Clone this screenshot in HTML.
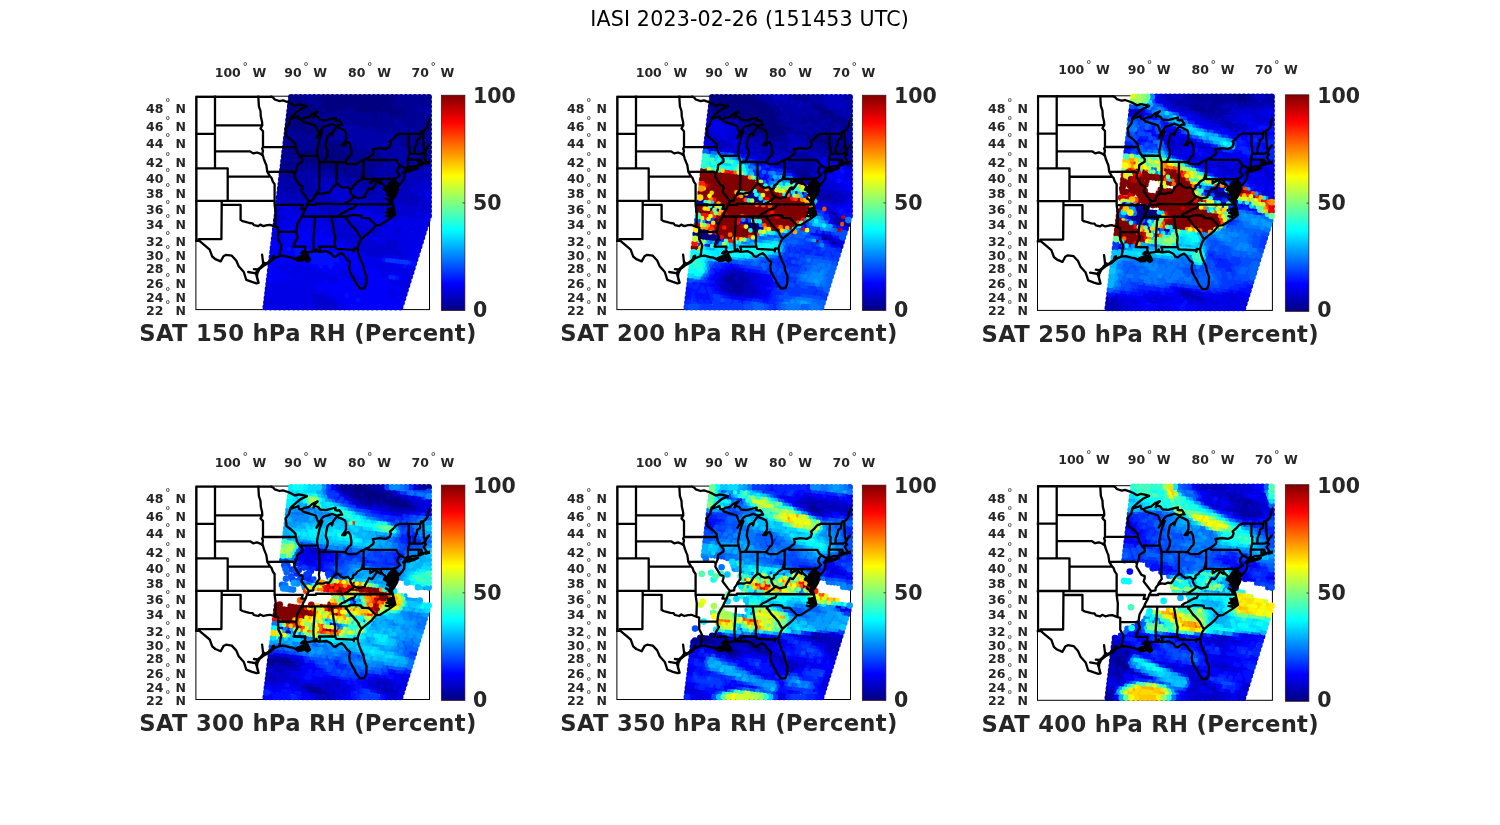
<!DOCTYPE html>
<html><head><meta charset="utf-8"><title>IASI 2023-02-26 (151453 UTC)</title>
<style>html,body{margin:0;padding:0;background:#fff}svg{display:block}text{font-family:"DejaVu Sans","Liberation Sans",sans-serif;fill:#262626}.b{font-weight:bold}.tk{font-size:12.5px;font-weight:bold}.dg{font-size:11px;font-weight:normal}.cb{font-size:20.5px;font-weight:bold}.tt{font-size:22.7px;font-weight:bold}</style></head>
<body>
<svg width="1500" height="825" viewBox="0 0 1500 825">
<defs>
<linearGradient id="jet" x1="0" y1="1" x2="0" y2="0"><stop offset="0.0000" stop-color="#000080"/><stop offset="0.0156" stop-color="#00008f"/><stop offset="0.0312" stop-color="#00009f"/><stop offset="0.0469" stop-color="#0000af"/><stop offset="0.0625" stop-color="#0000bf"/><stop offset="0.0781" stop-color="#0000cf"/><stop offset="0.0938" stop-color="#0000df"/><stop offset="0.1094" stop-color="#0000ef"/><stop offset="0.1250" stop-color="#0000ff"/><stop offset="0.1406" stop-color="#0010ff"/><stop offset="0.1562" stop-color="#0020ff"/><stop offset="0.1719" stop-color="#0030ff"/><stop offset="0.1875" stop-color="#0040ff"/><stop offset="0.2031" stop-color="#0050ff"/><stop offset="0.2188" stop-color="#0060ff"/><stop offset="0.2344" stop-color="#0070ff"/><stop offset="0.2500" stop-color="#0080ff"/><stop offset="0.2656" stop-color="#008fff"/><stop offset="0.2812" stop-color="#009fff"/><stop offset="0.2969" stop-color="#00afff"/><stop offset="0.3125" stop-color="#00bfff"/><stop offset="0.3281" stop-color="#00cfff"/><stop offset="0.3438" stop-color="#00dfff"/><stop offset="0.3594" stop-color="#00efff"/><stop offset="0.3750" stop-color="#00ffff"/><stop offset="0.3906" stop-color="#10ffef"/><stop offset="0.4062" stop-color="#20ffdf"/><stop offset="0.4219" stop-color="#30ffcf"/><stop offset="0.4375" stop-color="#40ffbf"/><stop offset="0.4531" stop-color="#50ffaf"/><stop offset="0.4688" stop-color="#60ff9f"/><stop offset="0.4844" stop-color="#70ff8f"/><stop offset="0.5000" stop-color="#80ff80"/><stop offset="0.5156" stop-color="#8fff70"/><stop offset="0.5312" stop-color="#9fff60"/><stop offset="0.5469" stop-color="#afff50"/><stop offset="0.5625" stop-color="#bfff40"/><stop offset="0.5781" stop-color="#cfff30"/><stop offset="0.5938" stop-color="#dfff20"/><stop offset="0.6094" stop-color="#efff10"/><stop offset="0.6250" stop-color="#ffff00"/><stop offset="0.6406" stop-color="#ffef00"/><stop offset="0.6562" stop-color="#ffdf00"/><stop offset="0.6719" stop-color="#ffcf00"/><stop offset="0.6875" stop-color="#ffbf00"/><stop offset="0.7031" stop-color="#ffaf00"/><stop offset="0.7188" stop-color="#ff9f00"/><stop offset="0.7344" stop-color="#ff8f00"/><stop offset="0.7500" stop-color="#ff8000"/><stop offset="0.7656" stop-color="#ff7000"/><stop offset="0.7812" stop-color="#ff6000"/><stop offset="0.7969" stop-color="#ff5000"/><stop offset="0.8125" stop-color="#ff4000"/><stop offset="0.8281" stop-color="#ff3000"/><stop offset="0.8438" stop-color="#ff2000"/><stop offset="0.8594" stop-color="#ff1000"/><stop offset="0.8750" stop-color="#ff0000"/><stop offset="0.8906" stop-color="#ef0000"/><stop offset="0.9062" stop-color="#df0000"/><stop offset="0.9219" stop-color="#cf0000"/><stop offset="0.9375" stop-color="#bf0000"/><stop offset="0.9531" stop-color="#af0000"/><stop offset="0.9688" stop-color="#9f0000"/><stop offset="0.9844" stop-color="#8f0000"/><stop offset="1.0000" stop-color="#800000"/></linearGradient>
<clipPath id="fc"><rect x="-0.8" y="-0.7" width="234.9" height="214.6"/></clipPath>
<g id="st"><path d="M18.6 -4.8 L18.6 71.6M-6.3 37.1 L18.6 37.1M18.6 28.6 L65.9 28.6M18.6 54.6 L53.7 54.6 L56.8 56.6 L60.6 55.7 L63.8 56.9 L66.6 59.0M-6.3 71.6 L31.3 71.6 L31.3 104.1M31.3 79.9 L73.8 79.9M-6.3 104.1 L78.2 104.1M25.3 104.1 L25.3 108.1 L25.0 142.4M25.3 108.1 L44.2 108.1 L44.2 123.1M24.9 142.4 L2.4 142.4 L3.0 144.1 L-7.6 144.1M44.2 123.1 L46.1 124.3 L49.2 125.1 L53.0 126.2 L56.2 126.5 L57.5 128.3 L61.9 129.3 L63.8 127.8 L66.9 129.3 L70.7 128.4 L73.9 128.1 L79.0 130.1M78.2 104.1 L78.2 108.1 L79.4 116.6 L79.0 130.1 L81.8 130.8 L81.8 134.8M81.8 134.8 L81.8 142.5 L83.3 145.4 L84.9 148.7 L84.0 152.8 L83.7 155.7 L83.0 159.4M81.8 134.8 L99.9 135.0M78.2 108.1 L106.4 108.1 L105.0 112.0 L109.2 112.0M78.2 104.1 L78.2 87.3 L76.4 84.8 L75.1 81.1 L73.8 79.9 L72.3 77.4 L70.9 75.1 L70.4 71.6 L69.9 68.2 L68.8 65.7 L67.2 61.5 L66.6 59.0M70.9 75.1 L96.4 74.9 L98.4 76.8M66.6 50.3 L99.6 50.3M66.6 59.0 L66.0 56.8 L66.6 53.7 L65.7 52.0 L66.6 50.3 L66.6 34.4 L64.1 31.7 L65.9 28.6M65.9 28.6 L65.7 25.3 L64.4 19.8 L64.1 14.2 L62.5 9.5 L62.2 4.8 L61.7 -4.8M74.8 -4.8 L74.8 0.0 L77.0 1.0 L78.3 2.7 L83.3 4.3 L86.5 3.6 L91.5 5.3 L94.7 6.7 L98.5 8.9 L102.3 7.6 L107.3 8.6 L110.5 9.5M110.5 9.5 L104.2 12.4 L99.1 16.6 L94.1 21.2M94.1 21.2 L95.3 21.8 L99.8 20.3 L102.0 19.3 L102.6 22.1 L104.8 22.8M104.8 22.8 L106.6 24.9 L113.0 26.9 L119.3 28.8 L121.2 33.9 L122.5 36.2M122.5 36.2 L120.0 41.1 L124.1 35.3 L126.0 34.5 L123.1 42.4 L121.9 47.7 L120.6 54.6 L121.2 59.0M94.1 21.2 L92.8 27.1 L89.3 31.7 L90.0 37.1 L90.0 39.3 L95.3 43.3 L99.1 47.2 L99.6 50.3 L100.4 54.6 L103.2 58.9M103.2 58.9 L121.2 59.0 L122.9 65.2M103.2 58.9 L106.1 62.3 L106.1 64.9 L100.7 68.2 L100.4 72.4 L98.4 76.8 L97.9 79.9 L102.9 88.1 L106.1 89.3 L106.1 91.3 L105.1 94.6 L110.5 101.7 L112.6 104.3M112.6 104.3 L110.5 108.1 L109.2 112.0 L106.7 116.6 L105.4 119.7 L103.5 122.8 L101.0 127.4 L100.4 131.2 L99.9 135.0 L100.4 138.7 L101.6 140.2 L98.5 145.4 L97.2 149.8 L109.0 149.8 L108.6 152.8 L109.9 155.9M122.9 65.2 L122.9 85.2 L122.5 88.1 L123.1 92.1 L120.0 96.2 L119.5 97.8M119.5 97.8 L117.1 100.9 L116.8 103.6 L112.6 104.3M119.5 97.8 L122.5 96.6 L126.3 97.0 L129.4 95.8 L132.6 96.2 L134.2 94.0 L136.4 90.3 L140.0 87.3M140.0 87.3 L140.2 65.7M122.9 65.2 L127.4 65.2 L140.2 65.2 L148.7 65.5M140.0 87.3 L142.1 87.3 L143.9 89.7 L147.4 91.1 L151.5 90.3 L154.0 92.8M154.0 92.8 L156.6 91.3 L156.6 88.9 L159.4 87.3 L160.7 85.2 L165.1 82.4 L166.7 76.6 L167.2 74.6M167.2 63.3 L167.2 82.2M148.7 65.5 L151.5 67.4 L153.4 67.4 L159.7 67.4 L164.2 64.4 L167.2 63.3 L172.0 60.9 L176.8 57.2 L177.4 55.5 L176.5 52.4 L183.1 51.4 L189.4 52.2 L193.2 50.3 L194.5 46.8 L193.5 45.0 L197.0 41.9 L200.1 38.4 L203.6 37.1 L224.1 37.0M224.1 37.0 L224.8 34.8 L226.8 34.4 L228.5 33.5 L231.1 30.3 L231.7 26.2 L233.6 21.6 L238.7 14.7M226.8 34.4 L227.1 41.5 L227.5 49.7 L228.5 53.7 L229.2 54.0M172.0 60.9 L172.0 63.2 L199.8 63.2 L201.7 66.6 L203.9 68.6M203.9 68.6 L201.4 72.0 L200.8 74.9 L203.6 78.3 L201.4 80.3 L199.5 81.6M203.9 68.6 L209.0 71.6 L208.2 74.1 L206.8 75.8 L208.3 76.2M167.2 82.2 L197.0 82.2 L198.2 81.3 L199.5 81.6M173.7 82.2 L173.7 86.5 L176.8 84.4 L180.6 83.0 L181.8 82.4 L184.2 83.2 L184.9 85.5M158.0 99.8 L162.3 101.7 L168.6 100.1 L168.6 98.6 L172.7 91.3 L175.5 92.5 L177.6 89.7 L180.9 84.8 L184.2 87.0 L184.9 85.5M184.9 85.5 L186.2 87.1 L189.2 89.7 L187.5 92.9 L189.4 93.7 L193.8 96.6M197.0 82.2 L197.0 92.5 L201.7 92.5M158.0 99.8 L155.9 98.6 L154.0 95.0 L154.0 92.8M147.2 107.3 L150.9 105.3 L153.4 103.7 L155.9 101.7 L158.0 99.8M110.5 108.1 L119.6 108.1 L119.6 106.9 L147.2 107.3 L159.9 107.3 L196.5 107.7M143.2 119.7 L143.3 118.2 L145.2 116.6 L148.4 115.3 L150.9 113.8 L154.0 112.0 L157.8 111.0 L159.9 107.3M105.4 119.7 L150.9 119.7M118.7 119.7 L117.0 143.2 L117.4 154.5M135.1 119.7 L137.8 135.9 L138.9 140.2 L138.3 145.4 L138.9 149.8M138.9 149.8 L122.5 149.8 L123.7 152.4 L123.1 155.0M138.9 149.8 L139.8 152.1 L156.6 153.0 L157.5 154.5 L157.8 151.7 L161.3 151.9M165.1 142.1 L162.9 138.7 L161.0 135.0 L157.8 131.2 L154.0 127.4 L150.9 122.8 L149.3 121.6 L150.9 119.7M150.9 119.7 L155.3 118.2 L163.8 118.6 L163.8 119.3 L164.8 119.0 L165.4 121.1 L172.5 121.3 L179.6 128.5M210.6 71.6 L210.1 70.8 L211.6 69.9 L211.5 62.7 L213.0 56.8 L213.1 49.8 L212.1 49.4 L212.4 37.1M218.1 56.9 L218.4 51.1 L220.3 46.8 L220.7 43.3 L223.5 41.5 L224.1 37.0M213.0 56.8 L225.4 57.0 L227.3 55.7 L228.5 55.7M211.5 62.7 L222.2 63.0 L224.9 63.0 L225.2 64.0 L226.0 65.7 L226.5 67.4M222.2 63.0 L222.2 68.9M127.4 65.2 L129.4 62.3 L131.0 58.9 L131.3 54.6 L129.4 49.4 L129.7 45.9 L131.0 39.7 L132.3 37.9 L135.1 36.2 L135.7 38.8 L136.7 34.8 L138.9 31.7 L140.5 30.0 L143.9 31.4 L148.7 33.9 L149.6 37.1 L149.6 42.8 L148.1 45.5 L145.8 48.5 L148.7 48.5 L149.6 46.3 L152.2 45.3 L154.0 48.5 L155.0 54.6 L154.7 58.1 L152.2 60.2 L150.6 62.7 L148.7 65.5M122.5 36.2 L126.3 30.8 L128.2 29.4 L130.7 29.0 L135.7 27.1 L140.5 29.2 L143.3 28.0 L145.8 28.0 L144.6 25.8 L143.0 23.5 L141.4 23.9 L138.9 23.5 L139.2 21.0 L135.7 21.8 L129.4 23.5 L123.7 23.0 L121.9 20.3 L118.7 19.3 L117.1 20.7 L118.1 17.9 L121.2 14.7 L116.2 17.0 L112.4 20.3 L108.0 21.2 L104.8 22.8M236.8 47.2 L233.6 48.5 L232.0 49.4 L230.1 52.0 L229.2 54.0 L228.5 55.7 L228.5 57.2 L229.8 57.6 L227.3 60.2 L229.2 63.2 L230.1 64.9 L231.7 65.5 L233.6 64.9 L233.9 66.0 L231.7 66.3 L229.5 67.0 L229.5 65.3 L226.7 67.4 L224.8 67.8 L224.8 64.9 L224.1 68.5 L221.9 68.9 L215.3 69.5 L210.6 71.6 L209.0 73.3 L208.3 74.9 L212.8 74.7 L218.4 72.9 L221.6 71.2 L217.2 71.9 L210.2 72.7M208.3 76.2 L207.7 82.0 L205.8 84.8 L202.7 88.5 L200.8 86.1 L198.6 84.0 L198.9 82.4 L199.5 81.6M198.6 84.0 L199.5 85.6 L201.4 89.7 L201.7 92.5 L200.5 95.9 L198.2 100.1 L196.0 103.2 L197.0 97.0 L194.5 93.3 L193.8 88.9 L195.1 84.8 L195.7 83.6 L193.2 86.5 L192.6 89.7 L193.2 93.7 L193.8 96.6 L193.8 99.8 L193.8 104.1 L195.7 104.9 L196.5 107.7 L198.9 117.8 L192.6 122.4 L183.7 128.1 L179.6 128.5 L175.5 133.4 L171.1 137.2 L167.3 140.2 L165.1 142.1 L163.5 144.7 L161.6 149.8 L161.3 151.9 L161.6 155.0 L162.6 158.6 L164.8 164.4 L167.0 168.4 L167.9 173.8 L170.1 179.4 L169.8 187.2 L167.9 191.4 L163.5 191.7 L159.7 186.5 L157.8 182.3 L155.9 179.4 L153.4 174.5 L152.8 170.2 L153.7 165.2 L150.9 163.0 L147.7 158.6 L145.2 156.4 L142.7 157.5 L138.9 160.1 L136.7 159.4 L134.5 156.4 L130.1 154.3 L123.7 155.0 L123.1 155.1 L120.6 154.3 L120.0 152.1 L119.3 154.6 L117.4 154.5 L110.5 155.7 L109.9 155.9 L111.1 157.9 L113.6 163.0 L111.1 164.8 L108.0 162.3 L106.1 163.7 L101.6 164.1 L99.1 162.3 L96.0 160.8 L92.8 160.4 L87.1 158.9 L83.0 159.4 L77.7 161.5 L73.9 165.2 L67.6 168.7 L63.1 172.3 L60.9 176.6 L60.6 180.1 L62.2 186.1 L60.0 186.5 L55.6 185.1 L49.9 183.0 L47.4 175.2 L42.3 169.5 L39.8 163.7 L35.4 158.9 L29.7 158.0 L27.1 159.4 L24.3 164.6 L18.9 162.3 L15.8 159.7 L13.3 152.8 L6.3 146.9 L3.0 144.1M0.0 0.0 L0.0 144.1M0.0 0.0 L74.8 0.0M61.9 185.8 L60.3 179.4 L59.3 176.6 L61.2 172.7 L64.4 170.2 L66.6 167.3 L66.6 165.2 L69.4 167.0 L72.6 164.8 L75.1 163.0 L76.4 159.4 L77.7 159.0 L77.7 161.5M66.6 165.2 L65.7 157.9M60.0 176.6 L51.8 175.2M61.2 172.7 L57.5 172.3M191.3 112.0 L194.5 111.6 L197.0 110.8 L197.3 115.1 L195.7 117.0 L192.6 116.2 L190.0 115.9M189.4 119.0 L192.6 119.7 L193.8 118.2M196.5 107.7 L197.3 115.1 L198.9 117.8M195.7 104.9 L193.8 106.5 L191.9 102.9 L189.4 101.7M193.8 99.8 L190.7 97.8M111.1 157.9 L108.6 160.1 L110.5 161.5 L108.0 162.3M104.8 156.4 L106.7 154.6 L108.6 155.7 L106.7 156.8 L104.8 156.4"/><path d="M188.8 92.1 L192.2 86.1 L195.7 83.6 L197.6 84.8 L199.5 88.1 L200.5 92.1 L199.2 96.6 L196.0 102.5 L194.1 103.7 L192.9 102.5 L193.5 99.4 L190.7 96.2 L189.7 93.7ZM99.8 160.8 L104.2 159.0 L108.0 157.5 L110.8 158.3 L113.6 163.0 L111.1 164.8 L108.0 162.3 L106.1 163.7 L101.6 164.1 L99.1 162.3ZM191.3 112.7 L196.4 110.4 L197.9 113.5 L198.6 117.4 L195.7 119.0 L191.9 117.4Z" fill="#000" stroke-width="1"/></g>
</defs>
<rect width="1500" height="825" fill="#fff"/>
<text x="749.5" y="26" text-anchor="middle" font-size="20.6" style="fill:#000" textLength="318.6" lengthAdjust="spacing">IASI 2023-02-26 (151453 UTC)</text>
<g transform="translate(195.9,96.2)">
<rect x="0" y="0" width="233.6" height="213.4" fill="#fff" stroke="#000" stroke-width="1"/>
<g fill="none" stroke-linecap="round" stroke-width="4.7"><path stroke="#000080" d="M173.4 2.5h0M176.8 3h0M179.9 3.3h0M183.4 3.6h0M186.7 4.1h0M189.8 4.4h0M193.1 4.8h0M196.5 5.1h0M145.1 2.7h0M148.5 3.1h0M151.7 3.4h0M155 3.8h0M158.3 4.2h0M161.6 4.5h0M164.9 4.9h0M168.2 5.4h0M171.4 5.7h0M174.7 6h0M178.1 6.3h0M181.3 6.7h0M184.6 7.1h0M187.8 7.6h0M191.1 7.9h0M194.4 8.2h0M126.7 3.9h0M130.2 4.3h0M133.5 4.7h0M136.8 5h0M140 5.5h0M143.3 5.7h0M146.6 6.1h0M149.7 6.6h0M153.1 6.9h0M156.4 7.3h0M159.6 7.7h0M163 8h0M166.1 8.3h0M169.4 8.8h0M172.8 9h0M176 9.5h0M179.4 9.8h0M182.6 10.3h0M185.8 10.6h0M189.1 11h0M192.4 11.4h0M195.7 11.8h0M202.3 12.4h0"/><path stroke="#000094" d="M205 2.8h0M208.2 3.3h0M211.5 3.6h0M214.8 3.9h0M218.1 4.3h0M221.3 4.7h0M224.8 5h0M228 5.4h0M231.3 5.7h0M199.7 5.6h0M202.9 6h0M206.2 6.2h0M209.5 6.6h0M212.9 7h0M216.2 7.4h0M219.3 7.7h0M222.6 8.1h0M225.9 8.4h0M229.3 8.9h0M197.7 8.7h0M200.9 9h0M204.2 9.3h0M207.6 9.8h0M210.9 10h0M214.1 10.6h0M217.4 10.9h0M220.7 11.3h0M227.1 12h0M117 2.8h0M120.3 3.2h0M123.5 3.5h0M198.9 12.2h0M205.5 12.9h0M208.8 13.2h0M212 13.5h0M215.3 14h0M218.7 14.3h0M222 14.8h0"/><path stroke="#0000a8" d="M223.9 11.6h0M230.5 12.4h0M225.3 15h0M228.6 15.4h0"/><path stroke="#000080" d="M98.5 3.9h0M101.8 4.4h0M105.1 4.8h0M108.3 5.1h0M128.2 7.4h0M131.4 7.8h0M134.6 8h0M138 8.4h0M141.2 8.9h0M144.6 9.3h0M147.7 9.7h0M151 10h0M154.4 10.3h0M157.6 10.8h0M160.8 11.1h0M164.2 11.4h0M167.4 11.8h0M170.7 12.2h0M174 12.5h0M177.2 12.9h0M180.6 13.4h0M183.8 13.7h0M187.2 14.1h0M190.4 14.4h0M193.6 14.8h0M197 15.3h0M200.2 15.5h0M203.4 15.9h0M206.7 16.3h0M96.5 7.1h0M99.9 7.5h0M103.2 7.8h0M106.4 8.1h0M109.8 8.5h0M113 9h0M116.2 9.4h0M122.7 10h0M126 10.5h0M129.3 10.9h0M132.7 11.3h0M135.8 11.6h0M139.2 11.9h0M142.4 12.3h0M145.8 12.6h0M149.1 13h0M158.9 14.1h0M162.1 14.6h0M165.4 14.8h0M168.8 15.2h0M172 15.6h0M175.3 16.1h0M178.5 16.4h0M185.1 17.1h0M195 18.2h0M198.2 18.7h0M201.4 19h0M208.1 19.8h0M97.7 10.5h0M101.2 10.9h0M104.3 11.2h0M107.7 11.7h0M110.9 12h0M114.3 12.4h0M117.6 12.9h0M120.8 13.2h0M124.2 13.4h0M130.6 14.2h0M134 14.6h0M137.1 15.1h0M140.4 15.4h0M179.8 20h0M95.9 13.7h0M99.2 13.9h0M102.3 14.5h0M105.6 14.7h0M108.9 15.2h0M112.3 15.5h0M115.5 15.8h0M118.9 16.2h0M122 16.6h0M125.3 16.9h0M128.6 17.3h0M97 17.1h0M100.4 17.5h0M103.6 17.8h0M106.8 18.1h0M110.2 18.6h0M113.4 19h0M116.7 19.4h0M120.1 19.7h0M179.1 26.5h0M228.2 32.1h0M95.1 20.3h0M98.3 20.5h0M101.7 20.8h0M105 21.4h0M108.2 21.7h0M111.5 22.1h0M114.8 22.5h0M118.1 22.9h0M229.6 35.5h0M96.2 23.6h0M99.6 24h0M102.8 24.4h0M106.2 24.8h0M109.5 25.2h0M112.8 25.5h0M115.9 25.9h0M119.2 26.3h0M122.5 26.6h0M94.3 26.7h0M97.6 27.1h0M100.9 27.6h0M104.1 27.8h0M107.5 28.3h0M110.7 28.6h0M114.1 29h0M117.4 29.3h0M123.7 30.1h0"/><path stroke="#000094" d="M111.6 5.4h0M114.9 5.9h0M118.3 6.1h0M121.5 6.7h0M124.9 7h0M210 16.7h0M213.3 17h0M216.6 17.4h0M220 17.8h0M223.1 18.2h0M226.5 18.6h0M229.7 19h0M119.5 9.8h0M152.2 13.5h0M155.6 13.9h0M181.8 16.8h0M188.4 17.5h0M191.7 18h0M204.7 19.4h0M211.4 20.2h0M214.6 20.5h0M217.9 20.9h0M221.2 21.2h0M224.5 21.6h0M227.8 22h0M231 22.4h0M127.4 13.9h0M143.7 15.8h0M147 16.1h0M150.3 16.5h0M153.6 16.9h0M156.9 17.2h0M160 17.7h0M163.5 18h0M166.7 18.4h0M170 18.8h0M173.2 19.2h0M176.4 19.5h0M183.1 20.3h0M186.3 20.6h0M189.6 20.9h0M193 21.3h0M196.2 21.8h0M199.4 22.2h0M202.8 22.5h0M206 22.8h0M209.2 23.2h0M212.6 23.7h0M215.9 24h0M219.1 24.3h0M222.5 24.7h0M225.7 25.2h0M229.1 25.4h0M131.9 17.8h0M135.1 18.1h0M138.4 18.4h0M141.6 18.9h0M145.1 19.3h0M148.2 19.6h0M151.6 20h0M154.9 20.3h0M158.2 20.8h0M161.5 21.1h0M164.6 21.5h0M168 21.8h0M171.3 22.2h0M174.6 22.6h0M177.8 23h0M181.1 23.3h0M184.4 23.8h0M187.6 24.2h0M190.9 24.4h0M194.2 24.9h0M197.5 25.2h0M204.1 25.9h0M207.2 26.3h0M210.5 26.7h0M213.9 27h0M217.1 27.4h0M220.4 27.9h0M223.8 28.2h0M227 28.6h0M230.2 29h0M123.2 20.1h0M126.5 20.4h0M129.9 20.7h0M133.2 21.2h0M136.5 21.5h0M139.7 22h0M143.1 22.3h0M146.2 22.8h0M149.5 23.2h0M152.9 23.4h0M156.1 23.8h0M159.4 24.3h0M162.7 24.6h0M166 25h0M169.2 25.3h0M172.4 25.7h0M175.9 26h0M182.4 26.9h0M185.5 27.2h0M189 27.5h0M192.2 27.9h0M195.4 28.2h0M198.8 28.8h0M211.8 30.2h0M215.2 30.6h0M218.4 30.9h0M221.8 31.3h0M224.9 31.7h0M121.3 23.2h0M124.7 23.5h0M127.8 23.9h0M131.1 24.4h0M134.5 24.6h0M137.6 25h0M140.9 25.4h0M144.2 25.7h0M147.5 26.2h0M150.8 26.5h0M154.1 27h0M157.4 27.3h0M160.6 27.8h0M164 28h0M167.2 28.4h0M170.6 28.7h0M173.7 29.3h0M177 29.4h0M180.3 29.9h0M183.7 30.3h0M186.9 30.6h0M190.2 30.9h0M193.5 31.5h0M196.7 31.7h0M200 32.2h0M203.3 32.6h0M213.1 33.6h0M219.7 34.5h0M223 34.7h0M226.3 35.2h0M125.9 27h0M129.2 27.5h0M132.4 27.8h0M135.6 28.2h0M165.1 31.4h0M168.4 31.9h0M171.7 32.2h0M178.3 33.1h0M181.7 33.3h0M185 33.7h0M188.1 34.1h0M191.5 34.5h0M198 35.3h0M201.2 35.6h0M204.5 35.9h0M207.8 36.3h0M211.1 36.7h0M214.3 37.1h0M217.8 37.5h0M221 37.9h0M224.2 38.2h0M227.5 38.6h0M230.8 38.9h0M120.6 29.7h0M127 30.5h0M130.5 30.8h0M133.6 31.1h0M137 31.6h0M140.2 31.9h0M143.5 32.3h0M199.3 38.6h0M205.8 39.4h0M209.2 39.9h0M212.3 40.3h0M215.7 40.6h0M218.9 41h0M222.1 41.3h0M225.6 41.8h0M228.7 42h0"/><path stroke="#0000a8" d="M200.6 25.6h0M202.1 29h0M205.3 29.4h0M208.6 29.8h0M206.6 32.9h0M209.8 33.3h0M216.4 34.1h0M138.9 28.5h0M142.2 28.9h0M145.5 29.4h0M148.7 29.6h0M152.1 29.9h0M155.4 30.4h0M158.7 30.7h0M162 31.2h0M175.1 32.6h0M194.8 34.9h0M146.8 32.7h0M150.1 33.2h0M153.3 33.5h0M156.7 33.9h0M159.9 34.1h0M163.1 34.7h0M166.6 35h0M169.8 35.4h0M172.9 35.8h0M176.3 36.2h0M179.6 36.4h0M182.8 36.9h0M186.1 37.3h0M189.4 37.7h0M192.7 38h0M196 38.4h0M202.6 39.1h0"/><path stroke="#000080" d="M95.5 30.3h0M98.9 30.6h0M102.1 31h0M105.5 31.4h0M108.7 31.7h0M112 32h0M115.4 32.5h0M118.6 32.8h0M100.2 34h0M106.7 34.7h0M110 35.1h0M113.3 35.6h0M116.5 35.9h0M122.4 43.2h0M123.5 46.7h0M126.9 47.1h0M130.3 47.5h0M133.5 47.8h0M136.8 48.3h0M139.9 48.6h0M143.3 48.9h0M124.9 50.2h0M128.2 50.6h0M131.5 50.9h0M134.6 51.3h0M138 51.7h0M141.3 52.1h0M144.6 52.4h0M116.4 52.6h0M119.5 52.9h0M122.9 53.3h0M126.1 53.5h0M129.4 54h0M132.7 54.3h0M136 54.7h0M139.2 55.1h0M142.6 55.6h0M145.8 55.9h0M149.1 56.2h0M97.9 53.7h0M101.1 54h0M107.8 54.8h0M111.1 55.1h0M114.2 55.6h0M117.6 55.9h0M120.8 56.4h0M124.1 56.8h0M127.4 57.1h0M130.6 57.5h0M134 57.8h0M137.2 58.3h0M140.4 58.7h0M143.9 58.9h0M147.1 59.4h0M150.5 59.7h0"/><path stroke="#000094" d="M121.9 33.3h0M125.2 33.5h0M128.4 33.9h0M131.6 34.4h0M135 34.7h0M138.2 35h0M141.5 35.4h0M200.5 42.2h0M203.7 42.5h0M207.1 42.9h0M210.4 43.2h0M213.6 43.6h0M217 44.1h0M220.2 44.5h0M223.5 44.8h0M226.8 45.1h0M230.1 45.5h0M93.5 33.4h0M96.8 33.7h0M103.5 34.4h0M119.8 36.3h0M123.1 36.7h0M126.3 37.1h0M129.7 37.5h0M132.9 37.9h0M136.1 38.2h0M142.7 38.9h0M146.1 39.4h0M205.1 46h0M208.3 46.4h0M211.6 46.8h0M214.9 47.2h0M218.1 47.6h0M221.5 48h0M224.7 48.3h0M228 48.7h0M231.3 49.1h0M94.9 36.8h0M98.1 37.2h0M101.5 37.5h0M104.7 37.9h0M107.9 38.4h0M111.2 38.6h0M114.5 38.9h0M117.8 39.3h0M121.1 39.8h0M124.4 40.2h0M127.5 40.5h0M130.9 40.9h0M134.1 41.3h0M137.5 41.6h0M206.3 49.5h0M209.7 49.9h0M212.9 50.2h0M216.3 50.6h0M219.4 50.9h0M222.8 51.4h0M226 51.8h0M229.3 52h0M96.1 40.1h0M102.6 41.1h0M106 41.3h0M109.2 41.7h0M112.5 42h0M115.9 42.4h0M119 42.8h0M125.6 43.6h0M128.9 44h0M132.1 44.4h0M135.5 44.8h0M138.8 45h0M142.1 45.4h0M145.3 45.8h0M148.6 46.3h0M187.9 50.7h0M191.2 51.1h0M211 53.4h0M214.2 53.7h0M217.5 54.1h0M220.7 54.5h0M224 54.9h0M227.2 55.1h0M230.6 55.5h0M94.1 43.2h0M97.3 43.7h0M100.6 44h0M104 44.5h0M107.1 44.8h0M110.5 45.3h0M113.9 45.6h0M117 45.9h0M120.3 46.4h0M146.6 49.3h0M149.9 49.6h0M153.1 50h0M156.4 50.4h0M159.6 50.8h0M166.2 51.5h0M179.4 53h0M215.3 57.2h0M218.7 57.4h0M222.1 58h0M225.2 58.3h0M228.6 58.7h0M92.1 46.4h0M95.5 46.7h0M98.7 47.2h0M101.8 47.4h0M105.1 47.8h0M108.4 48.3h0M111.7 48.7h0M115.1 49h0M118.3 49.3h0M121.6 49.8h0M147.8 52.7h0M151 53.1h0M154.4 53.4h0M157.7 53.9h0M160.9 54.3h0M164.2 54.7h0M167.6 55h0M170.9 55.4h0M174.1 55.9h0M177.4 56.2h0M180.7 56.6h0M183.9 56.9h0M193.7 58h0M210.1 59.8h0M223.2 61.4h0M226.6 61.7h0M229.8 62.2h0M93.4 49.8h0M96.7 50.3h0M100 50.5h0M103.2 51h0M106.5 51.3h0M109.8 51.8h0M113 52.2h0M152.5 56.6h0M155.6 57h0M158.9 57.4h0M162.3 57.7h0M165.5 58.2h0M168.8 58.5h0M172 58.8h0M175.3 59.2h0M178.7 59.5h0M181.8 60h0M185.2 60.4h0M227.8 65.2h0M231.1 65.6h0M91.3 53.1h0M94.5 53.3h0M104.4 54.5h0M153.6 60h0M156.8 60.5h0M160.3 60.9h0M163.6 61.2h0M166.8 61.5h0M169.9 62h0M173.3 62.3h0M176.7 62.7h0M179.8 63.1h0M183.1 63.5h0M186.4 63.7h0"/><path stroke="#0000a8" d="M144.8 35.8h0M148.1 36.1h0M151.3 36.6h0M154.5 36.9h0M158 37.2h0M161.2 37.8h0M164.4 38h0M167.7 38.5h0M171 38.8h0M174.3 39.2h0M177.5 39.5h0M180.8 39.9h0M184.2 40.2h0M187.4 40.6h0M190.7 41.1h0M193.9 41.4h0M197.3 41.7h0M139.4 38.6h0M149.3 39.7h0M152.7 40h0M155.8 40.4h0M159.1 40.8h0M162.4 41.2h0M165.7 41.6h0M169 41.9h0M172.2 42.2h0M175.5 42.6h0M178.9 43h0M182.1 43.4h0M185.3 43.8h0M188.7 44.2h0M191.9 44.6h0M195.1 44.9h0M198.5 45.2h0M201.8 45.7h0M140.7 41.9h0M144.1 42.4h0M147.4 42.8h0M150.6 43.1h0M153.9 43.4h0M157.2 43.9h0M160.5 44.3h0M163.7 44.6h0M167.1 45h0M170.3 45.3h0M173.5 45.7h0M176.8 46.2h0M180.1 46.4h0M183.4 46.9h0M186.6 47.2h0M189.9 47.6h0M193.2 48h0M196.5 48.3h0M199.7 48.7h0M203 49.1h0M92.9 39.8h0M99.5 40.7h0M151.9 46.6h0M155.1 47.1h0M158.4 47.4h0M161.7 47.7h0M165 48h0M168.2 48.4h0M171.5 48.9h0M174.8 49.2h0M178.1 49.5h0M181.4 49.9h0M184.7 50.4h0M194.6 51.4h0M197.9 51.7h0M201 52.2h0M204.4 52.6h0M207.7 52.9h0M163 51.2h0M169.6 51.9h0M172.8 52.3h0M176.1 52.6h0M182.6 53.4h0M185.9 53.7h0M189.2 54.1h0M192.6 54.6h0M195.6 54.8h0M199 55.2h0M202.3 55.6h0M205.6 56h0M208.9 56.5h0M212.1 56.8h0M187.1 57.4h0M190.4 57.6h0M197 58.3h0M200.3 58.8h0M203.5 59.1h0M206.9 59.6h0M213.5 60.2h0M216.6 60.6h0M220 61.1h0M188.4 60.8h0M191.8 61h0M195.1 61.4h0M198.2 61.8h0M201.5 62.2h0M204.8 62.6h0M208.1 63h0M211.4 63.2h0M214.6 63.7h0M217.9 64h0M221.2 64.5h0M224.6 64.9h0M189.8 64.2h0M193 64.5h0M196.3 65h0M199.6 65.3h0M202.9 65.8h0M206 66.1h0M209.4 66.5h0M212.7 66.8h0M215.8 67.1h0M219.2 67.6h0M222.4 68h0M225.8 68.4h0M229 68.6h0"/><path stroke="#000080" d="M95.8 56.8h0M99.2 57.3h0M102.4 57.5h0M105.8 57.9h0M109.1 58.3h0M112.2 58.7h0M115.5 59h0M118.9 59.5h0M122.2 59.8h0M125.4 60.1h0M128.7 60.5h0M132 60.9h0M135.2 61.3h0M138.5 61.6h0M141.8 62.1h0M145 62.3h0M148.3 62.9h0M154.9 63.5h0M100.3 60.6h0M103.7 61.1h0M106.9 61.3h0M110.2 61.8h0M113.5 62.2h0M116.8 62.5h0M120.1 62.8h0M123.4 63.3h0M126.6 63.7h0M129.9 64h0M133.2 64.3h0M136.4 64.7h0M139.7 65.2h0M143.1 65.6h0M146.3 65.8h0M149.6 66.2h0M152.9 66.5h0M104.9 64.5h0M111.6 65.2h0M114.8 65.5h0M118.1 66.1h0M121.3 66.3h0M124.6 66.8h0M128 67.1h0M131.1 67.4h0M134.4 67.9h0M137.7 68.3h0M141 68.6h0M144.4 69h0M147.5 69.3h0M150.9 69.7h0M89.9 66.1h0M93.1 66.4h0M96.5 66.9h0M122.6 69.8h0M125.9 70.2h0M129.2 70.6h0M132.4 71h0M135.8 71.3h0M139 71.6h0M142.3 72h0M145.7 72.4h0M148.8 72.7h0M152.2 73.3h0M91 69.5h0"/><path stroke="#000094" d="M92.6 56.3h0M151.7 63.2h0M158.3 64h0M161.4 64.2h0M164.8 64.6h0M168 65.1h0M171.4 65.4h0M174.6 65.7h0M177.9 66.1h0M181 66.5h0M184.4 66.9h0M187.7 67.4h0M90.7 59.5h0M93.9 60h0M97.2 60.2h0M156.1 67h0M159.5 67.3h0M162.8 67.7h0M166 68.2h0M169.2 68.6h0M172.6 68.9h0M175.9 69.2h0M179.2 69.7h0M182.5 70h0M185.7 70.3h0M88.6 62.6h0M91.8 62.9h0M95.1 63.5h0M98.4 63.8h0M101.7 64.1h0M108.2 65h0M154.2 70.1h0M157.5 70.6h0M160.8 70.9h0M163.9 71.2h0M167.3 71.6h0M170.6 71.9h0M173.8 72.3h0M177 72.7h0M99.6 67.3h0M103.1 67.6h0M106.2 68h0M109.5 68.4h0M112.7 68.7h0M116.1 69.2h0M119.4 69.5h0M155.5 73.6h0M158.7 73.9h0M162 74.3h0M165.2 74.7h0M168.6 75h0M171.8 75.5h0M175.1 75.9h0M178.4 76.1h0M94.4 70h0M97.6 70.4h0M101 70.6h0M104.2 71.1h0M107.5 71.4h0M110.8 71.7h0M114 72.1h0M117.3 72.5h0M120.7 72.9h0M123.8 73.3h0M127.1 73.6h0M130.4 74h0M133.7 74.4h0M137.1 74.7h0M140.4 75.2h0M143.6 75.5h0M146.9 76h0M150.2 76.3h0M153.3 76.7h0M156.8 77h0M160 77.5h0M163.2 77.8h0M166.6 78.2h0M169.8 78.5h0M173 78.8h0M176.4 79.2h0M89.1 72.6h0M92.4 73h0M95.7 73.5h0M99 73.7h0M102.2 74.2h0M105.4 74.5h0M108.7 74.9h0M138.3 78.2h0M144.9 79.1h0M148.2 79.4h0M151.3 79.7h0M154.7 80.1h0M158 80.5h0M161.3 80.9h0M164.4 81.2h0M167.9 81.7h0M171.2 82.1h0M174.4 82.4h0M90.3 76h0M93.5 76.5h0M97 76.9h0M100.2 77.2h0M88.4 79.2h0M91.7 79.7h0M94.9 80h0M98.2 80.4h0M101.5 80.7h0M104.7 81.1h0"/><path stroke="#0000a8" d="M191 67.6h0M194.3 68h0M197.5 68.3h0M200.9 68.7h0M204 69.1h0M207.3 69.6h0M210.7 69.8h0M214 70.3h0M223.7 71.3h0M227.1 71.8h0M188.9 70.8h0M192.3 71.1h0M195.5 71.6h0M198.8 71.9h0M202 72.3h0M205.3 72.6h0M208.6 72.9h0M211.9 73.5h0M180.3 73.1h0M183.8 73.4h0M187 73.8h0M190.1 74.3h0M193.6 74.5h0M196.8 75h0M200 75.4h0M181.6 76.5h0M185 77h0M188.2 77.2h0M191.5 77.7h0M194.8 78.1h0M198.1 78.4h0M201.4 78.7h0M179.5 79.7h0M182.8 80h0M186.3 80.4h0M189.5 80.8h0M192.8 81.1h0M196.1 81.5h0M199.3 82h0M202.7 82.3h0M112 75.2h0M115.3 75.6h0M118.6 76h0M121.9 76.4h0M125.2 76.8h0M128.5 77h0M131.7 77.6h0M134.9 77.8h0M141.6 78.6h0M177.7 82.8h0M180.9 83.1h0M184.2 83.4h0M187.5 83.8h0M190.8 84.3h0M194.1 84.6h0M197.4 85h0M103.5 77.6h0M106.7 77.9h0M109.9 78.5h0M113.2 78.7h0M116.6 79.1h0M119.9 79.4h0M123.2 79.8h0M126.5 80.2h0M129.7 80.6h0M133.1 80.9h0M136.3 81.3h0M139.6 81.7h0M142.8 82.2h0M146.1 82.4h0M149.5 82.9h0M152.8 83.3h0M156 83.6h0M159.2 84h0M162.5 84.3h0M165.8 84.8h0M169.1 85.1h0M172.4 85.5h0M175.5 85.9h0M179 86.2h0M182.1 86.5h0M185.4 87h0M188.6 87.3h0M108 81.5h0M111.4 81.9h0M114.6 82.2h0M117.8 82.5h0M144.1 85.6h0M150.6 86.3h0M153.9 86.8h0M157.2 87.1h0M160.5 87.4h0M163.8 87.8h0M167 88.2h0M170.3 88.5h0M173.6 88.9h0M176.8 89.3h0M180.1 89.7h0M183.4 90.1h0"/><path stroke="#0000bd" d="M217.1 70.6h0M220.5 71.1h0M230.3 72.1h0M215.2 73.7h0M218.5 74.1h0M221.8 74.5h0M224.9 74.8h0M228.4 75.3h0M203.3 75.7h0M206.5 76h0M210 76.4h0M213.2 76.8h0M216.4 77.3h0M219.8 77.5h0M222.9 77.9h0M226.3 78.4h0M229.5 78.7h0M204.5 79.2h0M207.9 79.5h0M211.2 79.9h0M214.5 80.3h0M217.7 80.6h0M221 81.1h0M224.2 81.4h0M227.6 81.8h0M230.8 82.1h0M205.9 82.6h0M209.1 83.1h0M212.4 83.5h0M215.7 83.7h0M219 84.1h0M222.2 84.4h0M200.5 85.5h0M203.8 85.7h0M207.1 86.1h0M210.4 86.6h0M213.7 86.8h0M217 87.2h0M220.2 87.5h0M223.4 87.9h0M192 87.6h0M195.3 88.1h0M198.5 88.4h0M201.9 88.7h0M205.1 89.3h0M208.3 89.6h0M211.6 90h0M214.9 90.3h0M121.1 82.9h0M124.5 83.3h0M127.7 83.7h0M131 84.1h0M134.2 84.4h0M137.5 84.7h0M140.9 85.1h0M147.4 86h0M186.7 90.5h0M190 90.7h0M193.3 91.1h0M196.5 91.6h0M199.8 91.8h0M203.1 92.3h0M206.4 92.7h0M209.6 93h0M212.9 93.4h0"/><path stroke="#0000d1" d="M225.5 84.9h0M228.9 85.3h0M226.7 88.3h0M230.1 88.8h0M218.3 90.8h0M221.5 91.1h0M224.8 91.5h0M228 91.9h0M231.4 92.2h0M216.1 93.8h0M219.4 94.3h0M222.8 94.5h0M226 94.8h0M229.4 95.3h0"/><path stroke="#000094" d="M99.5 83.7h0M100.7 87.3h0M103.9 87.7h0"/><path stroke="#0000a8" d="M89.6 82.6h0M92.8 83h0M96.2 83.4h0M102.6 84.2h0M106 84.5h0M109.3 84.9h0M112.6 85.3h0M115.9 85.7h0M161.7 90.9h0M165 91.4h0M168.4 91.7h0M171.5 92h0M174.9 92.4h0M178.2 92.7h0M87.5 85.7h0M90.9 86.2h0M94.2 86.5h0M97.5 86.8h0M107.4 88h0M110.6 88.4h0M113.9 88.7h0M117.1 89.2h0M163 94.4h0M169.6 95.1h0M172.8 95.6h0M176.1 96h0M179.3 96.2h0M182.6 96.6h0M85.7 88.9h0M88.8 89.2h0M92.1 89.5h0M95.4 89.9h0M98.8 90.3h0M102 90.7h0M105.2 91.1h0M108.5 91.4h0M111.8 91.8h0M115.2 92.2h0M118.5 92.6h0M167.6 98.1h0M174.2 98.9h0M86.8 92.3h0M90.2 92.7h0M93.4 93.1h0M96.7 93.5h0M100 93.8h0M103.3 94.2h0M106.5 94.6h0M109.7 95h0M113.1 95.3h0M116.4 95.6h0M84.8 95.5h0M91.3 96.1h0M94.7 96.5h0M98 96.9h0M107.8 98.1h0M111.1 98.4h0M114.3 98.7h0M117.6 99.2h0M121 99.6h0M102.5 100.8h0M118.8 102.5h0M122.2 103.1h0M123.5 106.5h0M129.9 107.2h0"/><path stroke="#0000bd" d="M119.1 86.1h0M122.4 86.3h0M125.7 86.8h0M129 87.1h0M132.3 87.5h0M135.6 88h0M142 88.7h0M145.3 89.1h0M148.6 89.4h0M152 89.8h0M155.2 90.1h0M158.5 90.6h0M181.5 93.1h0M184.7 93.6h0M188.1 94h0M191.2 94.3h0M194.5 94.7h0M197.8 95.1h0M201.1 95.4h0M204.4 95.7h0M207.7 96.1h0M211 96.5h0M214.3 96.9h0M217.5 97.2h0M120.4 89.6h0M123.7 89.8h0M127 90.2h0M153.2 93.1h0M156.4 93.6h0M159.8 93.9h0M166.2 94.8h0M186 96.9h0M189.2 97.4h0M192.6 97.7h0M195.8 98h0M199.1 98.4h0M202.4 98.7h0M205.6 99.2h0M209 99.6h0M212.3 100h0M215.6 100.3h0M218.8 100.6h0M222.1 101.1h0M121.7 93h0M124.9 93.4h0M128.2 93.8h0M154.4 96.8h0M157.6 97h0M161 97.5h0M164.3 97.7h0M170.8 98.6h0M177.4 99.3h0M180.6 99.7h0M183.9 100.2h0M187.3 100.4h0M190.5 100.9h0M193.7 101.1h0M197.1 101.5h0M200.3 101.9h0M203.5 102.4h0M207 102.7h0M210.3 103h0M213.4 103.4h0M216.8 103.8h0M219.9 104.1h0M223.4 104.5h0M119.6 96h0M122.9 96.5h0M126.3 96.9h0M129.4 97.2h0M132.8 97.7h0M162.2 100.9h0M165.5 101.2h0M168.8 101.7h0M172.1 102.1h0M175.5 102.4h0M178.7 102.8h0M182 103.2h0M185.3 103.5h0M188.5 103.8h0M191.8 104.2h0M195.1 104.6h0M198.4 105h0M201.6 105.4h0M204.9 105.7h0M208.2 106.1h0M211.4 106.5h0M214.8 106.8h0M218.1 107.2h0M221.3 107.7h0M227.9 108.3h0M88 95.8h0M101.3 97.3h0M104.6 97.6h0M124.2 99.8h0M127.5 100.2h0M130.7 100.6h0M134 101.1h0M170.1 105h0M173.4 105.5h0M176.7 105.8h0M180 106.2h0M183.2 106.6h0M186.6 106.9h0M189.8 107.4h0M193 107.7h0M196.4 108.1h0M199.5 108.5h0M203 108.9h0M212.8 109.9h0M86.1 98.8h0M89.4 99.3h0M92.6 99.7h0M96 100h0M99.3 100.3h0M105.8 101.1h0M109.1 101.5h0M112.4 101.9h0M115.5 102.2h0M125.4 103.4h0M128.8 103.6h0M132.1 104.1h0M135.3 104.4h0M138.5 104.8h0M184.5 110.2h0M187.8 110.5h0M191 110.8h0M194.3 111.2h0M197.5 111.5h0M87.4 102.4h0M90.6 102.8h0M93.9 103.2h0M97.2 103.4h0M100.6 103.9h0M103.7 104.2h0M107 104.6h0M110.3 104.9h0M113.5 105.4h0M116.9 105.8h0M120.2 106h0M126.6 106.9h0M133.2 107.7h0M136.6 107.9h0M139.9 108.4h0M143.1 108.7h0M195.5 114.6h0M198.8 115.1h0M85.4 105.4h0M88.6 105.9h0M91.9 106.3h0M95.2 106.6h0M98.5 107h0M101.7 107.4h0M105.1 107.6h0M108.4 108h0M111.7 108.4h0M114.9 108.8h0M118.2 109.2h0M121.5 109.6h0M124.8 109.9h0M128 110.2h0M131.2 110.8h0M134.5 111h0M137.7 111.5h0M141.2 111.7h0M144.4 112.1h0"/><path stroke="#0000d1" d="M138.9 88.3h0M220.7 97.7h0M224.1 98.1h0M227.2 98.3h0M130.2 90.7h0M133.4 91.1h0M136.7 91.3h0M140 91.7h0M143.2 92h0M146.7 92.4h0M149.9 92.9h0M225.3 101.6h0M228.7 101.7h0M131.6 94h0M134.8 94.5h0M138.1 94.8h0M141.4 95.3h0M144.6 95.6h0M147.9 96h0M151.2 96.3h0M226.5 104.8h0M230 105.3h0M136 97.9h0M139.4 98.3h0M142.7 98.6h0M145.8 99h0M149.1 99.3h0M152.5 99.7h0M155.6 100.1h0M159 100.5h0M224.6 108.1h0M231.2 108.7h0M137.3 101.4h0M140.6 101.7h0M143.9 102.1h0M147.2 102.4h0M150.4 103h0M153.6 103.3h0M156.9 103.7h0M160.2 104h0M163.5 104.5h0M166.8 104.8h0M206.2 109.2h0M209.5 109.6h0M216 110.3h0M219.2 110.8h0M222.6 111.2h0M225.8 111.6h0M229.2 111.8h0M141.9 105.3h0M145.1 105.6h0M148.4 106h0M151.6 106.4h0M155 106.6h0M158.3 107h0M161.4 107.4h0M164.9 107.9h0M168.1 108.2h0M171.4 108.7h0M174.7 108.9h0M178 109.3h0M181.3 109.6h0M200.9 111.9h0M204.1 112.3h0M207.4 112.6h0M210.7 113.1h0M214 113.5h0M217.2 113.8h0M220.4 114.1h0M223.8 114.5h0M227.2 115h0M230.4 115.3h0M146.4 109.2h0M149.7 109.3h0M153 109.8h0M156.3 110.3h0M159.5 110.5h0M162.7 110.8h0M166.1 111.3h0M169.3 111.7h0M172.6 112.1h0M175.9 112.5h0M179.2 112.8h0M182.4 113.2h0M185.8 113.5h0M189.1 114h0M192.2 114.2h0M202 115.5h0M205.4 115.8h0M208.7 116.2h0M212 116.4h0M215.3 116.9h0M218.5 117.3h0M228.3 118.4h0M147.6 112.6h0M150.9 112.9h0M154.2 113.4h0M157.4 113.6h0M177.2 115.9h0M180.5 116.2h0M183.8 116.7h0M187.1 117.1h0M190.2 117.4h0M193.6 117.7h0M196.8 118.2h0M200.2 118.5h0M203.4 118.8h0M206.6 119.2h0M209.9 119.6h0M213.2 120.1h0M216.4 120.3h0M219.8 120.8h0M223.1 121.1h0M226.3 121.4h0M229.6 122h0"/><path stroke="#0000e6" d="M230.7 98.7h0M221.7 117.8h0M225 117.9h0M160.7 114.1h0M164 114.5h0M167.3 114.8h0M170.5 115.1h0M173.9 115.6h0"/><path stroke="#0000bd" d="M103.1 110.8h0M106.3 111.2h0M122.7 113h0M125.9 113.3h0M129.2 113.7h0M132.6 114.1h0M135.8 114.6h0M139.1 114.8h0M142.3 115.3h0M133.8 117.5h0M137 117.9h0M140.3 118.3h0M138.4 121.5h0M141.6 121.8h0"/><path stroke="#0000d1" d="M86.6 108.9h0M89.9 109.3h0M93.1 109.6h0M96.5 110h0M99.8 110.4h0M109.6 111.6h0M112.8 112h0M116.2 112.3h0M119.5 112.6h0M145.7 115.6h0M149 116h0M152.2 116.5h0M155.4 116.8h0M158.7 117.1h0M191.5 120.9h0M194.9 121.2h0M198.1 121.7h0M201.3 122h0M84.6 112h0M87.8 112.4h0M97.7 113.6h0M101 113.8h0M104.2 114.2h0M107.6 114.6h0M110.8 115h0M114.1 115.4h0M117.3 115.7h0M120.7 116h0M123.9 116.6h0M127.2 116.8h0M130.5 117.1h0M143.6 118.7h0M146.8 119h0M150.3 119.5h0M153.5 119.8h0M156.7 120.3h0M189.5 123.9h0M199.3 125.1h0M105.5 117.7h0M108.9 118.1h0M112 118.5h0M115.3 118.9h0M118.7 119.3h0M122 119.6h0M125.3 119.9h0M128.6 120.3h0M131.8 120.7h0M135.1 121h0M144.9 122.1h0M148.2 122.6h0M151.5 123h0M154.8 123.4h0M158 123.7h0M161.3 124h0M190.8 127.5h0M83.8 118.5h0M129.8 123.9h0M133 124.1h0M136.4 124.5h0M139.6 125h0M143 125.3h0M146.2 125.6h0M149.5 125.9h0M152.8 126.3h0M155.9 126.7h0M159.3 127.1h0M162.5 127.4h0M165.7 128h0M169.1 128.2h0M172.4 128.7h0M185.5 130.1h0M188.9 130.6h0M201.8 132h0M205.2 132.4h0M215.1 133.5h0M81.9 121.7h0M85.2 121.9h0M88.5 122.5h0M127.8 127h0M134.4 127.6h0M137.5 127.9h0M140.8 128.3h0M144.2 128.7h0M147.4 129.1h0M150.7 129.5h0M154 129.9h0M157.2 130.1h0M160.6 130.5h0M163.7 131.1h0M167.2 131.3h0M170.4 131.8h0M173.6 132.1h0M177 132.5h0M180.2 133h0M183.5 133.2h0M199.8 135.2h0M203.3 135.4h0M83.1 125.1h0M138.8 131.6h0M142.1 131.8h0M145.4 132.2h0M148.7 132.5h0M152 132.9h0M155.3 133.3h0M158.5 133.6h0M161.7 134.1h0M165.2 134.4h0M168.3 134.8h0M171.7 135.1h0M175 135.6h0M178.2 136h0M181.5 136.4h0M184.8 136.7h0M140.2 134.9h0M143.4 135.3h0M146.6 135.7h0M150 136h0M153.3 136.3h0M156.5 136.9h0M159.8 137.1h0M163.1 137.6h0M166.3 137.9h0M169.7 138.3h0M176.2 139.1h0M179.4 139.3h0M182.7 139.9h0M186.1 140.2h0M189.3 140.5h0M192.6 141h0M141.4 138.5h0M144.7 138.8h0M147.9 139.2h0M151.3 139.6h0M154.6 140h0M157.8 140.2h0M161 140.6h0M164.3 140.9h0M167.5 141.5h0M190.6 144.1h0M193.8 144.4h0M197.2 144.7h0M200.4 145.1h0"/><path stroke="#0000e6" d="M162 117.5h0M165.3 117.9h0M168.5 118.2h0M171.9 118.6h0M175.1 118.9h0M178.4 119.4h0M181.8 119.8h0M185.1 120.1h0M188.3 120.5h0M204.6 122.4h0M207.9 122.6h0M211.2 123.1h0M214.6 123.5h0M217.9 123.8h0M221.1 124.3h0M224.3 124.5h0M227.6 124.9h0M91.2 112.7h0M94.4 113h0M159.9 120.7h0M163.3 121h0M166.7 121.4h0M169.8 121.8h0M173 122.1h0M176.5 122.4h0M179.7 122.8h0M183 123.2h0M186.3 123.6h0M192.9 124.3h0M196 124.8h0M202.6 125.4h0M205.9 125.7h0M209.1 126.2h0M212.4 126.5h0M215.8 126.9h0M219.1 127.2h0M222.3 127.8h0M225.6 128.1h0M82.6 115.2h0M85.9 115.4h0M89.2 115.9h0M92.4 116.1h0M95.6 116.6h0M98.9 116.9h0M102.3 117.4h0M164.5 124.3h0M167.8 124.7h0M171.1 125.1h0M174.5 125.6h0M177.7 126h0M181.1 126.4h0M184.3 126.7h0M187.5 127h0M194.1 127.7h0M197.3 128.3h0M200.6 128.5h0M203.8 128.9h0M207.3 129.3h0M210.5 129.7h0M213.7 130.1h0M217 130.4h0M220.3 130.8h0M223.6 131.2h0M227 131.5h0M87.2 118.9h0M90.5 119.3h0M93.7 119.8h0M96.9 120.1h0M100.2 120.4h0M103.5 120.8h0M106.8 121.2h0M110.2 121.6h0M113.3 121.9h0M116.6 122.2h0M120 122.6h0M123.2 122.9h0M126.5 123.5h0M175.6 129.1h0M179 129.3h0M182.2 129.8h0M192.1 130.9h0M195.3 131.3h0M198.6 131.7h0M208.4 132.8h0M211.8 133h0M218.3 133.8h0M221.5 134.3h0M224.9 134.6h0M91.6 122.7h0M95 123.2h0M98.2 123.6h0M101.6 124h0M104.9 124.2h0M108.1 124.6h0M111.3 125h0M114.6 125.4h0M118 125.8h0M121.2 126.1h0M124.4 126.5h0M131 127.2h0M186.8 133.7h0M190.1 133.9h0M193.3 134.3h0M196.6 134.7h0M206.5 135.8h0M209.7 136.1h0M213 136.6h0M216.3 137.1h0M219.6 137.3h0M222.9 137.6h0M226.1 138.2h0M86.4 125.5h0M89.6 125.8h0M93 126.3h0M96.3 126.6h0M99.5 126.9h0M102.7 127.3h0M106.1 127.7h0M109.3 128.1h0M112.7 128.4h0M115.8 128.8h0M119.1 129.3h0M122.5 129.7h0M125.8 130h0M129.1 130.3h0M132.4 130.7h0M135.5 131.1h0M188 137.1h0M191.3 137.4h0M194.5 137.9h0M198 138.1h0M201.1 138.6h0M204.3 139h0M207.7 139.3h0M210.9 139.7h0M214.3 140h0M217.6 140.3h0M220.8 140.8h0M224.1 141.2h0M81.1 128.2h0M84.5 128.6h0M87.8 128.9h0M90.9 129.2h0M94.2 129.7h0M97.5 130.1h0M100.8 130.5h0M104.1 130.7h0M107.2 131.2h0M110.6 131.5h0M114 131.9h0M117.1 132.3h0M120.4 132.7h0M123.7 133.1h0M127 133.5h0M130.3 133.8h0M133.6 134.3h0M136.9 134.6h0M173 138.7h0M196 141.2h0M199.1 141.6h0M202.5 142.1h0M205.6 142.4h0M208.9 142.8h0M212.2 143.2h0M215.5 143.5h0M218.8 143.8h0M222.1 144.2h0M82.4 131.6h0M85.6 132.1h0M89 132.4h0M95.4 133.2h0M98.9 133.5h0M102 133.9h0M105.2 134.4h0M108.6 134.7h0M121.7 136.2h0M128.3 136.8h0M131.5 137.3h0M134.8 137.7h0M138 138h0M170.8 141.8h0M174.2 142.2h0M184.1 143.2h0M187.3 143.6h0M203.6 145.5h0M207 145.8h0M210.2 146.2h0M213.6 146.6h0M216.9 146.9h0M220.1 147.4h0"/><path stroke="#0000fa" d="M92.3 132.8h0M111.8 135.1h0M115.1 135.4h0M118.4 135.8h0M125.1 136.5h0M177.5 142.6h0M180.8 142.9h0"/><path stroke="#0000bd" d="M161.7 150.7h0"/><path stroke="#0000d1" d="M142.7 141.8h0M146 142.3h0M149.1 142.6h0M152.5 143h0M155.9 143.3h0M159.1 143.7h0M162.4 144.1h0M165.5 144.4h0M168.9 144.8h0M172.2 145.2h0M175.5 145.6h0M178.7 146.1h0M191.8 147.5h0M195.1 147.8h0M198.4 148.3h0M201.8 148.6h0M150.4 146.2h0M153.7 146.4h0M157 146.9h0M160.4 147.2h0M163.5 147.5h0M166.9 147.9h0M170.2 148.3h0M173.4 148.7h0M176.7 149.1h0M179.9 149.5h0M183.2 149.8h0M186.6 150.2h0M189.7 150.5h0M193.1 151h0M196.3 151.4h0M199.6 151.6h0M158.3 150.3h0M164.8 151.1h0M168.2 151.5h0M171.4 151.9h0M174.8 152.2h0M177.9 152.6h0M181.3 152.9h0M184.6 153.2h0M187.9 153.6h0M191.1 154h0M194.4 154.4h0M197.7 154.8h0M200.9 155h0M204.1 155.5h0M162.8 154.1h0M166 154.6h0M169.4 155h0M172.6 155.2h0M176 155.6h0M179.2 156.1h0M182.6 156.4h0M185.8 156.7h0M189.1 157.1h0M192.4 157.4h0M195.7 157.9h0M199 158.2h0M202.3 158.6h0M205.4 159h0M170.7 158.3h0M173.9 158.6h0M177.3 159h0M180.4 159.4h0M183.8 159.8h0M187.1 160.2h0M206.8 162.5h0"/><path stroke="#0000e6" d="M83.6 135.1h0M86.8 135.6h0M113.2 138.6h0M116.5 138.9h0M119.7 139.2h0M129.5 140.3h0M136 141.1h0M139.4 141.6h0M182.1 146.4h0M185.3 146.8h0M188.5 147.1h0M204.9 148.9h0M208.1 149.2h0M211.6 149.8h0M214.8 150h0M218 150.5h0M221.3 150.9h0M81.6 138.2h0M84.8 138.6h0M88.1 139.1h0M140.6 145h0M143.9 145.2h0M147.2 145.7h0M202.9 152h0M206.2 152.5h0M209.4 152.8h0M212.8 153.1h0M216 153.5h0M219.3 154h0M79.7 141.3h0M82.9 141.7h0M86.1 142h0M89.5 142.4h0M92.7 142.8h0M148.5 149.2h0M151.8 149.6h0M155.1 150h0M207.5 155.9h0M210.7 156.2h0M214 156.6h0M217.2 157h0M90.7 145.9h0M156.2 153.3h0M159.5 153.7h0M208.8 159.3h0M212 159.7h0M215.3 160.2h0M218.7 160.4h0M157.6 156.9h0M160.8 157.3h0M164.2 157.7h0M167.4 158h0M190.3 160.7h0M193.6 160.9h0M196.9 161.4h0M203.5 162h0M210.1 162.9h0M213.2 163.3h0M216.5 163.6h0M165.4 161.1h0M168.7 161.4h0M172 161.8h0M175.2 162.2h0M178.5 162.5h0M181.7 163h0M169.9 164.9h0M173.2 165.3h0M176.5 165.6h0M179.7 166h0M183 166.4h0M186.4 166.8h0M189.7 167.2h0M193 167.6h0M196.2 167.9h0M212.6 169.7h0M215.8 170.1h0M174.5 168.8h0M177.8 169h0M181.1 169.4h0M184.2 169.8h0M187.5 170.3h0M190.8 170.5h0M194.1 170.9h0M197.5 171.4h0M200.7 171.7h0M203.9 172.2h0M207.2 172.5h0M210.6 172.8h0M213.8 173.2h0"/><path stroke="#0000fa" d="M90.2 136h0M93.5 136.3h0M96.7 136.7h0M100.1 136.9h0M103.4 137.4h0M106.5 137.8h0M109.9 138h0M122.9 139.6h0M126.2 140h0M132.8 140.8h0M91.4 139.4h0M94.7 139.7h0M98.1 140.2h0M101.4 140.5h0M104.6 140.9h0M107.9 141.3h0M111.2 141.7h0M114.3 142h0M117.6 142.3h0M121.1 142.8h0M124.3 143.1h0M127.4 143.4h0M130.9 143.8h0M134 144.1h0M137.3 144.6h0M96 143.2h0M99.3 143.5h0M102.5 144h0M105.9 144.2h0M109.1 144.6h0M112.4 145.1h0M115.6 145.3h0M119 145.9h0M122.2 146.1h0M125.5 146.6h0M128.7 146.9h0M132 147.4h0M135.4 147.7h0M138.7 148h0M141.9 148.5h0M145.1 148.7h0M80.8 144.7h0M84.2 145.2h0M87.5 145.6h0M94 146.2h0M97.2 146.6h0M100.5 147h0M103.9 147.3h0M107.1 147.7h0M110.5 148.2h0M113.7 148.5h0M117 148.9h0M120.3 149.3h0M123.6 149.7h0M126.8 150h0M130.1 150.4h0M133.3 150.8h0M136.5 151.1h0M140 151.5h0M143.2 151.9h0M146.4 152.2h0M149.7 152.7h0M153 153.1h0M78.9 147.9h0M82.1 148.3h0M85.5 148.7h0M88.7 149h0M92 149.4h0M95.2 149.8h0M98.5 150.1h0M101.7 150.6h0M105.2 150.9h0M108.4 151.2h0M111.6 151.7h0M115 152h0M118.3 152.4h0M124.8 153.2h0M128 153.5h0M131.3 153.8h0M134.6 154.2h0M137.8 154.6h0M141.1 154.9h0M144.5 155.4h0M147.7 155.7h0M151 156h0M154.3 156.5h0M200.3 161.7h0M80.2 151.3h0M83.3 151.8h0M86.6 152h0M89.9 152.5h0M96.5 153.2h0M116.2 155.4h0M132.6 157.3h0M142.4 158.4h0M145.6 158.8h0M148.9 159.3h0M152.2 159.5h0M155.6 159.9h0M158.8 160.4h0M162.1 160.7h0M185.1 163.3h0M78 154.4h0M81.4 154.9h0M84.7 155.1h0M87.9 155.7h0M91.3 156h0M94.5 156.2h0M97.8 156.6h0M143.7 161.9h0M146.9 162.2h0M150.2 162.7h0M153.5 163.1h0M156.8 163.4h0M160.1 163.9h0M163.5 164.2h0M166.7 164.5h0M199.5 168.2h0M202.8 168.6h0M206 169h0M79.4 157.9h0M82.6 158.2h0M86 158.7h0M89.3 159.1h0M92.5 159.5h0M95.9 159.7h0M99.1 160.1h0M102.3 160.6h0M105.6 160.9h0M145 165.4h0M148.3 165.8h0M151.5 166.1h0M154.8 166.6h0M158.1 166.9h0M161.3 167.3h0M164.6 167.5h0M167.8 168h0M171.2 168.4h0"/><path stroke="#000fff" d="M121.5 152.6h0M93.1 152.8h0M99.9 153.6h0M103 154h0M106.4 154.3h0M109.7 154.8h0M112.9 155.1h0M119.4 155.9h0M122.7 156.1h0M126 156.5h0M129.3 156.9h0M135.9 157.7h0M139.2 158h0M188.4 163.6h0M101.1 157.1h0M104.3 157.4h0M107.7 157.7h0M110.9 158.2h0M114.2 158.6h0M117.5 158.9h0M120.8 159.4h0M124.1 159.6h0M127.2 160h0M130.5 160.4h0M133.9 160.7h0M137 161.3h0M140.4 161.5h0M209.3 169.5h0M108.8 161.3h0M112.1 161.7h0M115.5 162h0M118.6 162.4h0M122.1 162.8h0M125.2 163.2h0M128.6 163.6h0M131.9 163.8h0M135.1 164.2h0M138.3 164.6h0M141.7 165h0"/><path stroke="#0024ff" d="M214.7 166.6h0"/><path stroke="#0038ff" d="M191.5 164.1h0M194.9 164.4h0M198.2 164.7h0M201.5 165.2h0M204.7 165.6h0M208 165.9h0M211.2 166.2h0"/><path stroke="#0000e6" d="M97 163.2h0M175.7 172.2h0M182.3 172.9h0M185.6 173.3h0M188.9 173.8h0M192 174.1h0M195.4 174.5h0M198.8 174.9h0M202 175.2h0M205.3 175.7h0M208.6 175.9h0M211.8 176.2h0M108.2 167.8h0M186.9 176.8h0M190.1 177.2h0M193.3 177.6h0M200 178.2h0M206.5 179.1h0M209.7 179.4h0M86.5 168.6h0M89.8 169.1h0M93.1 169.4h0M96.3 169.7h0M99.7 170.2h0M102.8 170.5h0M106.1 170.8h0M109.5 171.2h0M112.7 171.6h0M116 172h0M119.3 172.5h0M145.5 175.4h0M148.7 175.9h0M152 176.2h0M184.8 179.8h0M188.1 180.4h0M207.9 182.6h0M211.1 182.8h0M81.1 171.4h0M84.4 171.9h0M87.7 172.2h0M91 172.5h0M97.6 173.3h0M100.9 173.6h0M104.1 174h0M107.5 174.4h0M110.7 174.8h0M114 175.1h0M117.2 175.6h0M120.6 175.8h0M123.9 176.2h0M127 176.6h0M130.4 177h0M137 177.8h0M143.6 178.4h0M146.8 178.9h0M149.9 179.2h0M153.2 179.7h0M156.5 180h0M159.8 180.4h0M163 180.7h0M166.5 181h0M169.7 181.5h0M192.6 184.1h0M195.9 184.6h0M199.2 184.9h0M202.4 185.3h0M205.7 185.5h0M209 186h0M85.7 175.2h0M89 175.6h0M92.2 175.9h0M95.6 176.3h0M98.8 176.8h0M102.1 177.1h0M105.3 177.4h0M108.7 177.9h0M112 178.3h0M115.2 178.6h0M118.6 178.9h0M121.8 179.4h0M125 179.7h0M128.4 180h0M131.6 180.4h0M134.9 180.8h0M138.2 181.1h0M141.5 181.6h0M148.1 182.4h0M151.3 182.6h0M154.5 183.1h0M157.8 183.5h0M161 183.9h0M164.5 184.2h0M167.6 184.6h0M193.9 187.5h0M197.2 188h0M200.4 188.3h0M203.7 188.6h0M207 189h0M210.4 189.5h0M83.7 178.3h0M93.4 179.5h0M96.9 179.8h0M100 180.2h0M103.4 180.5h0M106.6 180.9h0M109.9 181.4h0M113.3 181.7h0M116.4 182h0M119.8 182.4h0M123.1 182.8h0M126.2 183.2h0M129.5 183.5h0M132.9 183.9h0M136.3 184.3h0M139.4 184.7h0M142.8 185h0M162.3 187.3h0M165.6 187.6h0M169 188.1h0M172.2 188.3h0M192 190.7h0M205.1 192.2h0M208.3 192.4h0M88.3 182.3h0M94.8 182.9h0M98 183.4h0M101.4 183.6h0M104.7 184h0M107.9 184.4h0M111.1 184.8h0M114.5 185.2h0M117.7 185.4h0M121.1 185.9h0M124.3 186.3h0M134.1 187.3h0M193.2 194.1h0M196.5 194.5h0M199.8 194.9h0M206.2 195.6h0M79.7 184.6h0M86.2 185.2h0M89.4 185.7h0M92.8 186h0M96.1 186.4h0M99.3 186.7h0M102.6 187.1h0M105.8 187.4h0M109.1 187.9h0M112.6 188.2h0M115.7 188.7h0M119.1 189.1h0M191.1 197.2h0M194.4 197.6h0M197.7 197.9h0M201.1 198.3h0M207.5 199.1h0"/><path stroke="#0000fa" d="M77.4 161.1h0M80.7 161.4h0M83.8 161.8h0M87.2 162.1h0M90.4 162.4h0M93.8 162.9h0M100.3 163.6h0M103.7 164h0M106.9 164.4h0M110.1 164.8h0M113.4 165.1h0M139.7 168.1h0M142.9 168.5h0M146.3 168.9h0M149.5 169.2h0M152.9 169.6h0M156 170h0M159.3 170.3h0M162.7 170.8h0M165.9 171.1h0M169.1 171.5h0M172.4 171.8h0M179.1 172.6h0M78.6 164.6h0M81.9 164.9h0M85.2 165.2h0M88.5 165.7h0M91.8 165.9h0M95 166.4h0M98.4 166.7h0M101.6 167h0M104.8 167.5h0M111.5 168.3h0M114.8 168.6h0M118 168.9h0M121.3 169.3h0M127.9 170.1h0M131.2 170.4h0M137.7 171.2h0M140.9 171.6h0M144.3 172h0M147.5 172.3h0M150.8 172.6h0M154.1 173h0M157.4 173.4h0M160.5 173.8h0M164 174.3h0M167.1 174.6h0M170.4 174.9h0M173.7 175.3h0M177 175.6h0M180.2 175.9h0M183.5 176.5h0M196.6 178h0M203.3 178.6h0M76.6 167.5h0M80 167.9h0M83.3 168.3h0M122.6 172.8h0M125.8 173.2h0M129.2 173.6h0M132.4 174h0M135.6 174.2h0M138.9 174.6h0M142.3 175h0M155.2 176.5h0M158.5 176.9h0M161.9 177.2h0M165.2 177.7h0M168.5 178h0M171.8 178.5h0M175.1 178.8h0M178.2 179h0M181.6 179.5h0M191.5 180.7h0M204.5 182.2h0M77.8 171h0M94.3 172.9h0M133.7 177.3h0M140.3 178.2h0M172.9 181.8h0M176.3 182.3h0M179.6 182.6h0M182.7 183h0M186 183.4h0M189.4 183.8h0M75.9 174h0M79.2 174.5h0M82.5 174.9h0M144.8 181.9h0M171 184.9h0M174.2 185.3h0M177.5 185.8h0M180.8 186.1h0M184.1 186.5h0M187.5 186.8h0M190.6 187.1h0M77.2 177.6h0M80.5 177.9h0M86.9 178.7h0M90.3 179.1h0M146 185.4h0M149.4 185.7h0M152.5 186.2h0M155.8 186.6h0M159.1 186.8h0M175.5 188.8h0M178.7 189.1h0M182 189.6h0M185.3 189.9h0M188.6 190.3h0M195.3 191h0M198.4 191.4h0M201.7 191.8h0M75.1 180.6h0M78.5 181h0M81.6 181.4h0M85 181.7h0M91.6 182.5h0M127.6 186.6h0M130.8 187.1h0M137.5 187.8h0M140.8 188h0M143.9 188.6h0M147.3 188.8h0M150.6 189.3h0M153.8 189.7h0M157.1 190h0M160.3 190.3h0M163.7 190.8h0M167 191.1h0M170.1 191.5h0M173.4 192h0M176.7 192.2h0M180.1 192.7h0M183.3 193.1h0M186.6 193.3h0M189.9 193.8h0M203 195.2h0M76.4 184.2h0M83 184.9h0M122.3 189.4h0M125.5 189.8h0M128.8 190.2h0M132.2 190.6h0M135.5 190.9h0M138.7 191.3h0M142 191.5h0M145.3 192h0M148.5 192.4h0M151.9 192.7h0M155.1 193h0M158.4 193.5h0M161.6 193.8h0M164.9 194.3h0M168.2 194.7h0M171.5 194.9h0M174.7 195.3h0M178 195.8h0M181.2 196.1h0M184.7 196.5h0M187.9 196.9h0M204.3 198.8h0"/><path stroke="#000fff" d="M116.8 165.6h0M120.1 165.9h0M123.2 166.2h0M126.6 166.6h0M129.9 166.9h0M133 167.4h0M136.3 167.8h0M124.6 169.6h0M134.4 170.8h0M201.2 181.7h0"/><path stroke="#0024ff" d="M194.7 180.9h0M197.9 181.3h0"/><path stroke="#0000d1" d="M116.2 198.7h0M119.6 199.1h0M122.8 199.4h0M126.2 199.8h0M129.4 200.1h0M117.5 202h0M120.8 202.5h0M124.2 202.9h0M127.3 203.2h0M130.7 203.5h0M134 204h0M137.3 204.3h0M118.8 205.6h0M122.1 205.9h0M125.4 206.3h0M128.7 206.7h0M131.8 207.1h0M135.3 207.5h0M138.5 207.8h0M116.8 208.7h0M120 209h0M123.4 209.3h0M75.4 207.4h0"/><path stroke="#0000e6" d="M74.3 187.2h0M77.6 187.7h0M81 188h0M84.3 188.4h0M87.5 188.7h0M90.8 189.1h0M94.1 189.5h0M97.3 189.9h0M100.6 190.3h0M103.9 190.6h0M107.1 191h0M110.5 191.4h0M113.8 191.7h0M117 192h0M120.2 192.5h0M195.7 201h0M198.9 201.5h0M205.6 202.1h0M75.7 190.6h0M78.9 191.1h0M82.2 191.4h0M85.6 191.8h0M88.7 192.1h0M92 192.6h0M95.4 193h0M98.5 193.4h0M101.9 193.6h0M105.2 194.1h0M108.5 194.5h0M111.7 194.9h0M115 195.1h0M118.2 195.5h0M121.6 195.9h0M124.8 196.2h0M128.1 196.6h0M131.3 197h0M203.5 205.4h0M73.6 193.9h0M77 194.2h0M80.3 194.6h0M83.5 194.9h0M86.8 195.4h0M90 195.6h0M93.3 195.9h0M96.6 196.5h0M99.8 196.8h0M103.1 197.2h0M106.4 197.5h0M109.7 197.8h0M112.9 198.4h0M132.6 200.5h0M136 201h0M139.1 201.2h0M74.9 197.3h0M78.2 197.7h0M81.5 198h0M84.6 198.4h0M88.1 198.7h0M91.3 199.2h0M94.6 199.5h0M97.9 199.9h0M101.2 200.2h0M104.5 200.5h0M107.7 201h0M111 201.4h0M114.3 201.7h0M140.6 204.7h0M143.8 205.1h0M72.9 200.3h0M76.2 200.7h0M79.4 201.2h0M82.6 201.4h0M86.1 201.9h0M89.4 202.2h0M92.5 202.5h0M95.9 202.9h0M99.1 203.4h0M102.4 203.6h0M105.8 204h0M108.9 204.4h0M112.3 204.9h0M115.6 205.2h0M141.7 208.1h0M145 208.5h0M148.2 209h0M74.1 203.8h0M77.4 204.2h0M80.7 204.5h0M84.1 204.8h0M87.2 205.3h0M90.6 205.7h0M93.9 206.1h0M97.2 206.4h0M100.5 206.7h0M103.8 207.2h0M107 207.5h0M110.2 207.9h0M113.4 208.3h0M72.1 207h0M78.6 207.6h0M81.9 208h0M85.2 208.5h0M88.5 208.7h0M91.9 209.1h0M95.1 209.5h0"/><path stroke="#0000fa" d="M123.5 192.8h0M126.8 193.2h0M130.1 193.6h0M133.4 193.9h0M136.6 194.4h0M139.9 194.8h0M143.2 195.1h0M146.4 195.4h0M149.8 195.8h0M153.2 196.2h0M156.4 196.5h0M159.6 196.9h0M162.9 197.3h0M166.2 197.6h0M169.5 198h0M172.8 198.4h0M176 198.7h0M179.4 199.1h0M182.7 199.5h0M185.8 200h0M189.2 200.3h0M192.5 200.7h0M202.3 201.8h0M134.6 197.5h0M137.9 197.8h0M141.2 198.1h0M144.5 198.6h0M147.7 198.9h0M154.3 199.7h0M157.6 200.1h0M160.9 200.4h0M164.2 200.8h0M167.4 201.1h0M170.8 201.5h0M174 201.9h0M177.3 202.2h0M180.6 202.7h0M183.8 203.1h0M187.1 203.5h0M190.3 203.8h0M193.8 204.1h0M197 204.5h0M200.2 204.8h0M142.5 201.6h0M145.8 202.1h0M149 202.4h0M152.3 202.8h0M155.6 203.1h0M158.9 203.5h0M165.5 204.2h0M168.8 204.7h0M172 205h0M175.3 205.4h0M178.6 205.7h0M181.7 206.2h0M185.1 206.6h0M188.5 206.8h0M191.8 207.3h0M194.9 207.7h0M198.3 208h0M201.5 208.3h0M147 205.5h0M150.3 205.8h0M153.6 206.1h0M156.8 206.5h0M160.1 207h0M163.4 207.4h0M166.8 207.7h0M170.1 208.2h0M173.2 208.4h0M176.6 208.8h0M179.9 209.1h0M151.6 209.3h0"/><path stroke="#000fff" d="M151 199.3h0M162.1 203.9h0"/></g><g fill="none" stroke-linecap="round" stroke-width="6.6"><path stroke="#000080" d="M95.4 1.1h0M100 1.1h0M122.9 1.1h0M127.5 1.1h0M132 1.1h0M136.6 1.1h0M141.2 1.1h0M145.8 1.1h0M150.4 1.1h0M154.9 1.1h0M159.5 1.1h0M164.1 1.1h0M168.7 1.1h0M173.3 1.1h0M177.8 1.1h0M182.4 1.1h0M187 1.1h0M191.6 1.1h0M196.2 1.1h0M232.8 1.1h0M232.8 33h0M92.6 23.9h0M93.2 19.3h0M93.7 14.8h0M94.3 10.2h0M94.8 5.7h0"/><path stroke="#000094" d="M104.6 1.1h0M109.1 1.1h0M113.7 1.1h0M118.3 1.1h0M200.7 1.1h0M205.3 1.1h0M209.9 1.1h0M214.5 1.1h0M219.1 1.1h0M223.6 1.1h0M228.2 1.1h0M232.8 5.7h0M232.8 10.2h0M232.8 19.3h0M232.8 23.9h0M232.8 28.4h0M232.8 37.5h0M232.8 42.1h0M232.8 46.6h0M232.8 51.2h0M232.8 55.7h0M232.8 60.3h0M232.8 64.9h0M86.5 74.1h0M87.1 69.5h0M87.6 65h0M88.2 60.4h0M88.7 55.8h0M89.3 51.3h0M89.9 46.7h0M90.4 42.1h0M91.5 33h0M92.1 28.5h0"/><path stroke="#0000a8" d="M232.8 14.8h0M232.8 69.4h0M84.3 92.3h0M84.9 87.8h0M85.4 83.2h0M86 78.6h0M91 37.6h0"/><path stroke="#0000bd" d="M232.8 74h0M232.8 78.5h0M232.8 83.1h0M83.2 101.4h0M83.8 96.9h0"/><path stroke="#0000d1" d="M232.8 87.6h0M232.8 92.2h0M232.8 105.8h0M232.8 110.4h0M232.8 114.9h0M139.4 210.9h0M134.8 210.9h0M130.1 210.9h0M125.5 210.9h0M120.9 210.9h0M70.5 206.3h0M80.4 124.2h0M81 119.7h0M81.5 115.1h0M82.1 110.6h0M82.7 106h0"/><path stroke="#0000e6" d="M232.8 96.7h0M232.8 101.3h0M232.8 119.5h0M231.4 123.9h0M230.1 128.2h0M228.7 132.6h0M227.4 136.9h0M226 141.3h0M224.7 145.6h0M223.3 150h0M219.2 163h0M216.5 171.7h0M215.2 176.1h0M213.8 180.4h0M212.4 184.8h0M211.1 189.1h0M209.7 193.5h0M208.4 197.8h0M207 202.2h0M148.7 210.9h0M144.1 210.9h0M116.2 210.9h0M111.6 210.9h0M107 210.9h0M102.3 210.9h0M97.7 210.9h0M93.1 210.9h0M88.4 210.9h0M83.8 210.9h0M79.2 210.9h0M74.5 210.9h0M69.9 210.9h0M71 201.8h0M71.6 197.2h0M72.1 192.7h0M72.7 188.1h0M78.2 142.5h0M78.8 137.9h0M79.3 133.4h0M79.9 128.8h0"/><path stroke="#0000fa" d="M221.9 154.3h0M220.6 158.7h0M205.7 206.5h0M204.3 210.9h0M199.7 210.9h0M195 210.9h0M190.4 210.9h0M185.8 210.9h0M181.1 210.9h0M176.5 210.9h0M171.9 210.9h0M167.2 210.9h0M162.6 210.9h0M158 210.9h0M153.3 210.9h0M73.2 183.5h0M73.8 179h0M74.3 174.4h0M74.9 169.9h0M75.4 165.3h0M76 160.7h0M76.6 156.2h0M77.1 151.6h0M77.7 147h0"/><path stroke="#000fff" d="M217.9 167.4h0"/></g>
<g clip-path="url(#fc)"><use href="#st" transform="translate(0.5,0.6)" fill="none" stroke="#000" stroke-width="2.3" stroke-linejoin="round" stroke-linecap="round"/></g>
</g>
<rect x="441.3" y="95.2" width="23.6" height="215.4" fill="url(#jet)" stroke="#3a1010" stroke-width="0.7"/>
<path d="M464.9 202.9h-2.4" stroke="#262626" stroke-width="0.8"/>
<text class="cb" x="473.0" y="103.0">100</text><text class="cb" x="473.0" y="210.0">50</text><text class="cb" x="473.0" y="317.0">0</text>
<text class="tk" x="146.0" y="112.7">48<tspan class="dg" dx="1.6" dy="-6.9">°</tspan><tspan dx="4.9" dy="6.9">N</tspan></text><text class="tk" x="146.0" y="130.7">46<tspan class="dg" dx="1.6" dy="-6.9">°</tspan><tspan dx="4.9" dy="6.9">N</tspan></text><text class="tk" x="146.0" y="147.8">44<tspan class="dg" dx="1.6" dy="-6.9">°</tspan><tspan dx="4.9" dy="6.9">N</tspan></text><text class="tk" x="146.0" y="166.8">42<tspan class="dg" dx="1.6" dy="-6.9">°</tspan><tspan dx="4.9" dy="6.9">N</tspan></text><text class="tk" x="146.0" y="182.5">40<tspan class="dg" dx="1.6" dy="-6.9">°</tspan><tspan dx="4.9" dy="6.9">N</tspan></text><text class="tk" x="146.0" y="197.6">38<tspan class="dg" dx="1.6" dy="-6.9">°</tspan><tspan dx="4.9" dy="6.9">N</tspan></text><text class="tk" x="146.0" y="214.4">36<tspan class="dg" dx="1.6" dy="-6.9">°</tspan><tspan dx="4.9" dy="6.9">N</tspan></text><text class="tk" x="146.0" y="228.9">34<tspan class="dg" dx="1.6" dy="-6.9">°</tspan><tspan dx="4.9" dy="6.9">N</tspan></text><text class="tk" x="146.0" y="245.6">32<tspan class="dg" dx="1.6" dy="-6.9">°</tspan><tspan dx="4.9" dy="6.9">N</tspan></text><text class="tk" x="146.0" y="259.7">30<tspan class="dg" dx="1.6" dy="-6.9">°</tspan><tspan dx="4.9" dy="6.9">N</tspan></text><text class="tk" x="146.0" y="272.8">28<tspan class="dg" dx="1.6" dy="-6.9">°</tspan><tspan dx="4.9" dy="6.9">N</tspan></text><text class="tk" x="146.0" y="287.8">26<tspan class="dg" dx="1.6" dy="-6.9">°</tspan><tspan dx="4.9" dy="6.9">N</tspan></text><text class="tk" x="146.0" y="302.0">24<tspan class="dg" dx="1.6" dy="-6.9">°</tspan><tspan dx="4.9" dy="6.9">N</tspan></text><text class="tk" x="146.0" y="314.9">22<tspan class="dg" dx="1.6" dy="-6.9">°</tspan><tspan dx="4.9" dy="6.9">N</tspan></text>
<text class="tk" x="240.5" y="76.9" text-anchor="middle">100<tspan class="dg" dx="1.6" dy="-6.9">°</tspan><tspan dx="4.6" dy="6.9">W</tspan></text><text class="tk" x="305.7" y="76.9" text-anchor="middle">90<tspan class="dg" dx="1.6" dy="-6.9">°</tspan><tspan dx="4.6" dy="6.9">W</tspan></text><text class="tk" x="369.5" y="76.9" text-anchor="middle">80<tspan class="dg" dx="1.6" dy="-6.9">°</tspan><tspan dx="4.6" dy="6.9">W</tspan></text><text class="tk" x="432.9" y="76.9" text-anchor="middle">70<tspan class="dg" dx="1.6" dy="-6.9">°</tspan><tspan dx="4.6" dy="6.9">W</tspan></text>
<text class="tt" x="139.3" y="341.3" textLength="337" lengthAdjust="spacing">SAT 150 hPa RH (Percent)</text>
<g transform="translate(616.9,96.2)">
<rect x="0" y="0" width="233.6" height="213.4" fill="#fff" stroke="#000" stroke-width="1"/>
<g fill="none" stroke-linecap="round" stroke-width="4.7"><path stroke="#000080" d="M117 2.8h0M120.2 3.1h0M123.6 3.5h0M126.9 3.8h0M130.1 4.2h0M133.3 4.6h0M136.7 5.1h0M139.9 5.3h0M143.3 5.8h0M198.9 12.2h0M202.2 12.5h0M205.5 12.9h0"/><path stroke="#000094" d="M186.5 4.1h0M189.9 4.5h0M196.5 5.3h0M194.4 8.3h0M197.8 8.7h0M200.9 8.9h0M204.2 9.3h0M146.6 6.2h0M189.1 11h0M195.6 11.7h0M208.7 13.2h0"/><path stroke="#0000a8" d="M224.7 5.1h0M231.2 5.8h0M176.7 3h0M180.1 3.3h0M183.3 3.7h0M193.1 4.8h0M199.7 5.5h0M202.9 5.8h0M206.2 6.3h0M145.3 2.6h0M148.5 3h0M151.9 3.5h0M155.1 3.8h0M158.3 4.2h0M161.6 4.6h0M164.9 5h0M171.4 5.5h0M178.1 6.5h0M181.2 6.7h0M187.9 7.5h0M207.5 9.8h0M210.9 10.1h0M230.5 12.4h0M149.8 6.5h0M153.1 6.8h0M156.3 7.3h0M163 7.9h0M166.1 8.4h0M169.4 8.7h0M172.7 9.2h0M176 9.5h0M179.2 9.8h0M185.9 10.6h0M192.3 11.3h0M212 13.6h0M215.3 13.9h0M218.6 14.4h0M221.8 14.7h0M225.2 15h0"/><path stroke="#0000bd" d="M205 2.7h0M208.3 3.3h0M211.5 3.5h0M214.9 4h0M218.1 4.3h0M221.3 4.7h0M227.9 5.4h0M173.5 2.5h0M209.6 6.6h0M212.9 7h0M216.1 7.4h0M219.4 7.9h0M226 8.6h0M229.1 9h0M168.1 5.2h0M174.8 5.9h0M184.6 7.2h0M191.2 8h0M214.1 10.4h0M217.4 10.8h0M220.7 11.3h0M223.9 11.7h0M227.2 12.1h0M159.6 7.7h0M182.6 10.3h0M228.5 15.5h0"/><path stroke="#0000d1" d="M222.7 8.2h0"/><path stroke="#000080" d="M98.5 3.9h0M101.9 4.4h0M105.2 4.6h0M108.4 5h0M111.7 5.4h0M114.9 5.9h0M118.3 6.1h0M121.5 6.7h0M124.8 6.9h0M128 7.3h0M131.3 7.7h0M134.6 8.2h0M137.9 8.4h0M141.1 8.9h0M144.4 9.2h0M147.8 9.5h0M151.1 10h0M206.8 16.2h0M210 16.6h0M213.3 17h0M96.5 7.1h0M99.9 7.4h0M103.1 7.8h0M106.5 8.3h0M109.7 8.6h0M113 8.9h0M116.2 9.4h0M119.6 9.6h0M122.8 10.1h0M126.1 10.5h0M129.3 10.8h0M132.7 11.3h0M136 11.6h0M139.1 11.9h0M142.4 12.3h0M145.7 12.6h0M149 13.1h0M152.2 13.5h0M155.7 13.8h0M162 14.6h0M214.5 20.5h0M97.9 10.5h0M101.2 10.9h0M104.5 11.3h0M107.7 11.6h0M110.9 12.1h0M114.3 12.5h0M117.5 12.8h0M120.8 13.2h0M124.2 13.5h0M127.2 13.9h0M130.6 14.3h0M134 14.7h0M137.3 15h0M140.4 15.5h0M143.7 15.7h0M147 16.1h0M150.2 16.5h0M153.5 16.8h0M156.9 17.3h0M163.4 18h0M215.8 24h0M219.2 24.3h0M99.1 13.9h0M102.4 14.5h0M105.6 14.7h0M109 15.2h0M112.2 15.4h0M115.5 15.8h0M118.8 16.3h0M122.1 16.5h0M125.3 17h0M128.7 17.3h0M131.9 17.8h0M135.1 18h0M138.4 18.4h0M141.8 18.9h0M145 19.3h0M148.2 19.6h0M151.6 20h0M154.9 20.4h0M158 20.7h0M197.4 25.2h0M106.9 18.2h0M110.3 18.7h0M113.5 18.9h0M116.7 19.4h0M120.1 19.7h0M123.3 20.2h0M126.6 20.4h0M129.9 20.8h0M133.3 21.2h0M136.5 21.6h0M139.7 22h0M143 22.3h0M146.2 22.6h0M149.5 23.1h0M152.7 23.5h0M156.1 23.8h0M159.3 24.2h0M114.7 22.5h0M124.7 23.5h0M127.8 23.9h0M131.2 24.2h0M134.4 24.7h0M137.8 25.1h0M141 25.4h0M144.2 25.7h0M147.6 26.2h0M150.9 26.6h0M154.2 27h0M157.4 27.3h0M163.8 28h0M206.6 32.8h0M132.5 27.8h0M139 28.4h0M142.3 28.9h0M145.6 29.2h0M148.8 29.6h0M152 30h0M155.4 30.5h0M158.6 30.7h0M162 31.2h0M165.2 31.5h0M168.4 31.8h0M171.7 32.3h0M217.6 37.6h0M133.6 31.2h0M136.9 31.5h0M140.3 32h0M143.5 32.4h0M146.8 32.8h0M150.2 33.1h0M153.4 33.5h0M156.7 33.8h0M160 34.1h0M163.2 34.6h0M166.5 35.1h0M186.2 37.2h0M202.5 39.2h0M209.2 39.9h0"/><path stroke="#000094" d="M154.3 10.3h0M157.6 10.6h0M160.9 11.1h0M170.7 12.1h0M203.6 15.9h0M216.6 17.4h0M158.8 14.2h0M175.3 16.1h0M185 17.2h0M191.8 18h0M201.5 19h0M204.8 19.4h0M208 19.8h0M211.3 20.2h0M218 20.9h0M221.1 21.3h0M224.5 21.7h0M227.6 22h0M160.1 17.6h0M173.2 19.1h0M186.3 20.6h0M193 21.3h0M196.3 21.7h0M202.8 22.5h0M206 22.9h0M209.3 23.3h0M222.5 24.8h0M225.6 25.2h0M228.9 25.4h0M95.9 13.7h0M161.3 21h0M167.9 21.8h0M174.5 22.6h0M184.3 23.7h0M187.7 24h0M190.8 24.5h0M194.2 24.9h0M200.7 25.7h0M210.6 26.7h0M213.9 27.1h0M217.2 27.5h0M223.7 28.2h0M226.9 28.5h0M230.3 28.9h0M97 17.2h0M100.3 17.5h0M103.6 17.8h0M162.8 24.6h0M165.9 24.9h0M172.5 25.7h0M175.8 26h0M182.4 26.8h0M185.6 27.1h0M188.8 27.5h0M198.7 28.7h0M202 29h0M211.8 30.2h0M215.1 30.5h0M218.5 31h0M225 31.6h0M228.2 32.1h0M104.9 21.3h0M108.2 21.7h0M111.6 22h0M118 22.9h0M121.2 23.1h0M160.6 27.6h0M167.2 28.4h0M170.5 28.8h0M190.2 31.1h0M193.4 31.4h0M203.3 32.5h0M209.9 33.3h0M213.1 33.7h0M226.2 35.1h0M122.6 26.6h0M125.8 27h0M129.2 27.5h0M135.7 28.1h0M174.9 32.7h0M181.6 33.4h0M197.9 35.3h0M201.3 35.6h0M207.8 36.4h0M211.1 36.8h0M214.4 37.2h0M224.3 38.3h0M130.4 30.8h0M169.7 35.3h0M173 35.7h0M176.2 36.1h0M179.6 36.5h0M182.9 36.9h0M189.3 37.6h0M192.7 37.9h0M196 38.3h0M199.2 38.7h0M205.8 39.5h0M212.4 40.2h0M222.2 41.2h0M225.5 41.6h0"/><path stroke="#0000a8" d="M164.2 11.5h0M167.4 11.8h0M174 12.6h0M177.3 12.9h0M180.5 13.3h0M183.8 13.7h0M187.1 14h0M190.4 14.5h0M193.6 14.9h0M197 15.3h0M200.3 15.6h0M219.9 17.8h0M223.2 18.2h0M229.8 19h0M165.4 14.9h0M168.8 15.2h0M172 15.7h0M178.5 16.4h0M181.8 16.7h0M188.4 17.6h0M194.9 18.2h0M198.2 18.6h0M231 22.4h0M166.8 18.4h0M169.9 18.8h0M176.6 19.5h0M179.8 19.8h0M183 20.2h0M189.7 21.1h0M199.5 22.2h0M212.7 23.6h0M164.7 21.5h0M171.3 22.3h0M177.7 23h0M181.2 23.4h0M204.1 26h0M207.3 26.4h0M220.4 27.8h0M169.1 25.2h0M179 26.4h0M192.3 28h0M195.5 28.3h0M205.2 29.4h0M208.5 29.7h0M221.7 31.3h0M231.4 32.5h0M101.5 21h0M173.7 29.2h0M177 29.5h0M180.2 29.8h0M183.6 30.3h0M186.8 30.7h0M196.7 31.9h0M200 32.1h0M216.4 34.1h0M219.7 34.4h0M223 34.7h0M229.4 35.5h0M116 25.9h0M178.3 33h0M184.8 33.7h0M188.2 34.2h0M191.4 34.5h0M194.7 34.8h0M204.6 35.9h0M221 37.9h0M227.4 38.6h0M230.7 39h0M123.8 30.1h0M127.1 30.6h0M215.5 40.6h0M218.9 40.8h0M228.8 42.1h0"/><path stroke="#0000bd" d="M226.5 18.6h0M98.3 20.6h0M106.1 24.7h0M109.5 25.1h0M112.6 25.5h0M119.3 26.4h0M110.7 28.7h0M117.3 29.4h0M120.6 29.7h0"/><path stroke="#0000d1" d="M95 20.2h0M99.6 24h0M102.9 24.4h0M107.4 28.2h0M114 28.9h0"/><path stroke="#0000e6" d="M96.3 23.7h0M94.4 26.7h0M97.6 27.2h0M100.9 27.6h0M104.2 27.8h0"/><path stroke="#000080" d="M131.7 34.3h0M138.1 35.2h0M141.4 35.3h0M144.8 35.7h0M148 36.3h0M151.3 36.6h0M154.6 37h0M157.8 37.3h0M161.2 37.6h0M164.5 38.1h0M167.8 38.5h0M190.6 41.1h0M193.9 41.4h0M197.2 41.7h0M200.4 42.2h0M203.8 42.5h0M207 43h0M210.4 43.4h0M213.6 43.6h0M146.1 39.2h0M152.6 40h0M155.8 40.4h0M159.2 40.7h0M201.8 45.7h0M205.1 46.1h0M208.3 46.3h0M211.6 46.7h0M214.9 47.2h0M218.1 47.5h0M221.4 47.9h0M227.9 48.6h0M212.9 50.1h0M219.5 50.9h0M222.6 51.3h0M226 51.7h0M210.9 53.2h0M214.2 53.6h0M217.4 54.1h0M220.6 54.4h0M223.9 54.7h0M225.3 58.3h0M174.1 55.8h0"/><path stroke="#000094" d="M134.8 34.6h0M217 44.1h0M220.1 44.4h0M223.5 44.7h0M230.1 45.6h0M129.6 37.3h0M132.9 37.7h0M136.2 38.2h0M139.4 38.4h0M142.8 38.9h0M149.2 39.6h0M162.4 41.1h0M165.7 41.5h0M169 42h0M192 44.5h0M195.3 45h0M198.5 45.3h0M224.7 48.2h0M231.3 49h0M134.1 41.2h0M153.8 43.6h0M157.2 43.8h0M160.4 44.1h0M163.7 44.6h0M167 44.9h0M203.1 49h0M206.2 49.4h0M209.7 49.9h0M216.2 50.6h0M229.3 52.1h0M207.6 53h0M227.2 55.1h0M230.5 55.7h0M166.3 51.5h0M169.4 51.9h0M199 55.3h0M208.8 56.5h0M215.5 57.1h0M218.6 57.6h0M222.1 57.8h0M228.6 58.6h0M170.8 55.4h0M177.3 56.2h0M181.8 60h0M188.4 60.7h0M189.8 64.2h0"/><path stroke="#0000a8" d="M125.1 33.6h0M128.4 34h0M170.9 38.8h0M177.6 39.6h0M180.8 40h0M184.1 40.4h0M187.4 40.8h0M226.7 45.2h0M172.2 42.3h0M178.9 43h0M185.3 43.8h0M188.8 44.1h0M131 40.8h0M137.5 41.5h0M140.7 42h0M144 42.3h0M147.3 42.7h0M150.5 43.2h0M170.2 45.4h0M173.6 45.7h0M186.7 47.2h0M189.9 47.7h0M193.2 48h0M196.5 48.4h0M199.7 48.8h0M99.5 40.7h0M138.7 45.1h0M142.1 45.5h0M155.1 46.9h0M158.5 47.4h0M161.6 47.7h0M164.9 48.1h0M168.3 48.4h0M171.6 48.9h0M181.4 50h0M184.7 50.3h0M187.9 50.7h0M194.5 51.5h0M197.8 51.9h0M201 52.3h0M204.3 52.5h0M143.2 48.9h0M156.5 50.5h0M159.8 50.9h0M162.9 51.1h0M176 52.6h0M179.4 53.1h0M192.5 54.6h0M195.8 54.9h0M202.3 55.6h0M205.6 56h0M212.1 56.8h0M102 47.6h0M108.5 48.2h0M137.9 51.7h0M141.3 52.1h0M147.8 52.7h0M151.1 53.1h0M154.4 53.4h0M164.2 54.6h0M167.5 55h0M180.7 56.5h0M183.8 56.8h0M187.2 57.3h0M190.4 57.6h0M203.6 59.1h0M206.8 59.6h0M210.1 59.9h0M213.3 60.3h0M216.8 60.6h0M220 61h0M223.2 61.4h0M229.8 62.1h0M145.9 55.9h0M149 56.3h0M152.3 56.6h0M155.7 57h0M158.9 57.3h0M162.2 57.7h0M175.3 59.2h0M178.5 59.7h0M185.1 60.3h0M191.6 61.1h0M195 61.4h0M224.5 64.9h0M227.7 65.2h0M173.3 62.4h0M183.2 63.5h0M193 64.6h0M196.3 65h0"/><path stroke="#0000bd" d="M121.8 33.2h0M174.3 39.2h0M116.5 36h0M123.1 36.6h0M126.4 37h0M175.6 42.7h0M182.1 43.4h0M121.1 39.7h0M124.4 40.2h0M127.5 40.6h0M176.7 46.1h0M180.1 46.4h0M183.5 46.9h0M92.8 39.9h0M112.4 42.1h0M119.1 42.9h0M128.9 43.9h0M132.3 44.4h0M135.4 44.7h0M145.3 45.9h0M148.5 46.2h0M151.9 46.7h0M174.9 49.2h0M178 49.6h0M191.1 51h0M94.2 43.4h0M97.4 43.6h0M100.8 44.1h0M103.9 44.4h0M107.3 44.8h0M127 47h0M130.3 47.5h0M133.5 47.8h0M136.7 48.2h0M140.1 48.5h0M146.6 49.3h0M149.9 49.6h0M153.2 50.1h0M172.9 52.4h0M182.7 53.5h0M185.9 53.9h0M189.1 54.1h0M98.6 47.2h0M105.1 47.9h0M111.7 48.7h0M115 49h0M131.5 50.9h0M134.7 51.3h0M144.6 52.4h0M157.7 53.9h0M160.9 54.3h0M193.8 57.9h0M197 58.4h0M200.3 58.8h0M226.5 61.7h0M103.2 51.1h0M106.5 51.3h0M112.9 52.2h0M132.7 54.5h0M139.2 55.2h0M142.5 55.6h0M165.4 58h0M172.1 58.8h0M198.2 61.8h0M218 64h0M221.2 64.4h0M231.1 65.5h0M127.4 57.1h0M130.7 57.5h0M134 57.8h0M137.2 58.1h0M140.6 58.5h0M147.1 59.3h0M150.4 59.7h0M153.6 60.1h0M156.9 60.5h0M163.6 61.3h0M166.8 61.6h0M170 61.9h0M179.9 63h0M186.4 63.7h0M199.5 65.3h0"/><path stroke="#0000d1" d="M112.1 32.2h0M115.4 32.5h0M118.6 32.9h0M93.5 33.4h0M109.9 35.2h0M119.7 36.2h0M94.9 36.8h0M101.3 37.5h0M111.3 38.6h0M114.5 39.1h0M117.7 39.4h0M96.1 40.2h0M102.6 41h0M115.8 42.4h0M122.3 43.2h0M125.7 43.7h0M110.5 45.3h0M113.7 45.5h0M123.6 46.6h0M95.3 46.7h0M118.3 49.4h0M121.5 49.8h0M128.2 50.5h0M99.9 50.6h0M109.8 51.8h0M116.3 52.4h0M119.7 52.8h0M122.8 53.3h0M126.2 53.5h0M129.4 54h0M136 54.8h0M168.7 58.5h0M201.5 62.2h0M204.8 62.5h0M211.5 63.4h0M214.7 63.7h0M104.4 54.4h0M111.1 55.2h0M117.6 55.9h0M120.8 56.4h0M124.1 56.7h0M143.8 59h0M160.1 60.9h0M176.6 62.6h0M202.7 65.7h0M222.5 68h0M225.7 68.3h0M229.1 68.8h0"/><path stroke="#0000e6" d="M95.5 30.2h0M98.8 30.5h0M102.2 30.9h0M105.4 31.3h0M108.7 31.7h0M96.8 33.8h0M100.1 34h0M103.5 34.4h0M106.7 34.9h0M113.3 35.6h0M98.2 37.2h0M104.7 37.9h0M107.9 38.3h0M105.9 41.5h0M109.3 41.7h0M117 45.9h0M120.3 46.4h0M92.1 46.4h0M124.9 50.1h0M93.3 49.9h0M96.7 50.2h0M208.2 63h0M91.3 52.9h0M94.5 53.3h0M101.2 54.2h0M107.7 54.8h0M114.3 55.6h0M206.1 66.1h0M215.8 67.3h0M219.2 67.6h0"/><path stroke="#0000fa" d="M97.9 53.6h0M209.4 66.5h0"/><path stroke="#000fff" d="M212.6 66.9h0"/><path stroke="#000080" d="M191.5 77.7h0M186.2 80.3h0M184.3 83.4h0"/><path stroke="#000094" d="M175.9 69.3h0M189 70.7h0M192.2 71h0M170.6 72.1h0M173.9 72.4h0M180.4 73.1h0M183.6 73.4h0M187 73.8h0M181.7 76.5h0M184.9 77h0M188.2 77.3h0M183 80h0M189.6 80.8h0M192.7 81.1h0M196 81.6h0M187.4 83.9h0M190.6 84.2h0M194 84.6h0"/><path stroke="#0000a8" d="M171.2 65.4h0M187.6 67.2h0M191 67.6h0M194.2 68.1h0M197.5 68.3h0M156.2 67h0M159.4 67.3h0M162.8 67.7h0M165.9 68.2h0M169.3 68.5h0M179.1 69.6h0M182.5 70.1h0M185.7 70.3h0M195.5 71.6h0M177.2 72.8h0M190.3 74.2h0M193.6 74.5h0M196.7 75h0M178.4 76.2h0M180.9 83.2h0M197.4 84.9h0M192.1 87.7h0M195.4 88h0M199.8 92h0"/><path stroke="#0000bd" d="M141.8 62h0M145 62.5h0M148.4 62.7h0M151.6 63.2h0M158.2 63.8h0M161.5 64.2h0M174.6 65.8h0M177.9 66.1h0M181.1 66.6h0M184.4 67h0M200.7 68.8h0M172.5 68.8h0M198.7 71.8h0M202 72.2h0M164.1 71.2h0M167.3 71.5h0M200.2 75.3h0M175.1 75.9h0M194.8 78.1h0M198 78.4h0M201.3 78.8h0M179.6 79.7h0M199.2 81.8h0M142.7 82.1h0M188.7 87.3h0M198.6 88.4h0M201.8 88.8h0M206.4 92.6h0M212.9 93.3h0"/><path stroke="#0000d1" d="M132 60.9h0M155 63.6h0M164.7 64.6h0M167.9 65.1h0M149.6 66.2h0M152.9 66.7h0M160.7 70.9h0M203.3 75.8h0M206.7 76h0M171.8 75.4h0M204.6 79.2h0M230.7 82.1h0M202.5 82.2h0M205.9 82.7h0M212.4 83.4h0M148.1 79.4h0M200.6 85.4h0M203.9 85.7h0M207.1 86.1h0M210.4 86.5h0M213.7 86.9h0M217 87.2h0M149.5 82.8h0M182.2 86.7h0M185.5 87h0M205 89.1h0M208.4 89.5h0M211.6 90h0M215 90.3h0M218.3 90.6h0M203 92.4h0M209.7 93h0M216.1 93.8h0M219.5 94.1h0M222.7 94.5h0M226 94.8h0"/><path stroke="#0000e6" d="M125.3 60.1h0M135.2 61.2h0M138.5 61.8h0M204.1 69.2h0M207.3 69.4h0M227.1 71.7h0M230.3 72.2h0M139.8 65.1h0M146.3 65.8h0M205.3 72.5h0M208.7 73h0M211.8 73.4h0M215.2 73.8h0M157.5 70.4h0M209.8 76.4h0M213.2 76.9h0M216.4 77.3h0M229.6 78.8h0M152.1 73.2h0M207.9 79.6h0M211.2 79.9h0M217.7 80.7h0M220.9 81.1h0M227.6 81.8h0M209.2 83h0M215.7 83.8h0M220.3 87.6h0M223.6 88h0M226.9 88.3h0M156 83.6h0M221.4 91.1h0M224.9 91.5h0M228 91.8h0M231.4 92.1h0M196.6 91.6h0M229.3 95.2h0"/><path stroke="#800000" d="M90.3 76.2h0M93.7 76.5h0M97 76.9h0M100.2 77.2h0M103.5 77.7h0M106.8 78h0M110.1 78.4h0M113.4 78.8h0M116.6 79.1h0M119.8 79.6h0M123.1 79.9h0M126.4 80.3h0M129.6 80.5h0M88.3 79.1h0M91.6 79.6h0M95 80h0M98.2 80.2h0M101.6 80.7h0M104.7 81.1h0M108.1 81.4h0M111.4 81.8h0M114.6 82.3h0M117.8 82.6h0M121.2 82.9h0M124.5 83.4h0M127.7 83.7h0M131 84h0M134.2 84.4h0M137.5 84.9h0"/><path stroke="#0000fa" d="M210.7 69.8h0M213.9 70.3h0M143.1 65.5h0M221.8 74.5h0M228.3 75.2h0M144.4 69h0M154.2 70.1h0M219.6 77.6h0M222.9 77.9h0M226.4 78.3h0M148.8 72.8h0M168.6 75.1h0M214.5 80.3h0M224.3 81.4h0M176.4 79.3h0M219 84.2h0M225.6 84.8h0M228.9 85.2h0M141.6 78.6h0M230.1 88.8h0M146.2 82.5h0"/><path stroke="#000fff" d="M118.9 59.4h0M128.7 60.5h0M217.3 70.7h0M220.5 71h0M223.8 71.4h0M130 64.1h0M136.6 64.8h0M218.4 74.1h0M225.1 74.9h0M141 68.7h0M147.6 69.4h0M145.5 72.4h0M158.6 74h0M143.7 75.6h0M222.2 84.4h0M151.4 79.7h0M177.6 82.8h0M178.9 86.2h0M150.7 86.4h0"/><path stroke="#0024ff" d="M92.6 56.4h0M122.2 59.9h0M133.2 64.4h0M137.7 68.2h0M150.8 69.8h0M155.5 73.5h0M162.1 74.3h0M165.3 74.6h0M137 74.8h0M150 76.3h0M169.8 78.6h0M173 79h0M144.8 79.1h0"/><path stroke="#0038ff" d="M108.9 58.2h0M126.6 63.6h0M140.4 75.1h0M159.9 77.5h0M166.4 78.1h0M138.2 78.3h0M152.6 83.3h0"/><path stroke="#004dff" d="M105.8 58h0M115.5 59h0M124.6 66.8h0M134.6 67.9h0M132.5 70.9h0M163.3 77.8h0M154.6 80.1h0M162.6 84.4h0"/><path stroke="#0061ff" d="M102.4 57.6h0M112.3 58.7h0M139.1 71.8h0M142.3 72h0M146.9 75.9h0M147.4 85.9h0"/><path stroke="#fa0000" d="M115.3 75.6h0"/><path stroke="#0075ff" d="M96 56.9h0M99.2 57.3h0M120.1 62.8h0M128 67.1h0M135.7 71.4h0M153.4 76.8h0M171.1 81.9h0M159.1 83.9h0M165.7 84.6h0M153.9 86.7h0"/><path stroke="#ff0f00" d="M108.7 75h0M112.1 75.2h0"/><path stroke="#008aff" d="M123.4 63.3h0M131.1 67.5h0M156.6 77h0M161.3 80.8h0M167.8 81.7h0M172.3 85.5h0M175.7 85.9h0M157.1 87.1h0"/><path stroke="#009eff" d="M97.2 60.4h0M116.9 62.5h0M133.8 74.5h0M131.8 77.5h0M174.3 82.3h0M169.1 85.1h0M167.1 88.2h0"/><path stroke="#00b2ff" d="M93.9 60h0M113.5 62.2h0M104.9 64.5h0M157.9 80.6h0M164.4 81.2h0M160.4 87.5h0"/><path stroke="#00c7ff" d="M109.4 68.3h0M112.8 68.7h0M129.1 70.6h0M130.4 74.1h0M135 78h0"/><path stroke="#ff6100" d="M118.6 76h0"/><path stroke="#00dbff" d="M100.4 60.7h0M110.3 61.9h0M98.4 63.8h0M121.3 66.4h0M106.2 68.1h0M139.6 81.7h0"/><path stroke="#00f0ff" d="M103.6 61h0M107 61.3h0M118.1 66h0M93.2 66.5h0M103 67.6h0M116 69.1h0M94.3 70h0M163.8 87.7h0M193.3 91.1h0"/><path stroke="#05fffa" d="M89.8 66.2h0M99.7 67.2h0M119.3 69.4h0M97.8 70.3h0M100.9 70.7h0M107.5 71.5h0M114.1 72.2h0M127.2 73.6h0"/><path stroke="#ff9e00" d="M133.1 81.1h0M140.8 85.2h0"/><path stroke="#1affe5" d="M90.7 59.6h0M101.7 64.2h0M126 70.1h0M91.1 69.6h0M110.8 71.8h0M117.3 72.5h0M124 73.4h0M128.4 77.2h0M170.3 88.5h0"/><path stroke="#ffb300" d="M89.2 72.7h0"/><path stroke="#2effd1" d="M91.8 63.1h0M111.5 65.2h0M104.2 71h0M95.6 73.5h0"/><path stroke="#ffc700" d="M183.4 90.1h0"/><path stroke="#42ffbd" d="M88.5 62.7h0M95.2 63.4h0M108.2 64.8h0M114.9 65.7h0M96.4 66.9h0M122.6 69.8h0M173.7 88.9h0"/><path stroke="#ffdb00" d="M105.6 74.5h0"/><path stroke="#57ffa8" d="M99 73.9h0M102.2 74.1h0"/><path stroke="#fff000" d="M186.6 90.4h0"/><path stroke="#6bff94" d="M120.6 72.9h0M176.9 89.2h0"/><path stroke="#80ff80" d="M125.2 76.8h0M136.2 81.3h0M180.2 89.6h0"/><path stroke="#d1ff2e" d="M92.3 73h0"/><path stroke="#a8ff57" d="M144 85.6h0M190 90.8h0"/><path stroke="#bdff42" d="M121.9 76.4h0"/><path stroke="#000080" d="M175 92.4h0M179.5 96.3h0M185.9 96.9h0M132.7 97.7h0M127.4 100.2h0M130.7 100.6h0M134 100.9h0M137.2 101.4h0M140.5 101.7h0M138.7 104.9h0M141.9 105.2h0M145.1 105.6h0"/><path stroke="#000094" d="M199.1 98.4h0M202.4 98.8h0M208.9 99.6h0M212.1 100h0M203.7 102.4h0M215.2 117h0M219.7 120.7h0"/><path stroke="#0000a8" d="M201.2 95.3h0M204.4 95.7h0M215.5 100.3h0M206.9 102.6h0M210.2 103.1h0M213.5 103.4h0M219.9 104.2h0M136 97.9h0M218.5 117.4h0"/><path stroke="#0000bd" d="M207.7 96.1h0M210.9 96.4h0M214.2 96.8h0M217.5 97.2h0M220.7 97.5h0M224 98.1h0M205.5 99.3h0M218.7 100.7h0M222 101h0M225.3 101.5h0M228.6 101.9h0M200.4 101.9h0M216.7 103.8h0M223.3 104.6h0M226.6 104.9h0M201.6 105.3h0M205 105.8h0M211.5 106.4h0M214.8 106.9h0M217.9 107.4h0M206.1 109.2h0M210.6 113.2h0M211.9 116.5h0"/><path stroke="#0000d1" d="M227.3 98.4h0M230.6 98.8h0M229.9 105.2h0M208.1 106.2h0M221.3 107.7h0M224.6 108h0M204.2 112.3h0M214 113.4h0M216.5 120.3h0"/><path stroke="#0000e6" d="M197.9 95.1h0M227.9 108.3h0M202.9 108.9h0M209.4 109.7h0M212.7 110.1h0M215.9 110.3h0M219.3 110.6h0M217.2 113.9h0M230.4 115.2h0M221.9 117.7h0M213.2 120h0M223.1 121.2h0"/><path stroke="#800000" d="M89.6 82.6h0M93 83.1h0M96.3 83.3h0M99.4 83.8h0M102.7 84.1h0M106 84.6h0M109.4 84.9h0M112.5 85.3h0M115.8 85.8h0M119.2 86.1h0M122.5 86.4h0M125.6 86.8h0M128.9 87.1h0M132.3 87.6h0M135.6 87.9h0M138.7 88.3h0M142 88.7h0M145.4 89h0M87.7 85.7h0M90.9 86.1h0M94.2 86.5h0M97.4 86.9h0M100.7 87.2h0M104.1 87.7h0M107.3 87.9h0M110.6 88.3h0M113.9 88.8h0M117.1 89.1h0M120.4 89.4h0M123.7 89.9h0M126.9 90.2h0M130.1 90.5h0M133.4 91h0M136.8 91.3h0M146.7 92.5h0M172.8 95.4h0M95.3 89.9h0M98.6 90.4h0M101.9 90.6h0M105.2 91h0M108.6 91.4h0M111.7 91.9h0M115.2 92.2h0M118.4 92.6h0M121.6 93h0M125 93.3h0M128.3 93.7h0M131.4 94h0M141.2 95.1h0M144.5 95.7h0M147.9 95.9h0M151.1 96.4h0M154.3 96.8h0M157.6 97.1h0M161.1 97.5h0M190.5 100.8h0M90.1 92.7h0M93.3 93.1h0M96.7 93.5h0M99.9 93.9h0M103.3 94.2h0M106.5 94.5h0M109.8 95h0M113.1 95.4h0M116.4 95.8h0M149.2 99.4h0M152.4 99.9h0M155.6 100.2h0M159 100.6h0M162.2 100.9h0M165.5 101.3h0M168.8 101.7h0M172.1 102.1h0M182 103.2h0M195.2 104.6h0M88.2 95.8h0M91.4 96.3h0M97.9 97h0M101.2 97.4h0M104.4 97.6h0M107.8 98h0M111.2 98.5h0M114.4 98.8h0M117.6 99.2h0M153.6 103.3h0M156.9 103.6h0M160.2 103.9h0M163.6 104.5h0M166.8 104.8h0M170.1 105.2h0M173.3 105.6h0M176.7 105.9h0M180 106.3h0M183.3 106.6h0M186.4 107.1h0M86.1 98.8h0M89.4 99.2h0M96 100.1h0M99.2 100.3h0M102.5 100.7h0M105.8 101.1h0M109 101.4h0M112.4 101.9h0M115.6 102.3h0M118.9 102.7h0M122.1 102.9h0M125.4 103.4h0M155 106.8h0M158.3 107.2h0M161.6 107.4h0M164.7 107.8h0M168.1 108.3h0M171.4 108.6h0M174.6 109.1h0M177.8 109.4h0M181.3 109.8h0M184.5 110h0M187.8 110.4h0M191.1 110.8h0M87.4 102.3h0M100.6 103.8h0M103.7 104.1h0M107.1 104.5h0M110.4 104.9h0M113.7 105.3h0M116.9 105.7h0M120.1 106h0M123.4 106.4h0M126.6 106.7h0M129.9 107.2h0M133.2 107.5h0M136.6 108h0M143.2 108.6h0M149.7 109.5h0M156.3 110.2h0M159.4 110.6h0M162.8 110.9h0M166.1 111.4h0M169.4 111.6h0M172.6 112.1h0M175.9 112.4h0M179.1 112.9h0M182.5 113.3h0M185.8 113.5h0M189 114h0M105.1 107.6h0M108.3 108.2h0M111.5 108.5h0M114.8 108.8h0M118.1 109.2h0M121.5 109.6h0M124.6 109.9h0M128 110.3h0M131.2 110.8h0M134.5 111h0M137.7 111.4h0M141.2 111.7h0M144.4 112.1h0M147.6 112.5h0M150.9 112.9h0M154.2 113.3h0M157.6 113.6h0M160.7 114h0M164.1 114.4h0M167.3 114.8h0M170.6 115.2h0M174 115.6h0M177.1 115.9h0M180.4 116.3h0M183.7 116.6h0M187 116.9h0M190.4 117.3h0"/><path stroke="#0000fa" d="M231.1 108.7h0M199.6 108.6h0M222.6 111.1h0M225.8 111.5h0M229.1 111.9h0M200.9 112h0M220.6 114.2h0M227.2 115h0M208.8 116.2h0M225 118h0M85.4 105.4h0"/><path stroke="#940000" d="M143.3 92.1h0M153.2 93.2h0M156.5 93.6h0M92.1 89.6h0"/><path stroke="#000fff" d="M197.6 111.6h0M223.8 114.7h0M228.3 118.4h0M229.6 121.8h0"/><path stroke="#a80000" d="M84.8 95.5h0M192.3 114.2h0M98.4 107h0"/><path stroke="#0024ff" d="M187.2 100.5h0M202 115.4h0M206.7 119.3h0M210 119.7h0"/><path stroke="#bd0000" d="M140 91.7h0M134.7 94.5h0M147.2 102.6h0M90.6 102.6h0"/><path stroke="#0038ff" d="M174.1 98.9h0M198.8 115h0M205.4 115.9h0"/><path stroke="#d10000" d="M164.4 97.8h0M226.4 121.5h0"/><path stroke="#004dff" d="M189.3 97.3h0M195.8 98.1h0M203.5 119h0"/><path stroke="#0061ff" d="M152 89.7h0M158.4 90.5h0M194.5 94.6h0M200 118.4h0"/><path stroke="#fa0000" d="M88.8 89.3h0M150.5 103h0"/><path stroke="#ff0f00" d="M175.4 102.4h0M97.3 103.5h0"/><path stroke="#ff3800" d="M178.7 102.7h0M120.9 99.4h0"/><path stroke="#00b2ff" d="M142.5 98.6h0M196.9 118.2h0"/><path stroke="#ff4c00" d="M128.8 103.7h0M207.4 112.7h0M146.5 109h0M153 109.9h0"/><path stroke="#00c7ff" d="M155.2 90.1h0M182.8 96.5h0M198.3 105.1h0M193.1 107.8h0M148.3 106.1h0"/><path stroke="#ff6100" d="M194.4 111.2h0M139.9 108.4h0"/><path stroke="#00dbff" d="M176 95.8h0M183.9 100h0M196.3 108h0M195.5 114.7h0M95.1 106.5h0"/><path stroke="#ff7500" d="M170.8 98.7h0M185.2 103.5h0M189.9 107.3h0M93.9 103h0"/><path stroke="#00f0ff" d="M197.1 101.6h0"/><path stroke="#ff8a00" d="M169.5 95h0"/><path stroke="#05fffa" d="M167.6 98.2h0M143.8 102.2h0"/><path stroke="#ff9e00" d="M149.8 92.9h0M129.4 97.2h0M124.2 99.8h0"/><path stroke="#1affe5" d="M148.6 89.4h0M165 91.2h0M138 94.8h0M126.1 96.8h0M139.3 98.4h0M132 104.2h0"/><path stroke="#ffb300" d="M180.7 99.7h0M119.6 96.1h0M101.7 107.3h0"/><path stroke="#2effd1" d="M178.2 92.8h0M181.3 93.1h0M88.7 105.8h0"/><path stroke="#ffc700" d="M86.9 92.3h0M188.5 103.9h0M191.8 104.2h0M94.8 96.6h0"/><path stroke="#42ffbd" d="M191.2 94.3h0"/><path stroke="#fff000" d="M166.2 94.7h0M146 99h0"/><path stroke="#6bff94" d="M168.2 91.6h0M122.9 96.4h0"/><path stroke="#faff05" d="M193.8 101.1h0M92.6 99.6h0"/><path stroke="#80ff80" d="M177.5 99.3h0"/><path stroke="#e5ff1a" d="M159.8 94h0"/><path stroke="#94ff6b" d="M188 93.8h0M91.9 106.2h0"/><path stroke="#d1ff2e" d="M85.7 88.9h0M151.6 106.4h0"/><path stroke="#a8ff57" d="M161.7 91h0M184.6 93.6h0M192.6 97.7h0M193.5 117.8h0"/><path stroke="#bdff42" d="M171.7 92.1h0M163 94.5h0M135.2 104.5h0"/><path stroke="#000080" d="M86.7 108.9h0M96.4 110h0M94.5 113.1h0M222.2 127.6h0M81.8 121.7h0M98.3 123.5h0M127.8 126.9h0M131.1 127.3h0M134.4 127.6h0M137.5 127.9h0M140.8 128.3h0M99.5 126.9h0M135.6 131h0M138.8 131.4h0M142.2 131.8h0M136.9 134.5h0M209 142.7h0M216.8 147h0"/><path stroke="#000094" d="M89.9 109.2h0M224.4 124.5h0M219.1 127.3h0M132.4 130.8h0M140.1 134.9h0M220.2 147.4h0"/><path stroke="#0000a8" d="M217.9 123.9h0M221.1 124.2h0M226.8 131.4h0M129.7 123.7h0M145.4 132.2h0M207.8 139.4h0M205.6 142.5h0M212.3 143.1h0"/><path stroke="#0000bd" d="M101.1 113.9h0M89.6 125.8h0M214.3 140.1h0M215.5 143.5h0M213.6 146.6h0"/><path stroke="#0000d1" d="M214.5 123.5h0M227.6 124.9h0M206.4 135.8h0M201.2 138.6h0M211 139.7h0M218.8 144h0"/><path stroke="#0000e6" d="M212.5 126.6h0M215.7 126.9h0M204.4 138.9h0"/><path stroke="#800000" d="M106.4 111.1h0M109.5 111.4h0M112.8 111.9h0M116.2 112.3h0M119.5 112.7h0M122.6 113.1h0M126 113.3h0M129.2 113.8h0M132.5 114.2h0M135.9 114.6h0M139.1 115h0M142.5 115.3h0M145.7 115.7h0M148.9 116h0M158.7 117.1h0M162 117.5h0M165.3 117.9h0M168.5 118.2h0M171.8 118.7h0M175.1 118.9h0M178.4 119.3h0M181.7 119.7h0M185 120.2h0M188.2 120.5h0M110.8 115.1h0M114.1 115.3h0M117.4 115.7h0M120.7 116.1h0M124 116.6h0M127.3 116.8h0M130.6 117.1h0M133.8 117.7h0M137 117.9h0M140.4 118.3h0M143.6 118.6h0M147 119h0M150.3 119.4h0M153.5 119.9h0M156.8 120.3h0M163.2 120.9h0M166.7 121.2h0M169.8 121.8h0M173.1 122h0M176.4 122.4h0M179.7 122.8h0M182.9 123.3h0M82.5 115.1h0M85.9 115.4h0M89.1 115.8h0M92.4 116.3h0M105.5 117.8h0M112.1 118.4h0M115.4 118.8h0M118.7 119.1h0M122 119.5h0M131.8 120.7h0M135 121.1h0M138.3 121.5h0M141.6 121.9h0M144.8 122.3h0M148.2 122.6h0M151.5 122.9h0M154.8 123.2h0M157.9 123.7h0M161.3 124h0M164.7 124.4h0M167.8 124.7h0M171.2 125.1h0M174.4 125.6h0M177.6 126h0M100.3 120.5h0M103.5 120.7h0M106.8 121.2h0M110.1 121.6h0M113.3 121.9h0M116.6 122.3h0M146.1 125.7h0M149.5 126h0M152.7 126.3h0M156.1 126.9h0M159.3 127.1h0M162.6 127.5h0M165.8 127.9h0M169.1 128.2h0M172.5 128.7h0M175.6 129h0M101.5 123.8h0M104.9 124.3h0M108.2 124.6h0M111.4 125.1h0M114.7 125.3h0M117.8 125.8h0M154.1 129.8h0M157.2 130.2h0M173.7 132.2h0M102.8 127.4h0M106.1 127.7h0M109.3 128.1h0M112.6 128.6h0M115.9 128.8h0M119.2 129.3h0M122.5 129.5h0M155.2 133.4h0M158.6 133.7h0M161.7 134.2h0M100.8 130.4h0M110.6 131.5h0M113.9 132h0M117.2 132.2h0M120.4 132.7h0M123.8 133h0M126.9 133.4h0M130.3 133.8h0M98.7 133.5h0M102 134h0M105.4 134.2h0M108.7 134.6h0M111.8 135.1h0M115.2 135.4h0M118.3 135.8h0M121.7 136.1h0M125.1 136.6h0M128.3 136.9h0M131.6 137.3h0M134.9 137.7h0M138.1 138h0M200.3 145.2h0"/><path stroke="#0000fa" d="M187.5 127.1h0M220.3 130.8h0M188.8 130.4h0M124.4 126.5h0M194.6 137.9h0M197.9 138.1h0M222.2 144.3h0"/><path stroke="#940000" d="M150.7 129.6h0M167 131.3h0M104.1 130.9h0"/><path stroke="#000fff" d="M228.9 128.5h0M223.7 131.1h0M199.9 135.1h0M213 136.7h0M93 126.2h0M217.6 140.4h0M220.8 140.7h0M207 145.8h0M210.3 146.2h0"/><path stroke="#a80000" d="M119.9 122.7h0M178.9 129.4h0M221.6 134.2h0"/><path stroke="#0024ff" d="M207.9 122.8h0M211.2 123.1h0M217.1 130.5h0M185.6 130.2h0M209.7 136.1h0M202.4 142h0"/><path stroke="#bd0000" d="M108.8 118.1h0M125.7 129.9h0"/><path stroke="#0038ff" d="M201.8 131.9h0M95 123.1h0M203.2 135.4h0M216.4 137.1h0M226.1 138.1h0M189.2 140.5h0M192.6 141h0M199.2 141.6h0M187.4 143.7h0"/><path stroke="#d10000" d="M152.2 116.3h0M84.6 112h0M128.6 120.3h0M224.9 134.7h0M160.5 130.6h0M97.5 130h0"/><path stroke="#004dff" d="M190.8 127.4h0M133 124.2h0M192 130.9h0M195.3 131.3h0M198.5 131.7h0M183.5 133.3h0M193.4 134.3h0M196.6 134.7h0M219.5 137.4h0M222.9 137.6h0M191.3 137.5h0M224.1 141.1h0M176.2 139.1h0M195.8 141.3h0M157.7 140.3h0M174.2 142.2h0M177.4 142.4h0M180.8 142.8h0M183.9 143.2h0M203.8 145.6h0"/><path stroke="#e50000" d="M160 120.6h0M123.3 123.1h0M186.8 133.5h0"/><path stroke="#0061ff" d="M209.3 126.1h0M218.4 133.9h0M175 135.6h0M181.5 136.3h0M184.7 136.8h0M166.3 137.9h0M169.7 138.3h0M173 138.7h0M179.5 139.5h0M182.7 139.7h0M186.1 140.1h0M151.3 139.6h0M154.6 139.8h0M161.1 140.7h0M164.3 140.9h0M167.6 141.5h0M170.8 141.7h0M190.6 144h0"/><path stroke="#fa0000" d="M107.5 114.6h0M83.8 118.6h0M121.1 126.1h0"/><path stroke="#0075ff" d="M204.7 122.4h0M194.1 127.8h0M215 133.6h0M188 137h0M193.9 144.4h0"/><path stroke="#ff0f00" d="M155.4 116.7h0M186.3 123.5h0M87.2 119h0M90.4 119.3h0M88.4 122.4h0M94.3 129.8h0M107.4 131.3h0"/><path stroke="#008aff" d="M126.4 123.5h0M205.3 132.3h0M211.7 133.1h0M144.1 128.8h0M180.2 132.8h0M163 137.5h0"/><path stroke="#ff2400" d="M97.1 120.1h0M92.1 132.8h0M141.4 138.4h0"/><path stroke="#009eff" d="M201.5 122h0M189.6 123.9h0M192.9 124.3h0M196.1 124.7h0M206 125.9h0M210.6 129.7h0M213.7 129.9h0M208.5 132.8h0M86.3 125.5h0M171.6 135.1h0M148 139.2h0"/><path stroke="#ff3800" d="M95.7 116.5h0M125.3 119.9h0M181 126.3h0M82.3 131.6h0M95.5 133.2h0"/><path stroke="#00b2ff" d="M198.2 121.7h0M202.6 125.4h0M159.8 137.2h0M197.1 144.7h0"/><path stroke="#ff4c00" d="M225.5 128h0M147.4 129.1h0"/><path stroke="#00c7ff" d="M197.5 128.1h0M200.6 128.5h0M203.9 128.9h0"/><path stroke="#00dbff" d="M194.8 121.3h0"/><path stroke="#ff7500" d="M163.7 131h0"/><path stroke="#00f0ff" d="M199.3 125h0M207.2 129.3h0M182.2 129.7h0M177 132.6h0M156.5 136.8h0"/><path stroke="#ff8a00" d="M89 132.4h0"/><path stroke="#05fffa" d="M93.1 109.7h0M168.4 134.8h0M149.9 136.1h0M144.6 138.7h0"/><path stroke="#ff9e00" d="M102.3 117.3h0M170.4 131.7h0M178.2 135.9h0M91 129.3h0M85.7 132h0"/><path stroke="#1affe5" d="M139.6 124.9h0M142.9 125.2h0"/><path stroke="#ffb300" d="M104.2 114.3h0M148.8 132.5h0"/><path stroke="#2effd1" d="M133.5 134.2h0M153.3 136.5h0"/><path stroke="#ffdb00" d="M99.7 110.3h0M91.1 112.7h0M96.3 126.6h0M165.1 134.4h0"/><path stroke="#57ffa8" d="M184.3 126.6h0"/><path stroke="#fff000" d="M87.9 112.3h0M152 133h0M81.1 128.2h0"/><path stroke="#6bff94" d="M191.5 120.9h0M136.3 124.6h0"/><path stroke="#faff05" d="M93.7 119.8h0M190.2 134h0M84.4 128.5h0M146.7 135.7h0"/><path stroke="#80ff80" d="M97.6 113.6h0M98.9 116.9h0M87.7 128.9h0"/><path stroke="#e5ff1a" d="M129.1 130.4h0"/><path stroke="#94ff6b" d="M103.1 110.7h0M143.3 135.3h0"/><path stroke="#d1ff2e" d="M85.1 122h0M91.7 122.8h0"/><path stroke="#a8ff57" d="M83.2 125.2h0"/><path stroke="#000080" d="M83.6 135.2h0M87 135.5h0M81.6 138.2h0M85 138.6h0M88.1 138.9h0M91.5 139.3h0M94.8 139.6h0M98.1 140.1h0M82.9 141.6h0M86.2 142.1h0M89.4 142.4h0M92.7 142.8h0M96.1 143.1h0M99.2 143.7h0M102.6 144h0"/><path stroke="#000094" d="M79.5 141.4h0M91.9 149.3h0"/><path stroke="#0000a8" d="M90.1 135.8h0"/><path stroke="#0000e6" d="M96.8 136.6h0M100.6 147h0"/><path stroke="#800000" d="M103.3 137.5h0M106.5 137.8h0M110 138h0M116.4 138.8h0M119.6 139.2h0M123 139.5h0M126.3 140h0M129.5 140.3h0M107.9 141.2h0M111.2 141.6h0M114.3 141.9h0M80.1 151.4h0"/><path stroke="#0000fa" d="M214.9 150h0M218.1 150.4h0M221.3 150.8h0M101.3 140.4h0"/><path stroke="#0024ff" d="M195.1 147.9h0M211.5 149.8h0M196.3 151.2h0M199.6 151.8h0M203 152.1h0M105.9 144.2h0M171.5 151.7h0M178 152.4h0M184.6 153.3h0M187.8 153.6h0M191 154h0M194.3 154.4h0M201 155.2h0M207.4 155.9h0M214 156.7h0M172.7 155.3h0M179.3 156h0M182.5 156.4h0M189.1 157.1h0M192.5 157.6h0M198.9 158.2h0M202.2 158.6h0M205.4 159h0M215.3 160.1h0M218.6 160.4h0M88.7 149h0M162.1 160.6h0M172 161.8h0M175.1 162.1h0M178.6 162.5h0M163.3 164.1h0M166.7 164.6h0M169.9 164.9h0M173.2 165.3h0M161.4 167.3h0M171.1 168.4h0M174.4 168.8h0M177.7 169.1h0M181 169.5h0"/><path stroke="#0038ff" d="M188.6 147.1h0M191.8 147.5h0M198.4 148.1h0M208.2 149.3h0M173.4 148.6h0M180 149.5h0M183.2 149.7h0M186.5 150.1h0M189.9 150.5h0M193.1 150.9h0M209.6 152.7h0M212.8 153.1h0M216.2 153.5h0M219.3 154h0M174.7 152.2h0M181.2 152.8h0M197.6 154.8h0M204.3 155.4h0M210.8 156.3h0M217.4 157h0M169.4 155h0M176.1 155.7h0M185.9 156.7h0M195.6 157.9h0M208.9 159.4h0M212 159.8h0M82.2 148.2h0M167.3 157.9h0M170.6 158.4h0M177.2 159.1h0M183.8 159.9h0M187.2 160.3h0M206.8 162.4h0M213.2 163.3h0M216.6 163.6h0M165.4 161h0M168.7 161.5h0M181.9 162.9h0M153.5 163.1h0M156.7 163.4h0M160 163.7h0M179.7 166h0M186.3 166.7h0M144.9 165.3h0M148.3 165.7h0M154.9 166.5h0M158 166.9h0M164.6 167.6h0M167.8 168.1h0M184.2 169.9h0"/><path stroke="#004dff" d="M168.8 144.8h0M182 146.4h0M185.3 146.7h0M201.7 148.6h0M170.1 148.2h0M176.7 149h0M206.2 152.5h0M168.1 151.5h0M174 158.6h0M180.4 159.4h0M190.3 160.6h0M193.7 161h0M196.8 161.3h0M200.1 161.8h0M203.4 162.1h0M210 162.7h0M185.1 163.3h0M188.3 163.7h0M195 164.4h0M150.2 162.7h0M176.5 165.7h0M183.1 166.3h0M189.6 167.1h0M193 167.4h0M215.8 170.2h0M151.5 166.1h0M187.6 170.3h0"/><path stroke="#0061ff" d="M142.6 141.8h0M145.9 142.1h0M165.7 144.4h0M172.2 145.3h0M175.4 145.6h0M178.8 146h0M98.6 150h0M164.1 157.5h0M158.7 160.2h0M198.1 164.8h0M201.4 165.1h0M204.8 165.5h0M207.9 165.8h0M211.3 166.2h0M214.5 166.8h0M143.6 161.9h0M146.9 162.3h0M196.2 167.8h0M199.4 168.2h0M209.3 169.4h0M135.2 164.3h0M141.7 164.9h0M190.9 170.6h0M194.1 171h0M204 172h0"/><path stroke="#fa0000" d="M100 137h0M104.7 140.9h0"/><path stroke="#0075ff" d="M149.2 142.6h0M152.5 142.9h0M134 144.3h0M137.3 144.7h0M166.8 147.9h0M125.6 146.6h0M128.9 146.8h0M93.9 146.3h0M166.2 154.4h0M155.5 159.9h0M191.7 164.1h0M202.7 168.7h0M206 169.1h0M212.5 169.8h0M128.5 163.6h0M131.8 163.8h0M138.4 164.6h0M197.4 171.4h0M200.6 171.8h0M207.3 172.5h0M210.6 172.8h0M213.7 173.3h0"/><path stroke="#ff0f00" d="M121 142.7h0M112.5 145h0M115.6 145.4h0"/><path stroke="#008aff" d="M155.7 143.5h0M162.4 144.1h0M204.9 149h0M140.7 144.9h0M143.9 145.3h0M132 147.3h0M152.2 159.6h0M140.4 161.5h0"/><path stroke="#ff2400" d="M132.9 140.7h0"/><path stroke="#009eff" d="M164.9 151.1h0M103.9 147.5h0M122 162.7h0M125.3 163.1h0"/><path stroke="#00b2ff" d="M159.1 143.8h0M130.8 143.8h0M147.3 145.8h0M163.6 147.6h0M135.3 147.6h0M90.7 145.9h0M97.2 146.7h0M116.8 148.9h0M120.2 149.3h0M108.5 151.2h0M157.5 156.9h0M160.8 157.2h0M93.2 152.9h0M96.4 153.3h0M137.2 161.1h0"/><path stroke="#00c7ff" d="M150.5 146h0M153.7 146.4h0M138.7 148.1h0M113.7 148.6h0M123.5 149.6h0M162.8 154.2h0M105.1 150.8h0M90 152.6h0M145.8 158.8h0M148.9 159.1h0M133.8 160.8h0M112.2 161.6h0M115.4 162h0M118.8 162.3h0"/><path stroke="#ff6100" d="M113.2 138.5h0"/><path stroke="#00dbff" d="M139.4 141.5h0M161.7 150.6h0M126.7 150h0M130 150.4h0M101.8 150.6h0M111.7 151.5h0M114.9 152h0M118.3 152.3h0M99.8 153.5h0M101.1 157h0M127.3 160h0M105.6 161h0M108.9 161.3h0"/><path stroke="#00f0ff" d="M157.1 146.9h0M160.4 147.3h0M122.2 146.2h0M141.9 148.5h0M145.3 148.8h0M158.3 150.3h0M133.4 150.8h0M153.1 153h0M156.2 153.4h0M159.7 153.8h0M121.4 152.8h0M131.4 153.9h0M151 156.2h0M154.3 156.4h0M86.6 152h0M103 153.9h0M106.4 154.4h0M119.4 155.9h0M122.8 156.2h0M135.9 157.6h0M139.2 158.1h0M142.4 158.4h0M91.3 155.9h0M94.5 156.4h0M97.7 156.7h0M104.3 157.5h0M107.7 157.8h0M111 158.1h0M123.9 159.7h0M130.6 160.4h0M79.4 157.8h0M82.6 158.3h0M89.3 159h0M95.8 159.7h0M99 160.2h0M102.4 160.4h0"/><path stroke="#05fffa" d="M148.6 149.2h0M151.7 149.5h0M154.9 150h0M136.5 151.1h0M143.2 151.9h0M146.4 152.3h0M124.8 153.2h0M128.1 153.5h0M134.6 154.3h0M147.7 155.8h0M109.6 154.6h0M113 155h0M116.2 155.5h0M126.1 156.5h0M129.3 156.9h0M132.5 157.2h0M84.8 155.3h0M87.9 155.5h0M114.1 158.5h0M117.6 158.8h0M120.8 159.3h0M86 158.7h0M92.5 159.4h0"/><path stroke="#1affe5" d="M81 144.7h0M110.3 148.2h0M139.9 151.6h0M149.7 152.7h0M137.8 154.6h0M141.2 155h0M144.5 155.4h0M81.4 154.8h0"/><path stroke="#ffb300" d="M84.2 145.2h0"/><path stroke="#2effd1" d="M95.2 149.8h0"/><path stroke="#ffc700" d="M93.4 136.2h0"/><path stroke="#42ffbd" d="M118.9 145.8h0"/><path stroke="#ffdb00" d="M124.2 143.1h0M83.4 151.8h0"/><path stroke="#57ffa8" d="M109.1 144.6h0"/><path stroke="#fff000" d="M117.6 142.3h0"/><path stroke="#6bff94" d="M85.3 148.7h0"/><path stroke="#80ff80" d="M87.4 145.6h0"/><path stroke="#94ff6b" d="M127.5 143.4h0M79 147.9h0"/><path stroke="#d1ff2e" d="M136.2 141.2h0"/><path stroke="#a8ff57" d="M107.2 147.7h0"/><path stroke="#bdff42" d="M78.2 154.3h0"/><path stroke="#000094" d="M115.1 178.6h0M113.2 181.7h0M123 182.8h0M111.2 184.8h0M114.6 185.1h0M117.7 185.6h0M119.1 189h0"/><path stroke="#0000a8" d="M118.5 179h0M125 179.7h0M110 181.3h0M116.5 182.1h0M126.3 183.2h0M129.7 183.6h0M107.9 184.4h0M121 185.9h0M124.3 186.2h0M127.5 186.6h0M112.4 188.2h0M115.7 188.5h0M122.4 189.4h0M125.5 189.8h0M132.2 190.6h0"/><path stroke="#0000bd" d="M117.2 175.5h0M120.5 175.9h0M123.8 176.3h0M127.1 176.5h0M108.7 177.9h0M112 178.2h0M121.7 179.4h0M128.3 180.1h0M131.7 180.5h0M106.6 181h0M119.8 182.5h0M132.8 183.9h0M104.7 184.1h0M130.8 187h0M109.2 187.8h0M128.9 190.1h0M135.4 190.8h0"/><path stroke="#0000d1" d="M116.1 172h0M122.5 172.7h0M110.7 174.7h0M113.9 175.2h0M130.3 177.1h0M137 177.7h0M135 180.8h0M138.2 181.1h0M141.4 181.6h0M144.8 181.9h0M103.4 180.6h0M136.1 184.2h0M101.4 183.7h0M134.1 187.5h0M137.4 187.8h0M102.5 187.2h0M105.9 187.5h0M138.7 191.2h0M142 191.7h0"/><path stroke="#0000e6" d="M119.3 172.4h0M104.2 174h0M107.4 174.4h0M133.6 177.4h0M140.3 178h0M143.6 178.5h0M102.1 177.2h0M105.4 177.4h0M151.4 182.8h0M139.5 184.7h0M142.7 185.1h0M146.1 185.4h0M149.4 185.9h0M98.1 183.3h0M140.8 188.2h0M144 188.4h0M147.3 188.9h0M150.6 189.2h0M99.4 186.8h0"/><path stroke="#0000fa" d="M114.7 168.6h0M109.5 171.3h0M112.6 171.6h0M125.8 173.1h0M132.4 174h0M146.8 178.8h0M150 179.2h0M153.4 179.5h0M98.9 176.7h0M147.9 182.4h0M154.5 183.1h0M96.8 179.9h0M100.1 180.2h0M152.5 186.3h0M155.8 186.6h0M94.8 182.9h0M153.9 189.7h0M145.2 192h0M148.5 192.3h0"/><path stroke="#000fff" d="M108.1 167.8h0M111.3 168.2h0M118.1 168.9h0M121.2 169.2h0M106.2 171h0M129 173.5h0M135.6 174.2h0M138.8 174.6h0M142.2 175h0M97.5 173.2h0M100.9 173.7h0M93.6 179.5h0M159.1 186.9h0M91.6 182.5h0M157 190h0M160.5 190.3h0M92.8 186h0M96.1 186.4h0M151.7 192.6h0M155.2 193h0"/><path stroke="#0024ff" d="M105 167.4h0M124.5 169.6h0M127.8 170h0M99.5 170.2h0M102.8 170.6h0M145.4 175.4h0M148.8 175.7h0M155.4 176.6h0M94.3 172.9h0M156.6 180h0M166.3 181.2h0M172.9 181.8h0M95.6 176.3h0M177.5 185.8h0M162.4 187.3h0M163.7 190.7h0M166.9 191.2h0M199.7 194.9h0M89.6 185.6h0M158.4 193.5h0M197.8 198h0M204.3 198.6h0M207.5 199.1h0"/><path stroke="#0038ff" d="M159.3 170.3h0M162.7 170.7h0M165.9 171.1h0M169.2 171.6h0M172.5 171.9h0M175.8 172.2h0M178.9 172.6h0M182.4 173h0M188.8 173.7h0M98.3 166.7h0M101.5 167.1h0M131.1 170.4h0M134.4 170.7h0M137.7 171.1h0M140.9 171.6h0M144.3 172h0M150.8 172.7h0M160.5 173.7h0M167.1 174.6h0M173.8 175.2h0M177.1 175.6h0M180.2 176h0M96.3 169.7h0M152.1 176.1h0M158.6 176.8h0M165.1 177.6h0M168.3 178h0M171.7 178.5h0M159.9 180.3h0M163.2 180.7h0M169.7 181.4h0M176.3 182.2h0M179.6 182.5h0M92.3 176h0M157.9 183.4h0M161.2 183.7h0M164.3 184.2h0M167.7 184.5h0M170.9 184.8h0M174.2 185.3h0M165.7 187.7h0M168.9 188.1h0M178.7 189.2h0M182 189.5h0M191.8 190.7h0M195.2 191.1h0M198.5 191.4h0M88.3 182.2h0M170.3 191.5h0M173.5 192h0M176.8 192.3h0M180.1 192.6h0M183.4 193h0M186.6 193.4h0M189.8 193.7h0M193.2 194.1h0M196.5 194.5h0M202.9 195.3h0M206.3 195.5h0M83 184.8h0M86.2 185.2h0M161.6 193.9h0M164.9 194.2h0M168.2 194.6h0M171.4 194.9h0M174.8 195.3h0M178.1 195.8h0M181.3 196.1h0M184.6 196.5h0M187.8 196.9h0M191.1 197.1h0M194.5 197.5h0M200.9 198.3h0"/><path stroke="#004dff" d="M113.5 165h0M116.7 165.5h0M120 165.8h0M126.6 166.6h0M129.9 166.9h0M133.2 167.3h0M142.9 168.5h0M149.6 169.3h0M152.8 169.5h0M156 170h0M185.6 173.4h0M154.1 173.1h0M157.3 173.4h0M163.9 174.2h0M170.3 175h0M183.6 176.5h0M93 169.3h0M161.9 177.2h0M175 178.8h0M178.3 179.2h0M180.9 186.1h0M184 186.4h0M187.4 186.7h0M90.2 179h0M172.3 188.3h0M175.5 188.9h0M185.3 189.8h0M188.6 190.3h0M201.8 191.7h0M204.9 192.1h0M208.3 192.5h0M79.7 184.6h0"/><path stroke="#0061ff" d="M110.1 164.7h0M123.2 166.3h0M136.4 167.7h0M139.7 168.1h0M146.3 168.9h0M192 174.2h0M202 175.3h0M211.8 176.4h0M95.1 166.4h0M147.5 172.3h0M186.8 176.8h0M209.9 179.5h0M181.6 179.4h0M182.8 183h0M190.6 187.2h0M193.8 187.5h0M197.2 188h0M203.7 188.7h0M210.3 189.5h0M85 181.8h0M76.3 184.1h0"/><path stroke="#0075ff" d="M103.5 163.9h0M195.3 174.4h0M198.7 174.8h0M208.6 175.9h0M91.8 165.9h0M190.2 177.1h0M193.4 177.5h0M206.5 179h0M184.9 179.8h0M191.3 180.6h0M207.7 182.5h0M211.1 182.9h0M91 172.4h0M186 183.4h0M189.4 183.7h0M205.7 185.6h0M209 185.9h0M207 189.1h0M87 178.8h0"/><path stroke="#008aff" d="M100.4 163.7h0M106.9 164.4h0M205.3 175.6h0M196.6 177.9h0M199.9 178.3h0M203.1 178.6h0M188 180.3h0M194.6 181h0M197.9 181.3h0M201.2 181.8h0M204.5 182h0M192.7 184.1h0M195.9 184.4h0M202.5 185.3h0M200.5 188.2h0"/><path stroke="#009eff" d="M89.8 169.1h0M199.2 184.8h0M88.9 175.5h0"/><path stroke="#00b2ff" d="M93.8 162.9h0"/><path stroke="#00c7ff" d="M90.4 162.6h0M97 163.2h0M88.4 165.6h0M75.2 180.8h0M78.4 181h0M81.7 181.3h0"/><path stroke="#00dbff" d="M87.8 172.1h0"/><path stroke="#00f0ff" d="M87.1 162.1h0M77.1 177.6h0M83.6 178.2h0"/><path stroke="#05fffa" d="M77.4 161h0M80.7 161.4h0M83.9 161.7h0M85.2 165.3h0M86.5 168.7h0M75.8 174.2h0M79.1 174.5h0M85.6 175.2h0M80.4 177.9h0"/><path stroke="#1affe5" d="M78.7 164.5h0M81.9 164.8h0M77.9 171h0M81.2 171.4h0M84.5 171.9h0M82.5 174.9h0"/><path stroke="#2effd1" d="M76.6 167.6h0M80 168h0M83.1 168.3h0"/><path stroke="#000094" d="M117 192h0M118.3 195.5h0"/><path stroke="#0000a8" d="M107.2 191h0M120.2 192.5h0M123.7 192.8h0M126.8 193.1h0M108.4 194.3h0M111.8 194.8h0M114.9 195.2h0M121.6 196h0M124.8 196.2h0"/><path stroke="#0000bd" d="M110.4 191.4h0M113.7 191.8h0M130 193.6h0M133.5 194h0M136.7 194.4h0M128 196.7h0M131.4 197h0M134.6 197.4h0M137.9 197.9h0M119.4 199h0M122.9 199.4h0M129.3 200.1h0"/><path stroke="#0000d1" d="M103.8 190.5h0M140 194.7h0M143.2 195h0M105.1 194.1h0M141.3 198.2h0M112.9 198.3h0M116.4 198.6h0M126 199.7h0M132.6 200.4h0M135.8 200.8h0"/><path stroke="#0000e6" d="M100.7 190.2h0M146.5 195.4h0M149.7 195.9h0M98.6 193.3h0M101.9 193.7h0M144.4 198.4h0M147.7 199h0M106.5 197.5h0M109.7 197.9h0M139.2 201.2h0M117.4 202.2h0"/><path stroke="#0000fa" d="M94 189.4h0M97.4 189.9h0M153.1 196.2h0M151 199.3h0M103.1 197.1h0M142.5 201.6h0M145.8 202h0M149 202.3h0M114.2 201.7h0M120.8 202.5h0M124 202.8h0M127.3 203.1h0"/><path stroke="#000fff" d="M74.3 187.2h0M77.7 187.6h0M84.3 188.4h0M87.4 188.8h0M90.8 189.1h0M82.3 191.4h0M88.8 192.2h0M95.3 193h0M154.4 199.6h0M73.7 193.8h0M76.9 194.1h0M80.2 194.6h0M90.1 195.7h0M96.6 196.5h0M99.9 196.7h0M152.4 202.7h0M78.1 197.7h0M81.4 198h0M84.8 198.3h0M88.1 198.7h0M91.3 199.2h0M107.7 201h0M110.9 201.4h0M130.6 203.6h0M133.8 203.9h0M147.1 205.5h0M150.4 205.8h0M79.4 201h0M82.7 201.4h0M86.1 201.8h0M89.2 202.2h0M92.6 202.5h0M125.4 206.2h0M151.7 209.4h0M80.7 204.6h0M87.2 205.2h0M93.7 206.1h0"/><path stroke="#0024ff" d="M80.9 188.1h0M156.3 196.5h0M159.6 197h0M162.9 197.4h0M75.7 190.8h0M79 191.2h0M85.5 191.8h0M92.1 192.6h0M157.5 200h0M83.5 194.8h0M86.7 195.4h0M93.4 196h0M155.7 203.2h0M158.9 203.5h0M74.9 197.2h0M94.6 199.6h0M104.4 200.6h0M137.2 204.3h0M140.5 204.7h0M143.8 205.2h0M153.6 206.3h0M156.9 206.6h0M72.8 200.4h0M76.2 200.8h0M95.8 203h0M115.6 205.1h0M122.1 205.8h0M77.5 204.2h0M84 204.9h0M90.5 205.7h0M103.6 207.1h0M106.9 207.5h0M113.5 208.3h0M82 208.1h0M85.2 208.4h0M88.6 208.7h0M91.7 209.1h0"/><path stroke="#0038ff" d="M166.3 197.8h0M172.7 198.4h0M176 198.8h0M179.4 199.3h0M182.5 199.5h0M205.5 202.1h0M161 200.5h0M162.2 203.9h0M165.5 204.2h0M97.9 199.9h0M101.2 200.3h0M160.1 207h0M99 203.4h0M102.4 203.7h0M108.9 204.5h0M112.3 204.7h0M118.8 205.6h0M128.5 206.7h0M131.9 207h0M148.3 208.9h0M74.1 203.9h0M97.1 206.4h0M100.3 206.9h0M110.1 207.9h0M116.8 208.7h0M120.2 209.1h0M72.2 206.8h0M75.4 207.3h0M78.7 207.6h0"/><path stroke="#004dff" d="M169.4 198h0M185.9 199.9h0M189.1 200.4h0M192.4 200.7h0M195.6 201h0M199.1 201.5h0M202.3 201.9h0M164.1 200.9h0M167.5 201.1h0M170.7 201.4h0M174.1 201.9h0M203.5 205.2h0M163.4 207.3h0M105.7 204.1h0M135.1 207.5h0M141.7 208.2h0M145 208.6h0M123.4 209.4h0"/><path stroke="#0061ff" d="M177.3 202.3h0M196.9 204.5h0M200.3 204.9h0M168.7 204.7h0M172.1 205h0M201.4 208.4h0M138.5 207.9h0"/><path stroke="#0075ff" d="M180.5 202.7h0M183.8 203h0M187.2 203.5h0M190.4 203.7h0M193.6 204.1h0M178.5 205.8h0M194.9 207.6h0M198.3 208.1h0M166.8 207.8h0M173.3 208.4h0M176.6 208.9h0M179.9 209.2h0"/><path stroke="#008aff" d="M175.3 205.3h0M181.8 206.1h0M191.6 207.3h0M170 208h0"/><path stroke="#009eff" d="M185.2 206.5h0M188.4 207h0"/></g><g fill="none" stroke-linecap="round" stroke-width="6.6"><path stroke="#000080" d="M95.4 1.1h0M100 1.1h0M104.6 1.1h0M109.1 1.1h0M113.7 1.1h0M118.3 1.1h0M122.9 1.1h0M127.5 1.1h0M132 1.1h0M136.6 1.1h0M78.8 137.9h0M94.3 10.2h0M94.8 5.7h0"/><path stroke="#000094" d="M141.2 1.1h0M177.8 1.1h0M182.4 1.1h0M187 1.1h0M191.6 1.1h0M232.8 46.6h0M232.8 51.2h0M232.8 55.7h0M230.1 128.2h0M93.7 14.8h0"/><path stroke="#0000a8" d="M145.8 1.1h0M150.4 1.1h0M154.9 1.1h0M173.3 1.1h0M196.2 1.1h0M200.7 1.1h0M205.3 1.1h0M228.2 1.1h0M232.8 1.1h0M232.8 5.7h0M232.8 10.2h0M232.8 14.8h0M232.8 19.3h0M232.8 23.9h0M232.8 28.4h0M232.8 33h0M232.8 37.5h0M232.8 42.1h0M232.8 60.3h0M232.8 69.4h0M82.6 106h0M93.2 19.3h0"/><path stroke="#0000bd" d="M159.5 1.1h0M164.1 1.1h0M168.7 1.1h0M209.9 1.1h0M214.5 1.1h0M219.1 1.1h0M223.6 1.1h0M232.8 64.9h0M90.4 42.1h0"/><path stroke="#0000d1" d="M232.8 96.7h0M232.8 101.3h0M223.3 150h0M91 37.6h0M91.5 33h0M92.6 23.9h0"/><path stroke="#0000e6" d="M232.8 74h0M232.8 78.5h0M232.8 83.1h0M232.8 105.8h0M228.7 132.6h0M224.7 145.6h0M89.3 51.3h0M89.9 46.7h0M92.1 28.5h0"/><path stroke="#800000" d="M77.1 151.6h0M81.5 115.1h0M82.1 110.6h0M83.8 96.9h0M85.4 83.2h0M86 78.6h0M86.5 74.1h0"/><path stroke="#0000fa" d="M232.8 87.6h0M232.8 92.2h0M232.8 110.4h0M232.8 114.9h0"/><path stroke="#000fff" d="M232.8 119.5h0M71 201.8h0M71.6 197.2h0M72.1 192.7h0"/><path stroke="#0024ff" d="M221.9 154.3h0M158 210.9h0M70.5 206.3h0M72.7 188.1h0"/><path stroke="#0038ff" d="M220.6 158.7h0M219.2 163h0M208.4 197.8h0M207 202.2h0M153.3 210.9h0M125.5 210.9h0M120.9 210.9h0M116.2 210.9h0M111.6 210.9h0M107 210.9h0M102.3 210.9h0M97.7 210.9h0M93.1 210.9h0M88.4 210.9h0M83.8 210.9h0M69.9 210.9h0"/><path stroke="#004dff" d="M227.4 136.9h0M226 141.3h0M217.9 167.4h0M162.6 210.9h0M148.7 210.9h0M134.8 210.9h0M130.1 210.9h0M79.2 210.9h0M74.5 210.9h0M73.2 183.5h0"/><path stroke="#e50000" d="M79.9 128.8h0"/><path stroke="#0061ff" d="M216.5 171.7h0M215.2 176.1h0M213.8 180.4h0M212.4 184.8h0M211.1 189.1h0M209.7 193.5h0M205.7 206.5h0M204.3 210.9h0M190.4 210.9h0M185.8 210.9h0M167.2 210.9h0M144.1 210.9h0M139.4 210.9h0M80.4 124.2h0M88.7 55.8h0"/><path stroke="#0075ff" d="M231.4 123.9h0M199.7 210.9h0M195 210.9h0M181.1 210.9h0M176.5 210.9h0M171.9 210.9h0"/><path stroke="#ff0f00" d="M77.7 147h0"/><path stroke="#ff2400" d="M84.9 87.8h0"/><path stroke="#00dbff" d="M73.8 179h0"/><path stroke="#05fffa" d="M74.3 174.4h0M76.6 156.2h0"/><path stroke="#ff9e00" d="M84.3 92.3h0"/><path stroke="#1affe5" d="M74.9 169.9h0M76 160.7h0"/><path stroke="#2effd1" d="M75.4 165.3h0M87.1 69.5h0M87.6 65h0M88.2 60.4h0"/><path stroke="#42ffbd" d="M81 119.7h0"/><path stroke="#ffdb00" d="M83.2 101.4h0"/><path stroke="#fff000" d="M79.3 133.4h0"/><path stroke="#bdff42" d="M78.2 142.5h0"/></g>
<g clip-path="url(#fc)"><use href="#st" transform="translate(0.5,0.6)" fill="none" stroke="#000" stroke-width="2.3" stroke-linejoin="round" stroke-linecap="round"/></g>
</g>
<rect x="862.3" y="95.2" width="23.6" height="215.4" fill="url(#jet)" stroke="#3a1010" stroke-width="0.7"/>
<path d="M885.9 202.9h-2.4" stroke="#262626" stroke-width="0.8"/>
<text class="cb" x="894.0" y="103.0">100</text><text class="cb" x="894.0" y="210.0">50</text><text class="cb" x="894.0" y="317.0">0</text>
<text class="tk" x="567.0" y="112.7">48<tspan class="dg" dx="1.6" dy="-6.9">°</tspan><tspan dx="4.9" dy="6.9">N</tspan></text><text class="tk" x="567.0" y="130.7">46<tspan class="dg" dx="1.6" dy="-6.9">°</tspan><tspan dx="4.9" dy="6.9">N</tspan></text><text class="tk" x="567.0" y="147.8">44<tspan class="dg" dx="1.6" dy="-6.9">°</tspan><tspan dx="4.9" dy="6.9">N</tspan></text><text class="tk" x="567.0" y="166.8">42<tspan class="dg" dx="1.6" dy="-6.9">°</tspan><tspan dx="4.9" dy="6.9">N</tspan></text><text class="tk" x="567.0" y="182.5">40<tspan class="dg" dx="1.6" dy="-6.9">°</tspan><tspan dx="4.9" dy="6.9">N</tspan></text><text class="tk" x="567.0" y="197.6">38<tspan class="dg" dx="1.6" dy="-6.9">°</tspan><tspan dx="4.9" dy="6.9">N</tspan></text><text class="tk" x="567.0" y="214.4">36<tspan class="dg" dx="1.6" dy="-6.9">°</tspan><tspan dx="4.9" dy="6.9">N</tspan></text><text class="tk" x="567.0" y="228.9">34<tspan class="dg" dx="1.6" dy="-6.9">°</tspan><tspan dx="4.9" dy="6.9">N</tspan></text><text class="tk" x="567.0" y="245.6">32<tspan class="dg" dx="1.6" dy="-6.9">°</tspan><tspan dx="4.9" dy="6.9">N</tspan></text><text class="tk" x="567.0" y="259.7">30<tspan class="dg" dx="1.6" dy="-6.9">°</tspan><tspan dx="4.9" dy="6.9">N</tspan></text><text class="tk" x="567.0" y="272.8">28<tspan class="dg" dx="1.6" dy="-6.9">°</tspan><tspan dx="4.9" dy="6.9">N</tspan></text><text class="tk" x="567.0" y="287.8">26<tspan class="dg" dx="1.6" dy="-6.9">°</tspan><tspan dx="4.9" dy="6.9">N</tspan></text><text class="tk" x="567.0" y="302.0">24<tspan class="dg" dx="1.6" dy="-6.9">°</tspan><tspan dx="4.9" dy="6.9">N</tspan></text><text class="tk" x="567.0" y="314.9">22<tspan class="dg" dx="1.6" dy="-6.9">°</tspan><tspan dx="4.9" dy="6.9">N</tspan></text>
<text class="tk" x="661.5" y="76.9" text-anchor="middle">100<tspan class="dg" dx="1.6" dy="-6.9">°</tspan><tspan dx="4.6" dy="6.9">W</tspan></text><text class="tk" x="726.7" y="76.9" text-anchor="middle">90<tspan class="dg" dx="1.6" dy="-6.9">°</tspan><tspan dx="4.6" dy="6.9">W</tspan></text><text class="tk" x="790.5" y="76.9" text-anchor="middle">80<tspan class="dg" dx="1.6" dy="-6.9">°</tspan><tspan dx="4.6" dy="6.9">W</tspan></text><text class="tk" x="853.9" y="76.9" text-anchor="middle">70<tspan class="dg" dx="1.6" dy="-6.9">°</tspan><tspan dx="4.6" dy="6.9">W</tspan></text>
<text class="tt" x="560.3" y="341.3" textLength="337" lengthAdjust="spacing">SAT 200 hPa RH (Percent)</text>
<g transform="translate(1037.5,95.8) scale(1.0056)">
<rect x="0" y="0" width="233.6" height="213.4" fill="#fff" stroke="#000" stroke-width="1"/>
<g fill="none" stroke-linecap="round" stroke-width="4.7"><path stroke="#000080" d="M208.3 3.2h0M211.6 3.5h0M206.3 6.3h0"/><path stroke="#000094" d="M205.1 2.8h0M214.8 3.9h0M224.8 5.1h0M176.8 3h0M180.1 3.4h0M183.3 3.6h0M186.6 4.1h0M189.9 4.5h0M193.1 4.7h0M196.5 5.3h0M199.7 5.6h0M203 5.9h0M145.3 2.7h0M155.1 3.7h0M161.6 4.5h0M164.9 5h0M168.2 5.3h0M174.8 6.1h0M178.1 6.5h0M181.4 6.7h0M184.5 7.2h0M166.2 8.3h0M172.7 9h0M175.9 9.6h0"/><path stroke="#0000a8" d="M218.2 4.3h0M228 5.4h0M231.3 5.7h0M209.5 6.6h0M212.9 7.1h0M216.1 7.3h0M219.3 7.8h0M222.8 8.2h0M229.1 8.9h0M148.6 2.9h0M151.8 3.5h0M158.4 4.1h0M171.4 5.6h0M187.9 7.5h0M191.1 7.8h0M194.3 8.2h0M200.9 9.1h0M204.3 9.4h0M207.6 9.8h0M210.7 10.2h0M214 10.4h0M133.3 4.7h0M140 5.3h0M143.2 5.7h0M146.5 6.2h0M149.8 6.5h0M153 6.9h0M156.3 7.3h0M159.7 7.6h0M163 7.9h0M169.4 8.7h0M179.3 9.9h0M182.5 10.2h0M192.4 11.4h0"/><path stroke="#0000bd" d="M221.5 4.7h0M226 8.6h0M197.7 8.6h0M217.3 10.9h0M220.6 11.3h0M223.8 11.6h0M123.6 3.5h0M126.9 3.9h0M130 4.3h0M136.6 4.9h0M185.8 10.6h0M189.2 11.1h0M195.7 11.7h0M198.9 12h0M202.3 12.5h0M205.5 12.8h0M215.4 14h0"/><path stroke="#0000d1" d="M227.3 12.1h0M230.5 12.3h0M208.9 13.1h0M212.1 13.6h0M218.7 14.3h0M221.9 14.6h0M225.3 15.1h0"/><path stroke="#0000e6" d="M120.3 3.1h0M228.6 15.5h0"/><path stroke="#0000fa" d="M117 2.7h0"/><path stroke="#000094" d="M151 9.9h0M154.2 10.4h0M157.6 10.7h0M160.8 11.1h0M164.2 11.5h0M170.8 12.2h0M174 12.6h0M177.3 13h0M180.6 13.4h0M155.6 13.8h0M158.8 14.1h0M162.1 14.6h0M165.5 15h0M168.7 15.3h0M171.9 15.8h0M175.3 16h0M166.7 18.4h0M179.9 19.9h0M188.9 27.5h0"/><path stroke="#0000a8" d="M137.9 8.5h0M141.2 8.9h0M144.6 9.2h0M147.7 9.6h0M167.4 11.9h0M183.9 13.7h0M187.2 14.2h0M190.4 14.4h0M152.3 13.4h0M178.6 16.5h0M181.7 16.8h0M185.1 17.1h0M188.5 17.5h0M163.5 18h0M169.9 18.8h0M173.2 19.2h0M176.5 19.5h0M183 20.2h0M171.3 22.2h0M177.8 22.9h0M184.4 23.6h0M97.1 17.2h0M185.6 27.1h0M192.1 28h0"/><path stroke="#0000bd" d="M134.7 8.2h0M200.2 15.5h0M136 11.6h0M142.4 12.3h0M145.8 12.7h0M149 13.1h0M191.6 17.8h0M194.9 18.3h0M156.8 17.2h0M160.1 17.7h0M186.3 20.6h0M95.8 13.7h0M164.6 21.5h0M168 21.9h0M174.4 22.6h0M181.1 23.3h0M187.7 24.2h0M190.9 24.5h0M175.7 26h0M179.1 26.5h0M182.4 26.7h0M195.5 28.3h0M198.7 28.7h0M205.3 29.5h0M183.6 30.3h0M186.8 30.6h0M190.3 31h0M193.4 31.4h0M196.7 31.7h0M200 32.2h0M203.3 32.4h0M198 35.3h0"/><path stroke="#0000d1" d="M128.1 7.3h0M131.3 7.6h0M193.7 14.9h0M196.9 15.3h0M203.6 16h0M206.8 16.4h0M210 16.8h0M213.3 17.1h0M216.7 17.5h0M219.8 17.9h0M132.6 11.3h0M139.3 12h0M198.2 18.6h0M201.5 19h0M214.6 20.5h0M217.9 21h0M221.2 21.2h0M224.5 21.6h0M227.7 22.1h0M231.1 22.3h0M137.3 15.1h0M143.7 15.8h0M147 16.2h0M150.3 16.6h0M153.6 17h0M189.6 21.1h0M193 21.4h0M196.1 21.8h0M199.5 22.2h0M209.4 23.3h0M215.8 24h0M219.2 24.4h0M222.4 24.8h0M225.7 25.2h0M228.9 25.5h0M99.1 14h0M102.3 14.4h0M161.3 21.1h0M194.1 24.8h0M200.7 25.5h0M207.2 26.4h0M220.5 27.9h0M100.4 17.6h0M103.6 17.8h0M162.7 24.5h0M169.2 25.3h0M172.6 25.7h0M202.1 29.1h0M208.5 29.8h0M163.9 27.9h0M173.8 29.2h0M180.3 30h0M206.6 32.8h0M209.9 33.2h0M191.4 34.5h0M194.6 34.9h0M204.5 35.9h0"/><path stroke="#0000e6" d="M121.4 6.7h0M124.8 6.9h0M223.1 18.2h0M226.5 18.5h0M229.8 18.9h0M126.1 10.5h0M129.3 10.8h0M204.7 19.4h0M208.1 19.7h0M211.2 20.2h0M133.9 14.6h0M140.4 15.3h0M202.7 22.5h0M206 22.8h0M212.5 23.7h0M141.8 18.9h0M145.1 19.1h0M148.2 19.7h0M154.9 20.3h0M158.1 20.8h0M197.5 25.2h0M204.1 26h0M213.9 27.2h0M217.2 27.4h0M223.7 28.2h0M106.9 18.1h0M149.6 23.1h0M152.9 23.5h0M156.1 23.7h0M159.4 24.3h0M166 24.9h0M211.9 30.2h0M215.2 30.6h0M95.1 20.3h0M157.3 27.3h0M160.6 27.7h0M167.3 28.5h0M170.4 28.7h0M177 29.5h0M213.1 33.6h0M168.5 31.8h0M171.7 32.2h0M178.3 33h0M181.6 33.3h0M188.2 34.2h0M201.2 35.6h0M207.8 36.4h0M214.3 37.1h0M127.2 30.5h0M130.4 31h0M196 38.3h0M202.6 39.2h0"/><path stroke="#0000fa" d="M118.3 6.1h0M130.6 14.3h0M105.7 14.7h0M151.6 19.9h0M210.7 26.7h0M227 28.6h0M230.2 28.9h0M110.2 18.5h0M218.4 30.9h0M231.5 32.3h0M98.3 20.6h0M101.7 20.9h0M104.9 21.3h0M216.4 34h0M219.7 34.3h0M223 34.8h0M125.9 27h0M165.1 31.5h0M175 32.6h0M184.8 33.7h0M211.1 36.7h0M217.6 37.5h0M221 37.9h0M227.5 38.6h0M230.7 39h0M182.9 36.8h0M186 37.2h0M189.5 37.7h0M192.6 37.9h0M199.3 38.6h0M205.9 39.5h0M209.1 39.9h0"/><path stroke="#000fff" d="M113.4 19h0M221.6 31.3h0M225 31.6h0M228.3 32.1h0M111.5 22h0M114.8 22.4h0M118.1 22.9h0M124.7 23.5h0M226.2 35.1h0M229.5 35.5h0M129.1 27.3h0M161.8 31.1h0M224.3 38.2h0M133.6 31.2h0M137 31.6h0M176.3 36h0M179.6 36.5h0M212.4 40.2h0M215.7 40.5h0M218.9 40.9h0M222.2 41.3h0M225.5 41.8h0M228.7 42.2h0"/><path stroke="#0024ff" d="M108.9 15h0M116.7 19.4h0M150.8 26.6h0M154.2 26.9h0M109.6 25.1h0M122.7 26.7h0M123.8 30h0M169.7 35.3h0"/><path stroke="#0038ff" d="M122.7 10.1h0M97.8 10.5h0M127.3 13.8h0M112.1 15.6h0M120.1 19.8h0M146.4 22.6h0M108.2 21.7h0M121.4 23.2h0M127.8 24h0M99.7 24h0M102.8 24.5h0M132.4 27.7h0M158.7 30.7h0M100.8 27.4h0M114 29h0"/><path stroke="#004dff" d="M115.1 5.9h0M119.6 9.8h0M107.7 11.6h0M114.1 12.5h0M138.4 18.5h0M142.9 22.4h0M96.4 23.7h0M106.2 24.8h0M116.1 25.8h0M104.2 27.8h0M107.5 28.2h0M117.4 29.3h0M172.9 35.8h0"/><path stroke="#0061ff" d="M116.2 9.3h0M117.6 12.8h0M135.3 18.1h0M112.7 25.6h0M119.4 26.2h0M135.7 28.2h0M155.3 30.3h0M94.3 26.8h0M97.7 27.1h0M110.7 28.6h0M120.7 29.8h0M140.1 32.1h0M166.5 35.1h0"/><path stroke="#0075ff" d="M101 11h0M104.4 11.2h0M124.2 13.5h0M115.5 15.9h0M126.7 20.5h0M129.9 20.9h0M147.5 26.3h0"/><path stroke="#008aff" d="M109.8 8.6h0M111 12h0M120.7 13.1h0M118.7 16.3h0M123.3 20h0M139.7 22h0M145.6 29.3h0"/><path stroke="#009eff" d="M122.1 16.5h0M125.4 17h0M131.9 17.7h0M133.1 21.2h0M134.3 24.6h0M141 25.5h0M138.9 28.6h0M143.6 32.4h0M160 34.3h0M163.2 34.6h0"/><path stroke="#00b2ff" d="M112.9 9h0M131.2 24.3h0M144.2 25.8h0M148.8 29.7h0M152 30.1h0M146.8 32.8h0"/><path stroke="#00c7ff" d="M137.6 25.1h0M142.2 28.9h0M156.7 33.9h0"/><path stroke="#00dbff" d="M111.8 5.6h0M128.6 17.3h0M150.1 33h0M153.3 33.5h0"/><path stroke="#00f0ff" d="M136.4 21.5h0"/><path stroke="#1affe5" d="M106.4 8.2h0"/><path stroke="#42ffbd" d="M103.2 7.8h0"/><path stroke="#57ffa8" d="M96.5 7.2h0"/><path stroke="#6bff94" d="M108.5 5h0"/><path stroke="#80ff80" d="M105.2 4.7h0M99.9 7.4h0"/><path stroke="#bdff42" d="M98.7 3.9h0M101.9 4.3h0"/><path stroke="#0000bd" d="M132.1 44.3h0M135.5 44.7h0M133.5 47.9h0M136.6 48.2h0M162.9 51.1h0M166.2 51.5h0M169.5 51.9h0M134.7 51.4h0"/><path stroke="#0000d1" d="M109.9 35.1h0M144 42.4h0M147.3 42.8h0M150.6 43.2h0M142 45.4h0M145.3 45.9h0M148.7 46.2h0M151.8 46.6h0M155 47h0M158.4 47.3h0M161.8 47.8h0M165 48.1h0M130.2 47.5h0M140 48.6h0M143.2 48.8h0M146.6 49.2h0M172.8 52.3h0M176 52.7h0M138 51.7h0M141.3 52h0M144.5 52.4h0M174 55.8h0M177.4 56.2h0M180.5 56.6h0M183.9 57h0M139.3 55.2h0M142.4 55.4h0M137.2 58.2h0M143.8 59h0M193 64.7h0M212.6 66.8h0"/><path stroke="#0000e6" d="M128.4 33.9h0M131.6 34.4h0M134.9 34.6h0M138.3 35.1h0M132.9 37.8h0M139.5 38.6h0M142.7 39h0M149.3 39.7h0M131 40.9h0M134.2 41.2h0M137.5 41.7h0M140.8 42h0M153.8 43.5h0M226 51.7h0M129 43.9h0M138.7 45.1h0M103.9 44.4h0M127 47.1h0M149.9 49.6h0M153.2 50.1h0M156.4 50.4h0M159.6 50.9h0M179.4 53.1h0M182.7 53.5h0M131.5 51h0M147.8 52.8h0M167.4 55.1h0M170.8 55.3h0M187.1 57.3h0M190.5 57.6h0M193.8 58h0M197 58.3h0M132.6 54.3h0M135.9 54.8h0M145.8 55.9h0M152.4 56.6h0M172.1 59h0M175.3 59.2h0M178.6 59.7h0M185.2 60.3h0M188.4 60.8h0M191.7 61.2h0M195 61.5h0M198.2 61.9h0M201.5 62.2h0M204.9 62.5h0M208.1 62.9h0M211.3 63.3h0M218 64h0M134 57.8h0M140.5 58.6h0M147 59.4h0M150.4 59.6h0M156.8 60.5h0M160.1 60.9h0M163.5 61.2h0M166.7 61.5h0M170.1 62h0M173.4 62.3h0M176.6 62.6h0M183.2 63.4h0M186.4 63.9h0M189.8 64.1h0M196.2 64.9h0M199.5 65.3h0M202.9 65.7h0M206 66.1h0M209.4 66.4h0M215.9 67.3h0M219.2 67.5h0M222.6 67.9h0M225.7 68.4h0M229.1 68.7h0"/><path stroke="#0000fa" d="M115.2 32.5h0M141.4 35.4h0M194 41.4h0M203.7 42.6h0M207.1 43h0M113.2 35.6h0M123.1 36.7h0M129.6 37.4h0M136.2 38.3h0M146.1 39.2h0M208.3 46.3h0M211.7 46.7h0M218.1 47.6h0M224.7 48.2h0M114.5 39.1h0M117.8 39.4h0M121.1 39.8h0M124.4 40.1h0M127.6 40.5h0M157.1 43.8h0M209.5 49.8h0M122.3 43.1h0M125.7 43.6h0M168.2 48.4h0M171.6 48.8h0M100.7 44.2h0M107.2 44.9h0M195.8 54.9h0M199.1 55.3h0M202.2 55.6h0M215.4 57.1h0M151.1 53.1h0M154.4 53.6h0M160.9 54.3h0M164.3 54.7h0M200.2 58.7h0M203.6 59.2h0M206.9 59.6h0M93.4 49.8h0M149 56.3h0M155.6 57h0M159 57.4h0M165.6 58.1h0M168.8 58.5h0M181.9 59.9h0M214.6 63.8h0M221.3 64.4h0M224.5 64.8h0M227.9 65.2h0M231 65.6h0M91.3 53h0M153.7 60.1h0M179.8 63h0"/><path stroke="#000fff" d="M190.7 41.1h0M197.3 41.9h0M200.4 42.2h0M210.3 43.4h0M213.7 43.7h0M220.2 44.3h0M223.5 44.8h0M106.6 34.8h0M116.4 35.9h0M126.4 37h0M198.6 45.2h0M205 45.9h0M214.9 47.1h0M221.5 47.9h0M98.1 37.2h0M163.7 44.6h0M199.7 48.7h0M203 49.1h0M206.4 49.4h0M212.8 50.2h0M216.2 50.6h0M219.4 50.9h0M222.7 51.3h0M229.3 52.1h0M92.8 39.8h0M102.7 41.1h0M109.2 41.7h0M197.7 51.8h0M210.8 53.2h0M214.2 53.7h0M217.5 54h0M220.7 54.4h0M224 54.8h0M227.2 55.2h0M230.6 55.7h0M113.7 45.5h0M222 57.9h0M225.3 58.4h0M102 47.6h0M128.2 50.5h0M157.6 54h0M210.1 59.8h0M213.4 60.3h0M216.7 60.6h0M220 61.1h0M223.3 61.4h0M226.4 61.7h0M229.7 62.2h0M162.1 57.7h0M130.7 57.5h0"/><path stroke="#0024ff" d="M184.1 40.4h0M217 44h0M226.7 45.1h0M230.1 45.6h0M201.7 45.6h0M228.1 48.7h0M231.4 48.9h0M160.4 44.2h0M106 41.4h0M119.1 42.9h0M174.9 49.3h0M178.1 49.6h0M201.1 52.1h0M204.3 52.5h0M207.5 52.9h0M110.4 45.3h0M192.5 54.6h0M205.6 56h0M208.9 56.5h0M212.2 56.8h0M218.6 57.6h0M228.5 58.7h0M92.1 46.5h0M98.6 47.2h0M105.2 47.9h0M118.4 49.4h0M129.5 54h0M94.7 53.3h0M101.2 54.1h0"/><path stroke="#0038ff" d="M102.2 31h0M105.5 31.4h0M112.1 32h0M121.7 33.2h0M125.1 33.5h0M144.7 35.9h0M187.4 40.6h0M100.1 34.1h0M103.5 34.5h0M152.7 39.9h0M195.3 45h0M107.9 38.2h0M196.5 48.3h0M99.3 40.6h0M115.8 42.6h0M185.9 53.9h0M189.2 54.2h0M95.3 46.8h0M111.8 48.7h0M115 49.1h0M96.7 50.2h0M99.8 50.7h0M106.6 51.5h0M109.7 51.7h0M113 52h0M97.9 53.7h0"/><path stroke="#004dff" d="M118.5 32.7h0M119.9 36.2h0M159.1 40.8h0M101.5 37.6h0M104.6 37.9h0M111.3 38.6h0M96.1 40.3h0M112.5 42h0M94.1 43.2h0M97.3 43.6h0M108.4 48.2h0M124.9 50.2h0M116.2 52.5h0M119.5 53h0M126.2 53.6h0M107.8 54.9h0"/><path stroke="#0061ff" d="M98.9 30.7h0M108.7 31.7h0M148.1 36.3h0M180.8 40h0M93.5 33.2h0M155.8 40.5h0M94.8 36.8h0M166.9 45h0M170.3 45.3h0M117.1 45.9h0M123.7 46.7h0M103.1 51h0M104.5 54.5h0M114.3 55.6h0"/><path stroke="#0075ff" d="M95.5 30.3h0M173.4 45.6h0M181.5 50h0M120.3 46.2h0M122.8 53.2h0M111.1 55.3h0M127.4 57h0"/><path stroke="#008aff" d="M174.3 39.2h0M96.9 33.6h0M162.4 41.1h0M169 41.8h0M192 44.5h0M121.6 49.7h0M117.5 56h0M120.9 56.4h0"/><path stroke="#009eff" d="M188.7 44.1h0"/><path stroke="#00b2ff" d="M151.3 36.5h0M154.7 37h0M167.7 38.4h0M170.9 38.7h0M177.6 39.6h0M165.6 41.6h0M176.8 46.2h0M180.1 46.4h0M184.7 50.3h0M194.5 51.3h0"/><path stroke="#00c7ff" d="M172.3 42.2h0M175.5 42.7h0M178.8 43.1h0M182.2 43.5h0M185.3 43.8h0M187.9 50.8h0M124 56.6h0"/><path stroke="#00dbff" d="M157.9 37.2h0M164.5 38h0M183.3 46.9h0M189.9 47.6h0"/><path stroke="#00f0ff" d="M161.1 37.7h0M193.3 48h0M191.1 51.1h0"/><path stroke="#05fffa" d="M186.6 47.2h0"/><path stroke="#0000bd" d="M217.1 70.7h0M179.2 69.5h0M182.5 70.1h0M185.6 70.4h0M228.4 75.2h0M190.2 74.2h0"/><path stroke="#0000d1" d="M151.7 63.3h0M154.8 63.6h0M158.1 63.8h0M181.2 66.5h0M184.5 66.8h0M197.5 68.4h0M200.9 68.8h0M204.2 69.1h0M210.7 69.9h0M220.5 71h0M227.1 71.7h0M162.7 67.7h0M172.5 68.9h0M175.9 69.3h0M188.9 70.8h0M195.6 71.5h0M198.8 71.9h0M221.8 74.4h0M224.9 74.9h0M180.4 73.2h0M183.7 73.4h0M187 73.9h0M193.5 74.5h0M196.8 74.9h0M200 75.3h0M206.5 76.1h0M209.9 76.5h0M226.2 78.3h0M229.6 78.6h0M184.9 76.9h0M188.3 77.4h0M191.5 77.7h0M194.7 78h0M201.4 78.7h0M204.5 79.1h0M207.8 79.5h0M211.1 79.9h0M230.7 82.1h0M179.7 79.6h0M186.2 80.4h0M228.8 85.2h0M226 94.9h0"/><path stroke="#0000e6" d="M145.2 62.5h0M148.3 62.7h0M161.5 64.3h0M164.8 64.8h0M168 64.9h0M171.2 65.4h0M174.5 65.9h0M177.8 66.2h0M187.7 67.2h0M190.9 67.7h0M194.2 68.1h0M207.4 69.5h0M214 70.3h0M223.8 71.4h0M230.3 72h0M149.5 66.2h0M152.8 66.7h0M159.3 67.4h0M165.9 68h0M169.2 68.5h0M192.2 71.1h0M202.1 72.3h0M208.7 73h0M211.9 73.4h0M215.1 73.7h0M218.6 74.1h0M160.6 70.8h0M163.9 71.3h0M170.5 71.9h0M173.7 72.3h0M203.3 75.8h0M216.5 77.2h0M219.7 77.7h0M168.6 75.1h0M171.7 75.5h0M175.1 75.9h0M178.4 76.2h0M181.6 76.6h0M198 78.3h0M217.8 80.8h0M220.9 81.1h0M224.3 81.3h0M227.5 81.7h0M176.4 79.3h0M182.8 80.1h0M192.7 81.2h0M196 81.5h0M199.2 82h0M202.6 82.2h0M205.9 82.6h0M212.4 83.3h0M215.7 83.8h0M218.9 84.2h0M222.4 84.4h0M225.6 85h0M184.2 83.5h0M187.6 83.9h0M190.8 84.2h0M216.9 87.3h0M220.3 87.6h0M223.6 88h0M226.9 88.4h0M230.1 88.7h0M218.2 90.7h0M228 91.7h0M222.8 94.6h0M229.3 95.2h0"/><path stroke="#800000" d="M127.2 73.7h0M130.4 74h0M137 74.8h0M99 73.7h0M105.5 74.6h0M131.8 77.5h0M135 77.9h0M138.4 78.2h0M141.6 78.6h0M109.9 78.4h0M113.4 78.7h0M116.6 79.1h0M119.9 79.4h0M123.1 79.9h0M132.9 80.9h0M136.3 81.4h0M139.5 81.8h0M142.8 82.2h0M146 82.5h0M111.2 81.8h0M114.6 82.1h0M117.8 82.6h0M121.2 83h0M124.3 83.3h0M137.6 84.9h0M140.9 85.1h0M144.2 85.5h0M147.4 85.9h0M150.6 86.2h0M180.2 89.6h0M186.6 90.5h0M196.6 91.5h0M199.7 91.9h0M203.1 92.2h0"/><path stroke="#0000fa" d="M141.7 62h0M156.3 66.9h0M205.4 72.6h0M157.4 70.4h0M167.2 71.7h0M177.2 72.8h0M213.2 76.9h0M222.9 78h0M214.3 80.3h0M189.5 80.8h0M209.1 83h0M194 84.6h0M197.4 84.9h0M200.5 85.3h0M210.5 86.6h0M213.7 86.8h0M211.7 90h0M221.4 91h0M224.8 91.4h0M231.4 92.2h0M216.1 93.7h0M219.6 94.1h0"/><path stroke="#940000" d="M133.8 74.4h0"/><path stroke="#000fff" d="M138.5 61.7h0M180.8 83.2h0M203.9 85.7h0M207.2 86h0M192 87.7h0M215 90.3h0M160.4 87.4h0M213 93.4h0"/><path stroke="#a80000" d="M128.5 77h0"/><path stroke="#0024ff" d="M99.1 57.2h0M135.2 61.4h0M146.4 65.8h0M154.2 70.1h0M161.9 74.2h0M165.2 74.6h0M173.1 78.8h0M185.5 87h0M205.2 89.2h0M208.4 89.6h0"/><path stroke="#bd0000" d="M126.3 80.2h0"/><path stroke="#0038ff" d="M92.6 56.4h0M169.7 78.5h0M195.3 88.1h0M198.5 88.4h0"/><path stroke="#004dff" d="M95.8 56.9h0M177.7 82.8h0"/><path stroke="#e50000" d="M143.5 75.5h0"/><path stroke="#0061ff" d="M102.5 57.6h0M131.9 60.9h0M117.4 72.6h0M188.7 87.3h0"/><path stroke="#0075ff" d="M158.8 73.9h0"/><path stroke="#ff0f00" d="M92.5 73h0"/><path stroke="#008aff" d="M105.7 57.9h0M150.8 69.7h0M114.1 72.1h0M166.5 78.2h0M118.7 76h0M182.2 86.5h0"/><path stroke="#ff2400" d="M140.3 75.2h0M144.8 79.1h0"/><path stroke="#009eff" d="M128.6 60.5h0M143 65.6h0M174.4 82.3h0M201.9 88.8h0"/><path stroke="#ff3800" d="M96.3 66.9h0M135.8 71.3h0M149.3 82.8h0M176.9 89.2h0"/><path stroke="#00b2ff" d="M109.1 58.3h0M112.2 58.7h0M103.7 61h0M139.8 65.2h0M147.5 69.4h0M209.7 93h0"/><path stroke="#ff4c00" d="M129.3 70.6h0M146.8 75.8h0M89.1 72.6h0M95.6 73.4h0M108.7 74.9h0M127.7 83.6h0M206.5 92.6h0"/><path stroke="#00c7ff" d="M115.5 59.1h0"/><path stroke="#ff6100" d="M139.1 71.8h0M134.2 84.5h0"/><path stroke="#00dbff" d="M122.2 59.7h0M125.3 60.2h0M131 84.1h0M163.8 87.9h0"/><path stroke="#ff7500" d="M93.2 66.5h0M132.5 71h0M123.8 73.3h0M189.9 90.8h0"/><path stroke="#00f0ff" d="M118.8 59.4h0M136.4 64.7h0M163.2 77.8h0M122 76.4h0"/><path stroke="#ff8a00" d="M88.6 62.6h0M124.6 66.8h0M127.9 67.1h0M125.9 70.1h0M94.4 70h0"/><path stroke="#05fffa" d="M133.2 64.4h0M178.9 86.3h0M173.7 88.9h0"/><path stroke="#ff9e00" d="M92 62.9h0M95 63.5h0M183.4 90h0"/><path stroke="#1affe5" d="M107 61.3h0M109.6 68.3h0M102.3 74.1h0M171 82.1h0M155.9 83.6h0M167.1 88.1h0"/><path stroke="#ffb300" d="M125.1 76.8h0"/><path stroke="#2effd1" d="M97.2 60.4h0M100.4 60.7h0M116.7 62.5h0M108.3 64.8h0M155.4 73.6h0M160 77.5h0M170.4 88.5h0"/><path stroke="#ffc700" d="M142.3 72.1h0M150.1 76.4h0M151.4 79.7h0M153.9 86.8h0M193.3 91.1h0"/><path stroke="#42ffbd" d="M144.4 69h0M152.8 83.3h0M159.3 84h0"/><path stroke="#ffdb00" d="M98.4 63.7h0M121.3 66.4h0M89.8 66.1h0M91.2 69.5h0M104.3 71.1h0M172.4 85.5h0"/><path stroke="#57ffa8" d="M113.6 62.2h0M130 64.1h0M152.1 73.2h0M167.9 81.7h0"/><path stroke="#fff000" d="M131.2 67.4h0M134.4 67.9h0M99.8 67.2h0M97.6 70.4h0M153.4 76.6h0M148.2 79.5h0M175.6 85.8h0"/><path stroke="#6bff94" d="M126.6 63.7h0M112.8 68.7h0M112 75.3h0M129.7 80.5h0M165.7 84.8h0"/><path stroke="#faff05" d="M118.1 66h0M107.4 71.4h0"/><path stroke="#80ff80" d="M110.3 61.8h0M120 62.8h0M123.3 63.3h0M101.6 64.2h0M137.7 68.3h0M141.1 68.5h0M102.9 67.5h0M115.2 75.6h0M164.4 81.3h0"/><path stroke="#e5ff1a" d="M106.2 68h0M122.6 69.8h0M154.6 80.2h0M157.2 87h0"/><path stroke="#94ff6b" d="M104.9 64.5h0M116.1 69.1h0M119.4 69.5h0M157.9 80.5h0M162.5 84.4h0"/><path stroke="#d1ff2e" d="M111.6 65.3h0M100.9 70.7h0M120.7 73h0M161.3 80.8h0M169 85h0"/><path stroke="#a8ff57" d="M114.8 65.6h0M145.6 72.5h0M148.8 72.9h0M156.7 77h0"/><path stroke="#bdff42" d="M90.5 59.6h0M93.9 59.8h0M110.8 71.8h0"/><path stroke="#000080" d="M161.8 91h0M178.1 92.8h0M169.7 95h0M176.1 95.9h0M179.4 96.2h0M182.6 96.5h0M185.9 96.9h0M189.3 97.4h0M177.4 99.3h0M180.7 99.7h0M184 100.1h0M187.3 100.4h0M190.5 100.8h0M193.9 101.3h0M195 104.7h0M198.3 105.1h0M197.5 111.6h0M195.5 114.8h0"/><path stroke="#000094" d="M170.8 98.6h0M191.8 104.4h0M183.3 106.7h0"/><path stroke="#0000a8" d="M175.4 102.5h0M188.9 113.9h0"/><path stroke="#0000bd" d="M181.5 93.2h0M166.2 94.6h0M202.9 108.8h0"/><path stroke="#0000d1" d="M224.1 98.1h0M227.3 98.3h0M181.9 103.1h0M186.6 107.1h0M196.4 108h0"/><path stroke="#0000e6" d="M174.8 92.4h0M184.7 93.6h0M230.7 98.7h0M172.9 95.5h0M209.5 109.7h0M194.4 111.1h0M210.6 113.1h0M192.3 114.4h0"/><path stroke="#800000" d="M109.2 84.9h0M129 87.1h0M132.3 87.5h0M138.8 88.2h0M142.1 88.6h0M145.3 89h0M148.6 89.3h0M151.9 89.9h0M194.5 94.6h0M197.7 95.1h0M201.1 95.5h0M204.5 95.7h0M123.6 89.8h0M136.9 91.4h0M140.1 91.8h0M143.3 92.1h0M146.6 92.5h0M149.9 92.8h0M153.2 93.3h0M121.6 92.9h0M125 93.3h0M128.2 93.7h0M131.4 94h0M134.7 94.5h0M138 94.9h0M141.3 95.2h0M144.6 95.6h0M147.9 95.9h0M151.2 96.3h0M154.5 96.7h0M119.7 96.2h0M123 96.4h0M126.3 96.8h0M129.5 97.2h0M132.8 97.5h0M136 98h0M139.3 98.4h0M142.6 98.7h0M145.9 99h0M149.2 99.4h0M152.5 99.7h0M155.8 100.2h0M111.1 98.4h0M114.4 98.8h0M117.6 99.1h0M120.9 99.6h0M124.3 100h0M127.5 100.3h0M130.7 100.7h0M134 101h0M137.3 101.4h0M140.7 101.8h0M143.9 102h0M147.1 102.5h0M150.5 102.9h0M153.6 103.2h0M160.2 104.1h0M163.6 104.4h0M109.1 101.5h0M112.3 101.9h0M115.6 102.1h0M118.9 102.6h0M122.2 103h0M125.5 103.4h0M128.7 103.8h0M132 104h0M135.3 104.4h0M138.6 104.9h0M141.8 105.3h0M145.2 105.6h0M148.4 106h0M151.6 106.4h0M155 106.7h0M110.3 105h0M113.7 105.2h0M116.9 105.6h0M120.2 106h0M123.4 106.5h0M126.8 106.9h0M130.1 107.2h0M133.3 107.5h0M136.6 107.9h0M139.8 108.3h0M143 108.7h0M146.3 109h0M149.6 109.4h0M152.9 109.7h0M156.2 110.1h0M159.5 110.5h0M111.6 108.5h0M118.2 109.2h0M121.5 109.5h0M124.6 109.8h0M127.9 110.4h0M131.3 110.7h0M134.5 111h0M137.9 111.4h0M141.2 111.8h0M147.7 112.5h0M150.9 112.9h0M154.2 113.2h0M157.6 113.7h0M160.7 114.1h0M164.1 114.4h0M167.2 114.8h0"/><path stroke="#0000fa" d="M178.7 102.9h0M213.9 113.4h0"/><path stroke="#940000" d="M215.5 100.3h0"/><path stroke="#000fff" d="M206.2 109.2h0M201 111.9h0M204.1 112.4h0M217.2 113.9h0M218.5 117.3h0"/><path stroke="#0024ff" d="M220.8 97.7h0M167.6 98.2h0M185.1 103.5h0M199.6 108.5h0M184.5 110h0M191.1 110.8h0M207.3 112.6h0M221.9 117.6h0"/><path stroke="#bd0000" d="M207.6 96.1h0M210.9 96.5h0M144.3 112.1h0"/><path stroke="#0038ff" d="M188.4 103.9h0M215.2 116.9h0M193.5 117.7h0"/><path stroke="#d10000" d="M223.4 104.5h0M158.3 107.2h0"/><path stroke="#004dff" d="M168.3 91.6h0M171.7 91.9h0M174.1 98.9h0M208.7 116.1h0M225.1 118h0M229.6 121.9h0"/><path stroke="#0061ff" d="M164.3 97.7h0M204.9 105.9h0M198.9 115.1h0M212 116.6h0M226.4 121.5h0"/><path stroke="#fa0000" d="M202.4 98.9h0"/><path stroke="#0075ff" d="M228.6 101.9h0M197 101.6h0M211.5 106.6h0M202.2 115.5h0M205.3 115.9h0M196.8 118.1h0M216.4 120.3h0M223 121.2h0"/><path stroke="#ff0f00" d="M226.5 104.9h0M157 103.7h0M166.9 104.7h0"/><path stroke="#008aff" d="M200 118.4h0M203.3 118.9h0M209.9 119.7h0M213.1 120h0M219.7 120.7h0"/><path stroke="#ff2400" d="M208.9 99.6h0M218.7 100.7h0M230.3 115.4h0"/><path stroke="#009eff" d="M158.5 90.5h0M165 91.3h0M217.5 97.2h0M176.6 105.8h0M193.1 107.7h0M216.1 110.3h0M206.7 119.2h0"/><path stroke="#ff3800" d="M227.9 108.4h0M231.2 108.8h0"/><path stroke="#00b2ff" d="M192.6 97.7h0M169.4 111.6h0M176 112.5h0"/><path stroke="#ff4c00" d="M214.3 96.9h0M229 111.8h0M177.1 116h0"/><path stroke="#ff6100" d="M135.5 87.9h0M155.3 90.2h0M195.7 98.2h0M229.9 105.3h0M159.1 100.4h0M177.9 109.4h0M166 111.4h0"/><path stroke="#00dbff" d="M212.7 110h0M170.6 115.1h0"/><path stroke="#ff7500" d="M156.4 93.5h0"/><path stroke="#00f0ff" d="M225.3 101.4h0M201.5 105.3h0"/><path stroke="#ff8a00" d="M162.2 100.9h0M182.5 113.2h0"/><path stroke="#05fffa" d="M172.2 102h0M168.1 108.2h0M172.7 112.2h0M228.3 118.4h0"/><path stroke="#ff9e00" d="M220 104.1h0M225.7 111.6h0"/><path stroke="#1affe5" d="M208.2 106.2h0M180 106.2h0"/><path stroke="#ffb300" d="M199.1 98.5h0M222.1 101.1h0"/><path stroke="#2effd1" d="M163.1 94.3h0M161.6 107.5h0M220.6 114.1h0"/><path stroke="#ffc700" d="M205.6 99.3h0M210.1 103.1h0M227.2 114.9h0M183.8 116.6h0"/><path stroke="#42ffbd" d="M188.1 93.9h0M159.7 94h0M189.7 107.3h0M187.1 117h0"/><path stroke="#ffdb00" d="M185.8 113.5h0"/><path stroke="#57ffa8" d="M160.9 97.4h0M222.6 111.1h0"/><path stroke="#fff000" d="M125.6 86.8h0M221.4 107.6h0M173.4 105.5h0"/><path stroke="#6bff94" d="M165.5 101.4h0M219.4 110.8h0M173.8 115.5h0"/><path stroke="#faff05" d="M191.3 94.2h0M212.2 99.9h0M216.8 103.9h0M171.3 108.6h0M162.7 111h0"/><path stroke="#80ff80" d="M174.6 109h0M190.4 117.5h0"/><path stroke="#e5ff1a" d="M203.6 102.4h0M181.1 109.7h0"/><path stroke="#94ff6b" d="M200.3 101.9h0M213.4 103.4h0M214.8 106.9h0M223.8 114.6h0"/><path stroke="#d1ff2e" d="M126.9 90.2h0M157.7 97h0M206.9 102.6h0M180.4 116.3h0"/><path stroke="#a8ff57" d="M168.8 101.6h0M179.1 112.7h0"/><path stroke="#bdff42" d="M122.5 86.5h0M218.1 107.3h0M224.6 108h0M170 105.1h0M164.9 107.8h0M187.7 110.6h0"/><path stroke="#000080" d="M110.9 115.1h0M114 115.3h0M117.5 115.7h0M108.8 118.2h0M112.1 118.5h0M115.4 118.8h0M118.6 119.3h0M121.9 119.6h0M103.6 120.7h0M106.8 121.2h0M110.1 121.5h0M113.3 121.8h0M116.7 122.3h0M120 122.7h0M94.9 123.2h0M101.4 123.9h0M109.4 128.1h0M127 133.4h0M130.3 133.7h0"/><path stroke="#0000a8" d="M98.3 123.6h0M99.6 127.1h0"/><path stroke="#0000bd" d="M106.1 127.7h0"/><path stroke="#800000" d="M122.7 113h0M126 113.4h0M129.2 113.8h0M132.6 114.1h0M135.8 114.4h0M139.1 114.8h0M142.4 115.3h0M145.6 115.6h0M148.9 116h0M152.2 116.4h0M155.5 116.8h0M158.8 117.2h0M162 117.6h0M165.3 117.8h0M168.6 118.3h0M171.9 118.5h0M175.2 119.1h0M178.5 119.3h0M130.6 117.3h0M133.9 117.7h0M137.1 117.9h0M140.3 118.4h0M143.7 118.7h0M146.8 119.2h0M150.2 119.5h0M153.5 119.8h0M156.8 120.2h0M160 120.6h0M163.3 121h0M166.7 121.4h0M169.8 121.7h0M173.1 122.1h0M176.4 122.4h0M179.7 122.8h0M135 121h0M138.4 121.5h0M141.5 121.8h0M144.9 122.2h0M148.3 122.5h0M151.4 123h0M154.7 123.3h0M158 123.8h0M161.3 124.1h0M164.6 124.5h0M167.9 124.8h0M171.2 125.1h0M174.3 125.6h0M177.8 125.9h0M180.9 126.2h0M129.9 123.8h0M133 124.2h0M136.4 124.5h0M139.6 125h0M142.8 125.3h0M146.3 125.6h0M149.5 126h0M152.7 126.4h0M155.9 126.7h0M159.3 127.2h0M162.5 127.4h0M165.8 127.9h0M169.2 128.3h0M172.3 128.7h0M175.8 128.9h0M178.9 129.4h0M81.9 121.7h0M127.7 126.9h0M131.1 127.3h0M134.4 127.7h0M137.6 128h0M140.9 128.3h0M144.2 128.8h0M147.4 129.2h0M150.7 129.4h0M157.3 130.3h0M160.5 130.6h0M163.9 131h0M167.2 131.4h0M170.3 131.8h0M173.7 132.1h0M83.1 125.2h0M86.3 125.6h0M89.7 126h0M135.6 131h0M138.8 131.5h0M142.1 131.9h0M145.5 132.3h0M165.1 134.4h0M168.5 134.8h0M81.1 128.1h0M84.4 128.7h0M87.7 128.9h0M90.9 129.3h0M94.3 129.8h0M82.5 131.7h0M85.7 132h0M89 132.5h0M92.2 132.7h0M95.6 133.3h0M98.8 133.4h0M111.9 135.1h0"/><path stroke="#0000fa" d="M108.2 124.7h0M120.4 132.6h0"/><path stroke="#000fff" d="M192.8 124.3h0M110.7 131.5h0"/><path stroke="#0024ff" d="M190.8 127.3h0M128.2 137h0"/><path stroke="#bd0000" d="M126.4 123.3h0"/><path stroke="#0038ff" d="M109.5 111.5h0M196 124.7h0M199.3 125.1h0M194 127.7h0M91.8 122.8h0M96.2 126.5h0M102.7 127.4h0M222 144.3h0"/><path stroke="#004dff" d="M197.4 128.1h0M188.8 130.4h0M216.4 137h0M222.9 137.6h0M226.1 138.1h0M214.2 140h0M217.6 140.5h0M220.9 140.7h0M224.1 141.2h0M215.5 143.6h0M218.9 144h0M213.5 146.6h0M216.8 147h0M220.1 147.4h0"/><path stroke="#0061ff" d="M194.8 121.2h0M198 121.7h0M202.6 125.5h0M187.5 127h0M200.6 128.5h0M203.9 128.8h0M192.1 130.9h0M195.3 131.2h0M198.6 131.6h0M201.8 131.9h0M205.2 132.3h0M208.4 132.8h0M211.8 133.1h0M215 133.4h0M218.2 133.8h0M221.6 134.3h0M224.9 134.6h0M104.8 124.3h0M193.2 134.3h0M199.9 135.1h0M206.5 135.8h0M209.8 136.1h0M212.9 136.6h0M219.5 137.3h0M210.9 139.6h0M123.7 133.1h0M199.2 141.6h0M208.9 142.7h0M212.3 143.1h0M167.5 141.3h0M170.9 141.7h0M174.2 142.1h0M177.4 142.5h0M210.3 146.2h0"/><path stroke="#fa0000" d="M127.2 116.9h0M131.9 120.7h0M97.6 130.1h0"/><path stroke="#0075ff" d="M191.6 120.9h0M201.5 121.9h0M205.9 125.8h0M209.3 126.2h0M207.3 129.2h0M210.4 129.6h0M213.8 130.1h0M217 130.3h0M220.3 130.7h0M183.4 133.3h0M186.9 133.6h0M190 133.9h0M196.6 134.7h0M203.3 135.4h0M188 137h0M201.1 138.6h0M204.4 138.8h0M207.6 139.4h0M172.9 138.8h0M176.2 139.1h0M192.6 140.9h0M196 141.4h0M202.4 142h0M205.7 142.4h0M121.8 136.2h0M180.7 142.8h0M187.3 143.7h0M193.9 144.3h0M197.1 144.8h0M200.3 145h0M203.7 145.5h0M207 145.9h0"/><path stroke="#008aff" d="M204.7 122.4h0M207.9 122.7h0M211.2 123h0M221 124.2h0M227.7 124.9h0M212.5 126.6h0M219 127.4h0M222.4 127.7h0M223.6 131.3h0M226.9 131.5h0M181.5 136.3h0M184.8 136.6h0M191.2 137.5h0M194.7 137.7h0M197.9 138.1h0M166.3 137.9h0M179.4 139.5h0M185.9 140.2h0M189.3 140.5h0M184.1 143.2h0M190.6 144h0"/><path stroke="#ff2400" d="M182.9 123.1h0M153.9 129.9h0M125.8 130.1h0"/><path stroke="#009eff" d="M214.6 123.5h0M217.7 123.8h0M224.3 124.5h0M215.8 126.9h0M225.5 128.1h0M228.8 128.5h0M185.6 130.1h0M88.3 122.5h0M114.7 125.4h0M178.3 136h0M163.1 137.5h0M169.6 138.3h0M182.7 139.9h0M131.7 137.2h0M164.4 140.9h0"/><path stroke="#ff3800" d="M128.5 120.4h0"/><path stroke="#00b2ff" d="M189.5 123.9h0M174.9 135.6h0M159.9 137.2h0"/><path stroke="#ff4c00" d="M184.2 126.7h0M124.5 126.5h0M161.9 134h0M105.4 134.3h0"/><path stroke="#00c7ff" d="M180.2 132.9h0"/><path stroke="#00dbff" d="M124 116.5h0M112.6 128.5h0M133.6 134.2h0M115.1 135.5h0M161.1 140.6h0"/><path stroke="#ff7500" d="M181.8 119.7h0"/><path stroke="#00f0ff" d="M120.7 116h0M132.3 130.7h0M136.8 134.6h0M156.4 136.9h0M125 136.6h0M144.6 138.9h0M147.9 139.1h0"/><path stroke="#ff8a00" d="M148.8 132.5h0M155.2 133.3h0"/><path stroke="#05fffa" d="M143.5 135.2h0M146.6 135.7h0M153.3 136.4h0M141.4 138.3h0M151.2 139.5h0M154.6 139.9h0M157.7 140.4h0"/><path stroke="#ff9e00" d="M122.5 129.5h0M171.6 135.2h0M104.1 130.8h0"/><path stroke="#1affe5" d="M111.4 125h0"/><path stroke="#ffb300" d="M117.2 132.3h0"/><path stroke="#2effd1" d="M93 126.3h0"/><path stroke="#ffc700" d="M102.1 133.9h0"/><path stroke="#42ffbd" d="M149.9 136h0"/><path stroke="#ffdb00" d="M182.2 129.8h0M85.2 122h0M113.9 132h0"/><path stroke="#57ffa8" d="M129.1 130.4h0M138.2 138h0"/><path stroke="#fff000" d="M158.5 133.6h0"/><path stroke="#6bff94" d="M188.4 120.4h0M123.2 123.1h0M115.8 128.9h0M100.8 130.4h0M134.9 137.7h0"/><path stroke="#faff05" d="M151.9 132.9h0"/><path stroke="#80ff80" d="M121.2 126.1h0M107.4 131.2h0M140.1 134.9h0"/><path stroke="#e5ff1a" d="M125.2 119.9h0M177 132.5h0M118.5 135.9h0"/><path stroke="#d1ff2e" d="M185 120h0M186.4 123.7h0"/><path stroke="#a8ff57" d="M118 125.7h0"/><path stroke="#bdff42" d="M119.2 129.3h0M108.6 134.7h0"/><path stroke="#0000e6" d="M80.1 151.3h0M83.4 151.8h0"/><path stroke="#800000" d="M83.7 135.2h0M86.9 135.4h0M90.2 135.9h0M93.4 136.3h0M96.7 136.5h0M103.3 137.4h0M81.7 138.3h0M85 138.5h0M88.2 138.9h0M91.5 139.3h0M94.7 139.7h0M97.9 140.1h0M101.4 140.5h0M104.5 140.9h0M82.9 141.6h0M89.5 142.4h0M92.7 142.8h0M96 143.1h0M102.5 144h0M87.5 145.5h0M90.7 145.9h0M94.1 146.4h0"/><path stroke="#940000" d="M79.7 141.2h0M99.3 143.6h0M105.9 144.3h0"/><path stroke="#000fff" d="M82.1 148.2h0M181.8 163h0"/><path stroke="#0024ff" d="M78.9 147.9h0M92.1 149.5h0M170.7 158.3h0M174 158.7h0M175.2 162.2h0M178.4 162.6h0M185 163.4h0M188.4 163.7h0M179.8 166h0M183.1 166.5h0M186.4 166.7h0M189.6 167.1h0M192.9 167.6h0M177.7 169.2h0M181.1 169.5h0M184.3 169.9h0M187.7 170.2h0M190.9 170.6h0"/><path stroke="#0038ff" d="M221.4 150.9h0M169.4 154.9h0M172.6 155.2h0M175.9 155.6h0M185.7 156.8h0M177.2 159.2h0M180.5 159.4h0M183.8 159.9h0M187 160.3h0M193.7 160.9h0M197 161.2h0M200.1 161.6h0M168.7 161.5h0M172 161.8h0M191.7 164h0M194.8 164.4h0M198.2 164.8h0M201.4 165.2h0M176.6 165.6h0M196.2 167.8h0M199.4 168.2h0M194.2 170.9h0"/><path stroke="#d10000" d="M106.5 137.7h0"/><path stroke="#004dff" d="M172.2 145.3h0M175.4 145.6h0M178.7 146h0M214.8 150.1h0M218 150.6h0M173.5 148.7h0M176.7 149h0M179.9 149.4h0M183.4 149.8h0M186.5 150.1h0M189.7 150.6h0M171.3 151.8h0M174.8 152.1h0M181.2 152.8h0M184.6 153.3h0M187.7 153.6h0M191.1 154.1h0M179.2 155.9h0M182.5 156.3h0M189.1 157h0M192.3 157.6h0M202.1 158.6h0M208.8 159.3h0M218.6 160.5h0M190.3 160.6h0M203.4 162h0M206.7 162.5h0M210.1 162.9h0M213.4 163.1h0M216.6 163.5h0M204.6 165.5h0M208 166h0M211.3 166.4h0M169.9 165h0M173.1 165.3h0M202.8 168.7h0M205.9 168.9h0M209.2 169.3h0M167.9 167.9h0M171.3 168.5h0M174.4 168.7h0M197.5 171.3h0M200.7 171.8h0M210.5 172.9h0"/><path stroke="#e50000" d="M119.6 139.2h0M97.3 146.7h0"/><path stroke="#0061ff" d="M168.8 144.8h0M182.1 146.4h0M185.2 146.7h0M170.2 148.3h0M193.2 150.8h0M219.3 153.9h0M177.9 152.5h0M194.3 154.4h0M197.7 154.9h0M200.9 155.1h0M204.3 155.6h0M207.5 156h0M214 156.6h0M217.3 157.1h0M113.7 148.5h0M195.7 157.8h0M199 158.3h0M205.4 158.9h0M211.9 159.7h0M215.4 160.2h0M85.5 148.6h0M98.6 150.1h0M101.9 150.5h0M167.4 158.1h0M86.8 152.2h0M214.6 166.7h0M143.8 161.9h0M150.3 162.7h0M166.7 164.6h0M212.5 169.7h0M215.8 170h0M122.1 162.7h0M125.3 163.2h0M145 165.4h0M151.5 166.1h0M164.6 167.6h0M204 172.1h0M207.2 172.4h0M213.9 173.3h0"/><path stroke="#fa0000" d="M107.9 141.3h0"/><path stroke="#0075ff" d="M116.4 138.9h0M188.6 147h0M191.8 147.5h0M195.2 147.9h0M198.4 148.1h0M211.5 149.8h0M166.9 147.9h0M196.3 151.3h0M202.9 152h0M209.6 152.7h0M212.7 153.2h0M216.1 153.5h0M168.1 151.4h0M210.8 156.3h0M117 148.8h0M105.2 150.8h0M108.4 151.2h0M78.1 154.4h0M140.4 161.6h0M146.9 162.2h0M115.5 162h0M118.6 162.4h0M128.5 163.5h0M135 164.3h0M138.4 164.5h0M141.6 164.9h0M148.3 165.8h0"/><path stroke="#ff0f00" d="M100.1 137h0"/><path stroke="#008aff" d="M165.7 144.5h0M201.7 148.6h0M204.9 149h0M208.2 149.3h0M199.6 151.7h0M206.2 152.4h0M110.3 148.1h0M145.6 158.8h0M152.2 159.5h0M137.1 161.1h0M112.2 161.6h0M131.9 163.9h0"/><path stroke="#009eff" d="M163.6 147.6h0M120.2 149.3h0M166.1 154.5h0M95.2 149.6h0M90 152.6h0M93.3 152.8h0M142.5 158.5h0M149 159.2h0M153.5 163h0M102.3 160.6h0M105.7 160.9h0M108.8 161.3h0M154.7 166.5h0"/><path stroke="#00b2ff" d="M162.4 144.1h0M160.3 147.1h0M141.9 148.5h0M148.6 149.1h0M151.8 149.5h0M165 151h0M103.8 147.5h0M107.1 147.9h0M123.4 149.7h0M111.7 151.5h0M114.9 152h0M139.1 158h0M84.6 155.2h0M114.2 158.6h0M117.4 158.9h0M124 159.7h0M127.2 160h0M130.6 160.3h0M133.8 160.8h0"/><path stroke="#00c7ff" d="M142.6 141.9h0M114.5 141.9h0M143.9 145.3h0M138.6 148h0M145.1 148.9h0M155.1 149.8h0M158.4 150.4h0M126.8 150.1h0M130.1 150.3h0M133.4 150.8h0M136.6 151h0M139.9 151.5h0M118.1 152.3h0M96.5 153.2h0M99.9 153.5h0M103.1 154h0M106.3 154.3h0M109.6 154.8h0M135.9 157.6h0M81.5 154.8h0M104.4 157.3h0M107.6 157.8h0M110.8 158.1h0M120.6 159.3h0M79.4 158h0M82.7 158.2h0M89.2 159.1h0M92.6 159.4h0M95.8 159.8h0M99.1 160.1h0"/><path stroke="#ff6100" d="M86.1 142h0"/><path stroke="#00dbff" d="M146 142.1h0M140.6 144.9h0M147.1 145.8h0M150.4 146.1h0M157 146.9h0M121.6 152.7h0M128.1 153.4h0M134.7 154.2h0M138 154.6h0M141.2 154.9h0M112.9 155.1h0M116.2 155.5h0M165.3 161.1h0M88 155.5h0M91.3 155.9h0M94.6 156.3h0M97.8 156.7h0M85.8 158.6h0M158.1 166.9h0"/><path stroke="#00f0ff" d="M149.3 142.6h0M152.4 143h0M153.8 146.4h0M161.7 150.6h0M84.2 145.1h0M143.2 151.9h0M146.4 152.3h0M149.7 152.7h0M153 153h0M156.3 153.4h0M88.6 149h0M124.8 153.2h0M131.3 153.8h0M144.5 155.4h0M147.7 155.7h0M151.1 156.1h0M126 156.6h0M129.4 156.9h0M132.5 157.3h0M101.1 157.1h0M161.5 167.3h0"/><path stroke="#ff8a00" d="M122.9 139.7h0M111.2 141.6h0"/><path stroke="#05fffa" d="M139.4 141.5h0M155.7 143.4h0M159.1 143.7h0M118.9 145.7h0M135.4 147.8h0M162.9 154.1h0M154.2 156.4h0M164.2 157.6h0M119.4 155.9h0"/><path stroke="#1affe5" d="M122.7 156.2h0M163.3 164.1h0"/><path stroke="#ffb300" d="M100.5 147.1h0"/><path stroke="#2effd1" d="M129.5 140.4h0M159.6 153.7h0M155.6 160h0M156.9 163.4h0M160.2 163.8h0"/><path stroke="#42ffbd" d="M115.7 145.4h0M157.5 156.9h0M160.8 157.3h0M158.9 160.4h0M162.1 160.6h0"/><path stroke="#ffdb00" d="M117.8 142.3h0"/><path stroke="#57ffa8" d="M126.3 140h0M124.3 143h0M122.3 146.1h0"/><path stroke="#6bff94" d="M136.1 141.2h0M121 142.7h0M137.4 144.6h0M132.1 147.4h0"/><path stroke="#faff05" d="M109.2 144.6h0"/><path stroke="#80ff80" d="M125.6 146.5h0M128.8 147h0"/><path stroke="#94ff6b" d="M132.9 140.7h0M127.6 143.4h0M130.7 143.9h0M112.3 145.1h0M81 144.9h0"/><path stroke="#a8ff57" d="M109.9 138.1h0M134 144.2h0"/><path stroke="#bdff42" d="M113.1 138.5h0"/><path stroke="#0000e6" d="M141.9 191.6h0M145.3 192h0M187.9 196.9h0M191.2 197.1h0M194.5 197.7h0M201 198.3h0M204.2 198.6h0M207.5 199.1h0"/><path stroke="#0000fa" d="M193.1 194.2h0M199.6 194.9h0M203.1 195.3h0M206.2 195.7h0M135.3 190.8h0M138.7 191.2h0M148.6 192.3h0M151.7 192.7h0M158.5 193.5h0M184.6 196.4h0M197.8 198h0"/><path stroke="#000fff" d="M210.3 189.5h0M201.8 191.7h0M205 192.2h0M208.4 192.6h0M189.9 193.8h0M196.4 194.4h0M132.1 190.5h0M155 193.2h0M161.5 193.9h0M168.1 194.5h0M171.4 195h0M178.1 195.6h0M181.4 196.2h0"/><path stroke="#0024ff" d="M188.8 173.6h0M192 174.2h0M205.7 185.6h0M209 185.9h0M197.2 187.9h0M200.5 188.4h0M203.8 188.6h0M207 189.1h0M191.8 190.7h0M195.1 191.1h0M198.4 191.5h0M134.2 187.3h0M137.4 187.7h0M143.9 188.5h0M170.2 191.6h0M176.8 192.2h0M183.3 193.1h0M186.5 193.3h0M106 187.5h0M165 194.2h0M174.7 195.2h0"/><path stroke="#0038ff" d="M179 172.6h0M182.3 172.9h0M185.5 173.3h0M195.4 174.5h0M154.1 173.1h0M157.4 173.4h0M183.6 176.4h0M186.8 176.8h0M193.5 177.6h0M196.6 177.9h0M155.3 176.5h0M184.8 179.9h0M188 180.3h0M194.7 181h0M201.1 181.8h0M182.9 183h0M186.2 183.4h0M189.4 183.6h0M192.6 184.1h0M195.9 184.5h0M199.2 184.9h0M202.6 185.2h0M184.1 186.3h0M187.4 186.9h0M190.6 187.2h0M194 187.5h0M182 189.5h0M185.4 189.9h0M188.6 190.3h0M140.8 188.2h0M147.2 188.9h0M150.5 189.3h0M153.8 189.6h0M157.1 189.9h0M160.3 190.4h0M173.5 191.9h0M180 192.6h0M92.8 186h0M96.1 186.5h0M99.3 186.8h0M115.7 188.7h0M128.9 190h0"/><path stroke="#004dff" d="M152.8 169.7h0M156 169.9h0M162.6 170.6h0M165.9 171.1h0M169.1 171.4h0M172.5 171.8h0M175.8 172.2h0M198.7 174.7h0M208.6 176h0M144.2 171.9h0M147.4 172.2h0M150.8 172.7h0M160.7 173.7h0M163.8 174.2h0M173.7 175.3h0M177 175.6h0M180.2 176.1h0M190.1 177.1h0M200 178.3h0M203.1 178.6h0M206.6 179.1h0M209.8 179.4h0M86.4 168.8h0M93.1 169.5h0M96.3 169.7h0M145.5 175.5h0M148.7 175.9h0M151.9 176.1h0M158.6 176.9h0M165.2 177.7h0M178.2 179.1h0M181.5 179.4h0M191.3 180.6h0M198 181.4h0M204.4 182.2h0M207.8 182.4h0M211.1 182.9h0M90.9 172.4h0M97.5 173.2h0M150.1 179.2h0M159.9 180.3h0M179.5 182.5h0M89.1 175.7h0M154.5 183.2h0M174.3 185.3h0M180.9 186.1h0M139.5 184.6h0M146 185.5h0M172.2 188.5h0M175.5 188.8h0M178.8 189.1h0M91.5 182.5h0M101.4 183.6h0M104.6 184h0M127.6 186.6h0M130.9 187.1h0M163.6 190.8h0M166.9 191.2h0M83 184.8h0M89.6 185.7h0M102.7 187.1h0M109.1 187.8h0M112.4 188.3h0M119.1 189h0M122.4 189.3h0M125.5 189.7h0"/><path stroke="#0061ff" d="M107 164.3h0M119.9 165.8h0M123.2 166.2h0M126.5 166.7h0M133 167.4h0M139.7 168h0M146.2 168.8h0M149.5 169.1h0M201.9 175.2h0M205.3 175.6h0M211.8 176.2h0M85.3 165.2h0M88.4 165.7h0M91.7 165.9h0M95 166.4h0M121.2 169.4h0M127.9 170.1h0M137.7 171.2h0M141 171.5h0M167.2 174.6h0M170.4 175h0M89.7 169.1h0M99.5 170.3h0M102.9 170.6h0M106 171h0M135.7 174.3h0M161.9 177.3h0M168.4 177.9h0M174.9 178.8h0M84.5 171.8h0M87.7 172.1h0M94.2 172.9h0M100.9 173.6h0M107.4 174.4h0M110.7 174.8h0M133.6 177.3h0M146.7 178.8h0M153.2 179.7h0M156.6 179.9h0M163.2 180.8h0M166.3 181.2h0M169.7 181.5h0M176.3 182.2h0M85.7 175.2h0M92.2 176.1h0M95.6 176.3h0M98.8 176.7h0M102 177.2h0M105.3 177.5h0M108.6 177.8h0M125.2 179.7h0M131.6 180.5h0M141.4 181.6h0M144.8 181.9h0M157.9 183.4h0M161.1 183.8h0M164.3 184.2h0M167.6 184.6h0M170.9 184.9h0M177.5 185.6h0M87 178.8h0M96.7 179.8h0M100.1 180.1h0M113.2 181.6h0M119.8 182.4h0M123.1 182.9h0M126.4 183.2h0M136.2 184.3h0M142.8 185h0M149.3 185.7h0M152.6 186.2h0M155.8 186.5h0M159.1 186.8h0M162.4 187.3h0M165.7 187.7h0M169 188h0M84.9 181.9h0M88.2 182.1h0M94.8 182.9h0M98 183.3h0M114.6 185.2h0M121.1 186h0M124.4 186.2h0M86.2 185.3h0"/><path stroke="#0075ff" d="M93.8 162.8h0M97.1 163.2h0M100.2 163.6h0M103.7 163.9h0M110.2 164.7h0M113.5 165h0M116.8 165.5h0M129.9 166.9h0M136.4 167.8h0M143 168.4h0M159.4 170.3h0M98.3 166.7h0M101.5 167.2h0M104.9 167.5h0M114.8 168.6h0M124.5 169.7h0M131.1 170.4h0M134.5 170.8h0M80 168h0M83.2 168.2h0M109.4 171.3h0M119.2 172.5h0M122.5 172.7h0M125.8 173.2h0M129 173.5h0M132.3 174h0M138.8 174.7h0M142.1 175h0M171.6 178.4h0M81.1 171.5h0M104.2 173.9h0M113.9 175.2h0M117.3 175.5h0M120.5 175.9h0M123.8 176.2h0M127 176.5h0M130.3 176.9h0M137 177.6h0M140.2 178.1h0M143.4 178.5h0M173.1 181.9h0M112 178.3h0M115.2 178.6h0M118.4 178.9h0M128.3 180.2h0M134.8 180.8h0M138.2 181.2h0M148 182.2h0M151.2 182.7h0M80.5 178h0M83.7 178.3h0M90.2 179.1h0M93.5 179.4h0M103.4 180.5h0M106.7 180.9h0M110 181.3h0M116.5 182h0M129.6 183.5h0M132.8 183.9h0M81.6 181.4h0M107.9 184.4h0M111.3 184.8h0M117.7 185.5h0M79.6 184.5h0"/><path stroke="#008aff" d="M87.1 162h0M90.5 162.5h0M81.9 164.9h0M108.2 167.7h0M111.4 168.2h0M118.1 168.9h0M112.6 171.7h0M116 172.1h0M77.8 170.9h0M82.5 174.8h0M121.8 179.3h0"/><path stroke="#009eff" d="M84 161.7h0M78.7 164.5h0M79.1 174.5h0M77.1 177.6h0M78.4 181h0M76.4 184.2h0"/><path stroke="#00b2ff" d="M77.4 161.1h0M76.6 167.6h0M76 174.2h0M75.1 180.7h0"/><path stroke="#00c7ff" d="M80.7 161.4h0"/><path stroke="#0000a8" d="M154.3 199.6h0M74.3 203.8h0"/><path stroke="#0000bd" d="M143.2 195h0M146.5 195.5h0M149.9 195.8h0M153.1 196.2h0M144.5 198.5h0M147.8 198.9h0M151.1 199.3h0M157.6 200.1h0M161 200.4h0M149.1 202.4h0M159 203.4h0M162.2 203.9h0M77.4 204.1h0M72.2 206.8h0M75.3 207.3h0M78.6 207.6h0"/><path stroke="#0000d1" d="M156.3 196.6h0M159.6 196.8h0M192.5 200.7h0M195.7 201h0M164.2 200.7h0M167.5 201.1h0M119.5 199.1h0M152.3 202.7h0M155.6 203h0M165.4 204.2h0M172.1 205h0M175.4 205.4h0M178.5 205.7h0M188.5 206.8h0M201.6 208.3h0M111 201.4h0M117.4 202.1h0M124.1 202.8h0M127.3 203.3h0M153.5 206.3h0M160.1 207h0M163.5 207.4h0M76.2 200.6h0M79.5 201h0M85.9 201.7h0M95.9 202.9h0M112.2 204.8h0M115.4 205.3h0M80.8 204.6h0M84.1 204.9h0M87.3 205.3h0M93.8 206h0M97.2 206.5h0M82 208h0M85.2 208.5h0"/><path stroke="#0000e6" d="M136.7 194.4h0M140 194.7h0M162.8 197.3h0M166.2 197.6h0M172.8 198.3h0M176.1 198.8h0M182.7 199.6h0M185.8 199.9h0M189.2 200.3h0M198.9 201.5h0M202.3 201.8h0M205.5 202.1h0M118.2 195.5h0M138 197.9h0M141.1 198.2h0M170.8 201.5h0M173.9 201.9h0M177.4 202.2h0M180.6 202.6h0M183.8 203h0M187.1 203.3h0M190.4 203.8h0M193.7 204.2h0M196.9 204.4h0M200.3 204.9h0M203.5 205.2h0M106.5 197.6h0M109.8 197.8h0M112.9 198.3h0M116.3 198.6h0M122.9 199.4h0M126 199.8h0M129.3 200.2h0M132.6 200.5h0M136 201h0M139.2 201.2h0M145.8 202.1h0M168.8 204.6h0M181.8 206.1h0M185.1 206.6h0M191.7 207.3h0M195 207.6h0M198.2 207.9h0M78.3 197.5h0M88 198.8h0M104.4 200.6h0M107.6 200.9h0M114.3 201.6h0M120.9 202.5h0M130.6 203.5h0M133.9 203.9h0M140.4 204.7h0M143.8 205h0M150.3 205.8h0M156.9 206.6h0M166.8 207.7h0M170 208.1h0M173.3 208.5h0M176.5 208.7h0M179.9 209.1h0M72.9 200.3h0M82.8 201.4h0M89.3 202.2h0M92.6 202.7h0M99 203.3h0M102.3 203.7h0M109 204.5h0M118.9 205.5h0M122 205.9h0M125.3 206.2h0M132 207.1h0M135.2 207.4h0M151.5 209.3h0M90.5 205.7h0M100.4 206.7h0M113.6 208.3h0M120 209.1h0M123.4 209.3h0M88.4 208.7h0M91.9 209.2h0M95.1 209.5h0"/><path stroke="#0000fa" d="M169.5 198h0M179.3 199.2h0M111.7 194.7h0M115.1 195.2h0M121.5 195.9h0M128.1 196.6h0M131.4 197.1h0M134.7 197.4h0M142.4 201.6h0M81.6 197.9h0M84.7 198.4h0M91.3 199.1h0M94.6 199.4h0M97.9 199.9h0M101.2 200.2h0M137.1 204.3h0M105.8 204h0M128.5 206.7h0M138.6 207.9h0M141.8 208.2h0M148.3 208.9h0M103.7 207.2h0M106.9 207.5h0M116.7 208.8h0"/><path stroke="#000fff" d="M120.2 192.5h0M126.9 193.1h0M130.2 193.7h0M133.4 194h0M101.9 193.8h0M105.2 194.1h0M108.5 194.4h0M124.8 196.2h0M83.4 194.9h0M86.8 195.3h0M93.3 196h0M96.5 196.5h0M99.9 196.8h0M103.1 197.2h0M74.9 197.3h0M147.1 205.6h0M145 208.6h0M110.2 207.9h0"/><path stroke="#0024ff" d="M100.6 190.3h0M103.8 190.5h0M107.2 190.9h0M110.5 191.3h0M113.7 191.7h0M116.9 192h0M123.7 192.9h0M95.2 192.9h0M98.5 193.2h0M89.9 195.6h0"/><path stroke="#0038ff" d="M94.1 189.5h0M97.3 189.9h0M85.5 191.9h0M92.1 192.6h0M73.6 193.7h0M77 194.2h0M80.2 194.5h0"/><path stroke="#004dff" d="M84.3 188.4h0M87.5 188.8h0M90.9 189h0M82.3 191.4h0M88.8 192.1h0"/><path stroke="#0061ff" d="M78.9 191.1h0"/><path stroke="#0075ff" d="M80.9 188.1h0M75.6 190.8h0"/><path stroke="#008aff" d="M77.7 187.6h0"/><path stroke="#009eff" d="M74.4 187.2h0"/></g><g fill="none" stroke-linecap="round" stroke-width="6.6"><path stroke="#000080" d="M200.7 1.1h0M205.3 1.1h0"/><path stroke="#000094" d="M154.9 1.1h0M159.5 1.1h0M164.1 1.1h0M168.7 1.1h0M173.3 1.1h0M177.8 1.1h0M182.4 1.1h0M187 1.1h0M191.6 1.1h0M196.2 1.1h0M209.9 1.1h0"/><path stroke="#0000a8" d="M145.8 1.1h0M150.4 1.1h0M214.5 1.1h0M228.2 1.1h0M232.8 1.1h0M232.8 5.7h0M74.5 210.9h0"/><path stroke="#0000bd" d="M127.5 1.1h0M132 1.1h0M136.6 1.1h0M141.2 1.1h0M219.1 1.1h0M223.6 1.1h0M232.8 10.2h0M79.2 210.9h0M69.9 210.9h0M70.5 206.3h0M71 201.8h0M93.7 14.8h0"/><path stroke="#0000d1" d="M122.9 1.1h0M232.8 23.9h0M232.8 78.5h0M232.8 83.1h0M232.8 101.3h0M205.7 206.5h0M88.4 210.9h0M83.8 210.9h0M93.2 19.3h0"/><path stroke="#0000e6" d="M118.3 1.1h0M232.8 14.8h0M232.8 19.3h0M232.8 28.4h0M232.8 74h0M232.8 87.6h0M232.8 96.7h0M207 202.2h0M204.3 210.9h0M199.7 210.9h0M195 210.9h0M190.4 210.9h0M185.8 210.9h0M181.1 210.9h0M176.5 210.9h0M171.9 210.9h0M167.2 210.9h0M162.6 210.9h0M158 210.9h0M130.1 210.9h0M125.5 210.9h0M120.9 210.9h0M102.3 210.9h0M97.7 210.9h0M93.1 210.9h0"/><path stroke="#800000" d="M78.8 137.9h0M79.3 133.4h0M79.9 128.8h0M80.4 124.2h0M81 119.7h0M84.3 92.3h0M84.9 87.8h0M85.4 83.2h0"/><path stroke="#0000fa" d="M232.8 37.5h0M232.8 69.4h0M232.8 92.2h0M208.4 197.8h0M153.3 210.9h0M148.7 210.9h0M139.4 210.9h0M134.8 210.9h0M116.2 210.9h0M111.6 210.9h0M107 210.9h0M89.3 51.3h0"/><path stroke="#000fff" d="M232.8 33h0M232.8 42.1h0M232.8 51.2h0M232.8 64.9h0M211.1 189.1h0M209.7 193.5h0M144.1 210.9h0M71.6 197.2h0M88.7 55.8h0"/><path stroke="#0024ff" d="M232.8 46.6h0M232.8 55.7h0M232.8 60.3h0M89.9 46.7h0"/><path stroke="#bd0000" d="M86 78.6h0"/><path stroke="#0038ff" d="M226 141.3h0M224.7 145.6h0M223.3 150h0M212.4 184.8h0M77.1 151.6h0M77.7 147h0M92.6 23.9h0"/><path stroke="#004dff" d="M227.4 136.9h0M221.9 154.3h0M219.2 163h0M90.4 42.1h0M91 37.6h0M94.3 10.2h0"/><path stroke="#e50000" d="M232.8 110.4h0M232.8 114.9h0M83.2 101.4h0"/><path stroke="#0061ff" d="M220.6 158.7h0M217.9 167.4h0M216.5 171.7h0M215.2 176.1h0M213.8 180.4h0M72.1 192.7h0"/><path stroke="#0075ff" d="M231.4 123.9h0M228.7 132.6h0M91.5 33h0M92.1 28.5h0"/><path stroke="#008aff" d="M113.7 1.1h0"/><path stroke="#ff2400" d="M81.5 115.1h0"/><path stroke="#009eff" d="M230.1 128.2h0"/><path stroke="#00b2ff" d="M72.7 188.1h0M73.2 183.5h0M73.8 179h0M74.9 169.9h0M75.4 165.3h0"/><path stroke="#00c7ff" d="M74.3 174.4h0M76 160.7h0M76.6 156.2h0"/><path stroke="#ff8a00" d="M232.8 105.8h0"/><path stroke="#ffc700" d="M87.6 65h0"/><path stroke="#42ffbd" d="M88.2 60.4h0"/><path stroke="#6bff94" d="M109.1 1.1h0M232.8 119.5h0M78.2 142.5h0M86.5 74.1h0"/><path stroke="#faff05" d="M87.1 69.5h0"/><path stroke="#e5ff1a" d="M95.4 1.1h0"/><path stroke="#94ff6b" d="M104.6 1.1h0M94.8 5.7h0"/><path stroke="#a8ff57" d="M100 1.1h0"/><path stroke="#800000" d="M93.7 76.6h0M106.7 78h0M104.7 81.1h0M108 81.4h0"/><path stroke="#a80000" d="M101.4 80.7h0"/><path stroke="#d10000" d="M96.9 76.8h0"/><path stroke="#e50000" d="M98.3 80.3h0"/><path stroke="#fa0000" d="M90.4 76.1h0"/><path stroke="#ff0f00" d="M100.1 77.2h0"/><path stroke="#fff000" d="M88.3 79.2h0"/><path stroke="#bdff42" d="M91.5 79.5h0"/><path stroke="#000080" d="M98.4 107h0"/><path stroke="#800000" d="M93 83.1h0M99.5 83.9h0M102.7 84.2h0M90.9 86.2h0M94.2 86.5h0M97.5 86.9h0M100.8 87.3h0M104 87.6h0M107.3 88.1h0M85.6 88.8h0M92.1 89.5h0M95.3 90h0M98.8 90.4h0M102 90.8h0M105.4 91.1h0M93.5 93.1h0M96.6 93.5h0M99.9 93.8h0M103.2 94.1h0M106.6 94.5h0M84.8 95.5h0M88 95.8h0M94.7 96.6h0M101.1 97.3h0M107.8 98.1h0M102.5 100.7h0M105.7 101.2h0M100.4 103.9h0M103.9 104.2h0M107 104.5h0M108.4 108h0M114.8 108.7h0"/><path stroke="#bd0000" d="M96.1 83.4h0"/><path stroke="#d10000" d="M92.6 99.6h0M90.6 102.7h0"/><path stroke="#e50000" d="M87.4 102.3h0"/><path stroke="#009eff" d="M91.9 106.1h0M95.2 106.6h0"/><path stroke="#ff4c00" d="M97.2 103.5h0"/><path stroke="#ffc700" d="M94 103.1h0"/><path stroke="#a8ff57" d="M88.5 105.9h0"/><path stroke="#bdff42" d="M85.3 105.5h0"/><path stroke="#000080" d="M93.1 109.6h0M99.7 110.5h0M106.3 111.2h0M97.7 113.6h0M100.9 113.9h0M104.3 114.2h0M107.6 114.7h0M89.2 115.9h0M98.9 116.9h0M105.5 117.7h0M93.6 119.6h0M97 120.1h0M100.2 120.4h0"/><path stroke="#0000bd" d="M86.6 108.9h0M103 110.8h0"/><path stroke="#0000d1" d="M90.4 119.2h0"/><path stroke="#800000" d="M84.7 111.9h0M82.7 115.1h0"/><path stroke="#0024ff" d="M87.2 118.9h0"/><path stroke="#0038ff" d="M91.3 112.7h0"/><path stroke="#0061ff" d="M83.8 118.6h0"/><path stroke="#0075ff" d="M89.9 109.3h0M95.7 116.6h0"/><path stroke="#009eff" d="M94.4 113.2h0"/><path stroke="#00f0ff" d="M85.9 115.5h0"/><path stroke="#ffc700" d="M87.9 112.3h0"/><path stroke="#fff000" d="M92.3 116.2h0"/></g>
<g clip-path="url(#fc)"><use href="#st" transform="translate(0.5,0.6)" fill="none" stroke="#000" stroke-width="2.3" stroke-linejoin="round" stroke-linecap="round"/></g>
</g>
<rect x="1285.3" y="94.8" width="23.6" height="216.6" fill="url(#jet)" stroke="#3a1010" stroke-width="0.7"/>
<path d="M1308.9 203.1h-2.4" stroke="#262626" stroke-width="0.8"/>
<text class="cb" x="1317.2" y="103.0">100</text><text class="cb" x="1317.2" y="210.0">50</text><text class="cb" x="1317.2" y="317.0">0</text>
<text class="tk" x="988.0" y="112.7">48<tspan class="dg" dx="1.6" dy="-6.9">°</tspan><tspan dx="4.9" dy="6.9">N</tspan></text><text class="tk" x="988.0" y="130.7">46<tspan class="dg" dx="1.6" dy="-6.9">°</tspan><tspan dx="4.9" dy="6.9">N</tspan></text><text class="tk" x="988.0" y="147.8">44<tspan class="dg" dx="1.6" dy="-6.9">°</tspan><tspan dx="4.9" dy="6.9">N</tspan></text><text class="tk" x="988.0" y="166.8">42<tspan class="dg" dx="1.6" dy="-6.9">°</tspan><tspan dx="4.9" dy="6.9">N</tspan></text><text class="tk" x="988.0" y="182.5">40<tspan class="dg" dx="1.6" dy="-6.9">°</tspan><tspan dx="4.9" dy="6.9">N</tspan></text><text class="tk" x="988.0" y="197.6">38<tspan class="dg" dx="1.6" dy="-6.9">°</tspan><tspan dx="4.9" dy="6.9">N</tspan></text><text class="tk" x="988.0" y="214.4">36<tspan class="dg" dx="1.6" dy="-6.9">°</tspan><tspan dx="4.9" dy="6.9">N</tspan></text><text class="tk" x="988.0" y="228.9">34<tspan class="dg" dx="1.6" dy="-6.9">°</tspan><tspan dx="4.9" dy="6.9">N</tspan></text><text class="tk" x="988.0" y="245.6">32<tspan class="dg" dx="1.6" dy="-6.9">°</tspan><tspan dx="4.9" dy="6.9">N</tspan></text><text class="tk" x="988.0" y="259.7">30<tspan class="dg" dx="1.6" dy="-6.9">°</tspan><tspan dx="4.9" dy="6.9">N</tspan></text><text class="tk" x="988.0" y="272.8">28<tspan class="dg" dx="1.6" dy="-6.9">°</tspan><tspan dx="4.9" dy="6.9">N</tspan></text><text class="tk" x="988.0" y="287.8">26<tspan class="dg" dx="1.6" dy="-6.9">°</tspan><tspan dx="4.9" dy="6.9">N</tspan></text><text class="tk" x="988.0" y="302.0">24<tspan class="dg" dx="1.6" dy="-6.9">°</tspan><tspan dx="4.9" dy="6.9">N</tspan></text><text class="tk" x="988.0" y="314.9">22<tspan class="dg" dx="1.6" dy="-6.9">°</tspan><tspan dx="4.9" dy="6.9">N</tspan></text>
<text class="tk" x="1084.0" y="74.4" text-anchor="middle">100<tspan class="dg" dx="1.6" dy="-6.9">°</tspan><tspan dx="4.6" dy="6.9">W</tspan></text><text class="tk" x="1149.2" y="74.4" text-anchor="middle">90<tspan class="dg" dx="1.6" dy="-6.9">°</tspan><tspan dx="4.6" dy="6.9">W</tspan></text><text class="tk" x="1213.0" y="74.4" text-anchor="middle">80<tspan class="dg" dx="1.6" dy="-6.9">°</tspan><tspan dx="4.6" dy="6.9">W</tspan></text><text class="tk" x="1276.4" y="74.4" text-anchor="middle">70<tspan class="dg" dx="1.6" dy="-6.9">°</tspan><tspan dx="4.6" dy="6.9">W</tspan></text>
<text class="tt" x="981.6" y="342.0" textLength="337" lengthAdjust="spacing">SAT 250 hPa RH (Percent)</text>
<g transform="translate(195.9,486.1)">
<rect x="0" y="0" width="233.6" height="213.4" fill="#fff" stroke="#000" stroke-width="1"/>
<g fill="none" stroke-linecap="round" stroke-width="4.7"><path stroke="#000080" d="M173.5 2.7h0M176.7 2.9h0M161.6 4.6h0M164.8 4.9h0M168.1 5.2h0M171.6 5.6h0M174.8 6h0M178 6.3h0M181.3 6.8h0M184.5 7.1h0M191 7.9h0M159.7 7.7h0M162.9 8h0M169.4 8.7h0M172.8 9.1h0M176.1 9.4h0M179.4 9.8h0M182.5 10.2h0M185.9 10.5h0M189.2 11h0M198.9 12.2h0M202.2 12.5h0"/><path stroke="#000094" d="M180.1 3.4h0M148.6 3h0M151.9 3.4h0M155.1 3.8h0M158.4 4.2h0M187.9 7.5h0M194.4 8.3h0M149.8 6.5h0M156.2 7.3h0M195.6 11.7h0"/><path stroke="#0000a8" d="M183.4 3.7h0M186.6 4.1h0M189.9 4.5h0M193.2 4.9h0M145.3 2.6h0M197.7 8.5h0M146.5 6.2h0M153.1 6.8h0M166.1 8.3h0M192.5 11.4h0M205.6 12.8h0M208.9 13.2h0"/><path stroke="#0000bd" d="M199.6 5.6h0M201 9.1h0M204.2 9.4h0M210.8 10.2h0M212 13.6h0M221.8 14.8h0"/><path stroke="#0000d1" d="M196.5 5.2h0M207.6 9.7h0M217.3 11h0M215.3 14h0M228.4 15.4h0"/><path stroke="#0000e6" d="M214 10.5h0M220.7 11.2h0M223.9 11.7h0M143.3 5.8h0M218.7 14.4h0M225.2 15h0"/><path stroke="#000fff" d="M202.9 5.9h0M139.9 5.3h0"/><path stroke="#0024ff" d="M209.5 6.6h0M227.2 12h0M133.3 4.6h0"/><path stroke="#0038ff" d="M206.2 6.3h0M136.7 5h0"/><path stroke="#004dff" d="M221.4 4.8h0M224.6 5h0M227.9 5.4h0M219.4 7.8h0M230.4 12.3h0M130.2 4.2h0"/><path stroke="#0061ff" d="M211.5 3.5h0M218.2 4.2h0M231.2 5.8h0M212.8 7h0M229.3 8.9h0"/><path stroke="#0075ff" d="M201.8 2.5h0M214.9 4h0M216 7.5h0M222.6 8.2h0M225.8 8.6h0M126.9 4h0"/><path stroke="#008aff" d="M205 2.9h0M208.2 3.1h0"/><path stroke="#00c7ff" d="M120.3 3.2h0M123.5 3.5h0"/><path stroke="#00dbff" d="M117 2.8h0"/><path stroke="#000080" d="M160.9 11.1h0M170.7 12.2h0M174 12.5h0M180.6 13.4h0M187.1 14h0M190.4 14.4h0M193.6 14.8h0M196.9 15.3h0M200.2 15.5h0M203.5 15.9h0M210.1 16.8h0M162.1 14.5h0M181.9 16.8h0M198.1 18.7h0M201.6 19h0M204.7 19.4h0M208 19.7h0M211.4 20.1h0"/><path stroke="#000094" d="M164.2 11.4h0M167.4 11.9h0M177.4 13h0M183.9 13.8h0M206.7 16.3h0M172 15.7h0M175.3 16.1h0M188.4 17.5h0M191.8 17.9h0M195 18.3h0M214.6 20.5h0M217.9 20.8h0M196.1 21.7h0"/><path stroke="#0000a8" d="M154.2 10.3h0M157.6 10.6h0M213.4 17h0M165.5 14.9h0M168.7 15.2h0M178.5 16.4h0M185 17.2h0M166.7 18.3h0M169.9 18.7h0M173.3 19.1h0M176.6 19.4h0M183.1 20.2h0M199.6 22h0M202.8 22.4h0M206 22.9h0M209.3 23.3h0M212.6 23.6h0M215.9 24h0"/><path stroke="#0000bd" d="M151.1 9.9h0M216.7 17.4h0M155.7 13.9h0M158.9 14.1h0M221.1 21.3h0M160.2 17.7h0M163.4 17.9h0M186.3 20.6h0M189.7 21h0M192.9 21.4h0M219.1 24.4h0M229 25.5h0M194.2 24.9h0M197.5 25.2h0M200.7 25.6h0M204 26h0M207.3 26.4h0"/><path stroke="#0000d1" d="M147.7 9.7h0M219.9 17.9h0M223.2 18.2h0M226.5 18.6h0M229.6 18.9h0M224.4 21.6h0M231 22.4h0M179.7 20h0M222.4 24.7h0M225.7 25.2h0M171.2 22.3h0M174.6 22.5h0M184.4 23.7h0M187.7 24h0M190.9 24.4h0M210.6 26.8h0M213.8 27.1h0M201.9 29.1h0"/><path stroke="#0000e6" d="M152.4 13.4h0M227.8 22.1h0M156.8 17.2h0M177.8 22.9h0M181.1 23.3h0M217.2 27.4h0M220.3 27.8h0M195.5 28.2h0M198.8 28.6h0M205.3 29.5h0"/><path stroke="#0000fa" d="M144.6 9.2h0M149.1 13h0M161.5 21.1h0M164.7 21.4h0M167.9 21.9h0M223.6 28.1h0M185.5 27.2h0M188.9 27.5h0M192.1 28h0"/><path stroke="#000fff" d="M142.5 12.3h0M153.7 17h0M230.2 28.9h0M175.8 26.1h0M179.1 26.4h0M182.4 26.8h0M211.8 30.1h0M206.6 32.8h0"/><path stroke="#0024ff" d="M139.1 11.9h0M147 16.2h0M227.1 28.6h0M208.5 29.8h0M183.7 30.2h0M186.9 30.7h0M193.5 31.3h0M196.6 31.8h0M199.9 32.1h0M203.3 32.4h0M191.4 34.5h0M194.6 34.9h0M198 35.2h0M204.5 36h0M211.1 36.8h0M205.8 39.5h0M209.2 39.8h0"/><path stroke="#0038ff" d="M131.4 7.7h0M134.6 8.1h0M138 8.4h0M141.2 8.8h0M132.6 11.3h0M135.8 11.6h0M145.8 12.7h0M140.5 15.4h0M150.4 16.6h0M154.8 20.4h0M158.1 20.7h0M169.3 25.3h0M172.6 25.7h0M215.2 30.6h0M221.7 31.2h0M177 29.5h0M180.3 29.8h0M190.2 31.1h0M209.8 33.4h0M213.2 33.7h0M188.1 34.2h0M212.3 40.2h0M215.6 40.6h0"/><path stroke="#004dff" d="M143.6 15.7h0M151.6 19.9h0M159.4 24.1h0M162.6 24.5h0M166 24.9h0M218.4 30.9h0M170.4 28.8h0M173.9 29.2h0M216.3 33.9h0M219.6 34.3h0M184.9 33.8h0M201.2 35.5h0M207.9 36.3h0M214.3 37.1h0M199.2 38.7h0M202.5 39.1h0"/><path stroke="#0061ff" d="M137.1 15.1h0M148.2 19.5h0M225 31.6h0M228.2 32.1h0M111.6 22.1h0M132.4 27.8h0M181.5 33.4h0M100.9 27.6h0M195.9 38.4h0"/><path stroke="#0075ff" d="M128.1 7.3h0M145 19.2h0M156.1 23.9h0M114.7 22.5h0M118 22.9h0M167.2 28.5h0M223 34.8h0M112.8 25.6h0M119.4 26.4h0M125.9 27.1h0M178.2 33h0M217.6 37.6h0M220.9 37.9h0M97.6 27h0M104.1 27.9h0M107.4 28.3h0M218.8 41h0M222.2 41.3h0M225.4 41.7h0"/><path stroke="#008aff" d="M133.9 14.7h0M110.3 18.5h0M152.9 23.5h0M108.1 21.8h0M164 28.1h0M226.3 35.1h0M99.7 24.1h0M102.9 24.4h0M106.3 24.7h0M109.4 25.2h0M122.5 26.6h0M129.1 27.4h0M135.7 28.2h0M171.7 32.3h0M175 32.7h0M94.3 26.8h0M110.7 28.6h0M123.8 30.1h0M127.2 30.5h0M133.8 31.2h0"/><path stroke="#009eff" d="M129.4 10.8h0M130.6 14.2h0M103.6 17.8h0M121.3 23.1h0M124.5 23.6h0M160.6 27.7h0M229.6 35.5h0M96.4 23.6h0M115.9 26h0M227.4 38.5h0M113.9 29h0M120.5 29.8h0M130.4 30.9h0M136.9 31.7h0M140.3 32h0M143.4 32.4h0M192.7 37.9h0"/><path stroke="#00b2ff" d="M121.6 6.6h0M124.8 7.1h0M126 10.5h0M141.6 18.9h0M106.9 18.1h0M98.3 20.7h0M101.7 21h0M105 21.4h0M131.2 24.4h0M224.3 38.3h0M230.7 39.1h0M117.3 29.4h0M228.7 42.1h0"/><path stroke="#00c7ff" d="M101.9 4.4h0M114.9 5.8h0M99.7 7.4h0M106.3 8.3h0M101.1 10.9h0M102.5 14.4h0M105.6 14.8h0M138.4 18.5h0M149.6 23.1h0M127.9 24h0M134.4 24.7h0M168.4 32h0M146.9 32.7h0M176.3 36.2h0"/><path stroke="#00dbff" d="M108.4 5.1h0M111.7 5.5h0M118.3 6.2h0M96.6 7.2h0M103.2 7.7h0M122.7 10.1h0M107.7 11.7h0M127.3 13.9h0M95.9 13.6h0M99.1 14h0M125.3 16.9h0M128.5 17.4h0M135.2 18h0M100.4 17.4h0M126.6 20.5h0M129.8 20.8h0M133.1 21.1h0M95 20.2h0M157.3 27.3h0M138.9 28.5h0M165.1 31.4h0M169.8 35.4h0M179.5 36.5h0"/><path stroke="#00f0ff" d="M98.6 4h0M105.1 4.8h0M109.7 8.5h0M97.9 10.5h0M104.5 11.3h0M131.9 17.8h0M97.1 17.1h0M146.3 22.7h0M142.1 28.9h0M158.7 30.8h0M150 33.2h0M153.4 33.5h0M166.6 35h0M172.9 35.6h0M186.1 37.2h0"/><path stroke="#05fffa" d="M113 9h0M116.2 9.3h0M124.1 13.6h0M108.9 15.2h0M136.3 21.7h0M142.9 22.3h0M137.6 25.1h0M144.2 25.7h0M154.1 26.9h0M145.6 29.3h0M161.9 31.1h0M163.1 34.5h0M182.8 36.9h0M189.4 37.5h0"/><path stroke="#1affe5" d="M113.5 18.9h0M139.7 21.9h0M141 25.4h0M150.9 26.6h0M148.8 29.7h0M155.4 30.5h0M156.6 33.8h0M159.8 34.1h0"/><path stroke="#2effd1" d="M119.4 9.6h0M122.1 16.6h0M147.5 26.2h0M152.1 29.9h0"/><path stroke="#42ffbd" d="M111 12h0M112.2 15.6h0M123.3 20.1h0"/><path stroke="#6bff94" d="M116.8 19.4h0"/><path stroke="#80ff80" d="M114.2 12.3h0"/><path stroke="#94ff6b" d="M120.9 13.2h0M120.1 19.6h0"/><path stroke="#a8ff57" d="M117.5 12.7h0M115.5 15.9h0M118.7 16.3h0"/><path stroke="#000fff" d="M211.6 46.7h0M206.4 49.4h0M213 50.1h0M216.2 50.6h0M210.8 53.4h0M217.4 54.1h0M212 56.8h0M215.4 57.1h0"/><path stroke="#0024ff" d="M218.3 47.5h0M209.6 49.8h0M219.4 50.9h0M204.3 52.5h0M207.6 52.9h0M214.1 53.7h0M220.7 54.4h0M224 54.7h0M205.5 56.1h0M208.8 56.4h0M218.7 57.6h0M213.4 60.2h0"/><path stroke="#0038ff" d="M207 42.9h0M213.6 43.6h0M217 44h0M214.9 47.2h0M222 58h0M210.2 59.8h0M208.1 63h0M196.2 64.9h0M202.7 65.7h0M206 66.1h0"/><path stroke="#004dff" d="M203.8 42.5h0M210.4 43.3h0M205 46.1h0M208.4 46.3h0M221.5 47.8h0M222.7 51.3h0M201 52.3h0M198.9 55.3h0M202.3 55.6h0M225.2 58.3h0M203.6 59.1h0M206.9 59.4h0M216.7 60.7h0M219.9 61h0M223.2 61.4h0M204.8 62.7h0M211.4 63.4h0M214.6 63.6h0M199.6 65.4h0"/><path stroke="#0061ff" d="M228.1 48.6h0M203.1 49h0M225.9 51.7h0M229.3 52.1h0M184.6 50.4h0M187.9 50.7h0M197.8 51.9h0M227.2 55.1h0M230.6 55.6h0M228.4 58.6h0M226.5 61.7h0M201.6 62.2h0M192.9 64.5h0M209.3 66.4h0"/><path stroke="#0075ff" d="M220.1 44.4h0M223.4 44.9h0M100.1 34h0M191.2 51.1h0M192.5 54.4h0M195.7 54.9h0M197.1 58.4h0M200.2 58.7h0M198.2 61.8h0M217.8 64.1h0M170 61.9h0M186.5 63.9h0M189.7 64.2h0M212.6 66.8h0"/><path stroke="#008aff" d="M95.7 30.2h0M98.9 30.5h0M102.1 31h0M105.4 31.4h0M108.7 31.6h0M111.9 32.1h0M118.5 32.7h0M226.7 45.2h0M96.9 33.6h0M103.4 34.4h0M106.7 34.9h0M110 35.1h0M113.2 35.5h0M224.7 48.3h0M98.2 37.1h0M180.2 46.5h0M199.8 48.8h0M181.4 50h0M194.5 51.5h0M190.5 57.6h0M185.2 60.4h0M194.9 61.5h0M221.3 64.5h0M224.6 64.8h0M107.7 54.9h0M111.1 55.3h0M114.4 55.5h0M176.6 62.6h0M215.9 67.2h0M219.3 67.5h0"/><path stroke="#ff2400" d="M157.8 37.3h0"/><path stroke="#009eff" d="M125.1 33.5h0M200.6 42.2h0M230 45.5h0M116.5 35.8h0M126.3 37.1h0M201.8 45.7h0M231.2 49h0M94.9 36.8h0M101.3 37.4h0M104.8 38h0M124.4 40.1h0M150.5 43.2h0M173.5 45.8h0M190 47.6h0M92.8 39.9h0M96.1 40.2h0M99.5 40.6h0M176 52.7h0M185.9 53.7h0M189.3 54.3h0M183.9 56.9h0M193.7 58h0M229.8 62.2h0M93.3 49.9h0M181.9 60h0M188.4 60.7h0M191.8 61h0M227.9 65.3h0M101.2 54h0M104.5 54.6h0M137.2 58.2h0M143.9 59h0M147.2 59.3h0M150.3 59.7h0M153.6 60.1h0M156.9 60.5h0M160.2 60.8h0M166.7 61.6h0M173.3 62.3h0M179.9 63.1h0M183.2 63.4h0M222.4 67.9h0M225.7 68.2h0"/><path stroke="#00b2ff" d="M115.3 32.5h0M121.8 33.2h0M128.4 33.9h0M131.6 34.3h0M134.9 34.7h0M138.2 35.1h0M141.4 35.5h0M148 36.2h0M151.3 36.7h0M93.5 33.3h0M119.9 36.4h0M123 36.7h0M129.7 37.4h0M136.2 38.1h0M146 39.2h0M165.8 41.6h0M107.9 38.3h0M114.6 39.1h0M127.7 40.4h0M130.9 40.9h0M144 42.4h0M153.9 43.4h0M163.8 44.6h0M166.9 44.9h0M170.2 45.3h0M176.8 46.1h0M183.3 46.9h0M186.7 47.3h0M193.2 48.1h0M196.5 48.4h0M102.6 40.9h0M106 41.4h0M109.1 41.7h0M158.4 47.3h0M161.6 47.6h0M164.9 48h0M171.4 48.8h0M174.8 49.2h0M178.1 49.5h0M94.2 43.4h0M162.9 51.1h0M166.3 51.6h0M169.5 52h0M172.7 52.3h0M182.6 53.3h0M167.5 55h0M177.4 56.2h0M180.6 56.6h0M187.1 57.2h0M103.3 51.1h0M126.1 53.6h0M155.6 57.1h0M175.4 59.2h0M178.6 59.6h0M91.2 53h0M94.6 53.3h0M117.5 55.9h0M124.2 56.7h0M127.4 57h0M130.8 57.5h0M134 57.8h0M140.6 58.6h0M163.4 61.3h0"/><path stroke="#00c7ff" d="M144.7 35.8h0M132.9 37.8h0M139.4 38.6h0M142.8 38.9h0M149.3 39.6h0M152.6 40.1h0M159.2 40.7h0M162.3 41.2h0M111.1 38.7h0M117.9 39.4h0M121 39.8h0M134.3 41.3h0M140.8 42h0M147.3 42.7h0M157.2 43.8h0M115.9 42.4h0M125.5 43.6h0M155.1 47h0M168.2 48.4h0M97.4 43.7h0M100.8 44.2h0M104 44.5h0M110.4 45.2h0M126.9 47.1h0M159.8 50.8h0M179.3 53h0M92 46.4h0M95.5 46.7h0M124.9 50.2h0M128.1 50.5h0M131.4 50.9h0M134.6 51.3h0M170.8 55.4h0M174.1 55.7h0M96.6 50.2h0M99.9 50.5h0M109.7 51.7h0M122.9 53.2h0M129.4 53.9h0M132.8 54.5h0M136 54.8h0M139.3 55.1h0M142.6 55.5h0M145.8 55.9h0M149.2 56.2h0M152.4 56.5h0M162.2 57.7h0M165.4 58.1h0M168.7 58.5h0M98 53.8h0M120.9 56.3h0M229 68.7h0"/><path stroke="#00dbff" d="M155.8 40.3h0M169 41.8h0M172.2 42.2h0M175.5 42.7h0M137.5 41.6h0M160.4 44.2h0M112.4 42.1h0M122.3 43.2h0M128.9 44h0M132.1 44.4h0M135.5 44.8h0M148.5 46.2h0M151.8 46.6h0M107.1 44.9h0M123.5 46.8h0M140 48.6h0M98.7 47.1h0M105.3 47.9h0M111.7 48.7h0M121.6 49.7h0M138 51.7h0M141.3 52h0M147.8 52.8h0M106.4 51.4h0M113 52.2h0M116.4 52.6h0M119.6 52.8h0M159 57.3h0M172.1 58.9h0M231 65.5h0"/><path stroke="#00f0ff" d="M119 42.8h0M138.7 45.1h0M142.1 45.4h0M145.3 45.9h0M113.9 45.6h0M117 45.9h0M120.3 46.3h0M130.2 47.5h0M133.4 47.9h0M136.7 48.3h0M156.4 50.5h0M102 47.5h0M108.6 48.2h0M115.1 49h0M118.4 49.4h0M144.5 52.4h0M151.1 53.1h0M154.3 53.5h0M157.7 53.9h0M164.3 54.6h0"/><path stroke="#05fffa" d="M161.2 37.7h0M167.7 38.5h0M171 38.8h0M174.3 39.1h0M177.5 39.6h0M178.8 42.9h0M182 43.3h0M153.1 50h0M161 54.3h0"/><path stroke="#1affe5" d="M164.5 38h0M198.4 45.2h0M143.4 49h0M146.5 49.4h0M149.8 49.7h0"/><path stroke="#2effd1" d="M180.9 39.8h0M197.3 41.8h0M185.4 43.8h0M195.3 44.8h0"/><path stroke="#42ffbd" d="M188.6 44.1h0"/><path stroke="#57ffa8" d="M184.1 40.4h0M187.3 40.7h0M193.9 41.3h0M192 44.5h0"/><path stroke="#6bff94" d="M154.6 36.9h0M190.6 41h0"/><path stroke="#0000a8" d="M121.4 66.3h0"/><path stroke="#0000bd" d="M114.9 65.7h0M118.1 65.9h0"/><path stroke="#0000d1" d="M116.9 62.6h0M120.1 62.8h0M111.5 65.1h0M124.7 66.7h0M128 67.2h0M119.3 69.4h0M125.9 70.2h0M120.6 72.9h0M124 73.3h0M112.1 75.3h0M115.2 75.6h0"/><path stroke="#0000e6" d="M113.5 62.1h0M123.4 63.4h0M131.2 67.5h0M109.4 68.3h0M112.7 68.8h0M116.1 69h0M122.5 69.9h0M104.3 71.1h0M110.8 71.7h0M114.1 72.2h0M130.5 74h0M105.4 74.5h0M108.8 75h0M118.6 76.1h0M110 78.3h0M123.2 79.8h0M121 82.9h0"/><path stroke="#0000fa" d="M110.2 61.7h0M126.6 63.6h0M105 64.6h0M108.2 64.9h0M134.5 67.9h0M102.9 67.5h0M106.3 67.9h0M129.1 70.5h0M135.7 71.3h0M107.4 71.5h0M117.4 72.5h0M127.2 73.6h0M133.8 74.4h0M137 74.9h0M99 73.8h0M102.2 74.2h0M125.1 76.7h0M113.4 78.8h0M116.6 79h0M119.8 79.5h0M126.4 80.3h0M124.3 83.2h0"/><path stroke="#000fff" d="M198.8 71.9h0M137.7 68.3h0M141.1 68.5h0M144.2 69h0M132.6 71h0M139.1 71.7h0M142.3 72h0M171.8 75.4h0M101 70.8h0M122 76.4h0M128.4 77.1h0M131.7 77.6h0M114.7 82.1h0M127.6 83.7h0M130.9 84.1h0M134.3 84.5h0"/><path stroke="#0024ff" d="M197.5 68.4h0M200.8 68.7h0M204.1 69.2h0M207.3 69.5h0M107.1 61.5h0M129.9 64.1h0M136.5 64.7h0M179.2 69.7h0M185.7 70.3h0M202 72.3h0M205.4 72.6h0M154.2 70h0M157.5 70.4h0M167.2 71.5h0M190.2 74.2h0M200.1 75.4h0M168.6 75h0M175.1 75.8h0M178.3 76.1h0M188.1 77.3h0M191.5 77.8h0M194.7 78.1h0M198 78.4h0M201.3 78.8h0M140.2 75.1h0M146.8 75.8h0M134.9 77.9h0M138.3 78.4h0M129.8 80.7h0M132.9 81h0M111.3 81.9h0M117.9 82.6h0M137.6 84.9h0"/><path stroke="#0038ff" d="M105.8 58h0M177.8 66.2h0M181.1 66.6h0M184.5 66.8h0M191 67.7h0M194.3 68.1h0M103.8 61h0M133.2 64.5h0M146.3 65.9h0M156.1 67h0M159.4 67.4h0M162.7 67.9h0M172.5 68.8h0M182.4 69.9h0M188.9 70.8h0M192.2 71.2h0M195.6 71.4h0M150.9 69.7h0M160.8 70.9h0M163.9 71.2h0M170.5 71.9h0M183.8 73.5h0M187 73.9h0M193.4 74.5h0M196.7 75h0M203.2 75.7h0M145.6 72.4h0M148.8 72.8h0M152.1 73.1h0M155.5 73.5h0M165.2 74.7h0M181.7 76.6h0M185 76.9h0M143.5 75.5h0M169.8 78.5h0M176.3 79.3h0M179.7 79.6h0M182.9 79.9h0M186.2 80.4h0M189.4 80.8h0M192.9 81.2h0M141.6 78.6h0M144.8 79h0M136.3 81.4h0"/><path stroke="#004dff" d="M115.6 59h0M118.8 59.4h0M154.9 63.6h0M174.7 65.7h0M187.6 67.3h0M139.9 65.1h0M143.2 65.6h0M149.7 66.2h0M153 66.6h0M166 68.2h0M175.8 69.3h0M101.7 64h0M147.5 69.3h0M173.7 72.3h0M177.1 72.8h0M180.4 73.1h0M162.1 74.3h0M204.5 79.2h0M150.2 76.2h0M153.4 76.7h0M173 78.9h0M196.1 81.5h0M199.2 81.9h0M148.1 79.4h0M142.7 82.2h0M146.1 82.4h0"/><path stroke="#0061ff" d="M109 58.3h0M112.2 58.7h0M125.3 60.3h0M148.3 62.8h0M151.6 63.1h0M164.8 64.7h0M168.1 65h0M171.4 65.3h0M169.3 68.5h0M99.7 67.3h0M158.8 73.9h0M156.6 77h0M160 77.5h0M166.5 78.1h0M202.6 82.2h0M151.4 79.8h0M174.3 82.4h0M180.8 83.2h0M197.4 85h0M200.6 85.3h0M203.9 85.8h0M139.6 81.7h0M149.4 82.9h0M152.7 83.3h0M140.8 85.2h0M144.2 85.6h0M147.3 86h0M150.7 86.2h0"/><path stroke="#0075ff" d="M102.5 57.6h0M122.1 59.9h0M128.6 60.6h0M141.7 62h0M158.2 63.9h0M161.4 64.2h0M210.5 70h0M220.6 71h0M208.5 73.1h0M218.6 74.1h0M206.6 76.1h0M207.9 79.5h0M163.2 77.9h0M154.6 80.1h0M177.6 82.7h0M187.4 83.9h0M190.7 84.2h0M185.5 86.9h0M198.5 88.4h0M201.8 88.9h0M157.1 87h0"/><path stroke="#008aff" d="M131.9 60.9h0M135.2 61.3h0M138.4 61.8h0M145.1 62.4h0M213.8 70.3h0M217.2 70.6h0M97.7 70.4h0M205.9 82.6h0M209.2 83h0M89.1 72.6h0M95.7 73.4h0M157.9 80.6h0M161.2 80.9h0M164.5 81.2h0M167.8 81.7h0M171.1 81.9h0M184.1 83.5h0M194.1 84.5h0M207.2 86h0M155.8 83.5h0M175.5 85.8h0M179 86.3h0M195.2 88h0M205.2 89.2h0M154 86.6h0M167.1 88.1h0M183.4 90.1h0M186.7 90.4h0M193.3 91.2h0M196.6 91.4h0M199.9 91.8h0M203.2 92.3h0"/><path stroke="#009eff" d="M223.8 71.3h0M230.3 72.1h0M225 74.9h0M209.9 76.5h0M213.1 76.9h0M159.2 83.9h0M169 85.1h0M172.4 85.5h0M182.1 86.6h0M188.7 87.3h0M191.9 87.7h0M208.3 89.5h0M160.5 87.4h0M163.9 87.8h0M177 89.3h0M180.1 89.6h0M190 90.7h0M206.4 92.7h0"/><path stroke="#00b2ff" d="M227 71.8h0M211.8 73.4h0M215.2 73.7h0M228.3 75.3h0M219.7 77.6h0M223 77.9h0M226.2 78.4h0M211.2 80h0M217.7 80.7h0M220.9 81h0M224.2 81.3h0M230.7 82.2h0M212.5 83.3h0M215.6 83.7h0M218.9 84.2h0M92.4 73h0M210.4 86.4h0M165.7 84.7h0M170.3 88.6h0M173.7 88.8h0"/><path stroke="#00c7ff" d="M221.7 74.6h0M216.5 77.2h0M214.4 80.2h0M213.6 86.9h0M162.4 84.2h0M211.7 89.9h0M209.7 93.1h0"/><path stroke="#00dbff" d="M229.6 78.7h0M227.6 81.8h0M222.3 84.6h0M217 87.2h0"/><path stroke="#00f0ff" d="M99.2 57.1h0M225.6 84.9h0M228.8 85.3h0M215 90.4h0M212.9 93.5h0"/><path stroke="#05fffa" d="M220.3 87.6h0M216.3 93.7h0"/><path stroke="#1affe5" d="M100.4 60.6h0M98.3 63.7h0M223.6 87.9h0M230 88.6h0M228 91.7h0M219.6 94.3h0"/><path stroke="#2effd1" d="M226.8 88.3h0M218.2 90.7h0M231.4 92.1h0"/><path stroke="#42ffbd" d="M96.5 66.9h0M221.6 91.2h0M224.8 91.4h0M222.8 94.6h0M226.1 95h0M229.2 95.3h0"/><path stroke="#57ffa8" d="M92.7 56.4h0M95.9 56.8h0"/><path stroke="#6bff94" d="M94.3 69.9h0"/><path stroke="#94ff6b" d="M88.7 62.6h0M89.9 66.2h0M93.1 66.6h0"/><path stroke="#a8ff57" d="M90.7 59.6h0M93.9 59.9h0M97.2 60.3h0M91.9 63h0M91.1 69.5h0"/><path stroke="#bdff42" d="M95.1 63.3h0"/><path stroke="#0000d1" d="M157.4 113.7h0"/><path stroke="#800000" d="M162.4 100.9h0M172.2 102h0M175.4 102.4h0M178.7 102.9h0M181.9 103.2h0M137.2 101.3h0M143.9 102.1h0M153.7 103.2h0M156.9 103.6h0M163.5 104.3h0M166.9 104.8h0M173.4 105.4h0M176.6 106h0M179.8 106.2h0M183.1 106.6h0M186.5 107h0M141.8 105.1h0M145.1 105.6h0M184.5 110.1h0M187.7 110.4h0M191 110.8h0M182.4 113.1h0M185.8 113.6h0M189.1 113.9h0"/><path stroke="#940000" d="M157.8 97.1h0M165.6 101.2h0M160.3 104h0"/><path stroke="#000fff" d="M138.9 88.2h0"/><path stroke="#a80000" d="M168.7 101.7h0M170 105.2h0"/><path stroke="#0024ff" d="M115.9 85.6h0M135.5 87.8h0M116.4 95.8h0M154.2 113.2h0"/><path stroke="#bd0000" d="M132.8 97.6h0M180.5 116.4h0"/><path stroke="#0038ff" d="M112.6 85.3h0M142.1 88.6h0M145.3 89.1h0M113.9 88.8h0M136.8 91.4h0M140.1 91.8h0M118.4 92.6h0M113.1 95.4h0"/><path stroke="#d10000" d="M133.9 101.1h0M147.2 102.5h0M132.1 104.1h0M146.4 109.1h0M179.1 112.7h0"/><path stroke="#004dff" d="M115.1 92.2h0"/><path stroke="#e50000" d="M139.4 98.3h0M152.4 99.7h0M130.8 100.7h0M150.4 102.9h0M189.8 107.3h0M148.4 105.9h0"/><path stroke="#0061ff" d="M148.7 89.5h0"/><path stroke="#fa0000" d="M142.5 98.7h0M155.6 100.2h0M128.7 103.7h0M138.5 104.9h0M174.7 109h0"/><path stroke="#0075ff" d="M151.9 89.7h0M191.3 94.2h0M143.3 92.2h0M146.5 92.5h0M192.6 97.6h0"/><path stroke="#ff0f00" d="M127.5 100.2h0M171.3 108.5h0"/><path stroke="#008aff" d="M161.7 90.9h0M179.4 96.3h0M186 97h0M119.7 96h0M114.4 98.7h0M164 114.4h0"/><path stroke="#ff2400" d="M145.9 99h0M140.6 101.8h0M135.3 104.4h0M151.7 106.4h0M164.8 107.9h0M181.1 109.8h0M177.2 116h0"/><path stroke="#009eff" d="M155.2 90.2h0M158.5 90.5h0M165.1 91.4h0M174.9 92.4h0M178.2 92.8h0M181.4 93h0M188 93.8h0M194.6 94.6h0M182.7 96.5h0M189.2 97.4h0M228.5 101.8h0M190.5 100.7h0M193.7 101.1h0M210.8 113.1h0M214 113.5h0M217.2 113.9h0M220.6 114.1h0M147.6 112.5h0"/><path stroke="#ff3800" d="M192.4 114.4h0M186.9 117.1h0"/><path stroke="#00b2ff" d="M168.3 91.7h0M171.5 92h0M184.7 93.4h0M149.8 92.8h0M159.7 93.9h0M176.1 95.9h0M184 100.1h0M187.3 100.5h0M191.9 104.3h0M209.4 109.6h0M160.8 114.1h0M213.3 120.1h0"/><path stroke="#ff4c00" d="M136.1 98h0M194.4 111.1h0"/><path stroke="#00c7ff" d="M162.9 94.4h0M166.2 94.8h0M172.8 95.5h0M225.3 101.5h0M162.7 110.9h0M212 116.5h0M215.2 116.9h0M218.5 117.2h0M221.8 117.7h0M216.4 120.4h0M219.9 120.7h0"/><path stroke="#ff6100" d="M144.6 95.5h0M168 108.3h0M175.8 112.5h0M183.6 116.6h0"/><path stroke="#00dbff" d="M214.3 96.8h0M169.5 95.1h0M195.1 104.7h0M225.1 118.1h0M209.9 119.7h0M223 121.1h0M229.6 122h0"/><path stroke="#ff7500" d="M158.9 100.5h0M122.3 102.9h0M136.6 107.9h0M173.9 115.6h0"/><path stroke="#00f0ff" d="M217.4 97.2h0M228.3 118.4h0"/><path stroke="#ff8a00" d="M164.3 97.7h0M149.1 99.5h0M185.3 103.6h0M125.4 103.3h0M177.9 109.4h0M197.7 111.6h0M172.6 112.1h0"/><path stroke="#05fffa" d="M220.7 97.5h0M230.5 98.6h0M144.5 112.1h0M226.4 121.4h0"/><path stroke="#ff9e00" d="M151.3 96.4h0M139.8 108.4h0M143.1 108.7h0M169.4 111.6h0M195.6 114.7h0"/><path stroke="#1affe5" d="M224.1 98h0M227.3 98.4h0M117.7 99.1h0M208.6 116.2h0"/><path stroke="#ffb300" d="M193.1 107.7h0M201 111.9h0M170.7 115.1h0M193.6 117.7h0"/><path stroke="#2effd1" d="M153.1 93.2h0M180.7 99.7h0M188.4 103.9h0M206.1 109.2h0"/><path stroke="#ffc700" d="M154.5 96.7h0M115.6 102.2h0M154.9 106.6h0M198.9 115h0M200 118.6h0M203.5 118.9h0"/><path stroke="#42ffbd" d="M159.6 110.6h0M166.1 111.3h0"/><path stroke="#ffdb00" d="M199.7 108.5h0M119 102.6h0M156.2 110.1h0M202.2 115.4h0M205.4 115.7h0M190.3 117.3h0M196.8 118.1h0"/><path stroke="#57ffa8" d="M177.5 99.4h0"/><path stroke="#fff000" d="M147.8 95.9h0M204.2 112.4h0"/><path stroke="#faff05" d="M161 97.5h0M196.2 108.2h0M153 109.7h0"/><path stroke="#80ff80" d="M156.5 93.7h0M174.2 98.9h0M207.3 112.7h0M137.9 111.5h0M167.4 114.8h0M206.7 119.3h0"/><path stroke="#e5ff1a" d="M124.1 99.9h0"/><path stroke="#94ff6b" d="M161.5 107.5h0"/><path stroke="#d1ff2e" d="M138.1 94.8h0M141.3 95.2h0M158.3 107.1h0M149.7 109.4h0"/><path stroke="#a8ff57" d="M167.6 98.1h0M170.8 98.7h0M121 99.5h0M141.1 111.7h0M151 112.9h0"/><path stroke="#bdff42" d="M202.9 108.9h0"/><path stroke="#0000bd" d="M158.8 117.1h0"/><path stroke="#800000" d="M178.5 119.5h0M179.8 122.9h0M125.2 120h0M131.8 120.6h0M135.2 121.1h0M138.3 121.4h0M93.8 119.6h0M97 120.1h0M100.2 120.4h0M103.6 120.8h0M106.9 121.1h0M81.9 121.6h0M85.1 122.1h0M88.4 122.4h0M91.7 122.9h0M94.9 123.2h0M98.2 123.4h0M101.6 123.8h0M104.7 124.3h0M108 124.6h0M111.4 125.1h0M83.1 125.1h0M86.4 125.6h0M89.7 125.9h0M92.9 126.2h0M96.1 126.7h0M99.4 127h0M102.8 127.4h0M106.1 127.8h0M109.4 128.2h0M112.7 128.4h0M115.9 128.8h0M81 128.3h0M84.4 128.6h0M87.6 129.1h0M90.9 129.3h0M94.3 129.8h0M97.5 130h0M100.8 130.4h0M107.4 131.2h0M82.4 131.7h0M85.6 132h0M88.9 132.5h0M92.2 132.8h0M95.6 133.1h0"/><path stroke="#940000" d="M183 123.3h0M181 126.3h0M133 124.3h0M114.6 125.4h0M140.8 128.4h0"/><path stroke="#000fff" d="M134.8 137.6h0M138.2 138.1h0"/><path stroke="#a80000" d="M133.7 117.6h0"/><path stroke="#bd0000" d="M181.7 119.8h0M176.5 122.4h0M136.3 124.6h0M104.1 130.8h0"/><path stroke="#d10000" d="M137.6 128h0"/><path stroke="#004dff" d="M148.9 115.9h0M166.6 121.3h0M141.3 138.4h0"/><path stroke="#e50000" d="M173.2 122h0M117.9 125.7h0"/><path stroke="#0061ff" d="M222.9 137.8h0M226.1 138h0M168.4 134.8h0"/><path stroke="#fa0000" d="M153.4 119.8h0M141.7 121.7h0M177.8 125.9h0"/><path stroke="#0075ff" d="M155.4 116.7h0M212.4 126.6h0M215.8 126.9h0M222.3 127.6h0M213.7 130h0M217.1 130.4h0M220.4 130.8h0M223.5 131.1h0M226.9 131.5h0M214.9 133.5h0M221.6 134.1h0M197.8 138.3h0M220.9 140.9h0M224.2 141.3h0M163.1 137.6h0M222 144.2h0M144.7 138.9h0"/><path stroke="#008aff" d="M205.9 125.7h0M209.3 126.1h0M219.1 127.3h0M225.6 128h0M228.8 128.5h0M207.2 129.3h0M210.6 129.7h0M208.5 132.8h0M211.7 133.1h0M218.4 133.8h0M224.8 134.6h0M190.1 133.9h0M196.6 134.7h0M219.5 137.3h0M178.3 135.8h0M194.6 137.7h0M201.2 138.6h0M207.7 139.2h0M214.2 140.1h0M217.5 140.5h0M130.3 133.9h0M176.2 139h0M205.7 142.4h0M209 142.7h0M212.3 143.1h0M218.9 143.9h0M210.3 146.2h0"/><path stroke="#ff2400" d="M144.8 122.2h0M110.1 121.6h0M129.9 123.7h0M172.4 128.7h0"/><path stroke="#009eff" d="M217.8 123.9h0M204 129h0M154 130h0M180.3 132.8h0M186.7 133.7h0M193.4 134.3h0M209.6 136.2h0M213 136.5h0M216.3 137h0M184.7 136.7h0M191.2 137.4h0M204.4 138.9h0M211 139.6h0M179.4 139.5h0M192.5 140.9h0M195.8 141.3h0M199.1 141.8h0M215.5 143.6h0M180.7 142.8h0M197 144.7h0M206.9 145.9h0M213.6 146.7h0M216.8 146.9h0M220.1 147.4h0"/><path stroke="#ff3800" d="M137.1 118h0M140.4 118.4h0M128.5 120.3h0M175.6 128.9h0M144.3 128.8h0M119.1 129.2h0M102.1 134h0"/><path stroke="#00b2ff" d="M208 122.7h0M214.5 123.4h0M224.4 124.7h0M200.6 128.5h0M185.6 130.2h0M188.7 130.6h0M198.5 131.6h0M202 131.9h0M205.2 132.4h0M183.5 133.3h0M199.9 135h0M203.3 135.4h0M206.4 135.9h0M181.4 136.2h0M188.1 137h0M182.7 139.9h0M186 140.1h0M189.4 140.5h0M202.4 142h0M174.2 142.1h0M177.5 142.5h0M184.1 143.2h0M190.7 144.1h0M200.5 145h0M203.8 145.5h0"/><path stroke="#ff4c00" d="M142.9 125.3h0"/><path stroke="#00c7ff" d="M161.9 117.4h0M211.1 123.1h0M221.1 124.2h0M227.5 125h0M194.1 127.9h0M197.3 128.2h0M182.3 129.7h0M192.1 131h0M195.3 131.3h0M174.9 135.6h0M133.7 134.2h0M147.9 139.2h0M151.2 139.5h0M187.2 143.7h0M193.9 144.3h0"/><path stroke="#ff6100" d="M171.9 118.6h0M160 120.6h0"/><path stroke="#00dbff" d="M165.4 117.9h0M202.6 125.4h0M156.5 136.9h0M170.9 141.8h0"/><path stroke="#ff7500" d="M158.1 123.7h0M116.7 122.2h0M169.2 128.2h0"/><path stroke="#00f0ff" d="M190.8 127.4h0M150.8 129.4h0M160.5 130.6h0M158.6 133.6h0M136.9 134.7h0M172.9 138.6h0M131.7 137.2h0"/><path stroke="#05fffa" d="M152.1 116.3h0M187.5 127h0M165.1 134.4h0M140.2 135h0M169.6 138.3h0M161.1 140.7h0"/><path stroke="#ff9e00" d="M175.2 119h0M148.3 122.6h0M165.9 127.8h0M178.9 129.4h0M121.2 126.1h0M134.3 127.5h0M147.5 129.1h0M132.3 130.7h0M148.7 132.6h0M113.8 132h0"/><path stroke="#1affe5" d="M189.6 124h0M152.8 126.4h0M157.3 130.2h0M163.9 131h0M167.2 131.3h0M161.8 134.1h0"/><path stroke="#ffb300" d="M139 114.9h0M185 120.2h0"/><path stroke="#2effd1" d="M146.8 119.1h0M199.4 125.1h0M154.5 139.8h0M157.8 140.3h0"/><path stroke="#ffc700" d="M122 119.6h0M154.8 123.3h0M164.5 124.4h0M167.8 124.9h0M171.1 125.1h0M119.9 122.7h0M142 131.8h0M98.7 133.5h0M105.3 134.2h0"/><path stroke="#42ffbd" d="M163.4 121.1h0M192.8 124.3h0M176.9 132.6h0M126.9 133.4h0M167.5 141.3h0"/><path stroke="#ffdb00" d="M135.9 114.6h0M161.2 124.1h0M113.3 122h0M139.7 124.9h0M162.6 127.6h0M125.7 129.9h0M112 135h0"/><path stroke="#57ffa8" d="M168.6 118.2h0M204.6 122.3h0M196 124.7h0M128.3 137h0"/><path stroke="#fff000" d="M194.9 121.3h0M169.9 121.7h0M174.5 125.5h0M126.5 123.3h0M122.4 129.6h0M145.4 132.2h0M110.6 131.5h0M117.2 132.3h0M120.4 132.6h0M123.7 133h0"/><path stroke="#6bff94" d="M142.4 115.2h0M150.2 119.5h0M184.3 126.6h0M171.6 135.1h0M159.7 137.1h0M166.3 137.9h0M121.7 136.2h0M164.4 141.1h0"/><path stroke="#faff05" d="M198.2 121.7h0M146.2 125.7h0M149.4 126.1h0M159.3 127.1h0M135.5 131h0M152.1 132.9h0M143.5 135.3h0M150 136h0M115.2 135.4h0"/><path stroke="#80ff80" d="M145.6 115.5h0"/><path stroke="#e5ff1a" d="M124.5 126.5h0M138.9 131.4h0M125 136.4h0"/><path stroke="#94ff6b" d="M156.7 120.2h0M127.7 126.8h0M155.3 133.3h0M146.7 135.6h0M153.2 136.4h0"/><path stroke="#d1ff2e" d="M201.5 122h0M143.7 118.8h0M118.7 119.3h0M151.5 122.9h0M131 127.3h0M173.7 132.1h0M129.1 130.4h0"/><path stroke="#a8ff57" d="M188.3 120.5h0M123.2 123h0"/><path stroke="#bdff42" d="M191.6 120.9h0M186.2 123.6h0M156 126.8h0M170.4 131.7h0M108.6 134.7h0M118.5 135.9h0"/><path stroke="#000080" d="M90.6 145.9h0"/><path stroke="#0000a8" d="M93.9 146.2h0M101.9 150.5h0"/><path stroke="#0000bd" d="M83 141.7h0"/><path stroke="#0000e6" d="M86.2 142.1h0"/><path stroke="#800000" d="M87 135.5h0M90.2 135.9h0M93.5 136.2h0M130.7 143.8h0M134.1 144.2h0"/><path stroke="#000fff" d="M92.8 142.8h0M98.6 150.1h0"/><path stroke="#a80000" d="M101.3 140.4h0M140.7 145h0"/><path stroke="#0024ff" d="M105 150.9h0M108.3 151.2h0"/><path stroke="#0038ff" d="M214.6 166.6h0"/><path stroke="#d10000" d="M100 137h0"/><path stroke="#004dff" d="M142.6 141.8h0M210.1 162.7h0M120.8 159.3h0M212.5 169.7h0M215.8 170.1h0"/><path stroke="#e50000" d="M127.5 143.5h0"/><path stroke="#0061ff" d="M216.1 153.5h0M207.4 155.9h0M217.3 157h0M208.7 159.4h0M212.1 159.7h0M215.3 160.2h0M213.3 163.1h0M216.6 163.5h0M119.5 155.8h0M208 165.9h0M211.2 166.3h0M110.9 158.1h0M117.4 158.9h0M209.2 169.4h0M85.9 158.7h0M151.5 166h0"/><path stroke="#fa0000" d="M104.5 140.8h0"/><path stroke="#0075ff" d="M89.4 142.5h0M210.8 156.2h0M214.1 156.6h0M103.8 147.5h0M202.1 158.6h0M111.7 151.6h0M203.4 162h0M206.7 162.5h0M129.4 156.9h0M201.4 165.2h0M97.8 156.6h0M104.4 157.5h0M107.7 157.9h0M124 159.6h0M127.4 160.1h0M130.6 160.4h0M140.4 161.5h0M206 169h0M82.7 158.3h0M89.2 159h0M92.6 159.3h0M99 160.1h0M105.6 160.9h0M128.5 163.5h0M131.9 163.9h0M145 165.4h0M148.2 165.8h0M154.8 166.5h0M158.1 166.9h0M213.8 173.2h0"/><path stroke="#ff0f00" d="M83.7 135.2h0M96.7 136.6h0M137.4 144.6h0M125.4 146.6h0"/><path stroke="#008aff" d="M211.5 149.8h0M218.1 150.4h0M221.3 150.8h0M199.6 151.7h0M202.9 152.1h0M209.5 152.9h0M212.7 153.2h0M219.4 153.9h0M204.2 155.5h0M172.7 155.3h0M205.6 158.9h0M115 151.9h0M177.3 159.1h0M200.2 161.6h0M83.3 151.8h0M93.3 152.9h0M109.7 154.7h0M113 155h0M116.2 155.4h0M122.8 156.3h0M195 164.4h0M198.1 164.9h0M204.8 165.5h0M101.1 157.1h0M114.2 158.6h0M133.8 160.8h0M137.1 161.2h0M202.7 168.7h0M79.3 157.9h0M102.3 160.6h0M108.9 161.2h0M112.2 161.5h0M115.5 162h0M118.8 162.4h0M122.1 162.8h0M135.1 164.2h0M141.6 165.1h0M161.4 167.3h0M210.5 172.9h0"/><path stroke="#009eff" d="M146 142.3h0M188.5 147.1h0M201.7 148.5h0M205 148.9h0M208.2 149.3h0M214.9 150.1h0M196.4 151.3h0M206.1 152.4h0M171.4 151.7h0M201 155h0M97.3 146.7h0M180.5 159.5h0M183.7 159.8h0M187.1 160.2h0M197 161.3h0M86.6 152.1h0M132.7 157.3h0M136 157.6h0M142.4 158.5h0M145.8 158.9h0M185.1 163.3h0M188.3 163.7h0M191.6 164.1h0M78.2 154.5h0M88 155.6h0M91.3 155.8h0M143.6 161.9h0M147 162.2h0M153.6 162.9h0M199.4 168.3h0M95.8 159.8h0M125.3 163.1h0M138.5 164.7h0M164.6 167.5h0M167.8 168h0"/><path stroke="#ff3800" d="M91.5 139.4h0M98.1 140h0"/><path stroke="#00b2ff" d="M182.1 146.3h0M191.8 147.4h0M193.1 150.8h0M95.9 143.2h0M174.8 152.2h0M178 152.6h0M87.4 145.6h0M169.5 154.9h0M176 155.5h0M198.9 158.3h0M164.1 157.5h0M170.6 158.3h0M174 158.6h0M190.3 160.6h0M193.5 161h0M96.5 153.2h0M106.4 154.4h0M126.1 156.5h0M139.2 158.2h0M158.8 160.3h0M81.5 154.8h0M94.4 156.4h0M150.2 162.6h0M156.7 163.3h0M160.2 163.8h0M166.6 164.6h0M189.5 167.1h0M171.1 168.3h0M204 172.1h0M207.2 172.5h0"/><path stroke="#ff4c00" d="M126.3 139.9h0M107.9 141.2h0M128.8 147h0M135.4 147.7h0"/><path stroke="#00c7ff" d="M172.3 145.2h0M175.4 145.7h0M178.7 145.9h0M185.3 146.6h0M195.1 147.8h0M198.5 148.2h0M170.2 148.4h0M176.8 149.1h0M79.7 141.3h0M194.4 154.3h0M197.7 154.9h0M166.2 154.5h0M179.2 155.9h0M192.3 157.6h0M195.7 157.9h0M95.3 149.7h0M118.2 152.3h0M121.4 152.7h0M147.7 155.8h0M151.1 156.2h0M154.3 156.5h0M157.5 156.9h0M160.9 157.1h0M167.4 158h0M99.7 153.6h0M103.1 154h0M148.9 159.3h0M152.4 159.5h0M155.6 159.9h0M165.4 161.1h0M175.1 162.1h0M181.7 162.9h0M84.7 155.1h0M163.3 164.1h0M192.9 167.5h0M196.1 167.8h0M174.4 168.8h0M181.1 169.4h0M184.2 169.8h0M187.7 170.1h0M197.4 171.3h0M200.7 171.8h0"/><path stroke="#ff6100" d="M124.3 143.1h0M105.8 144.4h0M112.5 145h0M122.3 146.1h0M141.9 148.3h0"/><path stroke="#00dbff" d="M166.9 147.9h0M173.3 148.6h0M186.5 150.2h0M158.3 150.2h0M161.6 150.8h0M168.1 151.3h0M181.3 152.9h0M191.1 154h0M162.8 154.1h0M182.5 156.3h0M185.7 156.8h0M189 157.2h0M128 153.4h0M131.3 153.9h0M141.2 155h0M144.4 155.3h0M90 152.5h0M162.1 160.7h0M168.7 161.5h0M171.9 161.7h0M178.4 162.6h0M170 164.8h0M173.2 165.3h0M179.8 166.1h0M183 166.3h0M186.3 166.9h0M177.8 169.1h0M190.8 170.7h0M194.1 170.9h0"/><path stroke="#ff7500" d="M122.9 139.6h0"/><path stroke="#00f0ff" d="M84.9 138.6h0M179.9 149.5h0M183.2 149.9h0M189.8 150.6h0M164.9 151h0M184.5 153.2h0M187.7 153.6h0M107.2 147.8h0M124.7 153.2h0M134.6 154.2h0M137.9 154.6h0M176.5 165.7h0"/><path stroke="#ff8a00" d="M103.2 137.3h0M143.9 145.3h0M132 147.3h0"/><path stroke="#05fffa" d="M155 149.9h0M133.4 150.8h0M136.6 151.2h0M143.1 151.8h0M156.2 153.5h0M159.6 153.8h0"/><path stroke="#ff9e00" d="M115.6 145.5h0M138.6 148.1h0"/><path stroke="#1affe5" d="M155.7 143.3h0M168.9 144.9h0M163.6 147.5h0M151.7 149.6h0M100.5 147h0M130.1 150.3h0M139.9 151.5h0M146.4 152.3h0M149.8 152.6h0M153 153h0"/><path stroke="#ffb300" d="M116.4 138.8h0"/><path stroke="#2effd1" d="M114.5 141.9h0M126.8 150.1h0M92 149.4h0"/><path stroke="#ffc700" d="M94.8 139.8h0"/><path stroke="#42ffbd" d="M159.1 143.8h0M123.6 149.6h0"/><path stroke="#ffdb00" d="M85.5 148.6h0"/><path stroke="#57ffa8" d="M152.4 143h0M81.6 138.3h0M160.3 147.1h0M148.5 149.1h0M80.1 151.3h0"/><path stroke="#fff000" d="M106.6 137.7h0M78.9 147.8h0M88.7 149.1h0"/><path stroke="#6bff94" d="M150.5 146.1h0M113.6 148.5h0"/><path stroke="#faff05" d="M119.8 139.2h0M136.2 141h0M165.6 144.5h0M153.8 146.5h0M119 145.7h0"/><path stroke="#80ff80" d="M113.2 138.4h0M162.3 144.1h0"/><path stroke="#e5ff1a" d="M111.1 141.6h0M109.1 144.8h0M80.8 144.9h0"/><path stroke="#94ff6b" d="M109.9 138.1h0M88.2 139h0M102.5 143.9h0M110.4 148.1h0M116.9 149h0"/><path stroke="#d1ff2e" d="M132.8 140.8h0M121.1 142.8h0M147.1 145.8h0"/><path stroke="#a8ff57" d="M139.3 141.6h0M117.7 142.3h0M157 146.8h0M82.1 148.2h0"/><path stroke="#bdff42" d="M129.5 140.4h0M149.2 142.7h0M99.3 143.5h0M145.2 148.7h0M84.2 145.2h0M120.3 149.3h0"/><path stroke="#000080" d="M91 172.6h0M75.8 174.1h0M79.2 174.5h0M85.8 175.3h0M92.2 175.9h0M77.2 177.6h0"/><path stroke="#000094" d="M87.7 172.2h0M82.4 174.8h0M88.9 175.6h0M95.6 176.3h0M83.7 178.3h0"/><path stroke="#0000a8" d="M78 171.1h0M81.3 171.4h0M84.4 171.7h0M94.3 172.8h0M98.9 176.7h0M86.9 178.6h0M90.3 179h0M93.5 179.5h0M96.8 179.8h0M100 180.2h0M75.1 180.7h0M83 184.9h0"/><path stroke="#0000bd" d="M100.9 173.7h0M105.4 177.4h0M80.3 178h0M103.4 180.5h0M78.4 181h0M81.7 181.4h0M85 181.8h0M88.3 182.1h0M91.4 182.6h0M94.7 182.9h0M98.1 183.2h0M101.4 183.7h0M180 192.7h0M79.7 184.5h0M86.1 185.3h0M181.4 196.2h0M184.6 196.4h0M187.8 196.9h0M191.1 197.2h0M197.7 198h0"/><path stroke="#0000d1" d="M76.5 167.6h0M89.8 169.1h0M97.7 173.2h0M104.2 174.1h0M102.2 177h0M108.6 177.9h0M104.7 183.9h0M183.4 193h0M186.5 193.3h0M190 193.8h0M193.2 194.1h0M76.4 184.2h0M89.6 185.7h0M92.7 186h0M174.7 195.3h0M194.3 197.5h0"/><path stroke="#0000e6" d="M79.9 167.9h0M83.1 168.2h0M86.5 168.6h0M96.3 169.8h0M99.6 170.3h0M115.2 178.6h0M200.5 188.4h0M203.8 188.7h0M207.1 189h0M210.2 189.4h0M119.8 182.5h0M205 192.1h0M208.3 192.6h0M176.9 192.3h0M196.4 194.4h0M199.7 194.8h0M206.2 195.6h0M96.1 186.5h0M99.4 186.7h0M102.7 187h0M105.9 187.5h0M171.4 194.9h0M178.1 195.6h0M200.9 198.2h0M204.3 198.8h0M207.5 199h0"/><path stroke="#0000fa" d="M93 169.5h0M102.8 170.6h0M106.1 170.9h0M107.5 174.4h0M112 178.2h0M118.5 178.9h0M194 187.5h0M197.1 187.9h0M106.7 181h0M109.9 181.3h0M113.1 181.6h0M116.5 182h0M123 182.7h0M178.7 189.2h0M182.1 189.5h0M188.6 190.2h0M198.5 191.5h0M201.7 191.8h0M107.9 184.4h0M111.2 184.9h0M117.7 185.4h0M173.5 191.9h0M202.9 195.3h0M109.1 187.9h0M115.7 188.5h0M128.8 190.1h0M132.2 190.4h0M135.5 190.9h0M138.6 191.2h0M161.6 193.9h0M168.1 194.7h0"/><path stroke="#000fff" d="M113.9 175h0M117.2 175.5h0M140.2 178.1h0M192.6 184.1h0M195.8 184.5h0M199.3 184.9h0M209 185.9h0M126.3 183.2h0M172.2 188.5h0M175.5 188.9h0M185.3 189.8h0M191.8 190.7h0M195.3 191.1h0M114.5 185.1h0M121.1 185.8h0M124.3 186.4h0M127.6 186.7h0M131 187h0M170.3 191.6h0M112.4 188.2h0M119 189h0M122.3 189.4h0M125.6 189.7h0M142 191.6h0M155.1 193.1h0M165 194.2h0"/><path stroke="#0024ff" d="M82 164.9h0M88.5 165.5h0M109.3 171.3h0M138.9 174.6h0M142.3 175.1h0M110.7 174.7h0M143.6 178.6h0M146.8 178.8h0M150 179.2h0M202.4 185.3h0M205.8 185.7h0M121.7 179.4h0M141.4 181.6h0M144.8 182h0M148 182.3h0M187.3 186.8h0M190.6 187.1h0M129.6 183.6h0M159.1 186.8h0M165.7 187.7h0M134.1 187.3h0M163.6 190.8h0M166.9 191.1h0M145.2 192.1h0M148.5 192.3h0M151.9 192.8h0M158.4 193.5h0"/><path stroke="#0038ff" d="M162.6 170.8h0M78.7 164.4h0M85.1 165.3h0M91.8 165.9h0M98.4 166.7h0M112.6 171.7h0M132.4 173.9h0M191.3 180.6h0M120.5 175.8h0M133.7 177.4h0M137 177.8h0M186 183.4h0M125 179.7h0M128.4 180.1h0M138.1 181.1h0M151.2 182.6h0M154.5 183.2h0M170.9 185h0M177.4 185.7h0M136.2 184.3h0M139.4 184.7h0M146 185.4h0M152.6 186.2h0M168.9 188.1h0M137.4 187.9h0M140.8 188.1h0M144 188.5h0M150.5 189.4h0M153.9 189.5h0M157.2 190h0M160.4 190.4h0"/><path stroke="#004dff" d="M77.5 161h0M87.1 162h0M152.7 169.5h0M95 166.4h0M101.6 167.1h0M131.1 170.5h0M141 171.5h0M144.2 172h0M154.1 173.1h0M116 172h0M119.2 172.4h0M122.6 172.9h0M125.8 173.2h0M129.1 173.6h0M135.7 174.3h0M145.5 175.4h0M207.7 182.5h0M211.1 182.8h0M123.8 176.3h0M127 176.6h0M153.3 179.6h0M156.6 179.9h0M189.4 183.8h0M131.5 180.5h0M134.8 180.8h0M157.9 183.5h0M164.4 184.1h0M167.6 184.5h0M174.3 185.3h0M180.8 186h0M184.1 186.5h0M132.8 183.9h0M142.7 185h0M149.3 185.8h0M155.8 186.6h0M162.4 187.4h0M147.2 188.9h0"/><path stroke="#0061ff" d="M80.7 161.3h0M84 161.7h0M97 163.2h0M100.3 163.6h0M146.2 168.9h0M149.5 169.3h0M156 169.9h0M159.2 170.3h0M165.8 171.1h0M104.8 167.4h0M111.4 168.2h0M124.6 169.6h0M137.8 171.2h0M147.5 172.2h0M157.3 173.5h0M163.9 174.1h0M148.8 175.8h0M152.1 176.2h0M188.1 180.2h0M194.7 180.9h0M198 181.4h0M201.3 181.8h0M204.5 182.2h0M130.4 176.9h0M159.9 180.4h0M163.1 180.7h0M169.6 181.5h0M176.3 182.3h0M179.6 182.6h0M182.8 183h0M161.2 183.9h0"/><path stroke="#0075ff" d="M90.4 162.5h0M93.7 162.9h0M103.6 164h0M129.8 167h0M133.1 167.3h0M136.3 167.8h0M142.9 168.5h0M108.1 167.7h0M117.9 168.9h0M121.3 169.2h0M127.8 170.1h0M134.3 170.8h0M150.7 172.7h0M160.5 173.8h0M167.2 174.4h0M186.8 176.7h0M155.3 176.5h0M158.6 176.9h0M168.4 178h0M171.7 178.4h0M181.6 179.4h0M184.9 179.9h0M166.5 181.2h0M173 181.8h0"/><path stroke="#008aff" d="M106.8 164.3h0M110.1 164.8h0M113.5 165.2h0M120 165.8h0M126.5 166.6h0M139.7 168.1h0M114.7 168.6h0M176.9 175.6h0M180.3 176h0M183.6 176.5h0M196.7 177.9h0M203.3 178.6h0M209.8 179.4h0M161.9 177.2h0M165.1 177.7h0M174.9 178.7h0M178.3 179.1h0"/><path stroke="#009eff" d="M116.7 165.5h0M123.3 166.3h0M175.8 172.2h0M198.6 174.9h0M211.8 176.3h0M170.4 174.9h0M173.7 175.4h0M190.1 177.2h0M193.4 177.5h0M206.5 179h0"/><path stroke="#00b2ff" d="M169.1 171.4h0M182.2 172.9h0M185.6 173.3h0M192.1 174.1h0M195.4 174.5h0M201.9 175.1h0M205.2 175.5h0M208.4 175.9h0M200 178.3h0"/><path stroke="#00c7ff" d="M172.4 171.7h0M178.9 172.6h0M188.9 173.6h0"/><path stroke="#000080" d="M114.2 201.8h0M118.8 205.5h0M122 206h0"/><path stroke="#000094" d="M111 201.4h0M120.8 202.5h0M115.6 205.1h0M125.3 206.3h0M128.7 206.6h0"/><path stroke="#0000a8" d="M190.4 203.7h0M107.6 200.9h0M117.4 202.1h0M124.1 202.8h0M112.2 204.9h0M141.7 208.1h0M123.3 209.3h0"/><path stroke="#0000bd" d="M84.2 188.4h0M90.7 189.2h0M182.7 199.5h0M189.2 200.2h0M195.6 201.1h0M202.3 201.7h0M75.7 190.6h0M78.9 191.1h0M92.1 192.5h0M98.6 193.3h0M131.4 196.9h0M141.2 198.2h0M180.6 202.7h0M183.9 203h0M187.1 203.5h0M193.7 204.1h0M196.9 204.6h0M200.3 205h0M73.7 193.7h0M77 194.2h0M80.3 194.5h0M86.8 195.3h0M109.6 197.9h0M112.9 198.3h0M116.2 198.7h0M122.9 199.3h0M132.7 200.6h0M142.6 201.7h0M149 202.4h0M191.6 207.3h0M198.2 208h0M201.4 208.3h0M127.4 203.2h0M130.6 203.5h0M137.3 204.4h0M147.1 205.5h0M131.9 207.1h0M138.5 207.8h0M120 209h0"/><path stroke="#0000d1" d="M74.5 187.1h0M77.7 187.6h0M80.9 188h0M87.5 188.7h0M94 189.4h0M136.8 194.3h0M139.9 194.6h0M143.2 195h0M172.7 198.5h0M176.1 198.8h0M179.3 199.3h0M185.9 199.9h0M192.5 200.6h0M82.2 191.5h0M85.4 191.8h0M88.8 192.2h0M95.2 192.9h0M101.9 193.6h0M108.4 194.4h0M128.1 196.7h0M134.6 197.5h0M137.9 197.7h0M144.5 198.5h0M151 199.3h0M177.3 202.2h0M83.4 195h0M90 195.7h0M96.7 196.4h0M99.8 196.8h0M103.2 197.1h0M119.6 198.9h0M126 199.7h0M129.3 200.1h0M136 200.8h0M139.2 201.3h0M152.4 202.7h0M185.2 206.4h0M188.4 206.8h0M194.9 207.7h0M74.8 197.3h0M78.2 197.6h0M84.8 198.5h0M104.3 200.5h0M133.9 204h0M143.8 205h0M153.6 206.2h0M72.9 200.4h0M105.7 204.1h0M108.9 204.4h0M135.1 207.5h0M148.4 209h0M113.4 208.2h0M116.8 208.7h0"/><path stroke="#0000e6" d="M97.3 189.9h0M100.7 190.2h0M103.9 190.6h0M123.5 192.9h0M126.9 193.2h0M130.2 193.5h0M133.3 194h0M199 201.4h0M205.5 202.1h0M105.1 194h0M115 195.2h0M118.3 195.5h0M121.5 195.9h0M124.9 196.3h0M147.7 198.8h0M157.7 199.9h0M173.9 201.9h0M203.6 205.3h0M93.2 196.1h0M106.4 197.6h0M145.7 202h0M181.8 206.1h0M81.4 198h0M94.5 199.5h0M97.8 199.9h0M101.1 200.2h0M140.6 204.6h0M150.4 205.8h0M76.2 200.8h0M79.4 201h0M86 201.8h0M89.3 202.3h0M99 203.4h0M102.5 203.6h0M145 208.5h0M77.3 204.2h0M84.1 204.9h0M107 207.6h0"/><path stroke="#0000fa" d="M107.1 191h0M116.9 192h0M120.4 192.4h0M146.6 195.4h0M149.9 195.8h0M156.3 196.7h0M162.8 197.2h0M166.2 197.6h0M169.5 198h0M111.8 194.9h0M154.3 199.8h0M167.5 201.2h0M170.7 201.6h0M155.7 203h0M158.8 203.5h0M88 198.8h0M82.8 201.4h0M92.6 202.6h0M95.7 203h0M151.6 209.3h0M74.1 203.8h0M80.6 204.5h0M97.1 206.4h0M110.2 208h0M78.8 207.6h0M88.6 208.8h0"/><path stroke="#000fff" d="M110.4 191.3h0M113.7 191.7h0M153.1 196.3h0M159.5 197h0M160.9 200.4h0M164.1 200.8h0M162.2 203.9h0M175.3 205.3h0M178.5 205.7h0M91.2 199.1h0M156.8 206.7h0M163.3 207.4h0M87.2 205.3h0M90.6 205.6h0M93.8 206h0M100.4 206.8h0M103.6 207.2h0M75.5 207.3h0M82 208h0M85.3 208.5h0M91.7 209.2h0"/><path stroke="#0024ff" d="M165.5 204.3h0M160.1 207h0M166.7 207.7h0"/><path stroke="#0038ff" d="M168.7 204.6h0M172 205h0M169.9 208h0M179.9 209.2h0M72.1 207h0"/><path stroke="#004dff" d="M173.3 208.5h0M176.5 208.8h0"/></g><g fill="none" stroke-linecap="round" stroke-width="6.6"><path stroke="#000080" d="M159.5 1.1h0M164.1 1.1h0M168.7 1.1h0"/><path stroke="#000094" d="M145.8 1.1h0M150.4 1.1h0M154.9 1.1h0M173.3 1.1h0M228.2 1.1h0M232.8 1.1h0M73.8 179h0M74.3 174.4h0"/><path stroke="#0000a8" d="M177.8 1.1h0M182.4 1.1h0M187 1.1h0M223.6 1.1h0"/><path stroke="#0000bd" d="M141.2 1.1h0M134.8 210.9h0M130.1 210.9h0M125.5 210.9h0M72.1 192.7h0M72.7 188.1h0M74.9 169.9h0"/><path stroke="#0000d1" d="M219.1 1.1h0M199.7 210.9h0M195 210.9h0M139.4 210.9h0M120.9 210.9h0M71.6 197.2h0M73.2 183.5h0"/><path stroke="#0000e6" d="M232.8 14.8h0M232.8 19.3h0M232.8 23.9h0M209.7 193.5h0M208.4 197.8h0M207 202.2h0M205.7 206.5h0M204.3 210.9h0M190.4 210.9h0M148.7 210.9h0M144.1 210.9h0M116.2 210.9h0"/><path stroke="#800000" d="M79.9 128.8h0M80.4 124.2h0M81 119.7h0"/><path stroke="#0000fa" d="M136.6 1.1h0M232.8 28.4h0M211.1 189.1h0M153.3 210.9h0M111.6 210.9h0M107 210.9h0M74.5 210.9h0M69.9 210.9h0M71 201.8h0"/><path stroke="#000fff" d="M185.8 210.9h0M158 210.9h0M102.3 210.9h0M93.1 210.9h0M88.4 210.9h0M83.8 210.9h0M79.2 210.9h0"/><path stroke="#0024ff" d="M214.5 1.1h0M212.4 184.8h0M162.6 210.9h0M97.7 210.9h0M70.5 206.3h0M75.4 165.3h0"/><path stroke="#0038ff" d="M132 1.1h0M191.6 1.1h0M217.9 167.4h0M181.1 210.9h0M176.5 210.9h0M171.9 210.9h0M167.2 210.9h0"/><path stroke="#004dff" d="M232.8 5.7h0M216.5 171.7h0M76 160.7h0M86.5 74.1h0"/><path stroke="#0061ff" d="M209.9 1.1h0M232.8 33h0M232.8 55.7h0M219.2 163h0"/><path stroke="#fa0000" d="M79.3 133.4h0"/><path stroke="#0075ff" d="M205.3 1.1h0M232.8 51.2h0M228.7 132.6h0M227.4 136.9h0M226 141.3h0M220.6 158.7h0M215.2 176.1h0M213.8 180.4h0M78.8 137.9h0"/><path stroke="#008aff" d="M127.5 1.1h0M196.2 1.1h0M200.7 1.1h0M232.8 10.2h0M232.8 60.3h0M224.7 145.6h0M221.9 154.3h0"/><path stroke="#009eff" d="M232.8 37.5h0M232.8 46.6h0M230.1 128.2h0M223.3 150h0M76.6 156.2h0M91 37.6h0M92.1 28.5h0M92.6 23.9h0"/><path stroke="#00b2ff" d="M232.8 74h0M232.8 101.3h0M89.3 51.3h0M89.9 46.7h0M90.4 42.1h0M91.5 33h0"/><path stroke="#00c7ff" d="M232.8 42.1h0M232.8 64.9h0M232.8 69.4h0M232.8 78.5h0"/><path stroke="#00dbff" d="M113.7 1.1h0M118.3 1.1h0M122.9 1.1h0M232.8 83.1h0M231.4 123.9h0M77.1 151.6h0M94.8 5.7h0"/><path stroke="#00f0ff" d="M95.4 1.1h0M109.1 1.1h0M232.8 119.5h0M93.2 19.3h0M93.7 14.8h0"/><path stroke="#05fffa" d="M100 1.1h0M104.6 1.1h0M78.2 142.5h0M94.3 10.2h0"/><path stroke="#2effd1" d="M232.8 92.2h0M232.8 96.7h0M87.1 69.5h0M88.7 55.8h0"/><path stroke="#42ffbd" d="M232.8 87.6h0"/><path stroke="#ffdb00" d="M77.7 147h0"/><path stroke="#80ff80" d="M88.2 60.4h0"/><path stroke="#a8ff57" d="M87.6 65h0"/><path stroke="#0000fa" d="M106.8 78h0"/><path stroke="#000fff" d="M103.5 77.7h0"/><path stroke="#0024ff" d="M90.5 76.2h0M100.2 77.2h0"/><path stroke="#0038ff" d="M91.5 79.5h0M108 81.5h0"/><path stroke="#004dff" d="M88.4 79.2h0"/><path stroke="#0024ff" d="M102.8 84.2h0M100.7 87.3h0M105.2 91h0M108.6 91.4h0M111.9 91.8h0"/><path stroke="#0038ff" d="M96.1 83.5h0M132.3 87.6h0M110.5 88.4h0M133.5 91h0M96.7 93.4h0"/><path stroke="#004dff" d="M99.5 83.8h0M95.4 90.1h0M103.2 94.3h0M111 98.4h0"/><path stroke="#0061ff" d="M89.6 82.7h0M90.8 86.2h0M90.1 92.7h0M86.1 98.8h0"/><path stroke="#0075ff" d="M107.8 98h0M89.4 99.3h0M93.9 103.2h0M97.2 103.5h0"/><path stroke="#008aff" d="M101.3 97.3h0M109 101.5h0M87.3 102.3h0M90.6 102.7h0"/><path stroke="#009eff" d="M97.9 96.8h0"/><path stroke="#ff3800" d="M110.3 105h0"/><path stroke="#00b2ff" d="M223.8 114.5h0"/><path stroke="#00c7ff" d="M210.9 96.5h0M222 101.1h0"/><path stroke="#00f0ff" d="M198.4 105h0"/><path stroke="#ff9e00" d="M126.2 96.7h0"/><path stroke="#6bff94" d="M134.8 94.5h0"/><path stroke="#d1ff2e" d="M112.4 101.8h0"/><path stroke="#800000" d="M83.8 118.5h0"/><path stroke="#a80000" d="M115.4 118.7h0"/><path stroke="#ff6100" d="M104.3 114.3h0"/></g>
<g clip-path="url(#fc)"><use href="#st" transform="translate(0.5,0.6)" fill="none" stroke="#000" stroke-width="2.3" stroke-linejoin="round" stroke-linecap="round"/></g>
</g>
<rect x="441.3" y="485.1" width="23.6" height="215.4" fill="url(#jet)" stroke="#3a1010" stroke-width="0.7"/>
<path d="M464.9 592.8h-2.4" stroke="#262626" stroke-width="0.8"/>
<text class="cb" x="473.0" y="493.0">100</text><text class="cb" x="473.0" y="600.0">50</text><text class="cb" x="473.0" y="707.0">0</text>
<text class="tk" x="146.0" y="502.7">48<tspan class="dg" dx="1.6" dy="-6.9">°</tspan><tspan dx="4.9" dy="6.9">N</tspan></text><text class="tk" x="146.0" y="520.7">46<tspan class="dg" dx="1.6" dy="-6.9">°</tspan><tspan dx="4.9" dy="6.9">N</tspan></text><text class="tk" x="146.0" y="537.8">44<tspan class="dg" dx="1.6" dy="-6.9">°</tspan><tspan dx="4.9" dy="6.9">N</tspan></text><text class="tk" x="146.0" y="556.8">42<tspan class="dg" dx="1.6" dy="-6.9">°</tspan><tspan dx="4.9" dy="6.9">N</tspan></text><text class="tk" x="146.0" y="572.5">40<tspan class="dg" dx="1.6" dy="-6.9">°</tspan><tspan dx="4.9" dy="6.9">N</tspan></text><text class="tk" x="146.0" y="587.6">38<tspan class="dg" dx="1.6" dy="-6.9">°</tspan><tspan dx="4.9" dy="6.9">N</tspan></text><text class="tk" x="146.0" y="604.4">36<tspan class="dg" dx="1.6" dy="-6.9">°</tspan><tspan dx="4.9" dy="6.9">N</tspan></text><text class="tk" x="146.0" y="618.9">34<tspan class="dg" dx="1.6" dy="-6.9">°</tspan><tspan dx="4.9" dy="6.9">N</tspan></text><text class="tk" x="146.0" y="635.6">32<tspan class="dg" dx="1.6" dy="-6.9">°</tspan><tspan dx="4.9" dy="6.9">N</tspan></text><text class="tk" x="146.0" y="649.7">30<tspan class="dg" dx="1.6" dy="-6.9">°</tspan><tspan dx="4.9" dy="6.9">N</tspan></text><text class="tk" x="146.0" y="662.8">28<tspan class="dg" dx="1.6" dy="-6.9">°</tspan><tspan dx="4.9" dy="6.9">N</tspan></text><text class="tk" x="146.0" y="677.8">26<tspan class="dg" dx="1.6" dy="-6.9">°</tspan><tspan dx="4.9" dy="6.9">N</tspan></text><text class="tk" x="146.0" y="692.0">24<tspan class="dg" dx="1.6" dy="-6.9">°</tspan><tspan dx="4.9" dy="6.9">N</tspan></text><text class="tk" x="146.0" y="704.9">22<tspan class="dg" dx="1.6" dy="-6.9">°</tspan><tspan dx="4.9" dy="6.9">N</tspan></text>
<text class="tk" x="240.5" y="466.9" text-anchor="middle">100<tspan class="dg" dx="1.6" dy="-6.9">°</tspan><tspan dx="4.6" dy="6.9">W</tspan></text><text class="tk" x="305.7" y="466.9" text-anchor="middle">90<tspan class="dg" dx="1.6" dy="-6.9">°</tspan><tspan dx="4.6" dy="6.9">W</tspan></text><text class="tk" x="369.5" y="466.9" text-anchor="middle">80<tspan class="dg" dx="1.6" dy="-6.9">°</tspan><tspan dx="4.6" dy="6.9">W</tspan></text><text class="tk" x="432.9" y="466.9" text-anchor="middle">70<tspan class="dg" dx="1.6" dy="-6.9">°</tspan><tspan dx="4.6" dy="6.9">W</tspan></text>
<text class="tt" x="139.3" y="731.3" textLength="337" lengthAdjust="spacing">SAT 300 hPa RH (Percent)</text>
<g transform="translate(616.9,486.1)">
<rect x="0" y="0" width="233.6" height="213.4" fill="#fff" stroke="#000" stroke-width="1"/>
<g fill="none" stroke-linecap="round" stroke-width="4.7"><path stroke="#0000bd" d="M192.4 11.4h0"/><path stroke="#0000d1" d="M194.5 8.2h0M185.9 10.7h0M195.6 11.8h0M198.9 12h0M208.8 13.1h0M215.4 13.9h0M225.3 15h0"/><path stroke="#0000e6" d="M183.3 3.6h0M187.8 7.5h0M191.2 7.9h0M217.4 10.9h0M220.7 11.3h0M189 10.9h0M202.3 12.4h0M205.5 12.8h0M212 13.6h0M218.6 14.4h0M221.9 14.7h0"/><path stroke="#0000fa" d="M186.6 4.1h0M155.1 3.8h0M181.2 6.8h0M197.6 8.7h0M201 8.9h0M204.3 9.4h0M210.9 10.2h0M214 10.4h0M227.2 12h0M179.2 9.9h0M182.6 10.2h0M228.5 15.5h0"/><path stroke="#000fff" d="M180.1 3.2h0M193.1 4.8h0M209.5 6.6h0M151.7 3.5h0M158.3 4.1h0M168.2 5.2h0M178.1 6.3h0M184.7 7.1h0M207.6 9.7h0M224 11.7h0M230.4 12.3h0M166.3 8.3h0M176.1 9.5h0"/><path stroke="#0024ff" d="M173.5 2.6h0M189.9 4.4h0M203 5.9h0M212.8 7h0M216 7.3h0M219.4 7.9h0M226 8.5h0M229.3 8.9h0M145.2 2.7h0M161.5 4.6h0M164.8 4.9h0M171.5 5.6h0M146.5 6.1h0M159.7 7.7h0M162.9 8h0M169.5 8.7h0"/><path stroke="#0038ff" d="M176.8 3h0M196.4 5.2h0M199.7 5.6h0M206.3 6.2h0M148.5 3h0M174.8 6.1h0M149.7 6.5h0M153.1 6.9h0M156.3 7.3h0M172.8 9.2h0"/><path stroke="#004dff" d="M222.7 8.2h0"/><path stroke="#0061ff" d="M208.2 3.2h0"/><path stroke="#0075ff" d="M205 2.8h0M231.2 5.9h0M139.8 5.3h0M143.3 5.8h0"/><path stroke="#008aff" d="M201.6 2.5h0M211.5 3.6h0M218.2 4.3h0M221.4 4.8h0M224.7 5h0"/><path stroke="#009eff" d="M214.8 4h0M136.6 5h0"/><path stroke="#00b2ff" d="M228 5.4h0M120.2 3.1h0"/><path stroke="#00c7ff" d="M133.4 4.7h0"/><path stroke="#00dbff" d="M126.8 3.9h0"/><path stroke="#05fffa" d="M117 2.7h0"/><path stroke="#2effd1" d="M123.5 3.5h0M130.1 4.2h0"/><path stroke="#000080" d="M196.2 21.7h0M197.5 25.2h0"/><path stroke="#000094" d="M199.4 22.2h0"/><path stroke="#0000a8" d="M196.9 15.1h0M203.4 16h0M195 18.4h0M198.2 18.8h0M214.6 20.5h0M221.1 21.2h0M189.6 21h0M192.9 21.4h0M202.7 22.5h0M206.1 23h0M229 25.4h0M194.2 24.8h0M200.8 25.5h0"/><path stroke="#0000bd" d="M190.3 14.5h0M193.6 14.9h0M200.3 15.6h0M206.8 16.2h0M210 16.7h0M216.7 17.5h0M219.8 17.7h0M226.5 18.5h0M229.8 19h0M181.8 16.7h0M185.1 17.1h0M188.4 17.5h0M191.6 17.9h0M204.7 19.3h0M208 19.8h0M211.2 20.2h0M217.8 20.9h0M227.6 22.1h0M231 22.5h0M212.5 23.7h0M215.9 23.9h0M219.1 24.4h0M222.5 24.7h0M225.7 25h0M190.9 24.6h0M204 26h0M207.3 26.3h0M210.6 26.7h0M201.9 29h0M205.4 29.3h0"/><path stroke="#0000d1" d="M183.9 13.7h0M187 14.1h0M213.3 17h0M223.1 18.2h0M178.6 16.3h0M201.6 19h0M224.4 21.6h0M183.2 20.3h0M186.4 20.6h0M209.4 23.2h0M213.9 27.2h0M223.6 28.1h0M195.4 28.2h0M198.8 28.7h0"/><path stroke="#0000e6" d="M167.5 11.8h0M174 12.6h0M180.5 13.4h0M179.9 19.8h0M187.7 24.1h0M226.9 28.6h0M230.3 28.9h0M208.7 29.8h0M215.2 30.5h0"/><path stroke="#0000fa" d="M164.1 11.4h0M170.7 12.1h0M177.3 12.9h0M172 15.8h0M175.3 16h0M124.1 13.5h0M176.6 19.5h0M217.2 27.5h0M220.3 27.9h0M211.9 30.1h0"/><path stroke="#000fff" d="M160.8 11.1h0M168.7 15.4h0M218.3 31h0M221.8 31.2h0M228.2 32.1h0M206.5 32.8h0"/><path stroke="#0024ff" d="M110.9 12h0M184.3 23.8h0M192.2 28h0M225 31.6h0M231.4 32.4h0M209.8 33.3h0M94.3 26.7h0"/><path stroke="#0038ff" d="M105.2 4.8h0M157.6 10.7h0M112.9 8.9h0M114.3 12.4h0M120.8 13.2h0M125.4 17h0M181.1 23.3h0M120.1 19.7h0M111.4 22.1h0M124.6 23.6h0M115.9 25.8h0M119.3 26.3h0M230.7 38.9h0M100.8 27.4h0M104.1 27.9h0M107.4 28.2h0M110.8 28.7h0M113.9 28.9h0M228.8 42.1h0"/><path stroke="#004dff" d="M165.3 14.9h0M173.2 19.2h0M114.7 22.5h0M118 22.8h0M127.9 24h0M200.1 32.2h0M203.3 32.6h0M213.1 33.6h0M216.4 34h0M219.6 34.3h0M112.7 25.6h0M122.6 26.7h0M221 37.9h0M97.6 27.2h0M117.2 29.4h0M120.6 29.6h0M219 40.9h0M225.5 41.8h0"/><path stroke="#0061ff" d="M108.5 5.2h0M154.4 10.3h0M162.1 14.6h0M107.7 11.7h0M117.5 12.7h0M115.6 15.9h0M122.1 16.6h0M123.3 20.2h0M131.2 24.4h0M222.9 34.8h0M226.2 35.1h0M229.4 35.6h0M106.3 24.8h0M109.4 25.1h0M125.9 26.9h0M207.9 36.4h0M217.6 37.5h0M224.2 38.3h0M227.5 38.6h0M123.8 30.1h0M222.1 41.3h0"/><path stroke="#0075ff" d="M106.4 8.2h0M126.6 20.5h0M129.9 20.8h0M121.2 23.1h0M134.4 24.6h0M137.7 25.1h0M103 24.5h0M129.1 27.3h0M132.4 27.7h0M135.6 28.2h0M204.6 36h0M211 36.8h0M214.3 37h0M209 39.8h0M215.7 40.6h0"/><path stroke="#008aff" d="M115 5.9h0M127.3 14h0M169.9 18.8h0M118.8 16.3h0M177.8 22.9h0M113.5 19h0M185.5 27.1h0M188.8 27.5h0M138.9 28.4h0M140.3 31.9h0M212.4 40.2h0"/><path stroke="#009eff" d="M111.7 5.5h0M121.5 6.5h0M151 10h0M116.3 9.4h0M166.7 18.5h0M128.6 17.4h0M133.2 21.2h0M108.3 21.6h0M196.8 31.8h0M96.4 23.6h0M99.7 24.1h0M142.2 28.8h0M127.1 30.6h0M133.7 31.3h0M137 31.6h0M143.5 32.3h0"/><path stroke="#00b2ff" d="M101.9 4.4h0M103.1 7.9h0M158.9 14.1h0M101.1 11h0M104.4 11.2h0M102.3 14.4h0M106.8 18.2h0M116.8 19.3h0M146.7 32.7h0M150.1 33.1h0M205.7 39.5h0"/><path stroke="#00c7ff" d="M134.6 8.1h0M144.4 9.3h0M147.7 9.6h0M119.5 9.7h0M131.8 17.7h0M110.2 18.6h0M136.3 21.5h0M145.4 29.2h0M130.5 30.9h0"/><path stroke="#00dbff" d="M137.9 8.5h0M109.7 8.5h0M155.5 13.7h0M103.7 17.9h0M193.4 31.4h0"/><path stroke="#00f0ff" d="M131.3 7.7h0M141.2 8.8h0M99.8 7.4h0M105.6 14.7h0M112.2 15.6h0M182.3 26.7h0M98.5 20.5h0M101.6 20.9h0M140.9 25.4h0M144.2 25.8h0M154.1 26.9h0M156.7 33.9h0"/><path stroke="#05fffa" d="M124.9 6.9h0M122.8 10h0M129.4 10.9h0M152.3 13.5h0M99.2 13.9h0M109 15.2h0M97.1 17.1h0M100.4 17.5h0M139.8 22h0M148.8 29.7h0M153.2 33.5h0"/><path stroke="#ff9e00" d="M180.4 29.8h0M171.8 32.2h0"/><path stroke="#1affe5" d="M98.5 4.1h0M118.3 6.3h0M142.5 12.3h0M97.9 10.5h0M135.1 18.1h0M161.3 21.1h0M171.2 22.3h0M174.5 22.6h0M179 26.4h0"/><path stroke="#2effd1" d="M126.1 10.5h0M139.3 12h0M130.7 14.3h0M133.9 14.7h0M156.9 17.2h0M95.9 13.7h0M164.7 21.6h0M167.9 21.8h0M146.3 22.7h0M104.9 21.4h0M147.5 26.1h0M155.4 30.5h0"/><path stroke="#ffc700" d="M172.9 35.6h0"/><path stroke="#42ffbd" d="M96.6 7.2h0M163.4 18h0M138.5 18.5h0M158.1 20.8h0M157.4 27.2h0M152.2 30.1h0M198 35.2h0M160 34.1h0"/><path stroke="#ffdb00" d="M170.6 28.8h0M169.7 35.2h0M176.2 36h0"/><path stroke="#57ffa8" d="M132.6 11.3h0M149.6 23.1h0M152.8 23.5h0M150.7 26.6h0M160.7 27.6h0M163.1 34.6h0"/><path stroke="#fff000" d="M177 29.6h0M175 32.7h0M185 33.7h0M186.1 37.1h0"/><path stroke="#6bff94" d="M128.1 7.4h0M145.7 12.7h0M153.5 17h0M156.1 23.8h0M95 20.2h0M194.7 34.8h0"/><path stroke="#faff05" d="M165.2 31.4h0M178.3 33h0M191.4 34.6h0M189.4 37.5h0"/><path stroke="#80ff80" d="M149 13.1h0M160.1 17.6h0M141.8 18.9h0M143.1 22.3h0M162.7 24.7h0M172.5 25.8h0M190.2 30.9h0M201.3 35.7h0"/><path stroke="#e5ff1a" d="M167.2 28.4h0M173.8 29.2h0M187 30.6h0M168.5 31.8h0M181.6 33.4h0M179.6 36.5h0M182.8 36.9h0M192.7 37.9h0"/><path stroke="#94ff6b" d="M135.9 11.6h0M159.5 24.1h0M175.7 26.1h0M195.9 38.3h0M199.2 38.7h0"/><path stroke="#d1ff2e" d="M137.2 15.1h0M140.5 15.5h0M143.7 15.8h0M147.1 16.1h0M145 19.2h0M148.2 19.6h0M151.5 19.9h0M169.2 25.3h0M188.2 34.1h0"/><path stroke="#a8ff57" d="M150.2 16.4h0M165.9 24.9h0M158.6 30.7h0"/><path stroke="#bdff42" d="M154.9 20.3h0M164 28h0M183.7 30.2h0M161.8 31.1h0M166.4 34.9h0M202.6 39.1h0"/><path stroke="#000fff" d="M93.6 33.3h0M96.9 33.7h0M100 34.1h0M103.4 34.5h0M94.8 36.7h0M98.2 37.1h0M92.9 39.8h0M96.1 40.2h0"/><path stroke="#0024ff" d="M95.6 30.2h0M98.9 30.6h0M106.8 34.8h0M101.4 37.5h0M94.2 43.4h0M157.7 53.9h0M229 68.7h0"/><path stroke="#0038ff" d="M102.1 31h0M105.5 31.2h0M108.7 31.7h0M226.7 45.2h0M229.9 45.6h0M231.3 49.1h0M104.7 37.8h0M107.9 38.3h0M102.7 41h0M100.6 44.1h0M104 44.4h0M107.2 44.9h0M92.2 46.4h0M95.4 46.8h0M155.6 57.1h0M150.4 59.8h0M225.9 68.3h0"/><path stroke="#004dff" d="M110 35.2h0M116.6 35.9h0M119.8 36.4h0M224.7 48.2h0M228 48.7h0M111.3 38.7h0M114.6 39h0M117.8 39.3h0M229.2 52h0M99.5 40.7h0M105.9 41.4h0M109.3 41.8h0M115.9 42.5h0M119.1 42.9h0M230.5 55.5h0M97.4 43.6h0M117.1 46h0M140 48.6h0M143.2 48.9h0M153 50h0M159.6 50.7h0M225.2 58.3h0M228.6 58.7h0M105.2 47.9h0M147.8 52.9h0M96.7 50.2h0M103.3 50.9h0M109.8 51.7h0M149 56.3h0M158.9 57.3h0M162.2 57.7h0M91.3 52.9h0M94.7 53.3h0M143.8 58.9h0M153.7 60h0M170 62h0M173.3 62.4h0M222.5 68h0"/><path stroke="#0061ff" d="M112 32h0M115.2 32.4h0M118.5 32.9h0M223.5 44.8h0M113.2 35.5h0M121.1 39.7h0M225.9 51.8h0M112.5 42h0M122.3 43.2h0M128.9 43.9h0M151.8 46.6h0M155.1 47h0M220.7 54.4h0M224 54.9h0M227.3 55.1h0M110.5 45.1h0M146.6 49.3h0M149.8 49.6h0M222.1 57.8h0M98.7 47.1h0M101.8 47.5h0M111.7 48.7h0M115 49.1h0M131.3 50.9h0M137.9 51.6h0M141.3 52h0M144.6 52.5h0M151.2 53.1h0M154.5 53.5h0M160.9 54.4h0M164.1 54.6h0M167.5 55h0M229.8 62.1h0M93.4 50h0M99.9 50.5h0M106.5 51.3h0M116.4 52.4h0M119.5 52.8h0M139.3 55.2h0M142.5 55.4h0M145.8 55.8h0M152.4 56.6h0M175.3 59.3h0M227.8 65.2h0M231 65.6h0M97.9 53.7h0M101.2 54.1h0M114.3 55.6h0M137.1 58.3h0M147.2 59.4h0M160.2 60.8h0M163.5 61.3h0M166.7 61.5h0M176.6 62.6h0M219.2 67.5h0"/><path stroke="#0075ff" d="M125.1 33.6h0M210.3 43.3h0M213.6 43.7h0M216.9 44.1h0M220.1 44.5h0M123.1 36.8h0M218.1 47.6h0M127.6 40.5h0M130.9 40.9h0M222.6 51.4h0M125.6 43.7h0M132.2 44.3h0M135.6 44.7h0M141.9 45.4h0M145.2 45.8h0M148.5 46.2h0M158.5 47.3h0M113.7 45.6h0M120.4 46.3h0M130.2 47.5h0M133.4 47.8h0M136.8 48.3h0M156.4 50.3h0M163 51.2h0M166.3 51.6h0M218.8 57.4h0M108.5 48.3h0M134.7 51.2h0M219.9 61.1h0M226.6 61.7h0M113 52.1h0M122.9 53.3h0M132.8 54.3h0M135.9 54.7h0M165.6 58.1h0M168.8 58.6h0M172 58.8h0M178.5 59.7h0M221.2 64.5h0M224.5 64.8h0M104.4 54.4h0M107.8 54.8h0M120.8 56.4h0M134.1 57.8h0M140.5 58.5h0M156.9 60.5h0M186.5 63.7h0M212.7 66.7h0M215.8 67.1h0"/><path stroke="#008aff" d="M121.8 33.2h0M208.4 46.3h0M215 47.2h0M221.5 47.8h0M124.4 40.2h0M134.2 41.3h0M140.7 41.9h0M153.8 43.6h0M203.1 49.1h0M206.3 49.4h0M209.6 49.8h0M216.1 50.7h0M219.4 51h0M138.7 45.1h0M161.7 47.7h0M210.9 53.3h0M214.1 53.7h0M217.4 54.1h0M123.6 46.7h0M126.9 47h0M118.2 49.3h0M121.5 49.7h0M124.9 50.1h0M128.1 50.5h0M170.7 55.3h0M174 55.8h0M223.2 61.4h0M126.2 53.6h0M129.5 54.1h0M181.8 60h0M185.2 60.3h0M110.9 55.3h0M117.5 56h0M130.7 57.4h0M179.8 63h0M183.1 63.4h0M189.6 64.2h0"/><path stroke="#009eff" d="M128.5 34h0M207.1 42.9h0M126.3 37.1h0M129.6 37.4h0M142.8 38.8h0M149.2 39.7h0M205 46h0M211.7 46.8h0M150.6 43.1h0M212.9 50.3h0M168.2 48.5h0M207.5 52.9h0M169.5 51.9h0M172.9 52.2h0M177.4 56.1h0M216.6 60.7h0M217.9 64.1h0M127.5 57.2h0"/><path stroke="#00b2ff" d="M135 34.7h0M141.4 35.4h0M144.7 35.7h0M148 36.2h0M158 37.3h0M133 37.9h0M146 39.4h0M168.9 41.8h0M137.6 41.7h0M144.1 42.5h0M157.1 43.9h0M160.4 44.3h0M163.7 44.6h0M173.5 45.8h0M180.1 46.4h0M183.4 46.8h0M164.9 48.1h0M171.5 48.9h0M201 52.1h0M208.8 56.5h0M212.2 56.7h0M215.3 57.1h0M188.5 60.6h0M124 56.7h0M193.1 64.5h0M196.2 65h0M202.8 65.8h0M209.5 66.5h0"/><path stroke="#00c7ff" d="M131.7 34.2h0M151.3 36.6h0M161.1 37.8h0M164.5 38.1h0M136.2 38.2h0M152.6 40h0M159.1 40.8h0M162.4 41.2h0M165.7 41.6h0M147.4 42.9h0M167 45h0M176.8 46.1h0M186.6 47.2h0M199.7 48.7h0M181.4 49.9h0M204.4 52.6h0M176 52.6h0M180.6 56.5h0M187.2 57.3h0M210.1 59.9h0M213.3 60.3h0M191.6 61h0M195 61.4h0M211.4 63.3h0M214.7 63.8h0M206 66h0"/><path stroke="#00dbff" d="M138.3 35.1h0M154.5 37h0M139.5 38.5h0M155.8 40.4h0M172.3 42.2h0M175.6 42.6h0M178.8 43h0M201.7 45.6h0M170.2 45.4h0M189.9 47.6h0M193.2 48.1h0M178.1 49.6h0M184.6 50.3h0M188 50.7h0M191.3 51h0M197.7 51.9h0M179.3 53.1h0M202.4 55.7h0M205.5 56.1h0M184 56.8h0M201.6 62.2h0M208 63h0M199.6 65.4h0"/><path stroke="#00f0ff" d="M174.8 49.2h0M194.4 51.4h0M182.5 53.4h0M198.9 55.2h0M190.4 57.6h0M197 58.4h0M206.8 59.4h0M198.2 61.9h0M204.7 62.7h0"/><path stroke="#05fffa" d="M203.8 42.5h0M182.1 43.5h0M185.3 43.9h0M185.9 53.7h0M189.3 54.1h0M192.4 54.6h0M193.8 58h0M200.3 58.7h0"/><path stroke="#1affe5" d="M167.7 38.4h0M188.7 44.1h0M196.4 48.4h0M195.8 54.8h0M203.5 59.1h0"/><path stroke="#2effd1" d="M170.9 38.8h0M192 44.6h0"/><path stroke="#ffdb00" d="M180.9 39.9h0"/><path stroke="#57ffa8" d="M195.2 44.9h0"/><path stroke="#6bff94" d="M174.3 39.1h0M198.4 45.3h0"/><path stroke="#80ff80" d="M197.3 41.8h0"/><path stroke="#e5ff1a" d="M200.4 42.1h0"/><path stroke="#94ff6b" d="M187.4 40.7h0"/><path stroke="#d1ff2e" d="M184 40.3h0M190.7 41.1h0"/><path stroke="#a8ff57" d="M193.9 41.5h0"/><path stroke="#bdff42" d="M177.5 39.5h0"/><path stroke="#0000bd" d="M226.8 88.4h0"/><path stroke="#0000d1" d="M215.8 83.7h0M219 84.1h0M222.3 84.5h0M220.2 87.5h0"/><path stroke="#0000e6" d="M214.4 80.4h0M217.6 80.6h0M220.9 81h0M209.1 82.9h0M212.5 83.3h0M213.6 86.8h0M216.9 87.2h0M223.5 87.9h0M230.1 88.6h0M231.3 92.1h0"/><path stroke="#0000fa" d="M210 76.4h0M213.2 76.8h0M216.4 77.3h0M211.1 79.9h0M202.7 82.3h0M225.5 84.8h0M228.8 85.2h0M211.7 90h0M215 90.3h0"/><path stroke="#000fff" d="M220.6 71.1h0M212 73.3h0M207.8 79.6h0M224.4 81.4h0M182.9 80.1h0M186.2 80.5h0M189.5 80.8h0M192.8 81.1h0M197.2 85h0M210.4 86.5h0M208.5 89.6h0M218.2 90.8h0M221.4 91h0M224.8 91.5h0M228.1 91.8h0"/><path stroke="#0024ff" d="M223.7 71.3h0M230.4 72.1h0M221.8 74.5h0M225 74.9h0M228.3 75.1h0M206.7 76.1h0M219.8 77.5h0M223 77.9h0M227.6 81.8h0M163.2 77.8h0M196 81.5h0M199.4 82h0M205.9 82.6h0M190.8 84.3h0M194.1 84.7h0M200.6 85.3h0M203.8 85.6h0M207.2 86.1h0M195.3 88.1h0M205 89.1h0"/><path stroke="#0038ff" d="M227.1 71.7h0M175.9 69.2h0M208.6 73h0M215.2 73.8h0M218.5 74.1h0M180.4 73.1h0M229.6 78.6h0M158.6 73.9h0M162 74.3h0M165.3 74.6h0M175.2 75.7h0M178.4 76.1h0M181.6 76.5h0M184.9 77h0M188.2 77.4h0M191.5 77.8h0M198.1 78.4h0M230.9 82.2h0M101 70.8h0M166.6 78.2h0M176.3 79.2h0M179.7 79.7h0M184.2 83.5h0M187.4 83.8h0M198.5 88.4h0M201.8 88.9h0M209.6 93h0M229.3 95.3h0"/><path stroke="#004dff" d="M168 65.1h0M174.6 65.9h0M177.8 66.2h0M213.9 70.2h0M169.3 68.5h0M172.5 69h0M179.2 69.6h0M154.2 70.1h0M160.7 70.9h0M170.5 71.9h0M173.8 72.4h0M177.1 72.7h0M183.6 73.5h0M186.9 73.9h0M190.2 74.1h0M226.3 78.4h0M103 67.5h0M168.4 75h0M171.7 75.5h0M194.7 78h0M201.3 78.8h0M204.6 79.2h0M104.3 71.1h0M107.4 71.5h0M156.7 77h0M159.9 77.4h0M169.9 78.5h0M173.1 78.9h0M177.7 82.8h0M154 86.7h0M167 88.2h0M199.8 91.8h0M203.1 92.2h0M213 93.4h0M216.2 93.7h0M222.8 94.5h0M226 95h0"/><path stroke="#0061ff" d="M145 62.4h0M148.3 62.8h0M155 63.4h0M171.3 65.5h0M181 66.5h0M210.7 69.9h0M217.2 70.7h0M149.6 66.2h0M156.1 67h0M162.7 67.7h0M166 68.1h0M182.4 70h0M189 70.7h0M104.9 64.5h0M124.7 66.7h0M147.7 69.3h0M164 71.1h0M193.5 74.6h0M196.9 75h0M203.4 75.6h0M106.2 67.9h0M109.4 68.4h0M112.9 68.7h0M142.2 72.2h0M145.7 72.4h0M148.9 72.8h0M152.1 73.1h0M155.4 73.5h0M150.1 76.2h0M153.3 76.7h0M171.1 82h0M174.4 82.5h0M180.9 83.1h0M160.5 87.5h0M219.4 94.2h0"/><path stroke="#0075ff" d="M92.6 56.5h0M99.1 57.2h0M138.6 61.7h0M141.8 62h0M151.6 63.1h0M161.4 64.3h0M164.7 64.6h0M184.4 66.9h0M191 67.7h0M103.7 61.1h0M152.8 66.7h0M185.7 70.5h0M198.7 71.8h0M205.4 72.6h0M134.5 67.8h0M137.8 68.2h0M157.4 70.5h0M167.2 71.7h0M200 75.2h0M99.8 67.1h0M116.1 69.1h0M119.3 69.5h0M129.3 70.7h0M132.4 70.9h0M135.8 71.4h0M97.7 70.2h0M120.5 72.9h0M123.9 73.3h0M137 74.9h0M140.3 75.2h0M143.7 75.6h0M146.8 76h0M148.1 79.4h0M154.8 80.1h0M192 87.8h0M196.6 91.5h0M206.3 92.6h0"/><path stroke="#008aff" d="M102.5 57.6h0M125.4 60.2h0M158.1 63.9h0M187.8 67.2h0M194.3 68.1h0M204.2 69.2h0M207.3 69.5h0M116.8 62.6h0M123.3 63.4h0M133.2 64.3h0M139.8 65.2h0M143 65.6h0M146.4 65.9h0M159.4 67.4h0M192.3 71.1h0M195.5 71.4h0M202 72.3h0M108.2 64.9h0M114.9 65.7h0M121.3 66.3h0M127.9 67.2h0M131.3 67.6h0M141.1 68.7h0M144.4 68.9h0M150.9 69.7h0M122.6 69.8h0M125.8 70.3h0M139 71.7h0M94.4 70h0M127.3 73.6h0M133.7 74.5h0M128.5 77.1h0M131.7 77.6h0M144.8 78.9h0M151.4 79.7h0M158 80.6h0M164.5 81.2h0M172.4 85.5h0M179 86.2h0M188.8 87.3h0"/><path stroke="#009eff" d="M95.9 56.9h0M105.8 58h0M109 58.3h0M112.4 58.8h0M118.7 59.4h0M122.1 59.8h0M135.2 61.3h0M197.6 68.4h0M107 61.4h0M113.5 62.2h0M120.1 62.8h0M126.7 63.7h0M130 64h0M136.5 64.7h0M101.7 64.2h0M111.6 65.2h0M93.1 66.4h0M91.1 69.5h0M130.4 74.1h0M135.1 77.9h0M138.3 78.2h0M141.6 78.6h0M161.2 80.8h0M167.7 81.5h0M169 85.1h0"/><path stroke="#00b2ff" d="M115.6 59.1h0M128.7 60.6h0M131.9 61h0M200.8 68.8h0M100.4 60.7h0M110.3 61.9h0M88.5 62.7h0M118.2 65.9h0M89.9 66.1h0M125.1 76.8h0M126.5 80.2h0M175.6 85.9h0M163.7 87.8h0M193.3 91.1h0"/><path stroke="#00c7ff" d="M90.6 59.5h0M97.2 60.4h0M91.9 63h0M95.2 63.4h0M98.3 63.7h0M129.7 80.6h0M162.5 84.3h0M165.8 84.6h0M124.4 83.4h0M150.6 86.3h0M157.3 87h0M170.3 88.5h0"/><path stroke="#00dbff" d="M93.9 59.9h0M96.4 66.9h0M121.9 76.3h0M136.3 81.3h0M139.5 81.6h0M146.1 82.5h0M155.8 83.5h0M127.7 83.7h0M131.1 84.1h0M144 85.6h0"/><path stroke="#00f0ff" d="M133.1 80.9h0M142.8 82h0M149.3 82.7h0M152.6 83.2h0M134.3 84.4h0M173.5 88.8h0"/><path stroke="#05fffa" d="M118.6 76.1h0M159.1 84h0M185.5 87h0M137.4 84.8h0"/><path stroke="#1affe5" d="M119.9 79.6h0M123.2 79.9h0M140.9 85.2h0M147.5 86h0M186.6 90.5h0"/><path stroke="#2effd1" d="M182.2 86.5h0"/><path stroke="#ffc700" d="M183.4 90.1h0"/><path stroke="#fff000" d="M180.2 89.7h0"/><path stroke="#e5ff1a" d="M177 89.3h0"/><path stroke="#d1ff2e" d="M189.9 90.8h0"/><path stroke="#0000bd" d="M219.8 120.8h0M223.1 121.1h0"/><path stroke="#0000d1" d="M229.5 121.9h0"/><path stroke="#800000" d="M187.2 100.3h0M190.5 100.9h0"/><path stroke="#940000" d="M192.4 97.7h0"/><path stroke="#bd0000" d="M152.5 99.9h0"/><path stroke="#004dff" d="M183.1 106.6h0M136.6 107.9h0"/><path stroke="#e50000" d="M139.3 98.3h0M158.9 100.6h0M144 102.1h0"/><path stroke="#0061ff" d="M230.7 98.7h0M226.3 121.4h0"/><path stroke="#fa0000" d="M185.9 97h0M193.9 101.3h0M149.2 99.3h0M195 104.6h0M147.2 102.6h0"/><path stroke="#0075ff" d="M135.5 87.9h0M210.9 96.5h0M214.3 97h0M217.5 97.2h0M224.1 97.9h0M185.1 103.6h0M139.9 108.2h0"/><path stroke="#ff0f00" d="M182.6 96.6h0"/><path stroke="#008aff" d="M220.9 97.7h0M227.2 98.4h0M225.3 101.5h0M228.7 101.8h0M138.6 104.8h0M213.3 120.1h0"/><path stroke="#ff2400" d="M128.3 93.7h0"/><path stroke="#009eff" d="M125.7 86.8h0M130.8 100.6h0M186.5 107.1h0M210 119.7h0M216.5 120.4h0"/><path stroke="#ff3800" d="M142.6 98.6h0"/><path stroke="#00b2ff" d="M151.8 89.8h0M133.2 107.6h0M143.1 108.8h0M180.4 116.2h0M183.7 116.6h0M193.6 117.8h0M200.2 118.5h0M203.4 118.9h0"/><path stroke="#ff4c00" d="M184 100h0M150.5 102.8h0M206.3 109.2h0"/><path stroke="#00c7ff" d="M132.2 87.5h0M176 112.3h0M182.5 113.1h0M170.5 115.1h0M173.9 115.5h0M177.2 115.9h0M187.1 117h0M196.8 118.1h0"/><path stroke="#ff6100" d="M163.5 104.4h0M202.8 108.9h0"/><path stroke="#00dbff" d="M128.9 87.2h0M179.2 112.8h0M225 117.9h0M134.5 111.1h0M141.1 111.7h0M150.9 113h0"/><path stroke="#ff7500" d="M166.3 94.6h0M147.9 96h0"/><path stroke="#00f0ff" d="M158.5 90.5h0M191.3 94.2h0M133.5 91.1h0M136.7 91.3h0M143.4 92.2h0M156.4 93.5h0M180 106.2h0M189.7 107.4h0M181.2 109.8h0M184.4 110.2h0M187.7 110.4h0M146.4 109.1h0M166.1 111.4h0M172.7 112.1h0M185.6 113.7h0M192.3 114.4h0M195.5 114.7h0M144.3 112.2h0M147.6 112.6h0M157.5 113.7h0M190.4 117.3h0M206.7 119.3h0"/><path stroke="#ff8a00" d="M188 93.8h0M172.9 95.5h0M191.8 104.2h0M140.6 101.7h0M156.9 103.6h0"/><path stroke="#05fffa" d="M161.8 91h0M132.1 104h0M135.2 104.5h0M178 109.3h0M169.3 111.8h0M189 114h0M221.9 117.6h0M131.3 110.6h0M137.9 111.4h0M160.7 114h0M164 114.3h0M167.4 114.8h0"/><path stroke="#ff9e00" d="M180.7 99.7h0M132.8 97.6h0M162.3 100.9h0M204.2 112.4h0M210.7 113.2h0M217.3 113.8h0"/><path stroke="#1affe5" d="M171.5 92h0M164.4 97.9h0M165.6 101.2h0M161.6 107.6h0M168 108.2h0M171.3 108.6h0M174.7 108.9h0M191.1 110.8h0M156.2 110.2h0M162.9 110.9h0M218.6 117.3h0M154.2 113.3h0"/><path stroke="#ffb300" d="M179.4 96.3h0M174.2 98.9h0M196.4 108.2h0"/><path stroke="#2effd1" d="M138.7 88.3h0M159.7 94.1h0M178.7 102.7h0M130.1 107.3h0M153 109.8h0M159.5 110.6h0M215.2 116.9h0M228.4 118.4h0"/><path stroke="#ffc700" d="M169.6 95.1h0M167.6 98.3h0M136.1 97.8h0M145.8 99h0M153.7 103.3h0M160.3 103.9h0M148.4 105.9h0M214 113.4h0"/><path stroke="#42ffbd" d="M155.1 90.2h0M130.2 90.6h0M140.1 91.7h0M125 93.3h0M144.6 95.5h0M126.3 96.8h0M134 101h0M141.8 105.2h0M145.1 105.7h0M164.7 107.8h0M198.9 115h0"/><path stroke="#ffdb00" d="M149.9 92.8h0M189.2 97.4h0M134.8 94.6h0M137.4 101.5h0"/><path stroke="#57ffa8" d="M165.1 91.3h0M174.9 92.5h0M181.4 93.2h0M127 90.3h0M176.2 95.9h0M161.1 97.4h0M125.5 103.4h0M128.8 103.7h0M149.7 109.5h0M208.7 116.2h0"/><path stroke="#fff000" d="M184.7 93.5h0M220.6 114.1h0"/><path stroke="#6bff94" d="M194.5 94.7h0M153.3 93.2h0M151.2 96.3h0M168.8 101.7h0M176.6 105.9h0M194.3 111.2h0"/><path stroke="#faff05" d="M163 94.4h0M131.5 94h0M170.8 98.6h0M177.3 99.3h0M175.5 102.5h0M166.9 104.7h0M200.9 111.9h0"/><path stroke="#80ff80" d="M142 88.6h0M148.7 89.5h0M141.4 95.2h0M154.5 96.7h0M182 103.2h0M173.3 105.6h0M158.3 107.1h0"/><path stroke="#e5ff1a" d="M168.2 91.7h0M138.1 94.8h0M129.5 97.1h0M170.2 105.1h0M193.1 107.8h0M199.7 108.5h0M155 106.8h0M197.6 111.6h0M207.3 112.6h0"/><path stroke="#94ff6b" d="M172.2 102.1h0"/><path stroke="#d1ff2e" d="M209.4 109.6h0M211.9 116.6h0"/><path stroke="#a8ff57" d="M178.1 92.7h0M146.5 92.5h0M157.7 97.1h0M188.5 103.8h0M127.5 100.3h0M202.2 115.5h0"/><path stroke="#bdff42" d="M145.3 89.1h0M155.7 100.2h0M151.7 106.4h0M205.4 115.8h0"/><path stroke="#0000a8" d="M227.7 125h0"/><path stroke="#0000d1" d="M216.8 147h0"/><path stroke="#0000fa" d="M224.4 124.6h0M213.5 146.7h0"/><path stroke="#000fff" d="M220.1 147.3h0"/><path stroke="#0038ff" d="M167.9 124.7h0M174.4 125.5h0M177.6 126h0M203.7 145.5h0M210.3 146.2h0"/><path stroke="#004dff" d="M191.6 120.9h0M221 124.3h0M173.2 122.2h0M179.6 122.9h0M182.9 123.2h0M202.6 125.5h0M171.2 125.2h0M181 126.3h0M184.3 126.6h0M182.3 129.7h0M206.9 145.8h0"/><path stroke="#0061ff" d="M194.8 121.2h0M198 121.6h0M201.5 122h0M176.3 122.4h0M186.2 123.6h0M192.8 124.4h0M196 124.6h0M199.3 125h0M136.4 124.6h0M175.7 129h0M178.9 129.3h0M185.5 130.1h0M188.8 130.5h0"/><path stroke="#0075ff" d="M178.5 119.4h0M184.9 120h0M217.8 123.9h0M166.6 121.4h0M189.5 123.9h0M205.9 125.9h0M209.3 126.2h0M225.5 128h0M228.9 128.4h0M187.5 127h0M200.7 128.6h0M192.1 130.8h0M190.1 133.9h0M209 142.7h0M200.4 145h0"/><path stroke="#ff0f00" d="M133.5 134.1h0"/><path stroke="#008aff" d="M181.8 119.7h0M188.3 120.5h0M204.7 122.4h0M207.9 122.8h0M214.5 123.4h0M159.9 120.7h0M163.3 120.9h0M169.9 121.8h0M190.9 127.4h0M194.2 127.8h0M197.3 128.3h0M204 129h0M207.2 129.4h0M217.1 130.4h0M172.4 128.7h0M195.3 131.3h0M198.6 131.7h0M205.1 132.3h0M215.1 133.5h0M134.3 127.7h0M180.3 132.8h0M193.4 134.4h0M196.6 134.6h0M206.5 135.8h0M212.9 136.7h0M125.8 130.1h0M191.3 137.5h0M218.9 144h0"/><path stroke="#ff2400" d="M136.8 134.5h0"/><path stroke="#009eff" d="M211.2 123.1h0M153.5 119.8h0M156.8 120.2h0M212.6 126.5h0M215.7 126.9h0M219.1 127.3h0M210.5 129.6h0M213.7 130h0M220.4 130.8h0M201.8 132.1h0M208.4 132.7h0M211.8 133.2h0M218.3 133.9h0M221.6 134.2h0M224.8 134.6h0M183.5 133.2h0M186.7 133.6h0M199.9 135.1h0M203.2 135.5h0M209.7 136.2h0M222.9 137.7h0M181.4 136.3h0M194.5 137.8h0M198 138.2h0M201.1 138.6h0M204.5 139h0M207.7 139.4h0M210.9 139.6h0M189.3 140.6h0M199.2 141.6h0M202.4 141.9h0M205.8 142.3h0M212.2 143.2h0M215.6 143.6h0M222.1 144.2h0M174.3 142.2h0"/><path stroke="#ff3800" d="M127 133.4h0"/><path stroke="#00b2ff" d="M171.9 118.7h0M175.1 119h0M130.4 117.2h0M222.3 127.8h0M164.5 124.4h0M223.6 131.1h0M226.9 131.6h0M129.8 123.8h0M173.6 132.2h0M216.3 137h0M219.6 137.3h0M129.1 130.4h0M214.3 140h0M217.6 140.4h0M220.8 140.8h0M186.1 140.1h0M195.9 141.3h0"/><path stroke="#00c7ff" d="M145.6 115.7h0M152.2 116.5h0M155.4 116.7h0M158.8 117.2h0M161.2 124.1h0M176.9 132.6h0M226.1 138.1h0M122.5 129.7h0M174.9 135.5h0M178.2 136h0M184.8 136.7h0M188 137.1h0M224.1 141.1h0M172.9 138.6h0M176.3 139.1h0M182.8 139.9h0M192.5 141h0M170.8 141.7h0M177.4 142.5h0M183.9 143.3h0M193.9 144.4h0M197.1 144.8h0"/><path stroke="#ff6100" d="M108.5 134.7h0M111.8 135h0M138 138.1h0"/><path stroke="#00dbff" d="M149 116h0M162 117.4h0M168.6 118.2h0M171.6 135.2h0M169.7 138.3h0M179.4 139.4h0M187.3 143.7h0M190.5 144h0"/><path stroke="#ff7500" d="M130.4 133.9h0M140.1 134.9h0M102.1 134h0M105.3 134.2h0M131.5 137.2h0"/><path stroke="#00f0ff" d="M165.4 117.9h0M147 119.1h0M133.1 124.2h0M131 127.2h0M119.1 129.2h0M180.8 142.9h0"/><path stroke="#ff8a00" d="M142.9 125.3h0"/><path stroke="#05fffa" d="M132.5 114.1h0M135.9 114.4h0M142.3 115.3h0M140.3 118.4h0M143.5 118.7h0M131.8 120.7h0M157.9 123.6h0M169 128.3h0M116 128.9h0"/><path stroke="#ff9e00" d="M167 131.3h0"/><path stroke="#1affe5" d="M139.2 114.9h0M150.2 119.5h0M135.1 121.2h0M154.7 123.3h0M170.4 131.8h0"/><path stroke="#ffb300" d="M163.8 130.9h0M134.9 137.7h0M141.4 138.4h0"/><path stroke="#2effd1" d="M133.9 117.6h0M137 118.1h0M132.4 130.8h0"/><path stroke="#ffc700" d="M100.9 130.4h0M143.4 135.3h0"/><path stroke="#42ffbd" d="M159.9 137.3h0M164.4 141h0"/><path stroke="#ffdb00" d="M149.5 126h0M152 132.9h0M115.2 135.5h0"/><path stroke="#57ffa8" d="M135.5 131.1h0M157.7 140.3h0"/><path stroke="#fff000" d="M147.5 129.1h0M153.9 129.9h0M153.2 136.3h0M118.5 135.7h0M128.2 136.9h0"/><path stroke="#6bff94" d="M138.3 121.4h0M145 122.2h0M151.5 123h0M152.7 126.4h0M165.9 127.8h0M137.7 128h0M157.4 130.3h0M117.2 132.4h0M124.9 136.5h0M151.3 139.5h0"/><path stroke="#faff05" d="M156 126.8h0M141 128.3h0M144.2 128.8h0M123.7 133.1h0"/><path stroke="#80ff80" d="M165.1 134.4h0M168.3 134.8h0M156.6 136.7h0M163 137.6h0M166.4 138h0M167.6 141.3h0"/><path stroke="#e5ff1a" d="M150.6 129.6h0M160.5 130.7h0M121.7 136.2h0M144.6 138.8h0"/><path stroke="#94ff6b" d="M141.6 121.9h0M139.6 124.8h0M162.5 127.5h0M138.9 131.5h0M158.5 133.8h0M161 140.7h0"/><path stroke="#d1ff2e" d="M148.3 122.5h0M145.4 132.1h0M104.1 130.9h0M146.7 135.6h0M150 136.1h0"/><path stroke="#a8ff57" d="M155.2 133.4h0M161.7 134h0M110.6 131.6h0M113.9 131.9h0M120.4 132.7h0"/><path stroke="#bdff42" d="M146.2 125.6h0M159.4 127.1h0M142.1 131.9h0M148.7 132.6h0M107.2 131.2h0M147.9 139.1h0M154.6 139.9h0"/><path stroke="#000080" d="M196.3 151.4h0M101.9 150.4h0M105.1 150.8h0M84.7 155.1h0M88 155.5h0M137.1 161.2h0M140.5 161.5h0M143.7 162h0M102.3 160.5h0M105.6 160.9h0M108.9 161.4h0M141.7 164.9h0M148.2 165.7h0M151.6 166.2h0"/><path stroke="#000094" d="M199.6 151.6h0M204.3 155.5h0M139.9 151.4h0M143.1 151.9h0M111.6 151.6h0M128 153.5h0M96.5 153.1h0M129.4 157h0M132.6 157.2h0M135.8 157.7h0M139.2 158h0M91.2 155.9h0M94.6 156.2h0M97.9 156.7h0M107.6 157.8h0M110.9 158.3h0M133.8 160.9h0M99.1 160.2h0M112.1 161.7h0M115.5 162h0"/><path stroke="#0000a8" d="M201.6 148.5h0M203 152.1h0M206.2 152.5h0M212.8 153.1h0M136.6 151h0M146.5 152.2h0M212 159.7h0M108.3 151.3h0M121.6 152.8h0M124.9 153h0M134.7 154.3h0M138 154.6h0M141.1 155h0M144.4 155.4h0M99.8 153.5h0M103.1 154.1h0M106.4 154.2h0M109.7 154.7h0M112.9 155.2h0M116.2 155.4h0M119.5 155.9h0M122.8 156.1h0M126 156.6h0M145.7 158.9h0M81.4 154.8h0M114.2 158.5h0M117.5 159h0M130.6 160.4h0M147 162.2h0M79.4 158h0M89.1 158.9h0M95.7 159.7h0M138.4 164.7h0M144.9 165.3h0M154.8 166.5h0"/><path stroke="#0000bd" d="M198.4 148.1h0M208.2 149.3h0M211.5 149.6h0M179.9 149.4h0M186.6 150.2h0M189.8 150.6h0M193 150.9h0M209.6 152.8h0M219.3 154h0M154.9 149.9h0M200.9 155.1h0M210.9 156.2h0M214.1 156.6h0M217.3 156.9h0M126.7 150.1h0M130 150.5h0M149.7 152.6h0M156.4 153.4h0M215.4 160h0M114.9 151.9h0M154.2 156.4h0M209.9 162.9h0M213.3 163.1h0M93.2 152.8h0M149 159.1h0M214.6 166.7h0M101.1 157h0M104.3 157.5h0M120.7 159.2h0M124 159.7h0M127.4 160h0M150.3 162.7h0M153.5 162.9h0M82.6 158.3h0M86 158.7h0M92.5 159.4h0M118.8 162.4h0M131.9 163.9h0M135.1 164.3h0"/><path stroke="#0000d1" d="M195.1 147.8h0M204.9 148.9h0M214.9 150.1h0M218.1 150.5h0M221.3 150.8h0M176.7 149.1h0M183.2 149.8h0M216.1 153.5h0M184.6 153.2h0M191 154h0M194.4 154.5h0M197.6 154.8h0M207.6 156h0M133.3 150.8h0M152.9 153.1h0M162.9 154.2h0M198.8 158.2h0M208.8 159.3h0M218.7 160.4h0M131.3 153.9h0M147.8 155.8h0M150.9 156.1h0M157.5 156.9h0M164.2 157.6h0M216.6 163.6h0M142.5 158.4h0M152.3 159.6h0M155.5 159.9h0M215.8 170.1h0M122.1 162.7h0M125.4 163.2h0M128.6 163.5h0M158.1 166.9h0"/><path stroke="#0000e6" d="M173.4 148.7h0M145.1 148.7h0M158.4 150.3h0M159.5 153.7h0M166.2 154.5h0M169.3 154.9h0M195.6 157.9h0M202.3 158.7h0M205.4 159h0M118.2 152.4h0M160.9 157.3h0M167.4 157.9h0M170.6 158.4h0M173.9 158.7h0M206.7 162.5h0M158.9 160.3h0M208 166h0M211.3 166.4h0M209.3 169.3h0M212.6 169.7h0M161.4 167.3h0M213.9 173.2h0"/><path stroke="#0000fa" d="M148.5 149.1h0M181.2 152.9h0M187.7 153.7h0M100.6 147.1h0M103.7 147.4h0M203.4 162.1h0M165.4 161h0M168.6 161.4h0M175.3 162.2h0M156.9 163.5h0M160.1 163.8h0M163.3 164.1h0M207.3 172.4h0M210.5 172.9h0"/><path stroke="#000fff" d="M170.1 148.3h0M151.8 149.4h0M161.5 150.6h0M164.8 151h0M178 152.5h0M182.5 156.4h0M177.2 159h0M200.1 161.7h0M162.1 160.6h0M171.9 161.9h0M178.4 162.6h0M204.8 165.5h0M166.6 164.6h0M169.9 165h0M173.2 165.2h0M176.5 165.6h0M189.6 167h0M206 168.9h0M164.6 167.7h0M167.9 168h0M174.4 168.8h0M177.7 169h0M181 169.5h0M190.8 170.6h0M197.4 171.4h0M200.7 171.7h0M203.9 172.1h0"/><path stroke="#0024ff" d="M188.5 147.1h0M191.9 147.5h0M166.8 147.8h0M142 148.4h0M168.1 151.3h0M171.3 151.8h0M174.7 152.2h0M172.6 155.2h0M175.9 155.6h0M185.9 156.7h0M189 157.2h0M192.5 157.6h0M180.5 159.4h0M183.8 159.8h0M193.7 160.9h0M197 161.4h0M181.8 162.9h0M185.1 163.4h0M188.2 163.6h0M201.5 165.1h0M179.8 166h0M183.1 166.4h0M193 167.5h0M199.5 168.2h0M171.1 168.3h0M184.4 169.8h0M187.6 170.2h0"/><path stroke="#0038ff" d="M185.3 146.8h0M124.2 143h0M107.1 147.8h0M113.7 148.5h0M117 148.9h0M123.5 149.6h0M179.3 156h0M187.1 160.2h0M190.3 160.5h0M198.3 164.8h0M196.2 167.9h0M202.8 168.6h0M194.2 170.9h0"/><path stroke="#004dff" d="M163.6 147.6h0M125.4 146.5h0M135.4 147.6h0M138.6 148.1h0M120.3 149.2h0M191.7 164h0M194.8 164.5h0M186.4 166.8h0"/><path stroke="#0075ff" d="M175.5 145.7h0M110.4 148.1h0"/><path stroke="#008aff" d="M128.7 146.9h0M132.1 147.2h0"/><path stroke="#009eff" d="M178.8 146h0M137.5 144.6h0M157.1 146.8h0M160.3 147.1h0"/><path stroke="#ff3800" d="M139.3 141.5h0"/><path stroke="#00b2ff" d="M182.1 146.4h0M120.9 142.7h0M140.7 145h0M147.2 145.6h0M119 145.7h0"/><path stroke="#00c7ff" d="M123 139.7h0M150.5 146h0M122.3 146.1h0"/><path stroke="#00dbff" d="M130.8 143.9h0M153.8 146.3h0M109.1 144.7h0M112.4 145.1h0M115.6 145.4h0"/><path stroke="#00f0ff" d="M119.7 139.2h0M172.1 145.3h0M127.4 143.5h0M102.5 143.9h0"/><path stroke="#ff8a00" d="M142.7 141.8h0"/><path stroke="#05fffa" d="M168.8 144.9h0M143.9 145.3h0"/><path stroke="#ffb300" d="M103.2 137.3h0"/><path stroke="#ffc700" d="M109.9 138.2h0"/><path stroke="#42ffbd" d="M116.4 139h0M159 143.7h0M162.3 144h0M105.8 144.3h0"/><path stroke="#ffdb00" d="M146 142.3h0"/><path stroke="#57ffa8" d="M126.2 140.1h0M165.6 144.5h0M134.1 144.2h0"/><path stroke="#fff000" d="M106.6 137.7h0"/><path stroke="#6bff94" d="M117.8 142.4h0"/><path stroke="#80ff80" d="M129.5 140.4h0M155.8 143.4h0"/><path stroke="#e5ff1a" d="M113.2 138.5h0M132.9 140.7h0M152.6 142.9h0M107.8 141.2h0M114.4 142h0"/><path stroke="#94ff6b" d="M136.1 141.2h0"/><path stroke="#d1ff2e" d="M99.9 137h0M111.1 141.6h0"/><path stroke="#a8ff57" d="M104.5 140.9h0"/><path stroke="#bdff42" d="M149.3 142.5h0M101.3 140.5h0"/><path stroke="#000080" d="M106.8 164.3h0M110.1 164.7h0M113.5 165.1h0M116.8 165.4h0"/><path stroke="#000094" d="M103.6 164h0M120 165.9h0M111.4 168.1h0M114.6 168.6h0M118 169h0"/><path stroke="#0000a8" d="M159.4 170.3h0M163.8 174.2h0"/><path stroke="#0000bd" d="M97 163.3h0M100.3 163.5h0M123.3 166.2h0M142.9 168.5h0M149.4 169.3h0M152.7 169.5h0M156.1 170h0M162.6 170.8h0M166 171.1h0M101.6 167h0M121.3 169.3h0M124.5 169.8h0M167.2 174.5h0M173.8 175.3h0M116 172h0M165.2 177.7h0M168.4 178h0M171.6 178.4h0M175 178.7h0M178.3 179.1h0M184.8 179.9h0M163.2 180.7h0M169.7 181.5h0M173 181.8h0M176.2 182.3h0M167.7 184.5h0M174.3 185.2h0"/><path stroke="#0000d1" d="M77.4 161.1h0M80.7 161.4h0M93.8 162.8h0M126.6 166.6h0M129.9 167h0M133.1 167.3h0M139.7 168.1h0M146.2 168.8h0M188.8 173.7h0M104.9 167.5h0M108.2 167.8h0M154.1 173.1h0M157.3 173.5h0M160.6 173.9h0M170.4 174.8h0M177 175.7h0M180.2 176.1h0M76.7 167.6h0M109.4 171.3h0M112.7 171.7h0M119.3 172.5h0M161.8 177.2h0M181.5 179.4h0M179.6 182.5h0M170.9 184.9h0M139.5 184.7h0M140.7 188.1h0M147.4 188.9h0M206.3 195.6h0"/><path stroke="#0000e6" d="M83.9 161.8h0M87.2 162h0M90.4 162.4h0M136.4 167.7h0M172.4 171.7h0M208.6 175.9h0M88.5 165.5h0M91.7 166h0M98.3 166.7h0M137.7 171.3h0M140.9 171.5h0M147.4 172.3h0M183.6 176.5h0M186.8 176.7h0M190.1 177.2h0M193.4 177.6h0M196.7 177.9h0M203.2 178.6h0M102.9 170.6h0M122.6 172.8h0M155.4 176.4h0M158.7 177h0M188.1 180.2h0M194.7 181.1h0M201.1 181.7h0M77.8 171.1h0M81.2 171.5h0M84.4 171.9h0M117.3 175.5h0M153.3 179.6h0M156.6 179.9h0M166.4 181.1h0M85.8 175.3h0M161.1 183.9h0M164.5 184.2h0M162.4 187.2h0M208.4 192.6h0M75.1 180.7h0M143.9 188.6h0M76.4 184.1h0M155 193h0"/><path stroke="#0000fa" d="M175.8 172.3h0M179 172.6h0M182.3 173h0M185.6 173.3h0M198.7 174.8h0M205.3 175.5h0M78.6 164.4h0M81.9 164.9h0M95.1 166.4h0M127.9 170h0M131.2 170.4h0M134.3 170.8h0M144.3 171.9h0M150.9 172.6h0M200 178.3h0M206.5 179.1h0M209.9 179.5h0M79.8 167.9h0M99.6 170.3h0M125.8 173.2h0M145.5 175.3h0M148.7 175.7h0M197.9 181.3h0M204.5 182.1h0M207.8 182.4h0M211 182.9h0M87.7 172.1h0M123.8 176.3h0M127.2 176.7h0M130.3 177h0M159.9 180.3h0M182.7 183h0M186 183.3h0M192.7 184.1h0M209.1 186.1h0M121.7 179.4h0M125.1 179.7h0M128.4 180.1h0M131.5 180.4h0M135 180.8h0M157.9 183.4h0M177.6 185.7h0M180.8 186.1h0M184.1 186.4h0M210.3 189.5h0M129.6 183.5h0M132.9 184h0M142.8 185h0M155.8 186.5h0M159.1 186.9h0M165.7 187.6h0M169 188h0M78.4 181.1h0M137.4 187.8h0M150.5 189.2h0M153.9 189.7h0M157 190.1h0M83 185h0M92.8 185.9h0M148.5 192.3h0M158.4 193.5h0M161.6 193.8h0M204.3 198.7h0"/><path stroke="#000fff" d="M169.2 171.5h0M192.1 174h0M195.5 174.5h0M211.7 176.4h0M83.1 168.3h0M86.4 168.7h0M93 169.3h0M106.1 170.9h0M129.1 173.6h0M135.7 174.2h0M152.1 176.1h0M191.4 180.6h0M110.7 174.8h0M114 175.2h0M120.5 175.9h0M143.6 178.5h0M146.8 178.9h0M150 179.3h0M75.9 174.1h0M82.4 174.9h0M138.3 181.2h0M144.8 182h0M148 182.3h0M151.3 182.8h0M154.6 183.2h0M207.1 189.1h0M136.1 184.3h0M146.1 185.5h0M149.3 185.8h0M152.6 186.3h0M182 189.5h0M185.4 189.8h0M201.8 191.7h0M205.1 192.2h0M81.6 181.4h0M84.9 181.7h0M163.7 190.7h0M186.7 193.4h0M203.1 195.2h0M79.6 184.6h0M86.2 185.2h0M89.5 185.6h0M151.8 192.8h0M165 194.1h0M197.7 197.9h0M201.1 198.3h0"/><path stroke="#0024ff" d="M202 175.2h0M85.2 165.1h0M89.7 169.1h0M132.4 174h0M138.8 174.7h0M142.1 174.9h0M107.5 174.4h0M133.6 177.5h0M136.9 177.8h0M189.4 183.8h0M79.1 174.4h0M141.5 181.5h0M187.4 186.9h0M77.1 177.6h0M80.5 177.9h0M83.6 178.2h0M86.9 178.7h0M126.2 183.1h0M172.3 188.5h0M188.7 190.2h0M191.9 190.6h0M195.2 191h0M88.2 182.3h0M134.1 187.4h0M160.4 190.4h0M167 191.2h0M189.9 193.7h0M193.2 194.1h0M196.5 194.5h0M199.7 194.8h0M96.2 186.3h0M145.2 191.9h0"/><path stroke="#0038ff" d="M104.1 174h0M195.9 184.5h0M199.2 184.8h0M202.4 185.2h0M205.8 185.7h0M112 178.2h0M118.4 179h0M190.7 187.1h0M193.9 187.6h0M197.1 188h0M200.5 188.2h0M175.5 188.8h0M178.7 189.1h0M198.6 191.4h0M183.4 192.9h0M99.4 186.7h0M168.2 194.5h0"/><path stroke="#004dff" d="M96.4 169.7h0M140.2 178h0M89 175.7h0M115.2 178.5h0M203.8 188.6h0M123.1 182.9h0M91.5 182.6h0M130.8 187.1h0M173.6 192h0M142.1 191.6h0M194.4 197.7h0"/><path stroke="#0061ff" d="M91 172.5h0M100.8 173.7h0M90.3 179.1h0M119.8 182.4h0M170.2 191.4h0M102.6 187h0M138.6 191.1h0M171.4 195h0"/><path stroke="#0075ff" d="M97.5 173.3h0M105.3 177.5h0M108.7 177.7h0M176.9 192.3h0M180 192.6h0M105.8 187.5h0M132.1 190.4h0M184.5 196.4h0M187.8 196.8h0M191.2 197.2h0"/><path stroke="#008aff" d="M94.7 183h0M98.2 183.3h0M101.4 183.7h0M121.1 185.8h0M124.3 186.4h0M127.6 186.6h0M125.7 189.8h0M135.4 190.9h0M174.8 195.4h0M178 195.6h0"/><path stroke="#009eff" d="M94.3 173h0M92.3 175.9h0M95.6 176.3h0M100.2 180.2h0M103.3 180.5h0M116.4 182h0M107.9 184.3h0M117.8 185.6h0M109.3 187.8h0M128.9 190.2h0"/><path stroke="#00b2ff" d="M98.8 176.6h0M102.2 177.2h0M93.5 179.4h0M96.8 179.9h0M106.7 180.9h0M109.9 181.2h0M113.1 181.8h0M111.1 184.7h0M114.4 185.2h0M112.4 188.2h0M115.7 188.7h0M118.9 189h0M181.3 196.1h0"/><path stroke="#00c7ff" d="M104.7 184h0M122.2 189.3h0"/><path stroke="#0000bd" d="M74.2 203.8h0"/><path stroke="#0000d1" d="M126 199.7h0M163.3 207.4h0M77.5 204.1h0M75.4 207.3h0M78.6 207.7h0M81.9 208.1h0M85.2 208.4h0M88.5 208.8h0M91.8 209.1h0"/><path stroke="#0000e6" d="M74.4 187.1h0M205.6 202.3h0M203.5 205.3h0M132.6 200.4h0M117.6 202h0M166.8 207.8h0M72.9 200.4h0M76.2 200.8h0M80.7 204.6h0M84 204.9h0M72.2 206.9h0"/><path stroke="#0000fa" d="M84.2 188.4h0M162.8 197.4h0M166.2 197.7h0M202.3 201.8h0M114.9 195.2h0M118.3 195.6h0M164.3 200.8h0M197 204.5h0M113 198.3h0M119.4 199.1h0M122.8 199.4h0M136 201h0M172 204.9h0M175.3 205.4h0M74.8 197.3h0M78.1 197.6h0M107.6 200.9h0M111 201.3h0M114.3 201.7h0M173.3 208.5h0M99.1 203.3h0M108.9 204.5h0M87.3 205.4h0M90.5 205.7h0"/><path stroke="#000fff" d="M80.9 187.9h0M87.5 188.7h0M90.7 189.1h0M199 201.4h0M108.5 194.5h0M167.4 201.2h0M200.2 204.9h0M109.7 197.9h0M116.3 198.6h0M129.4 200.1h0M139.2 201.3h0M162.2 203.9h0M165.4 204.3h0M168.7 204.5h0M178.6 205.7h0M181.8 206.1h0M201.5 208.4h0M81.4 198h0M97.8 199.9h0M160.2 206.9h0M170 208.1h0M176.5 208.8h0M179.8 209.2h0M79.5 201.1h0M89.2 202.3h0M92.5 202.5h0M95.9 203h0M102.4 203.6h0M93.9 206.1h0M97.1 206.5h0"/><path stroke="#0024ff" d="M77.7 187.7h0M94 189.5h0M97.3 189.9h0M100.7 190.2h0M103.8 190.5h0M107.3 191h0M75.7 190.8h0M82.2 191.5h0M85.6 191.8h0M88.8 192.1h0M105.1 194.1h0M111.6 194.8h0M121.6 195.9h0M124.8 196.4h0M170.8 201.5h0M174.1 202h0M73.6 193.8h0M76.9 194.1h0M106.3 197.4h0M185.1 206.4h0M84.7 198.3h0M88 198.7h0M91.3 199.2h0M104.5 200.6h0M120.8 202.5h0M82.8 201.4h0M86 201.9h0M105.6 204.2h0"/><path stroke="#0038ff" d="M110.4 191.4h0M113.8 191.8h0M159.7 196.8h0M169.5 198.1h0M78.9 191.1h0M95.3 192.9h0M98.6 193.2h0M101.8 193.7h0M128.1 196.7h0M160.8 200.3h0M177.2 202.3h0M180.5 202.6h0M183.8 203.1h0M187.2 203.5h0M190.4 203.8h0M193.7 204.2h0M80.2 194.6h0M83.4 194.8h0M86.7 195.3h0M90 195.6h0M93.3 195.9h0M96.5 196.4h0M99.8 196.9h0M103.1 197.1h0M142.5 201.6h0M191.6 207.3h0M195 207.5h0M198.2 207.9h0M94.5 199.4h0M101.1 200.3h0M124.1 202.9h0M157 206.6h0M100.4 206.8h0"/><path stroke="#004dff" d="M117.1 192h0M175.9 198.8h0M195.7 201.1h0M92.1 192.6h0M131.3 197.1h0M188.4 206.9h0M133.8 204h0M137.2 204.4h0M147 205.4h0"/><path stroke="#0061ff" d="M179.2 199.2h0M192.4 200.7h0M134.6 197.4h0M145.7 201.9h0M158.9 203.5h0M127.4 203.2h0M143.7 205.1h0M150.3 205.9h0M153.5 206.3h0M112.2 204.9h0M103.6 207.2h0"/><path stroke="#0075ff" d="M123.6 192.7h0M146.5 195.4h0M172.7 198.4h0M185.8 199.9h0M138 197.8h0M130.6 203.7h0"/><path stroke="#008aff" d="M120.3 192.4h0M133.4 193.9h0M140 194.7h0M143.3 195.1h0M149.9 195.8h0M153.2 196.3h0M156.3 196.6h0M182.7 199.5h0M189.2 200.2h0M141.2 198.1h0M144.6 198.5h0M149.1 202.3h0M152.4 202.8h0M140.5 204.7h0"/><path stroke="#009eff" d="M130.1 193.7h0M136.6 194.3h0M147.7 199h0M151.1 199.3h0M154.4 199.6h0M157.6 200.1h0M115.5 205.3h0"/><path stroke="#00b2ff" d="M126.8 193.3h0M151.7 209.2h0"/><path stroke="#00c7ff" d="M155.6 203.2h0"/><path stroke="#00f0ff" d="M107 207.6h0"/><path stroke="#1affe5" d="M148.2 209h0"/><path stroke="#2effd1" d="M118.9 205.6h0"/><path stroke="#42ffbd" d="M125.4 206.4h0M110.2 207.9h0"/><path stroke="#57ffa8" d="M122 206h0M141.8 208.3h0"/><path stroke="#6bff94" d="M135.1 207.5h0M145 208.6h0M113.5 208.2h0"/><path stroke="#94ff6b" d="M138.5 207.9h0"/><path stroke="#d1ff2e" d="M116.8 208.7h0"/><path stroke="#bdff42" d="M128.6 206.6h0M131.9 207h0M120 209.1h0"/></g><g fill="none" stroke-linecap="round" stroke-width="6.6"><path stroke="#0000a8" d="M76.6 156.2h0"/><path stroke="#0000bd" d="M232.8 23.9h0M221.9 154.3h0M220.6 158.7h0M219.2 163h0"/><path stroke="#0000d1" d="M232.8 19.3h0M232.8 28.4h0M223.3 150h0M217.9 167.4h0M216.5 171.7h0M208.4 197.8h0"/><path stroke="#0000e6" d="M231.4 123.9h0M211.1 189.1h0M209.7 193.5h0M207 202.2h0M167.2 210.9h0M162.6 210.9h0M88.4 210.9h0M83.8 210.9h0M79.2 210.9h0M70.5 206.3h0M71 201.8h0M73.2 183.5h0M74.9 169.9h0M76 160.7h0"/><path stroke="#0000fa" d="M232.8 10.2h0M232.8 14.8h0M232.8 92.2h0M215.2 176.1h0M213.8 180.4h0M212.4 184.8h0M205.7 206.5h0M204.3 210.9h0M93.1 210.9h0M74.5 210.9h0M71.6 197.2h0M72.7 188.1h0M73.8 179h0M75.4 165.3h0M91 37.6h0"/><path stroke="#000fff" d="M154.9 1.1h0M191.6 1.1h0M232.8 87.6h0M199.7 210.9h0M72.1 192.7h0M74.3 174.4h0M91.5 33h0"/><path stroke="#0024ff" d="M150.4 1.1h0M159.5 1.1h0M164.1 1.1h0M168.7 1.1h0M173.3 1.1h0M177.8 1.1h0M182.4 1.1h0M187 1.1h0M232.8 42.1h0M232.8 46.6h0M232.8 69.4h0M232.8 74h0M195 210.9h0M190.4 210.9h0M171.9 210.9h0M69.9 210.9h0M90.4 42.1h0M92.1 28.5h0"/><path stroke="#0038ff" d="M136.6 1.1h0M141.2 1.1h0M145.8 1.1h0M232.8 33h0M232.8 51.2h0M232.8 78.5h0M232.8 96.7h0M230.1 128.2h0M224.7 145.6h0M185.8 210.9h0M181.1 210.9h0M176.5 210.9h0M158 210.9h0"/><path stroke="#004dff" d="M232.8 1.1h0M232.8 55.7h0M232.8 60.3h0M232.8 64.9h0M232.8 83.1h0M97.7 210.9h0M78.2 142.5h0M89.3 51.3h0M89.9 46.7h0"/><path stroke="#0061ff" d="M232.8 37.5h0M88.7 55.8h0"/><path stroke="#0075ff" d="M132 1.1h0M205.3 1.1h0M209.9 1.1h0M228.2 1.1h0M232.8 5.7h0M232.8 101.3h0"/><path stroke="#008aff" d="M196.2 1.1h0M200.7 1.1h0M214.5 1.1h0M223.6 1.1h0M87.1 69.5h0M92.6 23.9h0"/><path stroke="#009eff" d="M127.5 1.1h0M219.1 1.1h0M232.8 119.5h0M227.4 136.9h0"/><path stroke="#00b2ff" d="M122.9 1.1h0M228.7 132.6h0M87.6 65h0M88.2 60.4h0"/><path stroke="#00c7ff" d="M104.6 1.1h0M109.1 1.1h0M226 141.3h0M153.3 210.9h0M102.3 210.9h0"/><path stroke="#00dbff" d="M113.7 1.1h0M118.3 1.1h0"/><path stroke="#05fffa" d="M100 1.1h0"/><path stroke="#2effd1" d="M148.7 210.9h0"/><path stroke="#57ffa8" d="M107 210.9h0M84.9 87.8h0M93.7 14.8h0M94.3 10.2h0"/><path stroke="#6bff94" d="M95.4 1.1h0"/><path stroke="#faff05" d="M116.2 210.9h0"/><path stroke="#80ff80" d="M93.2 19.3h0M94.8 5.7h0"/><path stroke="#94ff6b" d="M144.1 210.9h0"/><path stroke="#d1ff2e" d="M130.1 210.9h0M125.5 210.9h0M120.9 210.9h0M111.6 210.9h0"/><path stroke="#a8ff57" d="M139.4 210.9h0"/><path stroke="#bdff42" d="M134.8 210.9h0"/><path stroke="#0061ff" d="M114.1 72.1h0"/><path stroke="#0075ff" d="M110.9 71.8h0M117.3 72.5h0M89 72.6h0M104.7 81.2h0"/><path stroke="#008aff" d="M117.8 82.6h0"/><path stroke="#00b2ff" d="M121.1 82.9h0"/><path stroke="#00c7ff" d="M116.7 79.2h0"/><path stroke="#00dbff" d="M115.3 75.7h0"/><path stroke="#ff2400" d="M198.3 105h0"/><path stroke="#00c7ff" d="M110.5 88.4h0"/><path stroke="#00f0ff" d="M124.3 100h0"/><path stroke="#05fffa" d="M96.7 93.4h0"/><path stroke="#1affe5" d="M124.7 109.9h0"/><path stroke="#2effd1" d="M94.1 86.6h0M104 87.6h0M123.7 89.9h0"/><path stroke="#57ffa8" d="M98.7 90.4h0"/><path stroke="#6bff94" d="M111.5 108.3h0"/><path stroke="#00c7ff" d="M129.2 113.8h0"/><path stroke="#00dbff" d="M119.5 112.7h0M110.8 115.1h0"/><path stroke="#6bff94" d="M96.3 126.7h0"/><path stroke="#faff05" d="M85.8 115.4h0M97.5 130.1h0"/><path stroke="#80ff80" d="M109.4 128.1h0"/><path stroke="#94ff6b" d="M104.7 124.3h0M102.9 127.3h0"/><path stroke="#d1ff2e" d="M83.8 118.6h0"/><path stroke="#a8ff57" d="M97 120h0M106.1 127.8h0M112.6 128.4h0"/><path stroke="#000080" d="M95.3 149.8h0M83.4 151.8h0M86.8 152.1h0M90 152.5h0"/><path stroke="#000094" d="M78.2 154.5h0"/><path stroke="#00f0ff" d="M86.9 135.5h0M99.3 143.5h0"/></g>
<g clip-path="url(#fc)"><use href="#st" transform="translate(0.5,0.6)" fill="none" stroke="#000" stroke-width="2.3" stroke-linejoin="round" stroke-linecap="round"/></g>
</g>
<rect x="862.3" y="485.1" width="23.6" height="215.4" fill="url(#jet)" stroke="#3a1010" stroke-width="0.7"/>
<path d="M885.9 592.8h-2.4" stroke="#262626" stroke-width="0.8"/>
<text class="cb" x="894.0" y="493.0">100</text><text class="cb" x="894.0" y="600.0">50</text><text class="cb" x="894.0" y="707.0">0</text>
<text class="tk" x="567.0" y="502.7">48<tspan class="dg" dx="1.6" dy="-6.9">°</tspan><tspan dx="4.9" dy="6.9">N</tspan></text><text class="tk" x="567.0" y="520.7">46<tspan class="dg" dx="1.6" dy="-6.9">°</tspan><tspan dx="4.9" dy="6.9">N</tspan></text><text class="tk" x="567.0" y="537.8">44<tspan class="dg" dx="1.6" dy="-6.9">°</tspan><tspan dx="4.9" dy="6.9">N</tspan></text><text class="tk" x="567.0" y="556.8">42<tspan class="dg" dx="1.6" dy="-6.9">°</tspan><tspan dx="4.9" dy="6.9">N</tspan></text><text class="tk" x="567.0" y="572.5">40<tspan class="dg" dx="1.6" dy="-6.9">°</tspan><tspan dx="4.9" dy="6.9">N</tspan></text><text class="tk" x="567.0" y="587.6">38<tspan class="dg" dx="1.6" dy="-6.9">°</tspan><tspan dx="4.9" dy="6.9">N</tspan></text><text class="tk" x="567.0" y="604.4">36<tspan class="dg" dx="1.6" dy="-6.9">°</tspan><tspan dx="4.9" dy="6.9">N</tspan></text><text class="tk" x="567.0" y="618.9">34<tspan class="dg" dx="1.6" dy="-6.9">°</tspan><tspan dx="4.9" dy="6.9">N</tspan></text><text class="tk" x="567.0" y="635.6">32<tspan class="dg" dx="1.6" dy="-6.9">°</tspan><tspan dx="4.9" dy="6.9">N</tspan></text><text class="tk" x="567.0" y="649.7">30<tspan class="dg" dx="1.6" dy="-6.9">°</tspan><tspan dx="4.9" dy="6.9">N</tspan></text><text class="tk" x="567.0" y="662.8">28<tspan class="dg" dx="1.6" dy="-6.9">°</tspan><tspan dx="4.9" dy="6.9">N</tspan></text><text class="tk" x="567.0" y="677.8">26<tspan class="dg" dx="1.6" dy="-6.9">°</tspan><tspan dx="4.9" dy="6.9">N</tspan></text><text class="tk" x="567.0" y="692.0">24<tspan class="dg" dx="1.6" dy="-6.9">°</tspan><tspan dx="4.9" dy="6.9">N</tspan></text><text class="tk" x="567.0" y="704.9">22<tspan class="dg" dx="1.6" dy="-6.9">°</tspan><tspan dx="4.9" dy="6.9">N</tspan></text>
<text class="tk" x="661.5" y="466.9" text-anchor="middle">100<tspan class="dg" dx="1.6" dy="-6.9">°</tspan><tspan dx="4.6" dy="6.9">W</tspan></text><text class="tk" x="726.7" y="466.9" text-anchor="middle">90<tspan class="dg" dx="1.6" dy="-6.9">°</tspan><tspan dx="4.6" dy="6.9">W</tspan></text><text class="tk" x="790.5" y="466.9" text-anchor="middle">80<tspan class="dg" dx="1.6" dy="-6.9">°</tspan><tspan dx="4.6" dy="6.9">W</tspan></text><text class="tk" x="853.9" y="466.9" text-anchor="middle">70<tspan class="dg" dx="1.6" dy="-6.9">°</tspan><tspan dx="4.6" dy="6.9">W</tspan></text>
<text class="tt" x="560.3" y="731.3" textLength="337" lengthAdjust="spacing">SAT 350 hPa RH (Percent)</text>
<g transform="translate(1037.5,485.7) scale(1.0056)">
<rect x="0" y="0" width="233.6" height="213.4" fill="#fff" stroke="#000" stroke-width="1"/>
<g fill="none" stroke-linecap="round" stroke-width="4.7"><path stroke="#000094" d="M202.2 12.4h0"/><path stroke="#0000a8" d="M183.3 3.7h0M187.8 7.6h0M192.4 11.3h0M195.6 11.7h0"/><path stroke="#0000bd" d="M201.6 2.5h0M176.8 3h0M180 3.3h0M186.7 4.1h0M196.4 5.2h0M202.9 5.9h0M191.1 8h0M194.4 8.3h0M197.7 8.6h0M201.1 9h0M204.2 9.3h0M179.4 10h0M189.2 10.9h0M205.6 12.9h0M208.9 13.2h0M212.1 13.6h0"/><path stroke="#0000d1" d="M208.3 3.3h0M211.5 3.6h0M214.8 3.9h0M218.2 4.3h0M173.4 2.5h0M193.1 4.9h0M212.9 7.1h0M164.8 4.9h0M168.2 5.3h0M171.4 5.6h0M174.7 6.1h0M178 6.5h0M181.2 6.7h0M184.6 7.2h0M172.7 9h0M176.1 9.4h0M182.6 10.3h0M185.8 10.7h0M199 12.1h0M215.4 14h0"/><path stroke="#0000e6" d="M204.9 2.7h0M221.3 4.7h0M189.8 4.5h0M199.7 5.5h0M206.3 6.2h0M209.6 6.6h0M216.2 7.5h0M219.4 7.7h0M222.7 8.2h0M225.9 8.5h0M161.7 4.6h0M207.4 9.7h0M220.6 11.2h0M223.9 11.6h0M169.5 8.7h0M218.6 14.4h0M221.9 14.7h0M225.1 15.1h0"/><path stroke="#0000fa" d="M158.3 4.1h0M210.9 10.2h0M214.1 10.6h0M217.3 10.9h0M227.2 12h0M162.9 8h0M166.1 8.3h0M228.4 15.5h0"/><path stroke="#000fff" d="M224.6 5.1h0M159.6 7.7h0"/><path stroke="#0024ff" d="M151.9 3.4h0M155.1 3.8h0"/><path stroke="#0038ff" d="M156.3 7.2h0"/><path stroke="#004dff" d="M148.5 3.1h0"/><path stroke="#0061ff" d="M145.3 2.6h0M146.5 6.1h0"/><path stroke="#0075ff" d="M143.3 5.8h0M149.7 6.5h0M153.1 6.8h0"/><path stroke="#008aff" d="M227.9 5.4h0"/><path stroke="#009eff" d="M140 5.3h0"/><path stroke="#00b2ff" d="M229.3 8.9h0"/><path stroke="#00f0ff" d="M230.6 12.3h0"/><path stroke="#1affe5" d="M116.9 2.7h0M123.6 3.5h0"/><path stroke="#2effd1" d="M231.3 5.8h0M120.2 3.1h0"/><path stroke="#ffc700" d="M133.5 4.6h0"/><path stroke="#57ffa8" d="M126.8 3.9h0"/><path stroke="#fff000" d="M130.1 4.3h0"/><path stroke="#94ff6b" d="M136.7 4.9h0"/><path stroke="#000094" d="M200.2 15.5h0M206.7 16.4h0M210 16.6h0M204.8 19.4h0M202.1 29.1h0M208.5 29.8h0M211.9 30.2h0"/><path stroke="#0000a8" d="M213.4 17h0M208 19.7h0M214.6 20.6h0M202.7 22.5h0M206.1 22.8h0M209.2 23.3h0M219.1 24.4h0M197.5 25.2h0M200.8 25.5h0M204.1 26.1h0M207.4 26.2h0M210.6 26.7h0M213.8 27.2h0M217.1 27.4h0M220.4 27.8h0M205.3 29.4h0M215.1 30.6h0"/><path stroke="#0000bd" d="M180.5 13.3h0M190.3 14.5h0M193.6 14.7h0M197 15.1h0M203.5 15.9h0M216.5 17.5h0M219.9 17.8h0M226.5 18.6h0M195 18.2h0M198.1 18.6h0M201.4 19h0M211.4 20.2h0M217.8 20.9h0M227.8 22.1h0M173.2 19.1h0M179.7 19.9h0M196.2 21.7h0M199.5 22.2h0M212.5 23.6h0M215.8 24h0M222.5 24.7h0M184.4 23.7h0M187.6 24.2h0M190.9 24.5h0M194.2 24.9h0M223.8 28.3h0M195.5 28.3h0M218.5 31h0"/><path stroke="#0000d1" d="M187.1 14h0M223.2 18.2h0M172 15.8h0M178.5 16.5h0M181.7 16.7h0M191.7 18h0M221.2 21.3h0M224.5 21.7h0M176.5 19.5h0M189.6 21.1h0M192.9 21.5h0M229 25.5h0M177.8 23h0M198.7 28.6h0M221.7 31.4h0M203.2 32.4h0M206.6 32.9h0"/><path stroke="#0000e6" d="M167.5 11.7h0M170.8 12.2h0M174.1 12.6h0M183.9 13.8h0M165.4 14.9h0M168.7 15.2h0M169.9 18.8h0M183.2 20.3h0M186.3 20.6h0M225.6 25.1h0M227 28.7h0M225 31.6h0M199.9 32.2h0M209.9 33.2h0M213.2 33.6h0M216.5 34h0"/><path stroke="#0000fa" d="M164.2 11.5h0M229.8 18.9h0M162.1 14.5h0M175.3 16.1h0M185.2 17.1h0M188.3 17.4h0M231.1 22.4h0M166.6 18.4h0M174.6 22.6h0M181.2 23.3h0M230.2 28.9h0M188.8 27.5h0M228.3 32h0M196.8 31.8h0M219.7 34.4h0M214.4 37.2h0M220.9 37.9h0"/><path stroke="#000fff" d="M177.2 13h0M182.3 26.9h0M185.6 27.1h0M192.2 27.9h0M231.5 32.4h0M193.5 31.4h0M223 34.9h0M226.2 35.1h0M204.5 36h0M207.9 36.3h0M217.7 37.4h0M215.6 40.5h0M222.1 41.3h0M225.5 41.8h0"/><path stroke="#0024ff" d="M160.9 11.2h0M158.9 14.1h0M171.3 22.2h0M190.1 31.1h0M211.2 36.7h0M224.3 38.2h0M227.5 38.6h0M110.7 28.7h0M117.2 29.3h0M205.7 39.5h0M219 40.9h0M228.7 42h0"/><path stroke="#0038ff" d="M163.5 18h0M179.1 26.4h0M229.6 35.5h0M197.9 35.2h0M201.3 35.6h0M230.8 38.9h0M101 27.6h0M104.2 27.9h0M107.4 28.2h0M212.4 40.2h0"/><path stroke="#004dff" d="M157.7 10.6h0M186.8 30.7h0M119.4 26.2h0M122.5 26.7h0M94.4 26.7h0M114 28.9h0M120.5 29.7h0M123.8 30.1h0"/><path stroke="#0061ff" d="M147.7 9.6h0M151.1 10h0M154.3 10.3h0M155.5 13.9h0M106.2 24.9h0M115.9 25.9h0M132.4 27.8h0M97.6 27.1h0M127.2 30.6h0M209.1 39.8h0"/><path stroke="#0075ff" d="M175.8 26.1h0M109.4 25.1h0M112.8 25.6h0M125.8 26.9h0M129 27.5h0M191.4 34.5h0M194.8 34.9h0M130.3 30.8h0M133.7 31.3h0"/><path stroke="#008aff" d="M144.6 9.2h0M168 22h0M183.6 30.2h0M103 24.4h0M137 31.7h0M202.5 39.2h0"/><path stroke="#009eff" d="M152.3 13.5h0M156.9 17.2h0M160.2 17.6h0M164.6 21.5h0M100.3 17.5h0M118 22.9h0M124.6 23.6h0M134.4 24.8h0M135.6 28.1h0"/><path stroke="#00b2ff" d="M95.8 13.6h0M121.2 23.1h0M127.8 24h0M99.7 24h0M140.2 32h0M143.5 32.3h0"/><path stroke="#00c7ff" d="M149 13h0M97.1 17.1h0M103.6 17.8h0M172.6 25.6h0M101.6 21h0M105 21.4h0M108.1 21.7h0M111.4 22.1h0M131.1 24.4h0M96.3 23.7h0M188.2 34.2h0M146.8 32.8h0M150.2 33h0M199.3 38.6h0"/><path stroke="#00dbff" d="M99.1 14h0M161.3 21.2h0M107 18.3h0M110.1 18.7h0M169.1 25.3h0M95 20.1h0M98.3 20.7h0M114.7 22.4h0M180.3 29.9h0M139 28.6h0M145.5 29.3h0M153.3 33.5h0M196 38.4h0"/><path stroke="#00f0ff" d="M141.2 8.8h0M97.9 10.5h0M153.6 16.9h0M102.3 14.3h0M105.7 14.7h0M108.9 15.1h0M112.2 15.5h0M120.1 19.7h0M148.8 29.7h0M192.7 37.9h0"/><path stroke="#05fffa" d="M115 5.8h0M118.3 6.2h0M124.8 7h0M101.2 10.9h0M107.6 11.7h0M111 12h0M117.5 12.8h0M120.9 13.2h0M124 13.6h0M130.6 14.2h0M150.3 16.5h0M115.4 15.8h0M125.3 17h0M131.8 17.7h0M144.9 19.2h0M151.6 20h0M113.5 18.9h0M116.7 19.4h0M126.6 20.5h0M159.3 24.3h0M162.7 24.5h0M166 25h0M170.5 28.7h0M181.5 33.5h0M184.8 33.7h0"/><path stroke="#1affe5" d="M121.6 6.5h0M96.6 7.1h0M122.9 10h0M142.4 12.3h0M145.7 12.6h0M104.4 11.4h0M114.2 12.3h0M137.2 15.1h0M147.1 16.2h0M118.8 16.3h0M122.1 16.5h0M128.6 17.3h0M138.5 18.6h0M154.8 20.4h0M158 20.7h0M129.9 20.9h0M133.1 21.1h0M146.2 22.8h0M152.7 23.4h0M156.1 23.9h0M177 29.5h0"/><path stroke="#2effd1" d="M98.6 4.1h0M101.8 4.3h0M105.2 4.7h0M111.8 5.6h0M99.9 7.5h0M112.9 9h0M119.5 9.7h0M126.1 10.5h0M127.3 14h0M140.4 15.3h0M143.8 15.7h0M141.7 18.9h0M148.2 19.5h0M123.4 20.1h0M149.6 23.2h0M147.6 26.2h0M167.2 28.3h0M173.7 29.1h0M189.5 37.5h0"/><path stroke="#ffc700" d="M134.7 8.1h0M141 25.5h0"/><path stroke="#42ffbd" d="M108.4 5.2h0M128.1 7.3h0M103 7.8h0M106.5 8.3h0M109.7 8.5h0M129.3 10.9h0M135.1 18.2h0M143.1 22.3h0M164 28h0M142.3 28.8h0M178.4 32.9h0"/><path stroke="#ffdb00" d="M165.2 31.5h0M163.3 34.7h0"/><path stroke="#57ffa8" d="M116.2 9.4h0M139.3 11.8h0M136.4 21.6h0"/><path stroke="#fff000" d="M160 34.3h0"/><path stroke="#6bff94" d="M135.8 11.6h0M133.9 14.6h0M150.8 26.6h0M154.1 26.9h0M160.6 27.6h0M186.1 37.2h0"/><path stroke="#faff05" d="M131.3 7.8h0M144.2 25.7h0M158.6 30.7h0M162 31.2h0M168.5 31.8h0M166.4 35h0M169.7 35.4h0"/><path stroke="#80ff80" d="M137.6 25h0M157.4 27.2h0M152.1 29.9h0"/><path stroke="#e5ff1a" d="M132.6 11.2h0M172.9 35.7h0M176.2 36.1h0"/><path stroke="#94ff6b" d="M175 32.6h0"/><path stroke="#d1ff2e" d="M155.4 30.4h0M179.7 36.5h0"/><path stroke="#a8ff57" d="M139.8 21.9h0M171.8 32.3h0"/><path stroke="#bdff42" d="M137.9 8.4h0M156.7 33.8h0M182.8 36.8h0"/><path stroke="#0000e6" d="M96.1 40.3h0M94.1 43.4h0M97.5 43.7h0M95.4 46.9h0M101.9 47.5h0M91.3 53.1h0"/><path stroke="#0000fa" d="M98.1 37.2h0M92.8 39.8h0M103.9 44.4h0M92.1 46.5h0M98.6 47.2h0M99.9 50.6h0M94.5 53.3h0M107.7 54.8h0"/><path stroke="#000fff" d="M226.8 45.2h0M93.6 33.2h0M94.9 36.8h0M99.5 40.7h0M100.6 44h0M107.3 44.9h0M105.1 47.8h0M96.6 50.4h0M103.2 51.1h0M106.6 51.4h0M98 53.7h0M101.1 54.1h0M104.4 54.5h0M110.9 55.3h0"/><path stroke="#0024ff" d="M95.5 30.2h0M98.9 30.5h0M105.5 31.2h0M230.1 45.4h0M97 33.7h0M100.2 34.1h0M101.4 37.6h0M104.7 37.8h0M107.9 38.3h0M102.6 40.9h0M109.2 41.7h0M112.5 42.1h0M115.7 42.5h0M110.5 45.1h0M117 46h0M108.5 48.3h0M115.1 49h0M93.4 49.9h0M122.9 53.2h0M117.6 55.9h0"/><path stroke="#0038ff" d="M102.2 30.9h0M108.8 31.6h0M115.3 32.5h0M118.5 32.9h0M121.8 33.1h0M223.4 44.8h0M103.5 34.4h0M110 35.1h0M113.3 35.5h0M227.9 48.6h0M231.2 49h0M111.2 38.6h0M114.5 39h0M106 41.3h0M125.7 43.5h0M113.7 45.7h0M120.4 46.4h0M143.3 49h0M111.8 48.7h0M118.4 49.4h0M137.9 51.6h0M144.5 52.5h0M151.1 53.1h0M109.7 51.8h0M112.9 52h0M126.1 53.7h0M114.3 55.7h0"/><path stroke="#004dff" d="M112 32.1h0M220.3 44.4h0M106.7 34.9h0M116.6 35.9h0M123 36.7h0M221.4 47.9h0M224.7 48.3h0M124.4 40.1h0M119 42.9h0M133.5 47.7h0M136.7 48.2h0M139.9 48.6h0M121.5 49.8h0M124.8 50.1h0M134.8 51.3h0M141.2 52h0M116.3 52.5h0M119.6 52.8h0M129.3 54h0M132.7 54.4h0M145.7 55.8h0M120.9 56.3h0M127.5 57h0M130.7 57.5h0M137.3 58.2h0M176.6 62.6h0M193 64.5h0"/><path stroke="#0061ff" d="M125.2 33.5h0M128.4 33.9h0M216.9 44.1h0M119.9 36.3h0M126.5 37h0M218.2 47.5h0M117.7 39.4h0M121.2 39.7h0M127.7 40.6h0M163.8 44.6h0M173.4 45.7h0M226.1 51.7h0M229.3 52.2h0M122.4 43.2h0M129 44h0M132.2 44.4h0M135.5 44.8h0M142.1 45.5h0M171.6 48.8h0M230.5 55.6h0M123.6 46.7h0M127 47h0M130.1 47.4h0M149.9 49.7h0M172.7 52.2h0M228.5 58.6h0M128.1 50.4h0M147.8 52.8h0M154.3 53.5h0M226.6 61.7h0M229.7 62.1h0M136 54.8h0M139.2 55.2h0M142.6 55.5h0M155.6 57.1h0M124.1 56.6h0M133.9 57.9h0M140.6 58.7h0M163.4 61.1h0M166.7 61.5h0M170 62h0M173.2 62.2h0M179.8 63h0M183.2 63.4h0M186.5 63.7h0M189.7 64.2h0M196.3 65h0"/><path stroke="#0075ff" d="M131.7 34.4h0M213.6 43.7h0M129.7 37.5h0M152.6 39.9h0M162.4 41.2h0M165.8 41.6h0M131 40.9h0M134.2 41.3h0M137.5 41.7h0M144 42.4h0M153.8 43.5h0M160.5 44.2h0M167 45h0M170.2 45.3h0M222.7 51.3h0M138.8 45.1h0M158.3 47.3h0M165 48h0M168.3 48.4h0M174.7 49.2h0M227.3 55.2h0M146.5 49.2h0M153.1 50.1h0M156.4 50.4h0M159.7 50.7h0M169.6 51.9h0M176.1 52.7h0M221.9 57.9h0M131.5 50.9h0M167.4 55h0M170.9 55.4h0M174.1 55.8h0M177.3 56.1h0M149 56.2h0M152.5 56.6h0M159 57.3h0M162.3 57.8h0M165.4 58h0M168.7 58.5h0M172.1 58.8h0M175.3 59.2h0M198.3 61.8h0M143.8 59h0M199.5 65.3h0M202.9 65.6h0M206 66.1h0"/><path stroke="#008aff" d="M134.9 34.6h0M138.3 35h0M151.4 36.5h0M133 37.8h0M146.1 39.4h0M214.9 47.1h0M140.8 42h0M147.4 42.8h0M157.1 43.9h0M219.4 51h0M145.3 45.9h0M148.6 46.1h0M151.8 46.5h0M155.2 46.9h0M178.1 49.6h0M224 54.9h0M162.9 51.2h0M179.4 53h0M225.2 58.2h0M157.6 54h0M161 54.2h0M164.2 54.6h0M223.2 61.5h0M191.7 61.1h0M208.1 62.9h0M227.8 65.3h0M231.1 65.5h0M147.1 59.3h0M150.3 59.8h0M153.6 60.1h0M156.9 60.5h0M160.2 60.8h0M209.3 66.4h0M212.6 66.7h0"/><path stroke="#009eff" d="M141.5 35.4h0M207 42.9h0M210.4 43.3h0M136.3 38.2h0M139.6 38.6h0M142.8 38.9h0M149.3 39.7h0M155.9 40.5h0M159.2 40.9h0M211.6 46.7h0M150.7 43.1h0M176.8 46.1h0M161.6 47.8h0M217.4 54h0M220.7 54.4h0M166.2 51.6h0M220.1 61h0M178.6 59.7h0M181.8 60.1h0M188.5 60.7h0M201.5 62.2h0M204.8 62.5h0M211.3 63.2h0M214.6 63.7h0M224.5 64.9h0M216 67.2h0"/><path stroke="#00b2ff" d="M144.8 35.9h0M148 36.1h0M212.9 50.2h0M216.2 50.6h0M218.6 57.5h0M180.7 56.6h0M216.7 60.6h0M185.2 60.3h0M195.1 61.4h0M219.3 67.5h0M222.4 68h0M229 68.7h0"/><path stroke="#00c7ff" d="M154.6 37h0M203.8 42.6h0M180.2 46.6h0M181.4 50h0M182.5 53.5h0M215.5 57.2h0M187.1 57.3h0M210.1 59.9h0M213.5 60.2h0M218 64.1h0M221.1 64.5h0M225.7 68.3h0"/><path stroke="#00dbff" d="M157.9 37.3h0M169 41.9h0M183.4 46.9h0M183.9 56.9h0M190.5 57.7h0M200.2 58.7h0M203.6 59.2h0"/><path stroke="#00f0ff" d="M205.1 46.1h0M208.4 46.5h0M214.2 53.6h0M199 55.3h0M193.8 58h0M196.9 58.3h0M206.9 59.5h0"/><path stroke="#05fffa" d="M198.5 45.3h0M201.7 45.7h0M190 47.6h0M209.5 49.8h0M184.5 50.3h0M187.9 50.7h0M191.3 51.1h0M186 53.7h0M189.2 54.2h0M192.4 54.5h0M195.8 54.9h0M212.2 56.7h0"/><path stroke="#1affe5" d="M194 41.5h0M197.3 41.8h0M200.4 42.1h0M186.7 47.2h0M196.5 48.4h0M199.8 48.7h0M203.1 49.1h0M206.2 49.4h0M194.6 51.5h0M197.8 51.9h0M210.9 53.2h0M202.2 55.7h0M205.5 56.1h0"/><path stroke="#2effd1" d="M161.2 37.6h0M193.2 47.9h0M204.2 52.6h0M208.9 56.4h0"/><path stroke="#42ffbd" d="M195.1 44.9h0M201 52.1h0M207.6 53h0"/><path stroke="#ffdb00" d="M167.8 38.4h0"/><path stroke="#57ffa8" d="M172.3 42.3h0M185.3 43.9h0M188.7 44.2h0M192 44.4h0"/><path stroke="#fff000" d="M174.3 39.3h0M177.5 39.5h0"/><path stroke="#6bff94" d="M190.7 41.1h0"/><path stroke="#faff05" d="M171 38.8h0M180.8 39.9h0M184.2 40.4h0"/><path stroke="#e5ff1a" d="M187.4 40.8h0"/><path stroke="#94ff6b" d="M164.5 38.1h0"/><path stroke="#d1ff2e" d="M178.8 43.1h0"/><path stroke="#a8ff57" d="M182.1 43.4h0"/><path stroke="#bdff42" d="M175.6 42.6h0"/><path stroke="#0000e6" d="M92.6 56.4h0M206.7 76h0M209.9 76.5h0M188.3 77.3h0M201.3 78.8h0M204.5 79.2h0M211.2 79.8h0M208.4 89.5h0M209.7 93h0M212.9 93.5h0"/><path stroke="#0000fa" d="M95.8 56.8h0M99.2 57.2h0M97.1 60.2h0M190.3 74.2h0M216.5 77.1h0M184.9 77h0M198 78.4h0M214.5 80.2h0M217.7 80.7h0M192.7 81.2h0M196 81.5h0M199.3 81.9h0M203.9 85.8h0M207.2 86.1h0M116.6 79h0M205.1 89.2h0M228 91.8h0M231.3 92.1h0M121.2 82.9h0M131 84h0M134.2 84.4h0M216.2 93.8h0"/><path stroke="#000fff" d="M102.5 57.5h0M105.8 57.9h0M109.1 58.4h0M207.4 69.5h0M185.6 70.3h0M189 70.7h0M195.5 71.5h0M180.4 73.2h0M183.6 73.5h0M187 73.9h0M193.4 74.6h0M196.9 74.9h0M203.2 75.7h0M213.1 76.8h0M219.7 77.6h0M191.5 77.7h0M194.8 78.1h0M207.8 79.5h0M221.1 81.1h0M202.7 82.2h0M205.8 82.7h0M212.5 83.4h0M219 84.2h0M108.8 74.9h0M118.5 76h0M197.3 85h0M200.6 85.4h0M210.4 86.4h0M230.1 88.8h0M113.3 78.8h0M119.9 79.4h0M123.2 79.8h0M126.4 80.2h0M129.6 80.5h0M132.9 81.1h0M211.7 90h0M117.8 82.6h0M124.4 83.4h0M127.7 83.7h0M137.5 84.9h0M229.4 95.2h0"/><path stroke="#0024ff" d="M112.2 58.6h0M115.6 59.1h0M191 67.6h0M194.3 68h0M197.6 68.5h0M90.5 59.6h0M93.8 59.9h0M103.8 61h0M107 61.4h0M110.3 61.7h0M113.6 62.2h0M120.2 62.9h0M179 69.7h0M182.3 70h0M192.2 71h0M198.7 71.9h0M202.1 72.1h0M91.8 63h0M121.4 66.3h0M160.7 70.9h0M177.1 72.8h0M224.3 81.3h0M227.6 81.8h0M94.5 70h0M209.1 83.1h0M215.7 83.9h0M222.4 84.4h0M225.6 85h0M228.8 85.2h0M95.7 73.5h0M102.2 74.1h0M105.4 74.6h0M112 75.4h0M115.4 75.6h0M125.2 76.7h0M128.4 77.1h0M194.1 84.7h0M213.7 86.9h0M223.6 88.1h0M226.8 88.3h0M201.9 88.9h0M215 90.4h0M218.3 90.6h0M221.6 91h0M224.8 91.4h0M222.8 94.6h0M226.1 94.8h0"/><path stroke="#0038ff" d="M174.5 65.7h0M181.2 66.5h0M187.6 67.3h0M116.9 62.5h0M123.3 63.2h0M205.3 72.6h0M208.7 73.1h0M211.8 73.4h0M88.6 62.6h0M98.5 63.7h0M118.1 65.9h0M127.9 67h0M131.3 67.5h0M157.4 70.5h0M173.9 72.3h0M200.1 75.3h0M226.3 78.2h0M93.2 66.4h0M99.8 67.2h0M106.2 68h0M175 75.7h0M178.3 76.1h0M181.7 76.6h0M230.9 82.1h0M100.9 70.7h0M104.2 71h0M110.7 71.9h0M114 72.1h0M117.3 72.6h0M137 74.7h0M182.9 80.1h0M186.2 80.4h0M189.6 80.7h0M89.2 72.6h0M92.5 73h0M98.9 73.7h0M121.9 76.5h0M138.3 78.3h0M171.1 82h0M216.9 87.2h0M220.2 87.6h0M136.2 81.4h0M139.6 81.7h0M149.3 82.9h0M195.3 88h0M198.6 88.4h0M196.6 91.6h0M219.5 94.1h0"/><path stroke="#004dff" d="M118.8 59.4h0M122.2 59.8h0M125.3 60.1h0M128.8 60.6h0M135.2 61.2h0M141.7 62h0M177.9 66.1h0M200.7 68.7h0M204 69.1h0M210.6 70h0M100.5 60.7h0M126.8 63.6h0M129.9 63.9h0M143.1 65.5h0M146.4 65.9h0M149.5 66.2h0M156.1 67h0M162.7 67.8h0M172.7 68.8h0M175.9 69.2h0M215.2 73.7h0M95.2 63.5h0M101.7 64.2h0M104.9 64.4h0M111.6 65.3h0M114.9 65.5h0M124.7 66.7h0M134.5 67.8h0M147.6 69.3h0M154.2 70h0M163.9 71.1h0M167.2 71.6h0M170.6 71.9h0M223 78h0M89.9 66h0M96.4 66.8h0M102.9 67.5h0M122.6 69.8h0M125.9 70.1h0M135.8 71.3h0M139 71.6h0M142.3 72.1h0M145.6 72.5h0M171.8 75.4h0M91 69.6h0M97.6 70.3h0M107.6 71.4h0M120.7 72.9h0M127.3 73.7h0M140.3 75.2h0M143.5 75.5h0M146.8 75.8h0M150.2 76.2h0M153.5 76.7h0M156.7 77h0M173.1 78.9h0M176.3 79.3h0M179.5 79.6h0M131.7 77.4h0M134.9 77.8h0M141.6 78.6h0M144.8 78.9h0M148.1 79.4h0M151.4 79.8h0M142.8 82.1h0M140.8 85.1h0M144 85.6h0M193.3 91.2h0"/><path stroke="#0061ff" d="M132 60.9h0M138.6 61.8h0M145.1 62.4h0M148.3 62.9h0M158.2 63.9h0M171.2 65.3h0M184.5 66.9h0M133.3 64.5h0M136.6 64.7h0M169.4 68.6h0M108.3 64.9h0M137.7 68.2h0M141 68.7h0M144.3 68.9h0M150.8 69.8h0M229.5 78.6h0M109.5 68.4h0M112.8 68.8h0M116.1 69h0M119.3 69.4h0M129.1 70.6h0M152.1 73.2h0M155.3 73.5h0M161.9 74.4h0M165.3 74.8h0M168.6 75h0M123.9 73.3h0M130.4 74.1h0M133.8 74.5h0M166.4 78.2h0M169.9 78.5h0M154.7 80h0M161.3 80.8h0M164.5 81.2h0M174.4 82.4h0M152.8 83.3h0M155.9 83.6h0M162.5 84.4h0M150.7 86.4h0"/><path stroke="#0075ff" d="M151.6 63.2h0M155 63.5h0M161.5 64.3h0M168.1 65.1h0M139.7 65.1h0M152.9 66.6h0M159.5 67.3h0M166 68.2h0M218.4 74.2h0M221.7 74.4h0M225.1 74.9h0M228.3 75.3h0M132.4 71h0M148.9 72.8h0M158.8 74h0M159.9 77.5h0M163.3 77.8h0M157.9 80.4h0M167.7 81.5h0M146 82.4h0M159.3 84h0M147.5 85.9h0M153.9 86.6h0"/><path stroke="#008aff" d="M164.8 64.6h0M214 70.3h0M177.6 82.7h0"/><path stroke="#009eff" d="M217.2 70.6h0M220.4 71h0M180.9 83.1h0"/><path stroke="#00b2ff" d="M227.1 71.8h0M190.8 84.2h0M169 85h0M192 87.7h0M157.3 87h0M160.5 87.4h0"/><path stroke="#00c7ff" d="M223.8 71.4h0M230.3 72.2h0M184.2 83.5h0M172.4 85.5h0"/><path stroke="#00dbff" d="M165.7 84.6h0M190 90.8h0"/><path stroke="#00f0ff" d="M176.8 89.3h0M186.8 90.3h0"/><path stroke="#05fffa" d="M185.4 86.9h0"/><path stroke="#1affe5" d="M187.4 83.8h0M175.5 85.8h0M170.4 88.5h0M180.2 89.7h0"/><path stroke="#2effd1" d="M188.8 87.2h0M163.9 87.7h0"/><path stroke="#42ffbd" d="M179 86.1h0M167 88.2h0M183.4 90h0"/><path stroke="#57ffa8" d="M182.2 86.6h0"/><path stroke="#80ff80" d="M173.6 88.9h0"/><path stroke="#000fff" d="M122.3 86.4h0M128.9 87.1h0"/><path stroke="#0024ff" d="M125.7 86.7h0M132.2 87.5h0M193.7 101.1h0"/><path stroke="#0038ff" d="M135.5 88h0M138.8 88.2h0M142 88.6h0M217.5 97.2h0M220.7 97.6h0M227.2 98.4h0M228.6 101.8h0M190.6 100.8h0"/><path stroke="#004dff" d="M194.5 94.6h0M224.1 98.1h0M230.7 98.7h0M146.5 92.6h0M192.6 97.7h0"/><path stroke="#0061ff" d="M145.4 89.1h0"/><path stroke="#0075ff" d="M130.2 90.5h0M182.6 96.7h0M166.9 104.7h0M179.8 106.3h0"/><path stroke="#008aff" d="M174.8 92.3h0M188 93.9h0M189.3 97.4h0M151.3 96.4h0M187.3 100.5h0M191.9 104.3h0"/><path stroke="#009eff" d="M143.3 92.2h0M185.9 96.9h0M152.4 99.8h0M185.3 103.6h0M173.4 105.5h0M176.7 105.9h0M145.1 105.6h0M173.9 115.5h0"/><path stroke="#00b2ff" d="M184.6 93.5h0M191.2 94.3h0M133.5 91h0M149.9 92.8h0M156.5 93.5h0M179.4 96.2h0M162.3 101h0M195.1 104.7h0M170.2 105.1h0M183.2 106.7h0M186.6 107h0M189.8 107.3h0M155 106.7h0M158.2 107.1h0M164.1 114.3h0M167.3 114.8h0M170.6 115.2h0M177.1 115.8h0M180.4 116.2h0"/><path stroke="#00c7ff" d="M148.6 89.5h0M158.5 90.5h0M171.6 92h0M178.1 92.8h0M140 91.7h0M157.7 97h0M167.6 98.2h0M163.6 104.3h0M148.5 105.9h0M161.5 107.4h0M169.3 111.7h0M183.8 116.6h0"/><path stroke="#00dbff" d="M153.2 93.3h0M172.8 95.5h0M151.6 106.4h0M164.9 107.9h0M168.1 108.3h0M172.6 112.1h0M179.2 112.7h0M182.5 113.2h0M151 112.8h0M154.2 113.3h0M157.6 113.7h0M160.7 114h0"/><path stroke="#00f0ff" d="M151.9 89.8h0M161.7 90.8h0M164.9 91.3h0M181.4 93.2h0M154.5 96.8h0M155.8 100.2h0M178.7 102.7h0M188.5 104h0M193 107.8h0M181.1 109.8h0M187.7 110.5h0M191 110.9h0M149.6 109.5h0M156.3 110.1h0M162.8 111h0M166.1 111.2h0M176 112.5h0M185.8 113.6h0"/><path stroke="#05fffa" d="M163 94.3h0M176.1 95.9h0M160.9 97.4h0M184 100.1h0M158.9 100.5h0M171.4 108.6h0M174.7 108.9h0M178 109.4h0M184.5 110h0M153 109.9h0M159.5 110.5h0M192.4 114.2h0M187.1 117h0M190.2 117.5h0"/><path stroke="#1affe5" d="M155.2 90.1h0M136.8 91.4h0M159.8 94h0M166.3 94.7h0M147.8 96h0M168.8 101.6h0M201.6 105.4h0M204.9 105.9h0M160.3 104h0M189 114h0M193.5 117.8h0"/><path stroke="#2effd1" d="M168.3 91.6h0M164.2 97.9h0M174.1 99h0M149.1 99.5h0M135.4 104.4h0M141.9 105.2h0M194.3 111.1h0"/><path stroke="#42ffbd" d="M170.9 98.6h0M145.8 99h0M165.6 101.3h0M138.7 104.8h0"/><path stroke="#ffdb00" d="M199.6 108.5h0M202.9 108.8h0M204.1 112.3h0M207.4 112.7h0M210.8 113.2h0M213.9 113.4h0M198.8 115.1h0M202.2 115.4h0M208.6 116.2h0M211.9 116.6h0M218.5 117.3h0M221.7 117.7h0M228.3 118.5h0M200 118.5h0M206.7 119.4h0M219.9 120.7h0M229.7 121.9h0"/><path stroke="#57ffa8" d="M144.6 95.5h0M182 103.1h0M153.8 103.3h0M157.1 103.7h0"/><path stroke="#fff000" d="M206.2 109.2h0M209.4 109.6h0M200.9 112.1h0M205.4 115.8h0M215.2 117h0M203.4 118.9h0M226.4 121.6h0"/><path stroke="#6bff94" d="M172.1 102.1h0M198.4 105.1h0"/><path stroke="#faff05" d="M197.5 111.5h0M217.2 113.7h0M220.5 114.2h0M223.8 114.6h0M225.2 118.1h0M213.3 120h0M216.6 120.4h0M223.1 121.2h0"/><path stroke="#80ff80" d="M169.5 95.2h0M141.3 95.3h0M132.8 97.5h0M175.4 102.3h0M143.8 102.1h0"/><path stroke="#e5ff1a" d="M139.4 98.3h0M209.9 119.6h0"/><path stroke="#94ff6b" d="M177.4 99.3h0M180.7 99.6h0M147.1 102.5h0M150.5 102.9h0M195.6 114.6h0"/><path stroke="#d1ff2e" d="M138.1 94.8h0M137.2 101.4h0M140.7 101.7h0M212.7 110h0M227.2 114.9h0"/><path stroke="#a8ff57" d="M136.1 97.9h0M134 101h0M196.3 108.2h0M196.9 118.2h0"/><path stroke="#bdff42" d="M134.7 94.5h0M142.5 98.7h0"/><path stroke="#004dff" d="M121.8 136.1h0"/><path stroke="#0061ff" d="M213.5 146.7h0M220 147.4h0"/><path stroke="#0075ff" d="M117.3 132.4h0M105.3 134.4h0M115.2 135.4h0M216.8 147h0"/><path stroke="#008aff" d="M175.7 129h0M107.3 131.2h0M120.5 132.7h0"/><path stroke="#009eff" d="M178.4 119.3h0M177.7 125.9h0M182.2 129.8h0M178.1 135.9h0M110.7 131.6h0M207.1 145.8h0"/><path stroke="#00b2ff" d="M165.4 117.8h0M168.5 118.1h0M171.9 118.6h0M175.1 119.1h0M183 123.2h0M180.9 126.3h0M184.2 126.6h0M179 129.3h0M185.5 130.1h0M188.7 130.5h0M176.9 132.6h0M180.2 132.9h0M183.6 133.3h0M186.9 133.7h0M181.5 136.3h0M184.7 136.7h0M186.1 140.2h0M125 136.5h0M203.6 145.5h0M210.3 146.3h0"/><path stroke="#00c7ff" d="M181.7 119.7h0M185 120.1h0M169.8 121.8h0M173.1 122.1h0M176.5 122.4h0M171.1 125.1h0M187.5 127.1h0M192 130.9h0M173.7 132.1h0M190.1 134h0M199.9 135h0M174.8 135.7h0M188.1 137.1h0M191.3 137.4h0M189.3 140.5h0M192.6 141h0M197.2 144.8h0M200.4 145h0"/><path stroke="#ff6100" d="M135.7 131h0M157.8 140.2h0"/><path stroke="#00dbff" d="M152.3 116.4h0M155.4 116.7h0M158.8 117.2h0M162.1 117.5h0M153.5 119.8h0M160.1 120.6h0M166.7 121.3h0M179.8 122.9h0M174.4 125.6h0M172.5 128.7h0M195.4 131.2h0M215 133.5h0M218.4 133.9h0M170.4 131.6h0M196.6 134.7h0M213.1 136.6h0M226.2 138h0M112.7 128.5h0M171.6 135.1h0M197.8 138.2h0M210.9 139.6h0M214.2 140.1h0M217.6 140.5h0M220.9 140.8h0M172.8 138.6h0M182.8 139.8h0M199.1 141.7h0M218.8 143.9h0M222.2 144.2h0M111.9 135h0"/><path stroke="#ff7500" d="M134.3 127.7h0M156.5 136.9h0"/><path stroke="#00f0ff" d="M188.3 120.4h0M150.3 119.5h0M156.7 120.3h0M163.2 120.9h0M186.2 123.5h0M141.7 121.8h0M190.9 127.4h0M198.7 131.7h0M201.9 132.1h0M208.4 132.8h0M211.8 133.2h0M221.7 134.2h0M193.4 134.3h0M203.2 135.4h0M206.4 135.8h0M209.7 136.3h0M216.2 137h0M194.5 137.9h0M224.2 141.1h0M114 132h0M169.6 138.3h0M176.1 139h0M179.4 139.4h0M195.9 141.3h0M202.4 142h0M205.8 142.5h0M208.9 142.7h0M212.2 143.2h0M215.5 143.6h0M190.5 143.9h0"/><path stroke="#ff8a00" d="M144.7 138.8h0"/><path stroke="#05fffa" d="M191.5 120.9h0M148.2 122.6h0M167.9 124.8h0M194.1 127.8h0M169.2 128.2h0M224.9 134.7h0M219.6 137.3h0M222.8 137.8h0M109.3 128.1h0M201.1 138.5h0M204.5 138.9h0M207.8 139.3h0M118.5 135.9h0M170.9 141.8h0M174.1 142.2h0M177.5 142.5h0M184 143.2h0M187.3 143.6h0M193.9 144.3h0"/><path stroke="#ff9e00" d="M131 127.2h0M150 136h0M153.3 136.3h0M151.2 139.5h0M154.5 140h0M161 140.6h0"/><path stroke="#1affe5" d="M189.6 124h0M146.1 125.7h0M115.9 128.8h0M119.2 129.3h0M168.3 134.9h0M108.7 134.7h0M128.3 136.9h0M131.5 137.2h0M167.7 141.4h0M180.7 142.9h0"/><path stroke="#ffb300" d="M201.3 122h0M129.8 123.7h0M124.4 126.4h0M127.8 126.9h0M137.7 128h0M142.1 131.8h0M146.7 135.7h0M147.9 139h0"/><path stroke="#2effd1" d="M192.7 124.3h0M154.7 123.3h0M205.3 132.4h0M123.8 133h0M127 133.5h0M134.8 137.7h0"/><path stroke="#ffc700" d="M204.7 122.4h0M208 122.8h0M209.2 126.1h0M143.5 135.4h0M159.8 137.2h0"/><path stroke="#42ffbd" d="M144.9 122.1h0M164.6 124.5h0M197.4 128.1h0M210.6 129.6h0M226.9 131.6h0M157.3 130.2h0M167 131.3h0M122.4 129.6h0M130.2 133.8h0"/><path stroke="#ffdb00" d="M198.1 121.6h0M202.7 125.5h0M205.9 125.8h0M212.4 126.5h0M138.9 131.6h0M140.1 135h0"/><path stroke="#57ffa8" d="M194.7 121.2h0M158.1 123.8h0M220.3 130.8h0M223.7 131.2h0M143 125.2h0M149.5 126h0M152.7 126.4h0M156.1 126.7h0M165.8 127.9h0M153.9 129.8h0"/><path stroke="#fff000" d="M211.2 123.1h0M214.6 123.5h0M217.7 123.9h0M199.3 125.1h0M215.8 126.9h0M133.1 124.1h0M140.9 128.3h0M129 130.3h0M132.2 130.8h0M158.5 133.8h0M163.1 137.6h0"/><path stroke="#6bff94" d="M196.1 124.7h0M151.4 122.9h0M203.9 129h0M213.8 130h0M217.1 130.3h0M163.8 131h0M166.3 138h0"/><path stroke="#faff05" d="M221.1 124.3h0M224.2 124.5h0M219 127.4h0M222.3 127.8h0M136.4 124.5h0M133.6 134.1h0M141.3 138.5h0"/><path stroke="#80ff80" d="M200.6 128.5h0M207.2 129.3h0M159.2 127.2h0M162.6 127.5h0M147.5 129.1h0M165.1 134.4h0"/><path stroke="#e5ff1a" d="M227.6 125h0M144.2 128.8h0M148.8 132.6h0M164.4 141h0"/><path stroke="#94ff6b" d="M139.5 125h0M117.8 125.8h0M160.6 130.7h0"/><path stroke="#d1ff2e" d="M225.5 128h0M161.4 124.1h0M114.7 125.4h0M125.8 129.9h0M145.5 132.1h0M161.8 134h0"/><path stroke="#a8ff57" d="M155.2 133.2h0M136.8 134.6h0M138.1 138h0"/><path stroke="#bdff42" d="M121.1 126.2h0M150.7 129.6h0M152 132.9h0"/><path stroke="#0000bd" d="M183.3 149.8h0M186.6 150.3h0M189.7 150.6h0M184.5 153.3h0M187.9 153.6h0M169.4 154.9h0M172.7 155.2h0M179.2 156h0M78.2 154.4h0M82.7 158.2h0M85.9 158.7h0"/><path stroke="#0000d1" d="M211.6 149.7h0M176.8 149h0M180 149.4h0M168.2 151.4h0M171.4 151.8h0M174.8 152.1h0M178 152.6h0M181.3 153h0M194.3 154.4h0M197.7 154.8h0M200.9 155.2h0M176 155.6h0M182.5 156.3h0M98.5 150.1h0M105.1 150.9h0M180.6 159.5h0M183.8 159.8h0M187.1 160.3h0M106.3 154.4h0M162.1 160.8h0M165.4 161h0M81.4 154.9h0M186.4 166.7h0M79.3 157.9h0M181.1 169.6h0M184.3 169.9h0"/><path stroke="#0000e6" d="M205 148.9h0M208.2 149.2h0M173.5 148.7h0M193.1 150.8h0M206.2 152.5h0M212.7 153.2h0M138.7 148.1h0M161.5 150.8h0M164.8 151h0M191.2 154.1h0M210.8 156.2h0M100.5 147.1h0M120.2 149.2h0M136.6 151.2h0M139.9 151.5h0M185.8 156.8h0M189.1 157.2h0M192.3 157.5h0M195.7 157.8h0M95.2 149.7h0M160.8 157.2h0M170.6 158.4h0M177.2 159.1h0M99.7 153.5h0M103 154h0M109.6 154.8h0M185.1 163.3h0M188.4 163.7h0M91.3 156h0M104.3 157.4h0M107.6 157.9h0M110.9 158.3h0M114.1 158.5h0M89.3 158.9h0M92.4 159.3h0M95.7 159.8h0M168 168h0M174.6 168.8h0M187.6 170.2h0M190.9 170.5h0M194.1 170.9h0"/><path stroke="#0000fa" d="M201.8 148.6h0M214.8 150.1h0M218 150.5h0M196.4 151.2h0M202.9 152.1h0M209.4 152.7h0M216 153.4h0M219.4 153.8h0M135.3 147.6h0M142 148.5h0M151.8 149.4h0M154.9 149.9h0M204.3 155.5h0M207.6 155.8h0M217.3 157h0M97.3 146.6h0M110.3 148.2h0M133.4 150.8h0M143.1 151.8h0M146.5 152.3h0M162.9 154.1h0M166.1 154.5h0M199 158.3h0M202.2 158.6h0M205.5 159h0M208.8 159.3h0M91.9 149.3h0M101.9 150.5h0M138 154.7h0M144.5 155.4h0M150.9 156.1h0M167.5 157.9h0M190.3 160.6h0M196.9 161.4h0M80.1 151.4h0M83.4 151.6h0M112.9 155.1h0M158.8 160.3h0M181.8 162.9h0M191.6 164.1h0M194.9 164.4h0M84.6 155.2h0M88 155.5h0M117.5 159h0M160.1 163.7h0M163.4 164.2h0M166.6 164.4h0M183.1 166.5h0M212.5 169.8h0M171.1 168.4h0M177.7 169.1h0M197.4 171.4h0M200.7 171.8h0M207.3 172.5h0M210.5 172.8h0M213.8 173.2h0"/><path stroke="#000fff" d="M221.4 150.9h0M163.6 147.6h0M199.7 151.7h0M132.1 147.3h0M145.1 148.9h0M158.3 150.4h0M214 156.6h0M90.7 145.9h0M94 146.2h0M103.9 147.5h0M107.2 147.8h0M116.9 148.9h0M123.5 149.7h0M126.8 150.1h0M130 150.4h0M159.6 153.7h0M212 159.7h0M215.4 160h0M82.2 148.3h0M85.4 148.7h0M88.7 149h0M108.4 151.2h0M141.1 155.1h0M147.6 155.6h0M154.3 156.5h0M157.5 156.8h0M164.1 157.5h0M174 158.8h0M193.7 161h0M210 162.8h0M213.3 163.2h0M86.7 152.1h0M116.2 155.5h0M135.9 157.7h0M145.7 158.9h0M149 159.2h0M152.2 159.5h0M155.5 159.9h0M175.2 162.2h0M198.2 164.8h0M208 165.9h0M94.5 156.3h0M97.9 156.7h0M120.7 159.3h0M143.7 162h0M146.9 162.3h0M156.8 163.4h0M170 164.8h0M189.7 167.1h0M192.9 167.6h0M196.2 167.9h0M199.4 168.3h0M202.6 168.7h0M205.9 169h0M215.9 170.1h0M112.2 161.6h0M115.4 162.1h0M118.8 162.3h0M122 162.8h0M161.4 167.2h0M164.6 167.7h0M204 172.1h0"/><path stroke="#0024ff" d="M94.8 139.8h0M98 140.2h0M101.2 140.4h0M167 147.9h0M99.3 143.5h0M102.6 143.9h0M148.4 149.1h0M113.6 148.5h0M153.1 153.1h0M156.4 153.5h0M111.6 151.6h0M124.8 153.1h0M131.4 153.8h0M134.6 154.3h0M200.3 161.7h0M203.4 162h0M206.8 162.5h0M216.6 163.5h0M90.1 152.5h0M93.2 152.8h0M96.5 153.3h0M119.6 155.7h0M129.3 157h0M132.7 157.3h0M168.7 161.4h0M171.9 161.8h0M201.5 165.2h0M214.7 166.6h0M101 157h0M137.1 161.1h0M150.3 162.6h0M153.5 163h0M173.1 165.2h0M176.4 165.7h0M179.8 166h0M209.2 169.5h0M99.1 160.1h0M102.4 160.6h0M109 161.2h0M125.4 163h0M141.7 165h0"/><path stroke="#0038ff" d="M195.1 147.8h0M198.4 148.3h0M170.2 148.4h0M92.7 142.7h0M95.9 143.2h0M128.7 146.8h0M149.8 152.7h0M114.9 152h0M118.2 152.3h0M121.4 152.8h0M128.1 153.5h0M122.8 156.1h0M139.2 158.1h0M142.5 158.4h0M178.5 162.6h0M204.8 165.6h0M211.2 166.3h0M124.1 159.6h0M130.6 160.3h0M133.9 160.8h0M140.4 161.6h0M128.6 163.5h0M148.2 165.8h0M151.5 166.2h0M158.1 166.8h0"/><path stroke="#004dff" d="M103.3 137.5h0M105.8 144.4h0M118.9 145.8h0M125.5 146.6h0M125.9 156.6h0M127.4 160.1h0M105.6 160.8h0M131.9 164h0M135.2 164.3h0M138.3 164.7h0M145 165.4h0"/><path stroke="#0061ff" d="M106.6 137.7h0M104.7 140.8h0M87.4 145.5h0M154.8 166.5h0"/><path stroke="#0075ff" d="M185.4 146.8h0M157.1 146.8h0M160.3 147.2h0"/><path stroke="#008aff" d="M122.3 146.1h0"/><path stroke="#009eff" d="M188.5 147h0M191.8 147.4h0"/><path stroke="#00b2ff" d="M178.8 145.9h0"/><path stroke="#00c7ff" d="M175.4 145.5h0"/><path stroke="#00dbff" d="M181.9 146.3h0M107.9 141.3h0M115.8 145.5h0"/><path stroke="#00f0ff" d="M126.2 139.9h0M172.2 145.2h0M147.2 145.6h0"/><path stroke="#05fffa" d="M168.9 144.8h0M134 144.2h0M109.1 144.6h0M112.5 145h0"/><path stroke="#1affe5" d="M139.3 141.4h0M130.8 143.8h0M153.7 146.4h0"/><path stroke="#2effd1" d="M119.7 139.3h0M129.5 140.4h0M132.9 140.7h0M140.6 144.9h0"/><path stroke="#ffc700" d="M152.5 142.9h0M155.7 143.4h0"/><path stroke="#42ffbd" d="M137.4 144.5h0M144 145.4h0M150.5 146h0"/><path stroke="#57ffa8" d="M110 138.2h0M113.1 138.5h0M120.9 142.8h0"/><path stroke="#fff000" d="M149.2 142.6h0M159 143.7h0"/><path stroke="#6bff94" d="M116.4 138.9h0M165.7 144.4h0M124.3 143.1h0M127.5 143.5h0"/><path stroke="#faff05" d="M142.6 142h0M146 142.2h0"/><path stroke="#80ff80" d="M123 139.6h0M136 141.2h0M114.4 142h0"/><path stroke="#e5ff1a" d="M162.3 144h0"/><path stroke="#94ff6b" d="M111.1 141.6h0"/><path stroke="#a8ff57" d="M117.7 142.3h0"/><path stroke="#000080" d="M79.1 174.4h0M82.5 174.8h0M80.5 178h0M87 178.7h0M88.3 182.2h0"/><path stroke="#000094" d="M88.5 165.5h0M89.8 169.1h0M77.9 171.1h0M81.1 171.4h0M87.6 172.2h0M85.8 175.2h0M83.6 178.4h0M78.4 181h0M84.9 181.8h0"/><path stroke="#0000a8" d="M78.6 164.4h0M91.7 165.9h0M79.8 167.8h0M83.1 168.2h0M86.4 168.8h0M84.5 171.8h0M75.9 174.1h0M134.9 180.9h0M77.2 177.5h0M90.2 179h0M79.7 184.4h0M86.1 185.3h0M99.3 186.7h0"/><path stroke="#0000bd" d="M80.6 161.4h0M83.9 161.8h0M87.2 162.1h0M90.4 162.5h0M81.9 164.8h0M85.2 165.2h0M76.7 167.5h0M175 178.8h0M178.4 179.1h0M184.9 179.9h0M188.1 180.2h0M199.1 184.9h0M89 175.7h0M149.3 185.8h0M75.1 180.6h0M81.8 181.4h0M91.5 182.5h0M150.5 189.2h0M153.8 189.7h0M76.3 184.1h0M83 184.9h0M92.7 186h0M96 186.4h0M155.1 193.1h0M158.4 193.5h0M161.6 193.9h0M164.9 194.2h0"/><path stroke="#0000d1" d="M77.4 161h0M97.1 163.2h0M173.7 175.2h0M180.3 176h0M183.5 176.4h0M186.8 176.8h0M181.6 179.4h0M191.4 180.6h0M120.5 175.9h0M153.4 179.6h0M182.9 183h0M186.1 183.4h0M128.4 180h0M131.6 180.5h0M138.2 181.1h0M144.7 182h0M148 182.3h0M151.2 182.7h0M154.6 183h0M161.1 183.8h0M164.5 184.1h0M142.7 185.1h0M152.5 186.2h0M155.9 186.6h0M94.8 183h0M160.4 190.4h0M163.7 190.8h0M206.3 195.5h0M89.5 185.6h0M151.7 192.7h0M168.2 194.7h0"/><path stroke="#0000e6" d="M93.8 162.9h0M175.7 172.1h0M179.1 172.6h0M185.6 173.3h0M198.6 174.8h0M95 166.3h0M101.7 167h0M167.2 174.5h0M176.9 175.7h0M190 177.1h0M193.5 177.5h0M168.4 178.1h0M194.7 181.1h0M197.9 181.4h0M201.2 181.8h0M207.7 182.5h0M117.3 175.5h0M123.8 176.2h0M127 176.7h0M133.6 177.3h0M137 177.6h0M146.7 178.8h0M149.9 179.3h0M159.8 180.4h0M179.4 182.5h0M189.4 183.6h0M192.7 184.1h0M195.9 184.4h0M141.5 181.6h0M157.8 183.4h0M167.6 184.6h0M180.8 186.1h0M139.4 184.7h0M146 185.5h0M188.7 190.2h0M205.1 192.2h0M157 190h0M167 191.1h0M199.8 194.9h0M102.7 187.1h0M171.4 194.9h0"/><path stroke="#0000fa" d="M100.3 163.5h0M169.2 171.5h0M172.6 171.8h0M182.2 172.9h0M188.9 173.7h0M192.1 174.1h0M195.4 174.4h0M202.1 175.1h0M98.4 166.7h0M104.9 167.3h0M111.5 168.2h0M170.5 174.8h0M203.2 178.6h0M93 169.3h0M115.9 172.1h0M138.9 174.7h0M171.8 178.3h0M204.5 182.2h0M91 172.4h0M130.3 177h0M140.1 178.2h0M156.5 180h0M166.5 181h0M173 181.8h0M176.3 182.3h0M202.4 185.3h0M171 185h0M174.1 185.3h0M177.4 185.6h0M184.1 186.4h0M190.7 187.1h0M193.9 187.6h0M197.3 187.9h0M203.7 188.6h0M136.2 184.2h0M159.1 186.9h0M162.3 187.3h0M169 188.1h0M172.3 188.4h0M175.5 188.8h0M178.8 189.2h0M195.2 191h0M208.4 192.6h0M203 195.3h0M204.3 198.7h0M207.5 199h0"/><path stroke="#000fff" d="M126.6 166.5h0M165.9 171h0M205.2 175.6h0M208.5 175.9h0M108.2 167.7h0M121.4 169.3h0M124.6 169.7h0M164 174.2h0M196.6 177.9h0M200 178.3h0M206.6 179h0M106 170.9h0M109.4 171.3h0M112.7 171.7h0M122.5 172.7h0M125.8 173.1h0M129.1 173.5h0M142.2 175h0M161.9 177.3h0M143.4 178.4h0M163.1 180.7h0M169.8 181.5h0M205.8 185.6h0M209.1 185.9h0M187.3 186.8h0M200.5 188.3h0M207 189h0M165.7 187.6h0M198.4 191.3h0M201.8 191.8h0M147.3 188.8h0M170.2 191.5h0M193.2 194.1h0M196.5 194.5h0M174.8 195.4h0M197.8 197.9h0M201 198.2h0"/><path stroke="#0024ff" d="M103.7 164h0M106.8 164.4h0M110.1 164.7h0M120.1 165.9h0M123.3 166.2h0M162.7 170.7h0M211.8 176.4h0M114.7 168.6h0M117.9 169h0M127.8 170.1h0M131 170.5h0M160.6 173.7h0M209.7 179.4h0M102.8 170.4h0M119.3 172.3h0M132.4 174h0M135.7 174.2h0M148.7 175.8h0M155.4 176.5h0M165.2 177.6h0M211 182.8h0M114 175.1h0M121.8 179.3h0M125.1 179.7h0M210.4 189.4h0M182 189.6h0M185.4 190h0M191.9 190.7h0M144 188.6h0M176.8 192.3h0M186.6 193.5h0M189.8 193.8h0M105.8 187.5h0M178 195.8h0M181.3 196h0"/><path stroke="#0038ff" d="M113.3 165h0M116.8 165.5h0M129.9 166.9h0M133.1 167.4h0M159.3 170.3h0M134.3 170.9h0M141 171.6h0M147.5 172.2h0M145.5 175.3h0M152.1 176.2h0M158.5 176.9h0M132.8 183.9h0M98.1 183.3h0M101.4 183.7h0M173.5 192h0M180.1 192.6h0M183.3 193.1h0M109.2 187.9h0M194.4 197.6h0"/><path stroke="#004dff" d="M136.3 167.8h0M139.6 168h0M143 168.5h0M149.5 169.2h0M156 170h0M137.7 171.3h0M144.3 171.9h0M150.8 172.7h0M140.7 188.2h0M184.7 196.6h0M187.9 196.9h0M191.1 197.2h0"/><path stroke="#0061ff" d="M146.3 168.8h0M152.9 169.6h0M154 173.1h0M96.3 169.8h0M99.5 170.1h0M92.2 176.1h0M93.6 179.5h0M148.5 192.3h0"/><path stroke="#0075ff" d="M157.4 173.4h0M110.7 174.7h0M96.8 179.7h0"/><path stroke="#008aff" d="M129.7 183.6h0M104.6 184.1h0"/><path stroke="#009eff" d="M94.4 172.9h0M107.3 174.4h0M95.5 176.3h0M98.8 176.8h0M118.5 178.9h0M103.4 180.5h0M107.9 184.3h0M134.2 187.3h0M137.5 187.7h0M112.6 188.3h0"/><path stroke="#00b2ff" d="M106.7 180.9h0M111.2 184.8h0M114.5 185.2h0M115.8 188.5h0M119 189h0M132.1 190.4h0M135.3 191h0M138.7 191.1h0M141.9 191.6h0M145.2 192h0"/><path stroke="#00c7ff" d="M100.1 180.2h0M126.3 183.3h0M117.7 185.4h0M127.5 186.6h0M130.9 187.1h0M125.6 189.8h0M128.9 190h0"/><path stroke="#00dbff" d="M104.1 174h0M102.1 177h0M113.2 181.8h0M121 185.8h0M124.2 186.4h0M122.3 189.3h0"/><path stroke="#00f0ff" d="M97.5 173.2h0M100.8 173.6h0M105.4 177.4h0M115.2 178.7h0M110 181.3h0M122.9 182.8h0"/><path stroke="#05fffa" d="M108.7 177.9h0M112 178.3h0M119.8 182.5h0"/><path stroke="#1affe5" d="M116.4 182.1h0"/><path stroke="#000094" d="M80.9 188h0"/><path stroke="#0000a8" d="M77.6 187.5h0M166.1 197.8h0M174.1 201.9h0M74.2 203.9h0M72.1 207h0"/><path stroke="#0000bd" d="M74.5 187.2h0M84.2 188.3h0M162.9 197.2h0M169.5 198.1h0M78.9 191h0M82.3 191.4h0M177.3 202.2h0M76.9 194.2h0M80.2 194.6h0M86.8 195.2h0M152.4 202.7h0M155.7 203.2h0M178.6 205.7h0M160.2 206.9h0M163.5 207.4h0M173.2 208.4h0M176.6 208.9h0M179.9 209.1h0M75.5 207.3h0"/><path stroke="#0000d1" d="M94.1 189.5h0M104 190.7h0M107.3 191h0M156.3 196.6h0M159.6 197h0M176.1 198.8h0M75.7 190.8h0M85.5 191.9h0M154.4 199.7h0M157.5 200h0M161 200.5h0M167.5 201.2h0M170.7 201.6h0M73.5 193.8h0M83.4 195h0M158.8 203.5h0M168.8 204.6h0M175.3 205.3h0M181.9 206.2h0M185.1 206.4h0M188.3 206.9h0M198.2 207.9h0M201.6 208.4h0M81.5 197.9h0M150.2 205.8h0M153.6 206.3h0M166.8 207.7h0M170 208.1h0M72.9 200.4h0M76.1 200.8h0"/><path stroke="#0000e6" d="M100.6 190.3h0M110.5 191.4h0M113.7 191.6h0M153 196.2h0M172.8 198.4h0M202.2 201.9h0M205.6 202.1h0M92.1 192.6h0M190.4 203.8h0M200.3 205h0M203.5 205.3h0M149.1 202.3h0M162.1 203.9h0M191.7 207.3h0M195 207.7h0M74.9 197.2h0M78.2 197.6h0M147.1 205.4h0M156.8 206.7h0M148.2 208.9h0M151.5 209.3h0M77.4 204.2h0"/><path stroke="#0000fa" d="M87.5 188.6h0M90.8 189h0M179.4 199.1h0M182.7 199.6h0M88.8 192.3h0M95.4 192.9h0M151 199.3h0M164.1 200.8h0M180.5 202.7h0M187.1 203.5h0M196.9 204.6h0M165.4 204.2h0M171.9 205h0M84.8 198.4h0M143.7 205h0M141.7 208.3h0M144.9 208.6h0"/><path stroke="#000fff" d="M97.3 189.9h0M198.9 201.3h0M183.8 203h0M90 195.5h0M140.5 204.7h0M79.4 201h0"/><path stroke="#0024ff" d="M189.2 200.2h0M192.5 200.6h0M195.7 201h0M98.6 193.3h0M101.8 193.7h0M105.2 194h0M108.4 194.4h0M193.8 204.2h0"/><path stroke="#0038ff" d="M117 192.1h0M149.8 195.9h0M185.8 200h0M114.9 195.2h0M121.6 196h0M124.9 196.2h0M145.8 202.1h0M137.2 204.3h0"/><path stroke="#004dff" d="M93.3 196.1h0"/><path stroke="#0061ff" d="M111.7 194.9h0M118.3 195.5h0M131.4 197h0M135.8 200.9h0M139.3 201.3h0M142.4 201.6h0M78.7 207.7h0"/><path stroke="#0075ff" d="M120.4 192.4h0M128.1 196.6h0M147.9 198.9h0M132.7 200.5h0M138.5 207.8h0"/><path stroke="#008aff" d="M96.6 196.4h0"/><path stroke="#009eff" d="M123.5 192.7h0M129.3 200.2h0M88.1 198.8h0M82.7 201.5h0"/><path stroke="#00b2ff" d="M126.8 193.2h0M136.8 194.3h0M143.1 195.1h0M134.7 197.3h0M144.5 198.6h0M134 204h0M80.6 204.6h0"/><path stroke="#00c7ff" d="M130 193.5h0M133.4 193.9h0M139.9 194.7h0M146.5 195.5h0M138 197.8h0M141.2 198.1h0M135.2 207.4h0M82.1 208h0"/><path stroke="#05fffa" d="M91.2 199h0"/><path stroke="#ff9e00" d="M114.3 201.7h0"/><path stroke="#1affe5" d="M99.9 196.8h0M122.8 199.5h0M86.1 201.8h0"/><path stroke="#ffb300" d="M104.3 200.6h0M107.7 201.1h0M110.9 201.3h0M95.9 203h0M122.2 206h0M125.4 206.4h0"/><path stroke="#2effd1" d="M126.1 199.8h0"/><path stroke="#ffc700" d="M117.5 202.1h0M120.8 202.4h0M102.3 203.6h0M115.5 205.1h0M118.8 205.6h0M90.5 205.8h0M93.8 206h0M100.3 206.8h0M110.1 207.8h0"/><path stroke="#42ffbd" d="M106.4 197.5h0M130.6 203.7h0M83.9 205h0"/><path stroke="#ffdb00" d="M101.1 200.2h0M124.1 202.9h0M99.2 203.3h0M105.6 204.2h0M109 204.5h0M112.3 204.9h0M97 206.4h0M103.7 207.1h0M106.9 207.6h0M113.5 208.3h0M120.1 209h0M123.3 209.3h0"/><path stroke="#57ffa8" d="M103.2 197.2h0M132 207h0"/><path stroke="#fff000" d="M97.8 199.8h0M92.6 202.6h0M116.8 208.6h0M91.8 209.2h0"/><path stroke="#6bff94" d="M119.6 199h0"/><path stroke="#80ff80" d="M113.1 198.2h0M94.6 199.4h0M85.2 208.5h0"/><path stroke="#e5ff1a" d="M116.3 198.6h0M128.7 206.8h0M87.2 205.3h0"/><path stroke="#94ff6b" d="M89.3 202.2h0"/><path stroke="#bdff42" d="M109.6 197.8h0M127.3 203.2h0M88.6 208.7h0"/></g><g fill="none" stroke-linecap="round" stroke-width="6.6"><path stroke="#000094" d="M69.9 210.9h0"/><path stroke="#0000a8" d="M74.5 210.9h0M70.5 206.3h0M74.3 174.4h0M74.9 169.9h0"/><path stroke="#0000bd" d="M164.1 1.1h0M168.7 1.1h0M173.3 1.1h0M177.8 1.1h0M182.4 1.1h0M187 1.1h0M176.5 210.9h0M171.9 210.9h0M71 201.8h0M72.7 188.1h0M73.2 183.5h0M73.8 179h0M75.4 165.3h0M76 160.7h0M76.6 156.2h0"/><path stroke="#0000d1" d="M159.5 1.1h0M191.6 1.1h0M196.2 1.1h0M200.7 1.1h0M205.3 1.1h0M209.9 1.1h0M208.4 197.8h0M207 202.2h0M204.3 210.9h0M199.7 210.9h0M185.8 210.9h0M181.1 210.9h0M167.2 210.9h0M162.6 210.9h0M158 210.9h0M153.3 210.9h0M77.1 151.6h0M90.4 42.1h0"/><path stroke="#0000e6" d="M214.5 1.1h0M232.8 23.9h0M232.8 28.4h0M232.8 92.2h0M205.7 206.5h0M195 210.9h0M190.4 210.9h0M148.7 210.9h0M71.6 197.2h0M72.1 192.7h0M91 37.6h0"/><path stroke="#0000fa" d="M154.9 1.1h0M219.1 1.1h0M223.6 1.1h0M223.3 150h0M216.5 171.7h0M144.1 210.9h0M79.2 210.9h0M88.7 55.8h0M89.3 51.3h0"/><path stroke="#000fff" d="M232.8 87.6h0M221.9 154.3h0M215.2 176.1h0M212.4 184.8h0M211.1 189.1h0M209.7 193.5h0M139.4 210.9h0M89.9 46.7h0M91.5 33h0"/><path stroke="#0024ff" d="M232.8 42.1h0M232.8 46.6h0M232.8 96.7h0M220.6 158.7h0M219.2 163h0M217.9 167.4h0M213.8 180.4h0M88.2 60.4h0"/><path stroke="#0038ff" d="M150.4 1.1h0M232.8 33h0M232.8 51.2h0M86.5 74.1h0M92.1 28.5h0"/><path stroke="#004dff" d="M145.8 1.1h0M232.8 37.5h0M232.8 55.7h0M232.8 60.3h0M232.8 83.1h0M232.8 101.3h0M87.6 65h0"/><path stroke="#0061ff" d="M141.2 1.1h0M228.2 1.1h0M232.8 19.3h0M232.8 78.5h0M87.1 69.5h0"/><path stroke="#0075ff" d="M232.8 64.9h0M232.8 74h0M134.8 210.9h0"/><path stroke="#009eff" d="M232.8 69.4h0"/><path stroke="#00b2ff" d="M224.7 145.6h0M83.8 210.9h0M92.6 23.9h0M93.7 14.8h0"/><path stroke="#00dbff" d="M232.8 14.8h0M93.2 19.3h0M94.3 10.2h0"/><path stroke="#00f0ff" d="M136.6 1.1h0M227.4 136.9h0M226 141.3h0"/><path stroke="#05fffa" d="M94.8 5.7h0"/><path stroke="#1affe5" d="M130.1 210.9h0"/><path stroke="#2effd1" d="M95.4 1.1h0M113.7 1.1h0M118.3 1.1h0M122.9 1.1h0M232.8 10.2h0M228.7 132.6h0"/><path stroke="#ffc700" d="M116.2 210.9h0M111.6 210.9h0M107 210.9h0M102.3 210.9h0"/><path stroke="#42ffbd" d="M100 1.1h0M104.6 1.1h0M109.1 1.1h0M232.8 5.7h0"/><path stroke="#ffdb00" d="M132 1.1h0M97.7 210.9h0"/><path stroke="#57ffa8" d="M232.8 1.1h0M88.4 210.9h0"/><path stroke="#fff000" d="M232.8 119.5h0M231.4 123.9h0M120.9 210.9h0"/><path stroke="#faff05" d="M230.1 128.2h0M93.1 210.9h0"/><path stroke="#94ff6b" d="M125.5 210.9h0"/><path stroke="#a8ff57" d="M127.5 1.1h0"/><path stroke="#0000e6" d="M206.5 92.6h0"/><path stroke="#000fff" d="M114.6 82.2h0"/><path stroke="#0024ff" d="M110.1 78.3h0"/><path stroke="#0024ff" d="M197.1 101.7h0"/><path stroke="#00f0ff" d="M111.4 125h0"/><path stroke="#0038ff" d="M100 137h0"/><path stroke="#0061ff" d="M89.5 142.4h0"/><path stroke="#0000fa" d="M91.8 85.4h0"/><path stroke="#00b2ff" d="M142.2 111.6h0"/><path stroke="#00f0ff" d="M125.4 114.6h0M137.7 97.4h0"/><path stroke="#05fffa" d="M86.2 94.7h0M90.6 95.1h0M143 99.6h0"/><path stroke="#1affe5" d="M146.7 97h0M93.6 141.5h0"/><path stroke="#42ffbd" d="M92.9 120.9h0"/></g>
<g clip-path="url(#fc)"><use href="#st" transform="translate(0.5,0.6)" fill="none" stroke="#000" stroke-width="2.3" stroke-linejoin="round" stroke-linecap="round"/></g>
</g>
<rect x="1285.3" y="484.7" width="23.6" height="216.6" fill="url(#jet)" stroke="#3a1010" stroke-width="0.7"/>
<path d="M1308.9 593.0h-2.4" stroke="#262626" stroke-width="0.8"/>
<text class="cb" x="1317.2" y="493.0">100</text><text class="cb" x="1317.2" y="600.0">50</text><text class="cb" x="1317.2" y="707.0">0</text>
<text class="tk" x="988.0" y="502.7">48<tspan class="dg" dx="1.6" dy="-6.9">°</tspan><tspan dx="4.9" dy="6.9">N</tspan></text><text class="tk" x="988.0" y="520.7">46<tspan class="dg" dx="1.6" dy="-6.9">°</tspan><tspan dx="4.9" dy="6.9">N</tspan></text><text class="tk" x="988.0" y="537.8">44<tspan class="dg" dx="1.6" dy="-6.9">°</tspan><tspan dx="4.9" dy="6.9">N</tspan></text><text class="tk" x="988.0" y="556.8">42<tspan class="dg" dx="1.6" dy="-6.9">°</tspan><tspan dx="4.9" dy="6.9">N</tspan></text><text class="tk" x="988.0" y="572.5">40<tspan class="dg" dx="1.6" dy="-6.9">°</tspan><tspan dx="4.9" dy="6.9">N</tspan></text><text class="tk" x="988.0" y="587.6">38<tspan class="dg" dx="1.6" dy="-6.9">°</tspan><tspan dx="4.9" dy="6.9">N</tspan></text><text class="tk" x="988.0" y="604.4">36<tspan class="dg" dx="1.6" dy="-6.9">°</tspan><tspan dx="4.9" dy="6.9">N</tspan></text><text class="tk" x="988.0" y="618.9">34<tspan class="dg" dx="1.6" dy="-6.9">°</tspan><tspan dx="4.9" dy="6.9">N</tspan></text><text class="tk" x="988.0" y="635.6">32<tspan class="dg" dx="1.6" dy="-6.9">°</tspan><tspan dx="4.9" dy="6.9">N</tspan></text><text class="tk" x="988.0" y="649.7">30<tspan class="dg" dx="1.6" dy="-6.9">°</tspan><tspan dx="4.9" dy="6.9">N</tspan></text><text class="tk" x="988.0" y="662.8">28<tspan class="dg" dx="1.6" dy="-6.9">°</tspan><tspan dx="4.9" dy="6.9">N</tspan></text><text class="tk" x="988.0" y="677.8">26<tspan class="dg" dx="1.6" dy="-6.9">°</tspan><tspan dx="4.9" dy="6.9">N</tspan></text><text class="tk" x="988.0" y="692.0">24<tspan class="dg" dx="1.6" dy="-6.9">°</tspan><tspan dx="4.9" dy="6.9">N</tspan></text><text class="tk" x="988.0" y="704.9">22<tspan class="dg" dx="1.6" dy="-6.9">°</tspan><tspan dx="4.9" dy="6.9">N</tspan></text>
<text class="tk" x="1084.0" y="464.4" text-anchor="middle">100<tspan class="dg" dx="1.6" dy="-6.9">°</tspan><tspan dx="4.6" dy="6.9">W</tspan></text><text class="tk" x="1149.2" y="464.4" text-anchor="middle">90<tspan class="dg" dx="1.6" dy="-6.9">°</tspan><tspan dx="4.6" dy="6.9">W</tspan></text><text class="tk" x="1213.0" y="464.4" text-anchor="middle">80<tspan class="dg" dx="1.6" dy="-6.9">°</tspan><tspan dx="4.6" dy="6.9">W</tspan></text><text class="tk" x="1276.4" y="464.4" text-anchor="middle">70<tspan class="dg" dx="1.6" dy="-6.9">°</tspan><tspan dx="4.6" dy="6.9">W</tspan></text>
<text class="tt" x="981.6" y="732.0" textLength="337" lengthAdjust="spacing">SAT 400 hPa RH (Percent)</text>
</svg>
</body></html>
